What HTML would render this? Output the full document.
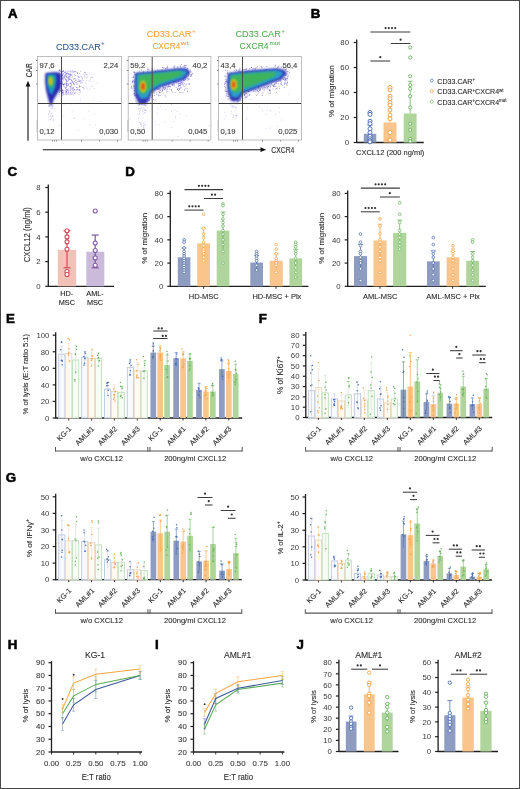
<!DOCTYPE html>
<html><head><meta charset="utf-8"><style>
html,body{margin:0;padding:0;background:#fff;width:520px;height:789px;overflow:hidden}
svg{display:block;font-family:"Liberation Sans", sans-serif;will-change:transform}
</style></head><body>
<svg width="520" height="789" viewBox="0 0 520 789">
<rect width="520" height="789" fill="#fff"/>
<rect x="0.50" y="0.50" width="519.00" height="788.00" fill="none" stroke="#484848" stroke-width="1"/>
<text x="8.0" y="17.6" font-size="13.3" fill="#000" stroke="#000" stroke-width="0.55" font-weight="bold">A</text>
<text x="310.8" y="17.6" font-size="13.3" fill="#000" stroke="#000" stroke-width="0.55" font-weight="bold">B</text>
<text x="7.5" y="176.0" font-size="13.3" fill="#000" stroke="#000" stroke-width="0.55" font-weight="bold">C</text>
<text x="125.3" y="175.7" font-size="13.3" fill="#000" stroke="#000" stroke-width="0.55" font-weight="bold">D</text>
<text x="5.9" y="322.6" font-size="13.3" fill="#000" stroke="#000" stroke-width="0.55" font-weight="bold">E</text>
<text x="258.8" y="322.6" font-size="13.3" fill="#000" stroke="#000" stroke-width="0.55" font-weight="bold">F</text>
<text x="5.7" y="482.0" font-size="13.3" fill="#000" stroke="#000" stroke-width="0.55" font-weight="bold">G</text>
<text x="7.7" y="648.8" font-size="13.3" fill="#000" stroke="#000" stroke-width="0.55" font-weight="bold">H</text>
<text x="155.0" y="648.8" font-size="13.3" fill="#000" stroke="#000" stroke-width="0.55" font-weight="bold">I</text>
<text x="296.6" y="648.5" font-size="13.3" fill="#000" stroke="#000" stroke-width="0.55" font-weight="bold">J</text>
<rect x="37.50" y="56.50" width="83.90" height="83.50" fill="#fff" stroke="none" stroke-width="0.8"/>
<rect x="128.20" y="56.50" width="82.70" height="83.50" fill="#fff" stroke="none" stroke-width="0.8"/>
<rect x="218.50" y="56.50" width="82.90" height="83.50" fill="#fff" stroke="none" stroke-width="0.8"/>

<defs>
<filter id="blur1" x="-50%" y="-50%" width="200%" height="200%"><feGaussianBlur stdDeviation="1.6"/></filter>
<filter id="blur2" x="-50%" y="-50%" width="200%" height="200%"><feGaussianBlur stdDeviation="0.9"/></filter>
<filter id="blur3" x="-50%" y="-50%" width="200%" height="200%"><feGaussianBlur stdDeviation="3"/></filter>
</defs>
<clipPath id="clipA0"><rect x="37.5" y="56.5" width="83.9" height="83.5"/></clipPath>
<clipPath id="clipA1"><rect x="128.2" y="56.5" width="82.7" height="83.5"/></clipPath>
<clipPath id="clipA2"><rect x="218.5" y="56.5" width="82.9" height="83.5"/></clipPath>
<g clip-path="url(#clipA0)">
<circle cx="68.3" cy="84.2" r="0.5" fill="#6050c8" opacity="0.55"/>
<circle cx="59.5" cy="92.4" r="0.5" fill="#3a2ab0" opacity="0.55"/>
<circle cx="64.9" cy="86.8" r="0.5" fill="#3a2ab0" opacity="0.55"/>
<circle cx="79.4" cy="89.8" r="0.5" fill="#6050c8" opacity="0.55"/>
<circle cx="61.5" cy="90.2" r="0.5" fill="#3a2ab0" opacity="0.55"/>
<circle cx="77.4" cy="89.1" r="0.5" fill="#6050c8" opacity="0.55"/>
<circle cx="90.2" cy="81.4" r="0.5" fill="#9890dc" opacity="0.55"/>
<circle cx="74.0" cy="78.8" r="0.5" fill="#6050c8" opacity="0.55"/>
<circle cx="85.2" cy="73.6" r="0.5" fill="#9890dc" opacity="0.55"/>
<circle cx="86.8" cy="74.9" r="0.5" fill="#9890dc" opacity="0.55"/>
<circle cx="70.5" cy="90.5" r="0.5" fill="#6050c8" opacity="0.55"/>
<circle cx="87.0" cy="78.3" r="0.5" fill="#9890dc" opacity="0.55"/>
<circle cx="97.2" cy="83.2" r="0.5" fill="#9890dc" opacity="0.55"/>
<circle cx="71.1" cy="71.2" r="0.5" fill="#6050c8" opacity="0.55"/>
<circle cx="60.2" cy="74.5" r="0.5" fill="#3a2ab0" opacity="0.55"/>
<circle cx="92.8" cy="77.8" r="0.5" fill="#9890dc" opacity="0.55"/>
<circle cx="79.3" cy="87.0" r="0.5" fill="#6050c8" opacity="0.55"/>
<circle cx="80.8" cy="86.4" r="0.5" fill="#9890dc" opacity="0.55"/>
<circle cx="78.8" cy="81.1" r="0.5" fill="#6050c8" opacity="0.55"/>
<circle cx="68.3" cy="77.4" r="0.5" fill="#6050c8" opacity="0.55"/>
<circle cx="72.8" cy="88.8" r="0.5" fill="#6050c8" opacity="0.55"/>
<circle cx="59.9" cy="70.7" r="0.5" fill="#3a2ab0" opacity="0.55"/>
<circle cx="71.2" cy="79.3" r="0.5" fill="#6050c8" opacity="0.55"/>
<circle cx="70.7" cy="79.6" r="0.5" fill="#6050c8" opacity="0.55"/>
<circle cx="60.0" cy="84.9" r="0.5" fill="#3a2ab0" opacity="0.55"/>
<circle cx="71.1" cy="75.2" r="0.5" fill="#6050c8" opacity="0.55"/>
<circle cx="68.3" cy="74.2" r="0.5" fill="#6050c8" opacity="0.55"/>
<circle cx="72.0" cy="92.3" r="0.5" fill="#6050c8" opacity="0.55"/>
<circle cx="67.8" cy="72.4" r="0.5" fill="#6050c8" opacity="0.55"/>
<circle cx="66.4" cy="91.6" r="0.5" fill="#3a2ab0" opacity="0.55"/>
<circle cx="66.2" cy="76.8" r="0.5" fill="#3a2ab0" opacity="0.55"/>
<circle cx="64.1" cy="77.2" r="0.5" fill="#3a2ab0" opacity="0.55"/>
<circle cx="69.6" cy="78.7" r="0.5" fill="#6050c8" opacity="0.55"/>
<circle cx="75.4" cy="80.5" r="0.5" fill="#6050c8" opacity="0.55"/>
<circle cx="67.9" cy="70.9" r="0.5" fill="#6050c8" opacity="0.55"/>
<circle cx="94.2" cy="88.4" r="0.5" fill="#9890dc" opacity="0.55"/>
<circle cx="59.5" cy="89.9" r="0.5" fill="#3a2ab0" opacity="0.55"/>
<circle cx="70.7" cy="87.6" r="0.5" fill="#6050c8" opacity="0.55"/>
<circle cx="72.3" cy="76.1" r="0.5" fill="#6050c8" opacity="0.55"/>
<circle cx="66.7" cy="84.0" r="0.5" fill="#3a2ab0" opacity="0.55"/>
<circle cx="65.7" cy="91.2" r="0.5" fill="#3a2ab0" opacity="0.55"/>
<circle cx="69.6" cy="76.5" r="0.5" fill="#6050c8" opacity="0.55"/>
<circle cx="75.5" cy="82.2" r="0.5" fill="#6050c8" opacity="0.55"/>
<circle cx="59.1" cy="70.5" r="0.5" fill="#3a2ab0" opacity="0.55"/>
<circle cx="63.9" cy="70.9" r="0.5" fill="#3a2ab0" opacity="0.55"/>
<circle cx="62.1" cy="74.0" r="0.5" fill="#3a2ab0" opacity="0.55"/>
<circle cx="73.5" cy="82.9" r="0.5" fill="#6050c8" opacity="0.55"/>
<circle cx="68.6" cy="84.0" r="0.5" fill="#6050c8" opacity="0.55"/>
<circle cx="61.8" cy="80.9" r="0.5" fill="#3a2ab0" opacity="0.55"/>
<circle cx="77.1" cy="72.4" r="0.5" fill="#6050c8" opacity="0.55"/>
<circle cx="62.6" cy="71.8" r="0.5" fill="#3a2ab0" opacity="0.55"/>
<circle cx="63.7" cy="92.6" r="0.5" fill="#3a2ab0" opacity="0.55"/>
<circle cx="71.6" cy="84.8" r="0.5" fill="#6050c8" opacity="0.55"/>
<circle cx="75.3" cy="71.3" r="0.5" fill="#6050c8" opacity="0.55"/>
<circle cx="65.3" cy="88.3" r="0.5" fill="#3a2ab0" opacity="0.55"/>
<circle cx="62.7" cy="89.9" r="0.5" fill="#3a2ab0" opacity="0.55"/>
<circle cx="79.2" cy="81.4" r="0.5" fill="#6050c8" opacity="0.55"/>
<circle cx="86.5" cy="80.6" r="0.5" fill="#9890dc" opacity="0.55"/>
<circle cx="59.9" cy="82.4" r="0.5" fill="#3a2ab0" opacity="0.55"/>
<circle cx="65.7" cy="79.1" r="0.5" fill="#3a2ab0" opacity="0.55"/>
<circle cx="89.2" cy="73.0" r="0.5" fill="#9890dc" opacity="0.55"/>
<circle cx="77.8" cy="89.2" r="0.5" fill="#6050c8" opacity="0.55"/>
<circle cx="74.6" cy="89.5" r="0.5" fill="#6050c8" opacity="0.55"/>
<circle cx="87.0" cy="87.9" r="0.5" fill="#9890dc" opacity="0.55"/>
<circle cx="69.1" cy="74.2" r="0.5" fill="#6050c8" opacity="0.55"/>
<circle cx="72.1" cy="81.2" r="0.5" fill="#6050c8" opacity="0.55"/>
<circle cx="67.2" cy="85.4" r="0.5" fill="#6050c8" opacity="0.55"/>
<circle cx="72.7" cy="89.1" r="0.5" fill="#6050c8" opacity="0.55"/>
<circle cx="81.1" cy="74.1" r="0.5" fill="#9890dc" opacity="0.55"/>
<circle cx="83.6" cy="74.0" r="0.5" fill="#9890dc" opacity="0.55"/>
<circle cx="84.6" cy="72.4" r="0.5" fill="#9890dc" opacity="0.55"/>
<circle cx="64.5" cy="78.3" r="0.5" fill="#3a2ab0" opacity="0.55"/>
<circle cx="61.7" cy="89.0" r="0.5" fill="#3a2ab0" opacity="0.55"/>
<circle cx="69.4" cy="79.7" r="0.5" fill="#6050c8" opacity="0.55"/>
<circle cx="60.6" cy="83.1" r="0.5" fill="#3a2ab0" opacity="0.55"/>
<circle cx="74.7" cy="84.2" r="0.5" fill="#6050c8" opacity="0.55"/>
<circle cx="66.4" cy="80.7" r="0.5" fill="#3a2ab0" opacity="0.55"/>
<circle cx="73.9" cy="84.5" r="0.5" fill="#6050c8" opacity="0.55"/>
<circle cx="70.7" cy="93.1" r="0.5" fill="#6050c8" opacity="0.55"/>
<circle cx="92.5" cy="85.8" r="0.5" fill="#9890dc" opacity="0.55"/>
<circle cx="66.8" cy="73.5" r="0.5" fill="#6050c8" opacity="0.55"/>
<circle cx="73.5" cy="83.8" r="0.5" fill="#6050c8" opacity="0.55"/>
<circle cx="63.3" cy="73.7" r="0.5" fill="#3a2ab0" opacity="0.55"/>
<circle cx="77.5" cy="73.6" r="0.5" fill="#6050c8" opacity="0.55"/>
<circle cx="87.4" cy="76.7" r="0.5" fill="#9890dc" opacity="0.55"/>
<circle cx="68.7" cy="76.4" r="0.5" fill="#6050c8" opacity="0.55"/>
<circle cx="70.9" cy="86.0" r="0.5" fill="#6050c8" opacity="0.55"/>
<circle cx="62.4" cy="77.2" r="0.5" fill="#3a2ab0" opacity="0.55"/>
<circle cx="63.5" cy="79.9" r="0.5" fill="#3a2ab0" opacity="0.55"/>
<circle cx="87.9" cy="89.6" r="0.5" fill="#9890dc" opacity="0.55"/>
<circle cx="75.2" cy="75.4" r="0.5" fill="#6050c8" opacity="0.55"/>
<circle cx="68.2" cy="92.6" r="0.5" fill="#6050c8" opacity="0.55"/>
<circle cx="63.3" cy="71.3" r="0.5" fill="#3a2ab0" opacity="0.55"/>
<circle cx="80.9" cy="80.7" r="0.5" fill="#9890dc" opacity="0.55"/>
<circle cx="62.3" cy="82.0" r="0.5" fill="#3a2ab0" opacity="0.55"/>
<circle cx="67.0" cy="84.1" r="0.5" fill="#6050c8" opacity="0.55"/>
<circle cx="62.3" cy="75.1" r="0.5" fill="#3a2ab0" opacity="0.55"/>
<circle cx="79.9" cy="80.7" r="0.5" fill="#6050c8" opacity="0.55"/>
<circle cx="89.2" cy="80.4" r="0.5" fill="#9890dc" opacity="0.55"/>
<circle cx="66.2" cy="71.7" r="0.5" fill="#3a2ab0" opacity="0.55"/>
<circle cx="70.5" cy="83.5" r="0.5" fill="#6050c8" opacity="0.55"/>
<circle cx="60.6" cy="89.9" r="0.5" fill="#3a2ab0" opacity="0.55"/>
<circle cx="75.9" cy="78.7" r="0.5" fill="#6050c8" opacity="0.55"/>
<circle cx="65.0" cy="90.4" r="0.5" fill="#3a2ab0" opacity="0.55"/>
<circle cx="77.1" cy="83.7" r="0.5" fill="#6050c8" opacity="0.55"/>
<circle cx="70.6" cy="75.8" r="0.5" fill="#6050c8" opacity="0.55"/>
<circle cx="59.4" cy="72.7" r="0.5" fill="#3a2ab0" opacity="0.55"/>
<circle cx="67.0" cy="90.6" r="0.5" fill="#6050c8" opacity="0.55"/>
<circle cx="68.6" cy="91.5" r="0.5" fill="#6050c8" opacity="0.55"/>
<circle cx="83.5" cy="87.9" r="0.5" fill="#9890dc" opacity="0.55"/>
<circle cx="65.7" cy="74.1" r="0.5" fill="#3a2ab0" opacity="0.55"/>
<circle cx="72.7" cy="81.7" r="0.5" fill="#6050c8" opacity="0.55"/>
<circle cx="71.3" cy="83.6" r="0.5" fill="#6050c8" opacity="0.55"/>
<circle cx="64.1" cy="76.0" r="0.5" fill="#3a2ab0" opacity="0.55"/>
<circle cx="62.1" cy="75.4" r="0.5" fill="#3a2ab0" opacity="0.55"/>
<circle cx="62.1" cy="83.7" r="0.5" fill="#3a2ab0" opacity="0.55"/>
<circle cx="59.2" cy="76.9" r="0.5" fill="#3a2ab0" opacity="0.55"/>
<circle cx="61.7" cy="76.5" r="0.5" fill="#3a2ab0" opacity="0.55"/>
<circle cx="94.3" cy="74.0" r="0.5" fill="#9890dc" opacity="0.55"/>
<circle cx="61.1" cy="90.3" r="0.5" fill="#3a2ab0" opacity="0.55"/>
<circle cx="66.4" cy="92.0" r="0.5" fill="#3a2ab0" opacity="0.55"/>
<circle cx="64.7" cy="72.6" r="0.5" fill="#3a2ab0" opacity="0.55"/>
<circle cx="68.6" cy="78.9" r="0.5" fill="#6050c8" opacity="0.55"/>
<circle cx="59.8" cy="78.7" r="0.5" fill="#3a2ab0" opacity="0.55"/>
<circle cx="84.2" cy="76.9" r="0.5" fill="#9890dc" opacity="0.55"/>
<circle cx="76.7" cy="82.4" r="0.5" fill="#6050c8" opacity="0.55"/>
<circle cx="75.6" cy="92.7" r="0.5" fill="#6050c8" opacity="0.55"/>
<circle cx="61.3" cy="92.9" r="0.5" fill="#3a2ab0" opacity="0.55"/>
<circle cx="70.7" cy="83.1" r="0.5" fill="#6050c8" opacity="0.55"/>
<circle cx="73.5" cy="87.2" r="0.5" fill="#6050c8" opacity="0.55"/>
<circle cx="62.2" cy="78.0" r="0.5" fill="#3a2ab0" opacity="0.55"/>
<circle cx="60.2" cy="84.1" r="0.5" fill="#3a2ab0" opacity="0.55"/>
<circle cx="79.8" cy="89.6" r="0.5" fill="#6050c8" opacity="0.55"/>
<circle cx="85.6" cy="72.4" r="0.5" fill="#9890dc" opacity="0.55"/>
<circle cx="73.8" cy="82.3" r="0.5" fill="#6050c8" opacity="0.55"/>
<circle cx="70.2" cy="74.3" r="0.5" fill="#6050c8" opacity="0.55"/>
<circle cx="66.2" cy="76.7" r="0.5" fill="#3a2ab0" opacity="0.55"/>
<circle cx="79.0" cy="81.1" r="0.5" fill="#6050c8" opacity="0.55"/>
<circle cx="76.2" cy="90.1" r="0.5" fill="#6050c8" opacity="0.55"/>
<circle cx="71.9" cy="80.7" r="0.5" fill="#6050c8" opacity="0.55"/>
<circle cx="62.3" cy="75.5" r="0.5" fill="#3a2ab0" opacity="0.55"/>
<circle cx="66.9" cy="77.4" r="0.5" fill="#6050c8" opacity="0.55"/>
<circle cx="64.2" cy="83.9" r="0.5" fill="#3a2ab0" opacity="0.55"/>
<circle cx="72.8" cy="90.5" r="0.5" fill="#6050c8" opacity="0.55"/>
<circle cx="61.3" cy="81.1" r="0.5" fill="#3a2ab0" opacity="0.55"/>
<circle cx="74.0" cy="92.8" r="0.5" fill="#6050c8" opacity="0.55"/>
<circle cx="61.2" cy="80.2" r="0.5" fill="#3a2ab0" opacity="0.55"/>
<circle cx="65.9" cy="76.0" r="0.5" fill="#3a2ab0" opacity="0.55"/>
<circle cx="67.6" cy="81.4" r="0.5" fill="#6050c8" opacity="0.55"/>
<circle cx="61.2" cy="91.0" r="0.5" fill="#3a2ab0" opacity="0.55"/>
<circle cx="62.6" cy="90.3" r="0.5" fill="#3a2ab0" opacity="0.55"/>
<circle cx="70.8" cy="94.0" r="0.5" fill="#6050c8" opacity="0.55"/>
<circle cx="63.3" cy="84.5" r="0.5" fill="#3a2ab0" opacity="0.55"/>
<circle cx="66.7" cy="80.4" r="0.5" fill="#3a2ab0" opacity="0.55"/>
<circle cx="63.2" cy="70.5" r="0.5" fill="#3a2ab0" opacity="0.55"/>
<circle cx="62.9" cy="84.1" r="0.5" fill="#3a2ab0" opacity="0.55"/>
<circle cx="61.6" cy="76.7" r="0.5" fill="#3a2ab0" opacity="0.55"/>
<circle cx="65.4" cy="87.7" r="0.5" fill="#3a2ab0" opacity="0.55"/>
<circle cx="78.8" cy="79.4" r="0.5" fill="#6050c8" opacity="0.55"/>
<circle cx="60.8" cy="73.8" r="0.5" fill="#3a2ab0" opacity="0.55"/>
<circle cx="67.2" cy="90.2" r="0.5" fill="#6050c8" opacity="0.55"/>
<circle cx="65.3" cy="72.8" r="0.5" fill="#3a2ab0" opacity="0.55"/>
<circle cx="62.2" cy="91.0" r="0.5" fill="#3a2ab0" opacity="0.55"/>
<circle cx="60.3" cy="83.5" r="0.5" fill="#3a2ab0" opacity="0.55"/>
<circle cx="71.3" cy="85.0" r="0.5" fill="#6050c8" opacity="0.55"/>
<circle cx="60.0" cy="78.5" r="0.5" fill="#3a2ab0" opacity="0.55"/>
<circle cx="81.2" cy="76.4" r="0.5" fill="#9890dc" opacity="0.55"/>
<circle cx="82.5" cy="87.5" r="0.5" fill="#9890dc" opacity="0.55"/>
<circle cx="61.5" cy="91.2" r="0.5" fill="#3a2ab0" opacity="0.55"/>
<circle cx="62.9" cy="94.9" r="0.5" fill="#3a2ab0" opacity="0.55"/>
<circle cx="77.7" cy="75.9" r="0.5" fill="#6050c8" opacity="0.55"/>
<circle cx="59.2" cy="88.8" r="0.5" fill="#3a2ab0" opacity="0.55"/>
<circle cx="70.9" cy="72.7" r="0.5" fill="#6050c8" opacity="0.55"/>
<circle cx="85.3" cy="83.3" r="0.5" fill="#9890dc" opacity="0.55"/>
<circle cx="59.2" cy="70.9" r="0.5" fill="#3a2ab0" opacity="0.55"/>
<circle cx="69.0" cy="79.0" r="0.5" fill="#6050c8" opacity="0.55"/>
<circle cx="68.3" cy="85.4" r="0.5" fill="#6050c8" opacity="0.55"/>
<circle cx="66.0" cy="83.0" r="0.5" fill="#3a2ab0" opacity="0.55"/>
<circle cx="66.7" cy="86.0" r="0.5" fill="#3a2ab0" opacity="0.55"/>
<circle cx="84.2" cy="89.0" r="0.5" fill="#9890dc" opacity="0.55"/>
<circle cx="66.6" cy="93.9" r="0.5" fill="#3a2ab0" opacity="0.55"/>
<circle cx="64.7" cy="75.0" r="0.5" fill="#3a2ab0" opacity="0.55"/>
<circle cx="78.8" cy="77.3" r="0.5" fill="#6050c8" opacity="0.55"/>
<circle cx="61.8" cy="76.0" r="0.5" fill="#3a2ab0" opacity="0.55"/>
<circle cx="69.4" cy="77.1" r="0.5" fill="#6050c8" opacity="0.55"/>
<circle cx="84.9" cy="72.0" r="0.5" fill="#9890dc" opacity="0.55"/>
<circle cx="74.5" cy="78.7" r="0.5" fill="#6050c8" opacity="0.55"/>
<circle cx="63.4" cy="77.9" r="0.5" fill="#3a2ab0" opacity="0.55"/>
<circle cx="65.6" cy="92.7" r="0.5" fill="#3a2ab0" opacity="0.55"/>
<circle cx="73.9" cy="83.4" r="0.5" fill="#6050c8" opacity="0.55"/>
<circle cx="59.4" cy="84.3" r="0.5" fill="#3a2ab0" opacity="0.55"/>
<circle cx="86.9" cy="74.2" r="0.5" fill="#9890dc" opacity="0.55"/>
<circle cx="80.1" cy="92.5" r="0.5" fill="#6050c8" opacity="0.55"/>
<circle cx="73.8" cy="72.0" r="0.5" fill="#6050c8" opacity="0.55"/>
<circle cx="76.6" cy="89.8" r="0.5" fill="#6050c8" opacity="0.55"/>
<circle cx="80.4" cy="71.3" r="0.5" fill="#6050c8" opacity="0.55"/>
<circle cx="62.6" cy="71.4" r="0.5" fill="#3a2ab0" opacity="0.55"/>
<circle cx="66.5" cy="84.0" r="0.5" fill="#3a2ab0" opacity="0.55"/>
<circle cx="85.1" cy="72.8" r="0.5" fill="#9890dc" opacity="0.55"/>
<circle cx="68.1" cy="73.6" r="0.5" fill="#6050c8" opacity="0.55"/>
<circle cx="76.1" cy="79.9" r="0.5" fill="#6050c8" opacity="0.55"/>
<circle cx="61.9" cy="95.0" r="0.5" fill="#3a2ab0" opacity="0.55"/>
<circle cx="82.2" cy="80.3" r="0.5" fill="#9890dc" opacity="0.55"/>
<circle cx="77.9" cy="81.4" r="0.5" fill="#6050c8" opacity="0.55"/>
<circle cx="65.9" cy="74.6" r="0.5" fill="#3a2ab0" opacity="0.55"/>
<circle cx="59.1" cy="81.3" r="0.5" fill="#3a2ab0" opacity="0.55"/>
<circle cx="60.7" cy="91.1" r="0.5" fill="#3a2ab0" opacity="0.55"/>
<circle cx="70.4" cy="86.5" r="0.5" fill="#6050c8" opacity="0.55"/>
<circle cx="72.4" cy="70.8" r="0.5" fill="#6050c8" opacity="0.55"/>
<circle cx="59.3" cy="70.1" r="0.5" fill="#3a2ab0" opacity="0.55"/>
<circle cx="62.7" cy="92.8" r="0.5" fill="#3a2ab0" opacity="0.55"/>
<circle cx="68.3" cy="88.9" r="0.5" fill="#6050c8" opacity="0.55"/>
<circle cx="61.4" cy="90.0" r="0.5" fill="#3a2ab0" opacity="0.55"/>
<circle cx="68.7" cy="93.1" r="0.5" fill="#6050c8" opacity="0.55"/>
<circle cx="74.5" cy="93.6" r="0.5" fill="#6050c8" opacity="0.55"/>
<circle cx="69.4" cy="79.3" r="0.5" fill="#6050c8" opacity="0.55"/>
<circle cx="78.8" cy="90.0" r="0.5" fill="#6050c8" opacity="0.55"/>
<circle cx="73.4" cy="79.0" r="0.5" fill="#6050c8" opacity="0.55"/>
<circle cx="81.2" cy="82.3" r="0.5" fill="#9890dc" opacity="0.55"/>
<circle cx="74.3" cy="74.8" r="0.5" fill="#6050c8" opacity="0.55"/>
<circle cx="67.2" cy="90.2" r="0.5" fill="#6050c8" opacity="0.55"/>
<circle cx="80.9" cy="81.2" r="0.5" fill="#9890dc" opacity="0.55"/>
<circle cx="79.2" cy="77.0" r="0.5" fill="#6050c8" opacity="0.55"/>
<circle cx="66.6" cy="89.5" r="0.5" fill="#3a2ab0" opacity="0.55"/>
<circle cx="84.5" cy="75.0" r="0.5" fill="#9890dc" opacity="0.55"/>
<circle cx="76.5" cy="87.2" r="0.5" fill="#6050c8" opacity="0.55"/>
<circle cx="79.4" cy="73.5" r="0.5" fill="#6050c8" opacity="0.55"/>
<circle cx="90.8" cy="79.0" r="0.5" fill="#9890dc" opacity="0.55"/>
<circle cx="74.6" cy="71.2" r="0.5" fill="#6050c8" opacity="0.55"/>
<circle cx="61.8" cy="76.1" r="0.5" fill="#3a2ab0" opacity="0.55"/>
<circle cx="63.5" cy="84.2" r="0.5" fill="#3a2ab0" opacity="0.55"/>
<circle cx="82.0" cy="78.7" r="0.5" fill="#9890dc" opacity="0.55"/>
<circle cx="71.6" cy="80.4" r="0.5" fill="#6050c8" opacity="0.55"/>
<circle cx="62.4" cy="78.8" r="0.5" fill="#3a2ab0" opacity="0.55"/>
<circle cx="84.1" cy="76.8" r="0.5" fill="#9890dc" opacity="0.55"/>
<circle cx="61.4" cy="93.3" r="0.5" fill="#3a2ab0" opacity="0.55"/>
<circle cx="63.3" cy="90.9" r="0.5" fill="#3a2ab0" opacity="0.55"/>
<circle cx="68.1" cy="80.7" r="0.5" fill="#6050c8" opacity="0.55"/>
<circle cx="86.3" cy="77.2" r="0.5" fill="#9890dc" opacity="0.55"/>
<circle cx="63.2" cy="93.7" r="0.5" fill="#3a2ab0" opacity="0.55"/>
<circle cx="61.4" cy="95.4" r="0.5" fill="#3a2ab0" opacity="0.55"/>
<circle cx="70.0" cy="88.9" r="0.5" fill="#6050c8" opacity="0.55"/>
<circle cx="79.5" cy="90.1" r="0.5" fill="#6050c8" opacity="0.55"/>
<circle cx="66.6" cy="83.5" r="0.5" fill="#3a2ab0" opacity="0.55"/>
<circle cx="77.1" cy="87.5" r="0.5" fill="#6050c8" opacity="0.55"/>
<circle cx="86.4" cy="86.6" r="0.5" fill="#9890dc" opacity="0.55"/>
<circle cx="59.1" cy="73.8" r="0.5" fill="#3a2ab0" opacity="0.55"/>
<circle cx="73.5" cy="88.8" r="0.5" fill="#6050c8" opacity="0.55"/>
<circle cx="74.5" cy="81.3" r="0.5" fill="#6050c8" opacity="0.55"/>
<circle cx="70.8" cy="88.9" r="0.5" fill="#6050c8" opacity="0.55"/>
<circle cx="65.3" cy="72.0" r="0.5" fill="#3a2ab0" opacity="0.55"/>
<circle cx="59.2" cy="95.9" r="0.5" fill="#3a2ab0" opacity="0.55"/>
<circle cx="63.1" cy="74.0" r="0.5" fill="#3a2ab0" opacity="0.55"/>
<circle cx="65.9" cy="79.4" r="0.5" fill="#3a2ab0" opacity="0.55"/>
<circle cx="72.7" cy="87.3" r="0.5" fill="#6050c8" opacity="0.55"/>
<circle cx="71.1" cy="86.9" r="0.5" fill="#6050c8" opacity="0.55"/>
<circle cx="81.9" cy="82.7" r="0.5" fill="#9890dc" opacity="0.55"/>
<circle cx="67.0" cy="89.0" r="0.5" fill="#6050c8" opacity="0.55"/>
<circle cx="60.4" cy="76.1" r="0.5" fill="#3a2ab0" opacity="0.55"/>
<circle cx="62.2" cy="91.9" r="0.5" fill="#3a2ab0" opacity="0.55"/>
<circle cx="92.1" cy="77.5" r="0.5" fill="#9890dc" opacity="0.55"/>
<circle cx="61.9" cy="72.3" r="0.5" fill="#3a2ab0" opacity="0.55"/>
<circle cx="68.6" cy="78.0" r="0.5" fill="#6050c8" opacity="0.55"/>
<circle cx="80.5" cy="80.6" r="0.5" fill="#9890dc" opacity="0.55"/>
<circle cx="72.3" cy="82.3" r="0.5" fill="#6050c8" opacity="0.55"/>
<circle cx="68.5" cy="73.9" r="0.5" fill="#6050c8" opacity="0.55"/>
<circle cx="71.3" cy="94.0" r="0.5" fill="#6050c8" opacity="0.55"/>
<circle cx="65.9" cy="75.3" r="0.5" fill="#3a2ab0" opacity="0.55"/>
<circle cx="64.1" cy="84.5" r="0.5" fill="#3a2ab0" opacity="0.55"/>
<circle cx="66.5" cy="92.0" r="0.5" fill="#3a2ab0" opacity="0.55"/>
<circle cx="81.0" cy="76.0" r="0.5" fill="#9890dc" opacity="0.55"/>
<circle cx="66.9" cy="73.8" r="0.5" fill="#6050c8" opacity="0.55"/>
<circle cx="62.0" cy="92.8" r="0.5" fill="#3a2ab0" opacity="0.55"/>
<circle cx="59.4" cy="91.1" r="0.5" fill="#3a2ab0" opacity="0.55"/>
<circle cx="60.9" cy="81.7" r="0.5" fill="#3a2ab0" opacity="0.55"/>
<circle cx="72.0" cy="77.5" r="0.5" fill="#6050c8" opacity="0.55"/>
<circle cx="91.5" cy="76.7" r="0.5" fill="#9890dc" opacity="0.55"/>
<circle cx="67.4" cy="77.7" r="0.5" fill="#6050c8" opacity="0.55"/>
<circle cx="59.7" cy="81.3" r="0.5" fill="#3a2ab0" opacity="0.55"/>
<circle cx="70.0" cy="77.0" r="0.5" fill="#6050c8" opacity="0.55"/>
<circle cx="62.4" cy="83.8" r="0.5" fill="#3a2ab0" opacity="0.55"/>
<circle cx="69.7" cy="86.5" r="0.5" fill="#6050c8" opacity="0.55"/>
<circle cx="61.2" cy="75.7" r="0.5" fill="#3a2ab0" opacity="0.55"/>
<circle cx="78.7" cy="76.7" r="0.5" fill="#6050c8" opacity="0.55"/>
<circle cx="69.0" cy="94.3" r="0.5" fill="#6050c8" opacity="0.55"/>
<circle cx="67.4" cy="93.7" r="0.5" fill="#6050c8" opacity="0.55"/>
<circle cx="67.3" cy="75.8" r="0.5" fill="#6050c8" opacity="0.55"/>
<circle cx="60.0" cy="81.2" r="0.5" fill="#3a2ab0" opacity="0.55"/>
<circle cx="73.6" cy="71.7" r="0.5" fill="#6050c8" opacity="0.55"/>
<circle cx="68.9" cy="90.3" r="0.5" fill="#6050c8" opacity="0.55"/>
<circle cx="70.4" cy="92.1" r="0.5" fill="#6050c8" opacity="0.55"/>
<circle cx="66.9" cy="79.4" r="0.5" fill="#6050c8" opacity="0.55"/>
<circle cx="59.9" cy="82.7" r="0.5" fill="#3a2ab0" opacity="0.55"/>
<circle cx="70.1" cy="83.6" r="0.5" fill="#6050c8" opacity="0.55"/>
<circle cx="82.0" cy="77.6" r="0.5" fill="#9890dc" opacity="0.55"/>
<circle cx="72.5" cy="72.1" r="0.5" fill="#6050c8" opacity="0.55"/>
<circle cx="70.9" cy="74.8" r="0.5" fill="#6050c8" opacity="0.55"/>
<circle cx="82.0" cy="78.9" r="0.5" fill="#9890dc" opacity="0.55"/>
<circle cx="86.1" cy="74.5" r="0.5" fill="#9890dc" opacity="0.55"/>
<circle cx="64.0" cy="94.3" r="0.5" fill="#3a2ab0" opacity="0.55"/>
<circle cx="69.8" cy="74.3" r="0.5" fill="#6050c8" opacity="0.55"/>
<circle cx="62.4" cy="92.7" r="0.5" fill="#3a2ab0" opacity="0.55"/>
<circle cx="79.7" cy="85.4" r="0.5" fill="#6050c8" opacity="0.55"/>
<circle cx="82.5" cy="78.0" r="0.5" fill="#9890dc" opacity="0.55"/>
<circle cx="60.8" cy="71.5" r="0.5" fill="#3a2ab0" opacity="0.55"/>
<circle cx="62.7" cy="79.0" r="0.5" fill="#3a2ab0" opacity="0.55"/>
<circle cx="69.0" cy="71.2" r="0.5" fill="#6050c8" opacity="0.55"/>
<circle cx="83.6" cy="87.4" r="0.5" fill="#9890dc" opacity="0.55"/>
<circle cx="59.1" cy="94.3" r="0.5" fill="#3a2ab0" opacity="0.55"/>
<circle cx="83.5" cy="80.3" r="0.5" fill="#9890dc" opacity="0.55"/>
<circle cx="90.3" cy="77.5" r="0.5" fill="#9890dc" opacity="0.55"/>
<circle cx="62.4" cy="90.2" r="0.5" fill="#3a2ab0" opacity="0.55"/>
<circle cx="63.5" cy="85.8" r="0.5" fill="#3a2ab0" opacity="0.55"/>
<circle cx="67.0" cy="86.1" r="0.5" fill="#6050c8" opacity="0.55"/>
<circle cx="74.6" cy="89.9" r="0.5" fill="#6050c8" opacity="0.55"/>
<circle cx="71.4" cy="74.8" r="0.5" fill="#6050c8" opacity="0.55"/>
<circle cx="66.4" cy="85.4" r="0.5" fill="#3a2ab0" opacity="0.55"/>
<circle cx="72.6" cy="92.9" r="0.5" fill="#6050c8" opacity="0.55"/>
<circle cx="80.3" cy="82.9" r="0.5" fill="#6050c8" opacity="0.55"/>
<circle cx="70.5" cy="71.0" r="0.5" fill="#6050c8" opacity="0.55"/>
<circle cx="69.6" cy="75.0" r="0.5" fill="#6050c8" opacity="0.55"/>
<circle cx="80.2" cy="90.9" r="0.5" fill="#6050c8" opacity="0.55"/>
<circle cx="66.3" cy="87.2" r="0.5" fill="#3a2ab0" opacity="0.55"/>
<circle cx="64.9" cy="83.7" r="0.5" fill="#3a2ab0" opacity="0.55"/>
<circle cx="61.8" cy="74.1" r="0.5" fill="#3a2ab0" opacity="0.55"/>
<circle cx="71.7" cy="88.8" r="0.5" fill="#6050c8" opacity="0.55"/>
<circle cx="90.1" cy="88.7" r="0.5" fill="#9890dc" opacity="0.55"/>
<circle cx="90.9" cy="86.2" r="0.5" fill="#9890dc" opacity="0.55"/>
<circle cx="66.8" cy="73.4" r="0.5" fill="#3a2ab0" opacity="0.55"/>
<circle cx="77.5" cy="73.1" r="0.5" fill="#6050c8" opacity="0.55"/>
<circle cx="79.1" cy="86.9" r="0.5" fill="#6050c8" opacity="0.55"/>
<circle cx="64.0" cy="76.5" r="0.5" fill="#3a2ab0" opacity="0.55"/>
<circle cx="66.0" cy="94.0" r="0.5" fill="#3a2ab0" opacity="0.55"/>
<circle cx="79.7" cy="86.6" r="0.5" fill="#6050c8" opacity="0.55"/>
<circle cx="70.1" cy="73.9" r="0.5" fill="#6050c8" opacity="0.55"/>
<circle cx="82.3" cy="82.6" r="0.5" fill="#9890dc" opacity="0.55"/>
<circle cx="66.9" cy="83.2" r="0.5" fill="#6050c8" opacity="0.55"/>
<circle cx="66.7" cy="81.7" r="0.5" fill="#3a2ab0" opacity="0.55"/>
<circle cx="73.6" cy="90.7" r="0.5" fill="#6050c8" opacity="0.55"/>
<circle cx="75.9" cy="71.8" r="0.5" fill="#6050c8" opacity="0.55"/>
<circle cx="60.8" cy="70.1" r="0.5" fill="#3a2ab0" opacity="0.55"/>
<circle cx="76.6" cy="84.2" r="0.5" fill="#6050c8" opacity="0.55"/>
<circle cx="49.4" cy="111.3" r="0.5" fill="#8a7ad8" opacity="0.4"/>
<circle cx="51.4" cy="118.5" r="0.5" fill="#8a7ad8" opacity="0.4"/>
<circle cx="49.8" cy="100.1" r="0.5" fill="#8a7ad8" opacity="0.4"/>
<circle cx="50.2" cy="119.4" r="0.5" fill="#8a7ad8" opacity="0.4"/>
<circle cx="48.4" cy="113.8" r="0.5" fill="#8a7ad8" opacity="0.4"/>
<circle cx="48.1" cy="106.0" r="0.5" fill="#8a7ad8" opacity="0.4"/>
<circle cx="52.0" cy="102.3" r="0.5" fill="#8a7ad8" opacity="0.4"/>
<circle cx="50.6" cy="112.9" r="0.5" fill="#8a7ad8" opacity="0.4"/>
<circle cx="50.1" cy="116.6" r="0.5" fill="#8a7ad8" opacity="0.4"/>
<circle cx="53.8" cy="106.1" r="0.5" fill="#8a7ad8" opacity="0.4"/>
<circle cx="53.1" cy="116.6" r="0.5" fill="#8a7ad8" opacity="0.4"/>
<circle cx="51.8" cy="113.0" r="0.5" fill="#8a7ad8" opacity="0.4"/>
<circle cx="51.5" cy="116.3" r="0.5" fill="#8a7ad8" opacity="0.4"/>
<circle cx="52.5" cy="106.0" r="0.5" fill="#8a7ad8" opacity="0.4"/>
<circle cx="52.2" cy="115.6" r="0.5" fill="#8a7ad8" opacity="0.4"/>
<circle cx="50.7" cy="119.7" r="0.5" fill="#8a7ad8" opacity="0.4"/>
<circle cx="49.5" cy="112.1" r="0.5" fill="#8a7ad8" opacity="0.4"/>
<circle cx="51.5" cy="113.3" r="0.5" fill="#8a7ad8" opacity="0.4"/>
<circle cx="48.5" cy="114.7" r="0.5" fill="#8a7ad8" opacity="0.4"/>
<circle cx="50.6" cy="115.3" r="0.5" fill="#8a7ad8" opacity="0.4"/>
<circle cx="53.9" cy="121.7" r="0.5" fill="#8a7ad8" opacity="0.4"/>
<circle cx="48.8" cy="120.0" r="0.5" fill="#8a7ad8" opacity="0.4"/>
<circle cx="50.8" cy="111.1" r="0.5" fill="#8a7ad8" opacity="0.4"/>
<circle cx="48.8" cy="106.1" r="0.5" fill="#8a7ad8" opacity="0.4"/>
<circle cx="49.4" cy="105.1" r="0.5" fill="#8a7ad8" opacity="0.4"/>
<circle cx="49.3" cy="106.3" r="0.5" fill="#8a7ad8" opacity="0.4"/>
<circle cx="51.3" cy="107.9" r="0.5" fill="#8a7ad8" opacity="0.4"/>
<circle cx="53.1" cy="120.5" r="0.5" fill="#8a7ad8" opacity="0.4"/>
<circle cx="54.5" cy="108.3" r="0.5" fill="#8a7ad8" opacity="0.4"/>
<circle cx="52.5" cy="116.1" r="0.5" fill="#8a7ad8" opacity="0.4"/>
<circle cx="52.8" cy="108.8" r="0.5" fill="#8a7ad8" opacity="0.4"/>
<circle cx="48.5" cy="116.7" r="0.5" fill="#8a7ad8" opacity="0.4"/>
<circle cx="52.3" cy="107.7" r="0.5" fill="#8a7ad8" opacity="0.4"/>
<circle cx="52.3" cy="101.5" r="0.5" fill="#8a7ad8" opacity="0.4"/>
<circle cx="53.3" cy="119.8" r="0.5" fill="#8a7ad8" opacity="0.4"/>
<circle cx="88.7" cy="110.9" r="0.5" fill="#a098d8" opacity="0.5"/>
<circle cx="68.7" cy="92.5" r="0.5" fill="#a098d8" opacity="0.5"/>
<circle cx="95.6" cy="124.8" r="0.5" fill="#a098d8" opacity="0.5"/>
<circle cx="84.7" cy="119.8" r="0.5" fill="#a098d8" opacity="0.5"/>
<circle cx="94.4" cy="113.7" r="0.5" fill="#a098d8" opacity="0.5"/>
<circle cx="94.0" cy="99.1" r="0.5" fill="#a098d8" opacity="0.5"/>
<circle cx="93.9" cy="81.5" r="0.5" fill="#a098d8" opacity="0.5"/>
<circle cx="100.2" cy="130.9" r="0.5" fill="#a098d8" opacity="0.5"/>
<circle cx="100.7" cy="101.4" r="0.5" fill="#a098d8" opacity="0.5"/>
<circle cx="74.4" cy="118.4" r="0.5" fill="#a098d8" opacity="0.5"/>
<circle cx="63.9" cy="116.3" r="0.5" fill="#a098d8" opacity="0.5"/>
<circle cx="78.2" cy="129.9" r="0.5" fill="#a098d8" opacity="0.5"/>
<circle cx="70.8" cy="105.0" r="0.5" fill="#a098d8" opacity="0.5"/>
<circle cx="89.9" cy="124.5" r="0.5" fill="#a098d8" opacity="0.5"/>
<circle cx="73.5" cy="94.8" r="0.5" fill="#a098d8" opacity="0.5"/>
<circle cx="55.7" cy="92.2" r="0.5" fill="#a098d8" opacity="0.5"/>
<circle cx="80.9" cy="99.0" r="0.5" fill="#a098d8" opacity="0.5"/>
<circle cx="79.3" cy="94.3" r="0.5" fill="#a098d8" opacity="0.5"/>
<circle cx="74.1" cy="118.1" r="0.5" fill="#a098d8" opacity="0.5"/>
<circle cx="59.4" cy="125.3" r="0.5" fill="#a098d8" opacity="0.5"/>
<circle cx="80.1" cy="101.8" r="0.5" fill="#a098d8" opacity="0.5"/>
<circle cx="73.1" cy="110.8" r="0.5" fill="#a098d8" opacity="0.5"/>
<circle cx="64.0" cy="104.4" r="0.5" fill="#a098d8" opacity="0.5"/>
<circle cx="84.0" cy="88.3" r="0.5" fill="#a098d8" opacity="0.5"/>
<circle cx="124.1" cy="122.1" r="0.5" fill="#a098d8" opacity="0.5"/>
<path d="M45.5,73 L57,72 L61,74 L61,88 L57,94 L53.5,100 L51,107 L48.5,100 L46,90 L45,80 Z" fill="#2c2ab0" filter="url(#blur2)"/>
<path d="M47,74.5 L55.5,74 L56.5,80 L55,88 L52,95 L49,92 L47,84 Z" fill="#1e92cc" filter="url(#blur2)"/>
<path d="M48.5,76 L54,76 L54.5,82 L52.5,89 L50,88 L48.5,82 Z" fill="#30b078" filter="url(#blur2)"/>
<ellipse cx="50.6" cy="81" rx="2.0" ry="4.5" fill="#b8cc2c" filter="url(#blur2)"/>
<ellipse cx="50.4" cy="81" rx="1.0" ry="2.2" fill="#e8a020" filter="url(#blur2)"/>
</g>
<g clip-path="url(#clipA1)">
<circle cx="155.2" cy="100.1" r="0.5" fill="#5040c0" opacity="0.55"/>
<circle cx="180.5" cy="84.9" r="0.5" fill="#5040c0" opacity="0.55"/>
<circle cx="171.5" cy="90.2" r="0.5" fill="#5040c0" opacity="0.55"/>
<circle cx="167.7" cy="86.5" r="0.5" fill="#5040c0" opacity="0.55"/>
<circle cx="170.6" cy="81.7" r="0.5" fill="#5040c0" opacity="0.55"/>
<circle cx="151.3" cy="85.8" r="0.5" fill="#5040c0" opacity="0.55"/>
<circle cx="179.4" cy="80.8" r="0.5" fill="#5040c0" opacity="0.55"/>
<circle cx="168.5" cy="82.4" r="0.5" fill="#5040c0" opacity="0.55"/>
<circle cx="159.9" cy="92.4" r="0.5" fill="#5040c0" opacity="0.55"/>
<circle cx="178.5" cy="81.8" r="0.5" fill="#5040c0" opacity="0.55"/>
<circle cx="188.1" cy="78.7" r="0.5" fill="#5040c0" opacity="0.55"/>
<circle cx="152.2" cy="96.3" r="0.5" fill="#5040c0" opacity="0.55"/>
<circle cx="149.0" cy="96.0" r="0.5" fill="#5040c0" opacity="0.55"/>
<circle cx="163.7" cy="92.9" r="0.5" fill="#5040c0" opacity="0.55"/>
<circle cx="148.3" cy="94.6" r="0.5" fill="#5040c0" opacity="0.55"/>
<circle cx="184.4" cy="80.7" r="0.5" fill="#5040c0" opacity="0.55"/>
<circle cx="176.6" cy="87.2" r="0.5" fill="#5040c0" opacity="0.55"/>
<circle cx="164.6" cy="87.3" r="0.5" fill="#5040c0" opacity="0.55"/>
<circle cx="159.1" cy="88.8" r="0.5" fill="#5040c0" opacity="0.55"/>
<circle cx="148.8" cy="88.3" r="0.5" fill="#5040c0" opacity="0.55"/>
<circle cx="158.1" cy="94.8" r="0.5" fill="#5040c0" opacity="0.55"/>
<circle cx="178.1" cy="84.0" r="0.5" fill="#5040c0" opacity="0.55"/>
<circle cx="166.6" cy="91.9" r="0.5" fill="#5040c0" opacity="0.55"/>
<circle cx="183.1" cy="80.4" r="0.5" fill="#5040c0" opacity="0.55"/>
<circle cx="163.5" cy="88.4" r="0.5" fill="#5040c0" opacity="0.55"/>
<circle cx="178.5" cy="86.4" r="0.5" fill="#5040c0" opacity="0.55"/>
<circle cx="155.2" cy="86.5" r="0.5" fill="#5040c0" opacity="0.55"/>
<circle cx="182.6" cy="84.3" r="0.5" fill="#5040c0" opacity="0.55"/>
<circle cx="148.3" cy="86.6" r="0.5" fill="#5040c0" opacity="0.55"/>
<circle cx="152.7" cy="85.8" r="0.5" fill="#5040c0" opacity="0.55"/>
<circle cx="180.8" cy="83.0" r="0.5" fill="#5040c0" opacity="0.55"/>
<circle cx="176.4" cy="82.7" r="0.5" fill="#5040c0" opacity="0.55"/>
<circle cx="148.5" cy="86.5" r="0.5" fill="#5040c0" opacity="0.55"/>
<circle cx="158.7" cy="95.7" r="0.5" fill="#5040c0" opacity="0.55"/>
<circle cx="149.2" cy="98.3" r="0.5" fill="#5040c0" opacity="0.55"/>
<circle cx="179.4" cy="85.4" r="0.5" fill="#5040c0" opacity="0.55"/>
<circle cx="167.3" cy="89.0" r="0.5" fill="#5040c0" opacity="0.55"/>
<circle cx="177.1" cy="82.8" r="0.5" fill="#5040c0" opacity="0.55"/>
<circle cx="165.2" cy="85.2" r="0.5" fill="#5040c0" opacity="0.55"/>
<circle cx="162.8" cy="90.0" r="0.5" fill="#5040c0" opacity="0.55"/>
<circle cx="165.6" cy="88.8" r="0.5" fill="#5040c0" opacity="0.55"/>
<circle cx="160.0" cy="85.4" r="0.5" fill="#5040c0" opacity="0.55"/>
<circle cx="185.8" cy="88.8" r="0.5" fill="#5040c0" opacity="0.55"/>
<circle cx="159.6" cy="92.7" r="0.5" fill="#5040c0" opacity="0.55"/>
<circle cx="154.3" cy="89.4" r="0.5" fill="#5040c0" opacity="0.55"/>
<circle cx="165.8" cy="96.7" r="0.5" fill="#5040c0" opacity="0.55"/>
<circle cx="171.6" cy="82.3" r="0.5" fill="#5040c0" opacity="0.55"/>
<circle cx="166.0" cy="86.9" r="0.5" fill="#5040c0" opacity="0.55"/>
<circle cx="189.4" cy="79.1" r="0.5" fill="#5040c0" opacity="0.55"/>
<circle cx="167.9" cy="91.2" r="0.5" fill="#5040c0" opacity="0.55"/>
<circle cx="178.5" cy="84.0" r="0.5" fill="#5040c0" opacity="0.55"/>
<circle cx="153.0" cy="86.2" r="0.5" fill="#5040c0" opacity="0.55"/>
<circle cx="176.5" cy="81.3" r="0.5" fill="#5040c0" opacity="0.55"/>
<circle cx="174.5" cy="85.0" r="0.5" fill="#5040c0" opacity="0.55"/>
<circle cx="164.1" cy="85.6" r="0.5" fill="#5040c0" opacity="0.55"/>
<circle cx="179.4" cy="88.7" r="0.5" fill="#5040c0" opacity="0.55"/>
<circle cx="175.4" cy="81.4" r="0.5" fill="#5040c0" opacity="0.55"/>
<circle cx="189.4" cy="83.6" r="0.5" fill="#5040c0" opacity="0.55"/>
<circle cx="165.2" cy="87.0" r="0.5" fill="#5040c0" opacity="0.55"/>
<circle cx="183.9" cy="80.4" r="0.5" fill="#5040c0" opacity="0.55"/>
<circle cx="172.8" cy="84.5" r="0.5" fill="#5040c0" opacity="0.55"/>
<circle cx="181.3" cy="84.3" r="0.5" fill="#5040c0" opacity="0.55"/>
<circle cx="179.0" cy="88.8" r="0.5" fill="#5040c0" opacity="0.55"/>
<circle cx="162.1" cy="90.2" r="0.5" fill="#5040c0" opacity="0.55"/>
<circle cx="185.8" cy="84.8" r="0.5" fill="#5040c0" opacity="0.55"/>
<circle cx="160.1" cy="87.7" r="0.5" fill="#5040c0" opacity="0.55"/>
<circle cx="183.1" cy="84.7" r="0.5" fill="#5040c0" opacity="0.55"/>
<circle cx="156.1" cy="86.0" r="0.5" fill="#5040c0" opacity="0.55"/>
<circle cx="153.6" cy="86.9" r="0.5" fill="#5040c0" opacity="0.55"/>
<circle cx="172.1" cy="84.5" r="0.5" fill="#5040c0" opacity="0.55"/>
<circle cx="171.9" cy="84.8" r="0.5" fill="#5040c0" opacity="0.55"/>
<circle cx="177.6" cy="88.9" r="0.5" fill="#5040c0" opacity="0.55"/>
<circle cx="164.8" cy="89.7" r="0.5" fill="#5040c0" opacity="0.55"/>
<circle cx="181.2" cy="87.8" r="0.5" fill="#5040c0" opacity="0.55"/>
<circle cx="180.4" cy="83.3" r="0.5" fill="#5040c0" opacity="0.55"/>
<circle cx="179.8" cy="85.3" r="0.5" fill="#5040c0" opacity="0.55"/>
<circle cx="160.9" cy="88.9" r="0.5" fill="#5040c0" opacity="0.55"/>
<circle cx="148.4" cy="93.2" r="0.5" fill="#5040c0" opacity="0.55"/>
<circle cx="167.6" cy="84.3" r="0.5" fill="#5040c0" opacity="0.55"/>
<circle cx="163.6" cy="86.5" r="0.5" fill="#5040c0" opacity="0.55"/>
<circle cx="165.4" cy="84.5" r="0.5" fill="#5040c0" opacity="0.55"/>
<circle cx="159.8" cy="89.0" r="0.5" fill="#5040c0" opacity="0.55"/>
<circle cx="159.5" cy="84.0" r="0.5" fill="#5040c0" opacity="0.55"/>
<circle cx="160.0" cy="85.1" r="0.5" fill="#5040c0" opacity="0.55"/>
<circle cx="150.0" cy="85.7" r="0.5" fill="#5040c0" opacity="0.55"/>
<circle cx="178.6" cy="85.5" r="0.5" fill="#5040c0" opacity="0.55"/>
<circle cx="175.2" cy="82.0" r="0.5" fill="#5040c0" opacity="0.55"/>
<circle cx="172.8" cy="84.9" r="0.5" fill="#5040c0" opacity="0.55"/>
<circle cx="180.5" cy="83.0" r="0.5" fill="#5040c0" opacity="0.55"/>
<circle cx="187.6" cy="91.6" r="0.5" fill="#5040c0" opacity="0.55"/>
<circle cx="186.1" cy="84.0" r="0.5" fill="#5040c0" opacity="0.55"/>
<circle cx="149.6" cy="89.9" r="0.5" fill="#5040c0" opacity="0.55"/>
<circle cx="183.0" cy="92.2" r="0.5" fill="#5040c0" opacity="0.55"/>
<circle cx="158.7" cy="89.0" r="0.5" fill="#5040c0" opacity="0.55"/>
<circle cx="189.2" cy="84.3" r="0.5" fill="#5040c0" opacity="0.55"/>
<circle cx="162.6" cy="89.9" r="0.5" fill="#5040c0" opacity="0.55"/>
<circle cx="187.4" cy="91.1" r="0.5" fill="#5040c0" opacity="0.55"/>
<circle cx="163.4" cy="87.8" r="0.5" fill="#5040c0" opacity="0.55"/>
<circle cx="188.6" cy="79.2" r="0.5" fill="#5040c0" opacity="0.55"/>
<circle cx="163.5" cy="87.6" r="0.5" fill="#5040c0" opacity="0.55"/>
<circle cx="157.8" cy="84.7" r="0.5" fill="#5040c0" opacity="0.55"/>
<circle cx="155.4" cy="88.7" r="0.5" fill="#5040c0" opacity="0.55"/>
<circle cx="148.8" cy="88.8" r="0.5" fill="#5040c0" opacity="0.55"/>
<circle cx="151.3" cy="87.4" r="0.5" fill="#5040c0" opacity="0.55"/>
<circle cx="148.4" cy="90.7" r="0.5" fill="#5040c0" opacity="0.55"/>
<circle cx="156.4" cy="87.8" r="0.5" fill="#5040c0" opacity="0.55"/>
<circle cx="183.9" cy="79.6" r="0.5" fill="#5040c0" opacity="0.55"/>
<circle cx="166.6" cy="85.9" r="0.5" fill="#5040c0" opacity="0.55"/>
<circle cx="177.2" cy="80.1" r="0.5" fill="#5040c0" opacity="0.55"/>
<circle cx="188.9" cy="84.1" r="0.5" fill="#5040c0" opacity="0.55"/>
<circle cx="168.3" cy="84.9" r="0.5" fill="#5040c0" opacity="0.55"/>
<circle cx="187.4" cy="80.2" r="0.5" fill="#5040c0" opacity="0.55"/>
<circle cx="148.6" cy="88.9" r="0.5" fill="#5040c0" opacity="0.55"/>
<circle cx="152.6" cy="85.4" r="0.5" fill="#5040c0" opacity="0.55"/>
<circle cx="151.4" cy="87.1" r="0.5" fill="#5040c0" opacity="0.55"/>
<circle cx="179.7" cy="92.2" r="0.5" fill="#5040c0" opacity="0.55"/>
<circle cx="183.2" cy="85.9" r="0.5" fill="#5040c0" opacity="0.55"/>
<circle cx="172.5" cy="84.9" r="0.5" fill="#5040c0" opacity="0.55"/>
<circle cx="149.1" cy="99.4" r="0.5" fill="#5040c0" opacity="0.55"/>
<circle cx="175.2" cy="92.2" r="0.5" fill="#5040c0" opacity="0.55"/>
<circle cx="181.5" cy="80.1" r="0.5" fill="#5040c0" opacity="0.55"/>
<circle cx="159.8" cy="90.1" r="0.5" fill="#5040c0" opacity="0.55"/>
<circle cx="174.4" cy="83.1" r="0.5" fill="#5040c0" opacity="0.55"/>
<circle cx="184.3" cy="83.3" r="0.5" fill="#5040c0" opacity="0.55"/>
<circle cx="170.2" cy="86.6" r="0.5" fill="#5040c0" opacity="0.55"/>
<circle cx="160.8" cy="95.3" r="0.5" fill="#5040c0" opacity="0.55"/>
<circle cx="178.4" cy="90.5" r="0.5" fill="#5040c0" opacity="0.55"/>
<circle cx="184.4" cy="90.6" r="0.5" fill="#5040c0" opacity="0.55"/>
<circle cx="157.7" cy="84.0" r="0.5" fill="#5040c0" opacity="0.55"/>
<circle cx="177.2" cy="89.4" r="0.5" fill="#5040c0" opacity="0.55"/>
<circle cx="180.8" cy="86.9" r="0.5" fill="#5040c0" opacity="0.55"/>
<circle cx="177.6" cy="89.0" r="0.5" fill="#5040c0" opacity="0.55"/>
<circle cx="187.2" cy="88.4" r="0.5" fill="#5040c0" opacity="0.55"/>
<circle cx="151.6" cy="97.6" r="0.5" fill="#5040c0" opacity="0.55"/>
<circle cx="162.4" cy="85.7" r="0.5" fill="#5040c0" opacity="0.55"/>
<circle cx="182.3" cy="83.3" r="0.5" fill="#5040c0" opacity="0.55"/>
<circle cx="165.2" cy="95.3" r="0.5" fill="#5040c0" opacity="0.55"/>
<circle cx="180.6" cy="88.1" r="0.5" fill="#5040c0" opacity="0.55"/>
<circle cx="154.7" cy="93.0" r="0.5" fill="#5040c0" opacity="0.55"/>
<circle cx="169.9" cy="89.5" r="0.5" fill="#5040c0" opacity="0.55"/>
<circle cx="182.2" cy="82.4" r="0.5" fill="#5040c0" opacity="0.55"/>
<circle cx="178.1" cy="80.9" r="0.5" fill="#5040c0" opacity="0.55"/>
<circle cx="171.3" cy="89.7" r="0.5" fill="#5040c0" opacity="0.55"/>
<circle cx="166.7" cy="90.0" r="0.5" fill="#5040c0" opacity="0.55"/>
<circle cx="149.4" cy="94.8" r="0.5" fill="#5040c0" opacity="0.55"/>
<circle cx="162.6" cy="87.9" r="0.5" fill="#5040c0" opacity="0.55"/>
<circle cx="154.9" cy="88.1" r="0.5" fill="#5040c0" opacity="0.55"/>
<circle cx="181.7" cy="80.8" r="0.5" fill="#5040c0" opacity="0.55"/>
<circle cx="161.8" cy="83.2" r="0.5" fill="#5040c0" opacity="0.55"/>
<circle cx="173.7" cy="84.3" r="0.5" fill="#5040c0" opacity="0.55"/>
<circle cx="148.6" cy="95.3" r="0.5" fill="#5040c0" opacity="0.55"/>
<circle cx="172.3" cy="91.9" r="0.5" fill="#5040c0" opacity="0.55"/>
<circle cx="168.4" cy="86.8" r="0.5" fill="#5040c0" opacity="0.55"/>
<circle cx="183.4" cy="82.6" r="0.5" fill="#5040c0" opacity="0.55"/>
<circle cx="161.4" cy="91.8" r="0.5" fill="#5040c0" opacity="0.55"/>
<circle cx="169.1" cy="82.3" r="0.5" fill="#5040c0" opacity="0.55"/>
<circle cx="156.7" cy="94.0" r="0.5" fill="#5040c0" opacity="0.55"/>
<circle cx="151.9" cy="86.6" r="0.5" fill="#5040c0" opacity="0.55"/>
<circle cx="158.7" cy="84.3" r="0.5" fill="#5040c0" opacity="0.55"/>
<circle cx="179.7" cy="89.3" r="0.5" fill="#5040c0" opacity="0.55"/>
<circle cx="168.6" cy="83.9" r="0.5" fill="#5040c0" opacity="0.55"/>
<circle cx="163.7" cy="83.9" r="0.5" fill="#5040c0" opacity="0.55"/>
<circle cx="173.3" cy="82.7" r="0.5" fill="#5040c0" opacity="0.55"/>
<circle cx="168.5" cy="86.6" r="0.5" fill="#5040c0" opacity="0.55"/>
<circle cx="184.2" cy="89.3" r="0.5" fill="#5040c0" opacity="0.55"/>
<circle cx="157.2" cy="89.2" r="0.5" fill="#5040c0" opacity="0.55"/>
<circle cx="166.5" cy="84.0" r="0.5" fill="#5040c0" opacity="0.55"/>
<circle cx="162.0" cy="89.3" r="0.5" fill="#5040c0" opacity="0.55"/>
<circle cx="149.1" cy="93.5" r="0.5" fill="#5040c0" opacity="0.55"/>
<circle cx="159.0" cy="95.2" r="0.5" fill="#5040c0" opacity="0.55"/>
<circle cx="151.9" cy="92.4" r="0.5" fill="#5040c0" opacity="0.55"/>
<circle cx="180.4" cy="79.7" r="0.5" fill="#5040c0" opacity="0.55"/>
<circle cx="166.1" cy="84.7" r="0.5" fill="#5040c0" opacity="0.55"/>
<circle cx="168.9" cy="85.0" r="0.5" fill="#5040c0" opacity="0.55"/>
<circle cx="184.8" cy="86.7" r="0.5" fill="#5040c0" opacity="0.55"/>
<circle cx="181.0" cy="92.5" r="0.5" fill="#5040c0" opacity="0.55"/>
<circle cx="180.4" cy="85.2" r="0.5" fill="#5040c0" opacity="0.55"/>
<circle cx="178.7" cy="87.9" r="0.5" fill="#5040c0" opacity="0.55"/>
<circle cx="178.7" cy="90.2" r="0.5" fill="#5040c0" opacity="0.55"/>
<circle cx="145.0" cy="110.5" r="0.5" fill="#7a6ad0" opacity="0.45"/>
<circle cx="141.6" cy="125.0" r="0.5" fill="#7a6ad0" opacity="0.45"/>
<circle cx="140.9" cy="124.4" r="0.5" fill="#7a6ad0" opacity="0.45"/>
<circle cx="145.4" cy="106.0" r="0.5" fill="#7a6ad0" opacity="0.45"/>
<circle cx="141.5" cy="126.5" r="0.5" fill="#7a6ad0" opacity="0.45"/>
<circle cx="141.9" cy="104.6" r="0.5" fill="#7a6ad0" opacity="0.45"/>
<circle cx="145.9" cy="105.7" r="0.5" fill="#7a6ad0" opacity="0.45"/>
<circle cx="143.0" cy="110.9" r="0.5" fill="#7a6ad0" opacity="0.45"/>
<circle cx="145.5" cy="110.3" r="0.5" fill="#7a6ad0" opacity="0.45"/>
<circle cx="140.8" cy="123.7" r="0.5" fill="#7a6ad0" opacity="0.45"/>
<circle cx="144.3" cy="128.0" r="0.5" fill="#7a6ad0" opacity="0.45"/>
<circle cx="138.2" cy="103.7" r="0.5" fill="#7a6ad0" opacity="0.45"/>
<circle cx="143.8" cy="113.9" r="0.5" fill="#7a6ad0" opacity="0.45"/>
<circle cx="145.9" cy="113.0" r="0.5" fill="#7a6ad0" opacity="0.45"/>
<circle cx="139.5" cy="122.4" r="0.5" fill="#7a6ad0" opacity="0.45"/>
<circle cx="145.1" cy="124.2" r="0.5" fill="#7a6ad0" opacity="0.45"/>
<circle cx="139.0" cy="127.4" r="0.5" fill="#7a6ad0" opacity="0.45"/>
<circle cx="138.5" cy="118.2" r="0.5" fill="#7a6ad0" opacity="0.45"/>
<circle cx="144.2" cy="105.6" r="0.5" fill="#7a6ad0" opacity="0.45"/>
<circle cx="142.8" cy="103.4" r="0.5" fill="#7a6ad0" opacity="0.45"/>
<circle cx="143.8" cy="125.9" r="0.5" fill="#7a6ad0" opacity="0.45"/>
<circle cx="139.6" cy="113.3" r="0.5" fill="#7a6ad0" opacity="0.45"/>
<circle cx="143.9" cy="108.8" r="0.5" fill="#7a6ad0" opacity="0.45"/>
<circle cx="140.1" cy="110.4" r="0.5" fill="#7a6ad0" opacity="0.45"/>
<circle cx="145.3" cy="110.1" r="0.5" fill="#7a6ad0" opacity="0.45"/>
<circle cx="144.7" cy="104.1" r="0.5" fill="#7a6ad0" opacity="0.45"/>
<circle cx="140.1" cy="108.1" r="0.5" fill="#7a6ad0" opacity="0.45"/>
<circle cx="139.3" cy="104.4" r="0.5" fill="#7a6ad0" opacity="0.45"/>
<circle cx="141.0" cy="122.8" r="0.5" fill="#7a6ad0" opacity="0.45"/>
<circle cx="143.6" cy="127.8" r="0.5" fill="#7a6ad0" opacity="0.45"/>
<circle cx="140.2" cy="108.5" r="0.5" fill="#7a6ad0" opacity="0.45"/>
<circle cx="139.4" cy="113.8" r="0.5" fill="#7a6ad0" opacity="0.45"/>
<circle cx="141.2" cy="101.2" r="0.5" fill="#7a6ad0" opacity="0.45"/>
<circle cx="142.1" cy="112.0" r="0.5" fill="#7a6ad0" opacity="0.45"/>
<circle cx="138.9" cy="108.5" r="0.5" fill="#7a6ad0" opacity="0.45"/>
<circle cx="143.7" cy="128.0" r="0.5" fill="#7a6ad0" opacity="0.45"/>
<circle cx="143.0" cy="107.2" r="0.5" fill="#7a6ad0" opacity="0.45"/>
<circle cx="139.4" cy="111.8" r="0.5" fill="#7a6ad0" opacity="0.45"/>
<circle cx="141.5" cy="107.8" r="0.5" fill="#7a6ad0" opacity="0.45"/>
<circle cx="144.4" cy="112.4" r="0.5" fill="#7a6ad0" opacity="0.45"/>
<circle cx="143.6" cy="123.7" r="0.5" fill="#7a6ad0" opacity="0.45"/>
<circle cx="144.1" cy="122.3" r="0.5" fill="#7a6ad0" opacity="0.45"/>
<circle cx="143.1" cy="109.7" r="0.5" fill="#7a6ad0" opacity="0.45"/>
<circle cx="145.0" cy="125.1" r="0.5" fill="#7a6ad0" opacity="0.45"/>
<circle cx="139.3" cy="104.6" r="0.5" fill="#7a6ad0" opacity="0.45"/>
<circle cx="138.8" cy="105.6" r="0.5" fill="#7a6ad0" opacity="0.45"/>
<circle cx="138.7" cy="108.9" r="0.5" fill="#7a6ad0" opacity="0.45"/>
<circle cx="137.7" cy="100.4" r="0.5" fill="#7a6ad0" opacity="0.45"/>
<circle cx="146.2" cy="110.7" r="0.5" fill="#7a6ad0" opacity="0.45"/>
<circle cx="144.5" cy="108.9" r="0.5" fill="#7a6ad0" opacity="0.45"/>
<circle cx="175.5" cy="118.3" r="0.5" fill="#9a90d8" opacity="0.5"/>
<circle cx="175.6" cy="116.2" r="0.5" fill="#9a90d8" opacity="0.5"/>
<circle cx="155.3" cy="121.2" r="0.5" fill="#9a90d8" opacity="0.5"/>
<circle cx="158.0" cy="108.8" r="0.5" fill="#9a90d8" opacity="0.5"/>
<circle cx="175.0" cy="110.2" r="0.5" fill="#9a90d8" opacity="0.5"/>
<circle cx="115.7" cy="109.9" r="0.5" fill="#9a90d8" opacity="0.5"/>
<circle cx="121.5" cy="112.1" r="0.5" fill="#9a90d8" opacity="0.5"/>
<circle cx="209.3" cy="125.5" r="0.5" fill="#9a90d8" opacity="0.5"/>
<circle cx="117.4" cy="143.9" r="0.5" fill="#9a90d8" opacity="0.5"/>
<circle cx="165.3" cy="109.2" r="0.5" fill="#9a90d8" opacity="0.5"/>
<circle cx="171.4" cy="110.8" r="0.5" fill="#9a90d8" opacity="0.5"/>
<circle cx="137.6" cy="114.6" r="0.5" fill="#9a90d8" opacity="0.5"/>
<circle cx="173.4" cy="121.6" r="0.5" fill="#9a90d8" opacity="0.5"/>
<circle cx="177.0" cy="111.5" r="0.5" fill="#9a90d8" opacity="0.5"/>
<circle cx="171.5" cy="104.5" r="0.5" fill="#9a90d8" opacity="0.5"/>
<circle cx="183.6" cy="140.4" r="0.5" fill="#9a90d8" opacity="0.5"/>
<circle cx="159.2" cy="124.7" r="0.5" fill="#9a90d8" opacity="0.5"/>
<circle cx="218.1" cy="96.5" r="0.5" fill="#9a90d8" opacity="0.5"/>
<circle cx="143.5" cy="146.4" r="0.5" fill="#9a90d8" opacity="0.5"/>
<circle cx="197.5" cy="131.5" r="0.5" fill="#9a90d8" opacity="0.5"/>
<circle cx="157.1" cy="113.4" r="0.5" fill="#9a90d8" opacity="0.5"/>
<circle cx="156.0" cy="124.3" r="0.5" fill="#9a90d8" opacity="0.5"/>
<circle cx="160.4" cy="106.8" r="0.5" fill="#9a90d8" opacity="0.5"/>
<circle cx="143.3" cy="125.8" r="0.5" fill="#9a90d8" opacity="0.5"/>
<circle cx="165.2" cy="122.1" r="0.5" fill="#9a90d8" opacity="0.5"/>
<circle cx="130.0" cy="119.0" r="0.5" fill="#9a90d8" opacity="0.5"/>
<circle cx="171.1" cy="127.5" r="0.5" fill="#9a90d8" opacity="0.5"/>
<circle cx="180.2" cy="114.3" r="0.5" fill="#9a90d8" opacity="0.5"/>
<circle cx="186.5" cy="115.4" r="0.5" fill="#9a90d8" opacity="0.5"/>
<circle cx="178.2" cy="136.6" r="0.5" fill="#9a90d8" opacity="0.5"/>
<circle cx="148.0" cy="69.5" r="0.5" fill="#3828b0" opacity="0.55"/>
<circle cx="177.7" cy="76.6" r="0.5" fill="#3828b0" opacity="0.55"/>
<circle cx="188.8" cy="73.9" r="0.5" fill="#3828b0" opacity="0.55"/>
<circle cx="151.1" cy="90.7" r="0.5" fill="#3828b0" opacity="0.55"/>
<circle cx="150.2" cy="80.3" r="0.5" fill="#3828b0" opacity="0.55"/>
<circle cx="185.5" cy="79.5" r="0.5" fill="#3828b0" opacity="0.55"/>
<circle cx="135.8" cy="100.7" r="0.5" fill="#3828b0" opacity="0.55"/>
<circle cx="134.8" cy="81.6" r="0.5" fill="#3828b0" opacity="0.55"/>
<circle cx="137.4" cy="85.2" r="0.5" fill="#3828b0" opacity="0.55"/>
<circle cx="180.2" cy="65.9" r="0.5" fill="#3828b0" opacity="0.55"/>
<circle cx="162.3" cy="80.0" r="0.5" fill="#3828b0" opacity="0.55"/>
<circle cx="173.4" cy="66.8" r="0.5" fill="#3828b0" opacity="0.55"/>
<circle cx="153.2" cy="82.4" r="0.5" fill="#3828b0" opacity="0.55"/>
<circle cx="141.2" cy="97.6" r="0.5" fill="#3828b0" opacity="0.55"/>
<circle cx="153.7" cy="78.3" r="0.5" fill="#3828b0" opacity="0.55"/>
<circle cx="144.4" cy="85.2" r="0.5" fill="#3828b0" opacity="0.55"/>
<circle cx="181.8" cy="68.8" r="0.5" fill="#3828b0" opacity="0.55"/>
<circle cx="162.5" cy="75.9" r="0.5" fill="#3828b0" opacity="0.55"/>
<circle cx="134.9" cy="79.8" r="0.5" fill="#3828b0" opacity="0.55"/>
<circle cx="151.6" cy="75.4" r="0.5" fill="#3828b0" opacity="0.55"/>
<circle cx="185.5" cy="65.5" r="0.5" fill="#3828b0" opacity="0.55"/>
<circle cx="149.5" cy="83.7" r="0.5" fill="#3828b0" opacity="0.55"/>
<circle cx="152.9" cy="89.1" r="0.5" fill="#3828b0" opacity="0.55"/>
<circle cx="183.2" cy="66.8" r="0.5" fill="#3828b0" opacity="0.55"/>
<circle cx="148.1" cy="83.9" r="0.5" fill="#3828b0" opacity="0.55"/>
<circle cx="141.9" cy="97.9" r="0.5" fill="#3828b0" opacity="0.55"/>
<circle cx="174.4" cy="74.6" r="0.5" fill="#3828b0" opacity="0.55"/>
<circle cx="184.7" cy="67.1" r="0.5" fill="#3828b0" opacity="0.55"/>
<circle cx="146.5" cy="86.6" r="0.5" fill="#3828b0" opacity="0.55"/>
<circle cx="153.0" cy="82.5" r="0.5" fill="#3828b0" opacity="0.55"/>
<circle cx="167.6" cy="66.2" r="0.5" fill="#3828b0" opacity="0.55"/>
<circle cx="134.6" cy="82.8" r="0.5" fill="#3828b0" opacity="0.55"/>
<circle cx="143.3" cy="72.8" r="0.5" fill="#3828b0" opacity="0.55"/>
<circle cx="173.2" cy="81.1" r="0.5" fill="#3828b0" opacity="0.55"/>
<circle cx="167.1" cy="77.9" r="0.5" fill="#3828b0" opacity="0.55"/>
<circle cx="155.8" cy="71.5" r="0.5" fill="#3828b0" opacity="0.55"/>
<circle cx="174.8" cy="65.4" r="0.5" fill="#3828b0" opacity="0.55"/>
<circle cx="164.0" cy="67.9" r="0.5" fill="#3828b0" opacity="0.55"/>
<circle cx="140.0" cy="93.7" r="0.5" fill="#3828b0" opacity="0.55"/>
<circle cx="165.0" cy="87.9" r="0.5" fill="#3828b0" opacity="0.55"/>
<circle cx="178.2" cy="78.9" r="0.5" fill="#3828b0" opacity="0.55"/>
<circle cx="191.8" cy="74.4" r="0.5" fill="#3828b0" opacity="0.55"/>
<circle cx="148.8" cy="72.7" r="0.5" fill="#3828b0" opacity="0.55"/>
<circle cx="185.3" cy="70.6" r="0.5" fill="#3828b0" opacity="0.55"/>
<circle cx="149.2" cy="87.0" r="0.5" fill="#3828b0" opacity="0.55"/>
<circle cx="174.3" cy="82.1" r="0.5" fill="#3828b0" opacity="0.55"/>
<circle cx="147.2" cy="86.3" r="0.5" fill="#3828b0" opacity="0.55"/>
<circle cx="131.5" cy="86.4" r="0.5" fill="#3828b0" opacity="0.55"/>
<circle cx="177.3" cy="77.1" r="0.5" fill="#3828b0" opacity="0.55"/>
<circle cx="154.8" cy="79.6" r="0.5" fill="#3828b0" opacity="0.55"/>
<circle cx="186.5" cy="77.1" r="0.5" fill="#3828b0" opacity="0.55"/>
<circle cx="133.8" cy="85.5" r="0.5" fill="#3828b0" opacity="0.55"/>
<circle cx="167.7" cy="87.8" r="0.5" fill="#3828b0" opacity="0.55"/>
<circle cx="160.5" cy="75.9" r="0.5" fill="#3828b0" opacity="0.55"/>
<circle cx="176.1" cy="74.1" r="0.5" fill="#3828b0" opacity="0.55"/>
<circle cx="147.5" cy="71.4" r="0.5" fill="#3828b0" opacity="0.55"/>
<circle cx="134.7" cy="72.5" r="0.5" fill="#3828b0" opacity="0.55"/>
<circle cx="173.5" cy="79.8" r="0.5" fill="#3828b0" opacity="0.55"/>
<circle cx="159.8" cy="73.4" r="0.5" fill="#3828b0" opacity="0.55"/>
<circle cx="147.2" cy="90.9" r="0.5" fill="#3828b0" opacity="0.55"/>
<circle cx="190.1" cy="69.9" r="0.5" fill="#3828b0" opacity="0.55"/>
<circle cx="142.4" cy="94.7" r="0.5" fill="#3828b0" opacity="0.55"/>
<circle cx="137.9" cy="72.8" r="0.5" fill="#3828b0" opacity="0.55"/>
<circle cx="178.8" cy="78.0" r="0.5" fill="#3828b0" opacity="0.55"/>
<circle cx="153.9" cy="92.7" r="0.5" fill="#3828b0" opacity="0.55"/>
<circle cx="146.9" cy="97.6" r="0.5" fill="#3828b0" opacity="0.55"/>
<circle cx="142.7" cy="102.1" r="0.5" fill="#3828b0" opacity="0.55"/>
<circle cx="191.0" cy="75.9" r="0.5" fill="#3828b0" opacity="0.55"/>
<circle cx="157.1" cy="76.1" r="0.5" fill="#3828b0" opacity="0.55"/>
<circle cx="159.0" cy="85.9" r="0.5" fill="#3828b0" opacity="0.55"/>
<circle cx="185.1" cy="77.1" r="0.5" fill="#3828b0" opacity="0.55"/>
<circle cx="166.0" cy="75.1" r="0.5" fill="#3828b0" opacity="0.55"/>
<circle cx="165.1" cy="88.2" r="0.5" fill="#3828b0" opacity="0.55"/>
<circle cx="163.8" cy="75.1" r="0.5" fill="#3828b0" opacity="0.55"/>
<circle cx="143.2" cy="84.1" r="0.5" fill="#3828b0" opacity="0.55"/>
<circle cx="175.2" cy="74.8" r="0.5" fill="#3828b0" opacity="0.55"/>
<circle cx="166.1" cy="78.9" r="0.5" fill="#3828b0" opacity="0.55"/>
<circle cx="181.1" cy="70.7" r="0.5" fill="#3828b0" opacity="0.55"/>
<circle cx="169.5" cy="70.3" r="0.5" fill="#3828b0" opacity="0.55"/>
<circle cx="171.6" cy="81.8" r="0.5" fill="#3828b0" opacity="0.55"/>
<circle cx="149.6" cy="73.9" r="0.5" fill="#3828b0" opacity="0.55"/>
<circle cx="134.4" cy="94.3" r="0.5" fill="#3828b0" opacity="0.55"/>
<circle cx="168.4" cy="75.9" r="0.5" fill="#3828b0" opacity="0.55"/>
<circle cx="148.5" cy="90.6" r="0.5" fill="#3828b0" opacity="0.55"/>
<circle cx="133.8" cy="87.0" r="0.5" fill="#3828b0" opacity="0.55"/>
<circle cx="152.2" cy="73.2" r="0.5" fill="#3828b0" opacity="0.55"/>
<circle cx="134.5" cy="86.8" r="0.5" fill="#3828b0" opacity="0.55"/>
<circle cx="147.9" cy="77.4" r="0.5" fill="#3828b0" opacity="0.55"/>
<circle cx="148.4" cy="86.7" r="0.5" fill="#3828b0" opacity="0.55"/>
<circle cx="184.4" cy="73.2" r="0.5" fill="#3828b0" opacity="0.55"/>
<circle cx="185.4" cy="67.4" r="0.5" fill="#3828b0" opacity="0.55"/>
<circle cx="159.9" cy="92.8" r="0.5" fill="#3828b0" opacity="0.55"/>
<circle cx="187.7" cy="77.9" r="0.5" fill="#3828b0" opacity="0.55"/>
<circle cx="134.0" cy="93.4" r="0.5" fill="#3828b0" opacity="0.55"/>
<circle cx="183.7" cy="69.9" r="0.5" fill="#3828b0" opacity="0.55"/>
<circle cx="151.2" cy="81.2" r="0.5" fill="#3828b0" opacity="0.55"/>
<circle cx="142.5" cy="79.7" r="0.5" fill="#3828b0" opacity="0.55"/>
<circle cx="144.5" cy="100.5" r="0.5" fill="#3828b0" opacity="0.55"/>
<circle cx="188.0" cy="72.2" r="0.5" fill="#3828b0" opacity="0.55"/>
<circle cx="136.7" cy="75.0" r="0.5" fill="#3828b0" opacity="0.55"/>
<circle cx="138.3" cy="99.5" r="0.5" fill="#3828b0" opacity="0.55"/>
<circle cx="181.3" cy="81.9" r="0.5" fill="#3828b0" opacity="0.55"/>
<circle cx="136.6" cy="97.3" r="0.5" fill="#3828b0" opacity="0.55"/>
<circle cx="139.7" cy="96.8" r="0.5" fill="#3828b0" opacity="0.55"/>
<circle cx="150.3" cy="81.4" r="0.5" fill="#3828b0" opacity="0.55"/>
<circle cx="152.3" cy="95.8" r="0.5" fill="#3828b0" opacity="0.55"/>
<circle cx="176.1" cy="73.3" r="0.5" fill="#3828b0" opacity="0.55"/>
<circle cx="162.0" cy="78.2" r="0.5" fill="#3828b0" opacity="0.55"/>
<circle cx="162.6" cy="67.4" r="0.5" fill="#3828b0" opacity="0.55"/>
<circle cx="185.2" cy="71.4" r="0.5" fill="#3828b0" opacity="0.55"/>
<circle cx="165.6" cy="68.3" r="0.5" fill="#3828b0" opacity="0.55"/>
<circle cx="141.8" cy="72.5" r="0.5" fill="#3828b0" opacity="0.55"/>
<circle cx="141.8" cy="86.7" r="0.5" fill="#3828b0" opacity="0.55"/>
<circle cx="178.3" cy="81.5" r="0.5" fill="#3828b0" opacity="0.55"/>
<circle cx="151.8" cy="76.9" r="0.5" fill="#3828b0" opacity="0.55"/>
<circle cx="148.4" cy="80.9" r="0.5" fill="#3828b0" opacity="0.55"/>
<circle cx="155.0" cy="77.6" r="0.5" fill="#3828b0" opacity="0.55"/>
<circle cx="134.6" cy="93.3" r="0.5" fill="#3828b0" opacity="0.55"/>
<circle cx="132.8" cy="80.8" r="0.5" fill="#3828b0" opacity="0.55"/>
<circle cx="145.2" cy="80.6" r="0.5" fill="#3828b0" opacity="0.55"/>
<circle cx="140.4" cy="98.6" r="0.5" fill="#3828b0" opacity="0.55"/>
<circle cx="155.0" cy="79.1" r="0.5" fill="#3828b0" opacity="0.55"/>
<circle cx="153.2" cy="77.4" r="0.5" fill="#3828b0" opacity="0.55"/>
<circle cx="143.1" cy="75.3" r="0.5" fill="#3828b0" opacity="0.55"/>
<circle cx="160.7" cy="82.1" r="0.5" fill="#3828b0" opacity="0.55"/>
<circle cx="132.6" cy="82.5" r="0.5" fill="#3828b0" opacity="0.55"/>
<circle cx="156.2" cy="87.8" r="0.5" fill="#3828b0" opacity="0.55"/>
<circle cx="165.0" cy="70.2" r="0.5" fill="#3828b0" opacity="0.55"/>
<circle cx="150.1" cy="90.0" r="0.5" fill="#3828b0" opacity="0.55"/>
<circle cx="151.8" cy="85.6" r="0.5" fill="#3828b0" opacity="0.55"/>
<circle cx="155.4" cy="74.2" r="0.5" fill="#3828b0" opacity="0.55"/>
<circle cx="138.8" cy="82.7" r="0.5" fill="#3828b0" opacity="0.55"/>
<circle cx="155.9" cy="86.8" r="0.5" fill="#3828b0" opacity="0.55"/>
<circle cx="140.9" cy="88.7" r="0.5" fill="#3828b0" opacity="0.55"/>
<circle cx="175.4" cy="75.0" r="0.5" fill="#3828b0" opacity="0.55"/>
<circle cx="170.3" cy="77.8" r="0.5" fill="#3828b0" opacity="0.55"/>
<circle cx="173.4" cy="82.5" r="0.5" fill="#3828b0" opacity="0.55"/>
<circle cx="174.5" cy="68.1" r="0.5" fill="#3828b0" opacity="0.55"/>
<circle cx="179.1" cy="83.6" r="0.5" fill="#3828b0" opacity="0.55"/>
<circle cx="152.8" cy="80.2" r="0.5" fill="#3828b0" opacity="0.55"/>
<circle cx="157.3" cy="82.6" r="0.5" fill="#3828b0" opacity="0.55"/>
<circle cx="167.5" cy="82.0" r="0.5" fill="#3828b0" opacity="0.55"/>
<circle cx="175.7" cy="80.2" r="0.5" fill="#3828b0" opacity="0.55"/>
<circle cx="148.9" cy="69.1" r="0.5" fill="#3828b0" opacity="0.55"/>
<circle cx="159.6" cy="71.5" r="0.5" fill="#3828b0" opacity="0.55"/>
<circle cx="143.3" cy="71.2" r="0.5" fill="#3828b0" opacity="0.55"/>
<circle cx="153.5" cy="99.5" r="0.5" fill="#3828b0" opacity="0.55"/>
<circle cx="163.2" cy="75.2" r="0.5" fill="#3828b0" opacity="0.55"/>
<circle cx="160.9" cy="82.1" r="0.5" fill="#3828b0" opacity="0.55"/>
<circle cx="134.3" cy="95.6" r="0.5" fill="#3828b0" opacity="0.55"/>
<circle cx="170.9" cy="73.9" r="0.5" fill="#3828b0" opacity="0.55"/>
<circle cx="141.5" cy="70.1" r="0.5" fill="#3828b0" opacity="0.55"/>
<circle cx="187.7" cy="70.0" r="0.5" fill="#3828b0" opacity="0.55"/>
<circle cx="161.7" cy="70.0" r="0.5" fill="#3828b0" opacity="0.55"/>
<circle cx="154.2" cy="75.4" r="0.5" fill="#3828b0" opacity="0.55"/>
<circle cx="143.0" cy="82.4" r="0.5" fill="#3828b0" opacity="0.55"/>
<circle cx="135.1" cy="89.7" r="0.5" fill="#3828b0" opacity="0.55"/>
<circle cx="156.4" cy="83.8" r="0.5" fill="#3828b0" opacity="0.55"/>
<circle cx="167.6" cy="73.4" r="0.5" fill="#3828b0" opacity="0.55"/>
<circle cx="143.2" cy="72.2" r="0.5" fill="#3828b0" opacity="0.55"/>
<circle cx="141.2" cy="87.3" r="0.5" fill="#3828b0" opacity="0.55"/>
<circle cx="173.9" cy="85.9" r="0.5" fill="#3828b0" opacity="0.55"/>
<circle cx="158.1" cy="81.3" r="0.5" fill="#3828b0" opacity="0.55"/>
<circle cx="159.6" cy="79.0" r="0.5" fill="#3828b0" opacity="0.55"/>
<circle cx="148.9" cy="100.5" r="0.5" fill="#3828b0" opacity="0.55"/>
<circle cx="135.4" cy="87.2" r="0.5" fill="#3828b0" opacity="0.55"/>
<circle cx="142.1" cy="78.5" r="0.5" fill="#3828b0" opacity="0.55"/>
<circle cx="157.2" cy="88.1" r="0.5" fill="#3828b0" opacity="0.55"/>
<circle cx="167.0" cy="68.4" r="0.5" fill="#3828b0" opacity="0.55"/>
<circle cx="157.6" cy="77.1" r="0.5" fill="#3828b0" opacity="0.55"/>
<circle cx="141.3" cy="91.2" r="0.5" fill="#3828b0" opacity="0.55"/>
<circle cx="187.3" cy="73.3" r="0.5" fill="#3828b0" opacity="0.55"/>
<circle cx="138.5" cy="86.1" r="0.5" fill="#3828b0" opacity="0.55"/>
<circle cx="145.0" cy="101.8" r="0.5" fill="#3828b0" opacity="0.55"/>
<circle cx="143.9" cy="102.7" r="0.5" fill="#3828b0" opacity="0.55"/>
<circle cx="147.8" cy="68.9" r="0.5" fill="#3828b0" opacity="0.55"/>
<circle cx="185.5" cy="73.0" r="0.5" fill="#3828b0" opacity="0.55"/>
<circle cx="179.2" cy="78.8" r="0.5" fill="#3828b0" opacity="0.55"/>
<circle cx="139.6" cy="77.1" r="0.5" fill="#3828b0" opacity="0.55"/>
<circle cx="190.7" cy="76.6" r="0.5" fill="#3828b0" opacity="0.55"/>
<circle cx="175.8" cy="78.8" r="0.5" fill="#3828b0" opacity="0.55"/>
<circle cx="152.0" cy="85.6" r="0.5" fill="#3828b0" opacity="0.55"/>
<circle cx="171.6" cy="71.5" r="0.5" fill="#3828b0" opacity="0.55"/>
<circle cx="162.6" cy="70.1" r="0.5" fill="#3828b0" opacity="0.55"/>
<circle cx="148.1" cy="76.8" r="0.5" fill="#3828b0" opacity="0.55"/>
<circle cx="183.4" cy="79.7" r="0.5" fill="#3828b0" opacity="0.55"/>
<circle cx="177.2" cy="73.3" r="0.5" fill="#3828b0" opacity="0.55"/>
<circle cx="134.1" cy="91.1" r="0.5" fill="#3828b0" opacity="0.55"/>
<circle cx="145.9" cy="98.3" r="0.5" fill="#3828b0" opacity="0.55"/>
<circle cx="151.5" cy="77.6" r="0.5" fill="#3828b0" opacity="0.55"/>
<circle cx="184.3" cy="65.6" r="0.5" fill="#3828b0" opacity="0.55"/>
<circle cx="133.5" cy="77.4" r="0.5" fill="#3828b0" opacity="0.55"/>
<circle cx="138.8" cy="74.2" r="0.5" fill="#3828b0" opacity="0.55"/>
<circle cx="162.6" cy="86.1" r="0.5" fill="#3828b0" opacity="0.55"/>
<circle cx="142.9" cy="102.9" r="0.5" fill="#3828b0" opacity="0.55"/>
<circle cx="186.3" cy="70.5" r="0.5" fill="#3828b0" opacity="0.55"/>
<circle cx="132.0" cy="88.4" r="0.5" fill="#3828b0" opacity="0.55"/>
<circle cx="152.4" cy="69.1" r="0.5" fill="#3828b0" opacity="0.55"/>
<circle cx="160.5" cy="71.6" r="0.5" fill="#3828b0" opacity="0.55"/>
<circle cx="135.9" cy="84.0" r="0.5" fill="#3828b0" opacity="0.55"/>
<circle cx="146.0" cy="77.8" r="0.5" fill="#3828b0" opacity="0.55"/>
<circle cx="169.3" cy="86.4" r="0.5" fill="#3828b0" opacity="0.55"/>
<circle cx="150.0" cy="82.2" r="0.5" fill="#3828b0" opacity="0.55"/>
<circle cx="147.7" cy="97.1" r="0.5" fill="#3828b0" opacity="0.55"/>
<circle cx="156.9" cy="92.2" r="0.5" fill="#3828b0" opacity="0.55"/>
<circle cx="149.6" cy="95.0" r="0.5" fill="#3828b0" opacity="0.55"/>
<circle cx="190.9" cy="71.2" r="0.5" fill="#3828b0" opacity="0.55"/>
<circle cx="136.3" cy="102.7" r="0.5" fill="#3828b0" opacity="0.55"/>
<circle cx="137.5" cy="74.1" r="0.5" fill="#3828b0" opacity="0.55"/>
<circle cx="177.1" cy="72.9" r="0.5" fill="#3828b0" opacity="0.55"/>
<circle cx="139.8" cy="95.2" r="0.5" fill="#3828b0" opacity="0.55"/>
<circle cx="186.1" cy="65.4" r="0.5" fill="#3828b0" opacity="0.55"/>
<circle cx="151.8" cy="68.8" r="0.5" fill="#3828b0" opacity="0.55"/>
<circle cx="155.4" cy="71.0" r="0.5" fill="#3828b0" opacity="0.55"/>
<circle cx="140.5" cy="100.2" r="0.5" fill="#3828b0" opacity="0.55"/>
<circle cx="176.7" cy="77.9" r="0.5" fill="#3828b0" opacity="0.55"/>
<circle cx="154.7" cy="78.9" r="0.5" fill="#3828b0" opacity="0.55"/>
<circle cx="148.3" cy="86.6" r="0.5" fill="#3828b0" opacity="0.55"/>
<circle cx="139.4" cy="87.2" r="0.5" fill="#3828b0" opacity="0.55"/>
<circle cx="162.0" cy="71.7" r="0.5" fill="#3828b0" opacity="0.55"/>
<circle cx="191.3" cy="75.6" r="0.5" fill="#3828b0" opacity="0.55"/>
<circle cx="159.9" cy="80.9" r="0.5" fill="#3828b0" opacity="0.55"/>
<circle cx="177.5" cy="66.9" r="0.5" fill="#3828b0" opacity="0.55"/>
<circle cx="159.5" cy="83.1" r="0.5" fill="#3828b0" opacity="0.55"/>
<circle cx="151.5" cy="87.7" r="0.5" fill="#3828b0" opacity="0.55"/>
<circle cx="144.2" cy="102.8" r="0.5" fill="#3828b0" opacity="0.55"/>
<circle cx="152.6" cy="89.5" r="0.5" fill="#3828b0" opacity="0.55"/>
<circle cx="134.4" cy="90.7" r="0.5" fill="#3828b0" opacity="0.55"/>
<circle cx="151.8" cy="81.0" r="0.5" fill="#3828b0" opacity="0.55"/>
<circle cx="174.1" cy="76.4" r="0.5" fill="#3828b0" opacity="0.55"/>
<circle cx="135.1" cy="74.5" r="0.5" fill="#3828b0" opacity="0.55"/>
<circle cx="136.2" cy="95.3" r="0.5" fill="#3828b0" opacity="0.55"/>
<circle cx="191.0" cy="74.8" r="0.5" fill="#3828b0" opacity="0.55"/>
<circle cx="179.5" cy="74.5" r="0.5" fill="#3828b0" opacity="0.55"/>
<circle cx="167.6" cy="67.2" r="0.5" fill="#3828b0" opacity="0.55"/>
<circle cx="133.5" cy="72.1" r="0.5" fill="#3828b0" opacity="0.55"/>
<circle cx="142.3" cy="93.5" r="0.5" fill="#3828b0" opacity="0.55"/>
<circle cx="142.7" cy="83.6" r="0.5" fill="#3828b0" opacity="0.55"/>
<circle cx="174.4" cy="67.0" r="0.5" fill="#3828b0" opacity="0.55"/>
<circle cx="164.2" cy="84.9" r="0.5" fill="#3828b0" opacity="0.55"/>
<circle cx="161.4" cy="83.0" r="0.5" fill="#3828b0" opacity="0.55"/>
<circle cx="135.2" cy="88.2" r="0.5" fill="#3828b0" opacity="0.55"/>
<circle cx="153.0" cy="91.6" r="0.5" fill="#3828b0" opacity="0.55"/>
<circle cx="147.1" cy="99.6" r="0.5" fill="#3828b0" opacity="0.55"/>
<circle cx="163.9" cy="75.4" r="0.5" fill="#3828b0" opacity="0.55"/>
<circle cx="158.4" cy="75.3" r="0.5" fill="#3828b0" opacity="0.55"/>
<circle cx="164.4" cy="78.5" r="0.5" fill="#3828b0" opacity="0.55"/>
<circle cx="147.8" cy="102.9" r="0.5" fill="#3828b0" opacity="0.55"/>
<circle cx="170.8" cy="80.5" r="0.5" fill="#3828b0" opacity="0.55"/>
<circle cx="135.1" cy="80.3" r="0.5" fill="#3828b0" opacity="0.55"/>
<circle cx="136.2" cy="86.2" r="0.5" fill="#3828b0" opacity="0.55"/>
<circle cx="132.7" cy="81.4" r="0.5" fill="#3828b0" opacity="0.55"/>
<circle cx="139.3" cy="77.6" r="0.5" fill="#3828b0" opacity="0.55"/>
<circle cx="192.4" cy="73.5" r="0.5" fill="#3828b0" opacity="0.55"/>
<circle cx="154.5" cy="95.4" r="0.5" fill="#3828b0" opacity="0.55"/>
<circle cx="144.0" cy="73.2" r="0.5" fill="#3828b0" opacity="0.55"/>
<circle cx="157.4" cy="88.1" r="0.5" fill="#3828b0" opacity="0.55"/>
<circle cx="144.0" cy="74.4" r="0.5" fill="#3828b0" opacity="0.55"/>
<circle cx="134.9" cy="74.8" r="0.5" fill="#3828b0" opacity="0.55"/>
<circle cx="155.6" cy="87.4" r="0.5" fill="#3828b0" opacity="0.55"/>
<circle cx="149.6" cy="84.8" r="0.5" fill="#3828b0" opacity="0.55"/>
<circle cx="180.4" cy="75.3" r="0.5" fill="#3828b0" opacity="0.55"/>
<circle cx="142.9" cy="78.4" r="0.5" fill="#3828b0" opacity="0.55"/>
<circle cx="138.9" cy="84.1" r="0.5" fill="#3828b0" opacity="0.55"/>
<circle cx="134.5" cy="72.0" r="0.5" fill="#3828b0" opacity="0.55"/>
<circle cx="158.0" cy="73.4" r="0.5" fill="#3828b0" opacity="0.55"/>
<circle cx="151.0" cy="88.7" r="0.5" fill="#3828b0" opacity="0.55"/>
<circle cx="183.5" cy="71.7" r="0.5" fill="#3828b0" opacity="0.55"/>
<circle cx="164.1" cy="89.5" r="0.5" fill="#3828b0" opacity="0.55"/>
<circle cx="145.6" cy="91.8" r="0.5" fill="#3828b0" opacity="0.55"/>
<circle cx="148.7" cy="77.9" r="0.5" fill="#3828b0" opacity="0.55"/>
<circle cx="144.0" cy="101.1" r="0.5" fill="#3828b0" opacity="0.55"/>
<circle cx="133.5" cy="76.3" r="0.5" fill="#3828b0" opacity="0.55"/>
<circle cx="169.6" cy="84.0" r="0.5" fill="#3828b0" opacity="0.55"/>
<circle cx="145.1" cy="84.0" r="0.5" fill="#3828b0" opacity="0.55"/>
<circle cx="160.7" cy="85.5" r="0.5" fill="#3828b0" opacity="0.55"/>
<circle cx="159.0" cy="70.9" r="0.5" fill="#3828b0" opacity="0.55"/>
<circle cx="175.0" cy="77.2" r="0.5" fill="#3828b0" opacity="0.55"/>
<circle cx="181.8" cy="77.4" r="0.5" fill="#3828b0" opacity="0.55"/>
<circle cx="185.6" cy="74.0" r="0.5" fill="#3828b0" opacity="0.55"/>
<circle cx="149.9" cy="95.5" r="0.5" fill="#3828b0" opacity="0.55"/>
<circle cx="168.2" cy="79.0" r="0.5" fill="#3828b0" opacity="0.55"/>
<circle cx="135.4" cy="95.4" r="0.5" fill="#3828b0" opacity="0.55"/>
<circle cx="139.3" cy="78.5" r="0.5" fill="#3828b0" opacity="0.55"/>
<circle cx="167.2" cy="77.8" r="0.5" fill="#3828b0" opacity="0.55"/>
<circle cx="138.9" cy="78.7" r="0.5" fill="#3828b0" opacity="0.55"/>
<circle cx="158.2" cy="83.5" r="0.5" fill="#3828b0" opacity="0.55"/>
<circle cx="158.8" cy="80.7" r="0.5" fill="#3828b0" opacity="0.55"/>
<circle cx="162.5" cy="90.9" r="0.5" fill="#3828b0" opacity="0.55"/>
<circle cx="146.7" cy="83.0" r="0.5" fill="#3828b0" opacity="0.55"/>
<circle cx="180.8" cy="78.2" r="0.5" fill="#3828b0" opacity="0.55"/>
<circle cx="179.2" cy="83.2" r="0.5" fill="#3828b0" opacity="0.55"/>
<circle cx="166.6" cy="70.7" r="0.5" fill="#3828b0" opacity="0.55"/>
<circle cx="177.4" cy="77.3" r="0.5" fill="#3828b0" opacity="0.55"/>
<circle cx="158.1" cy="84.7" r="0.5" fill="#3828b0" opacity="0.55"/>
<circle cx="149.4" cy="85.4" r="0.5" fill="#3828b0" opacity="0.55"/>
<circle cx="170.4" cy="78.1" r="0.5" fill="#3828b0" opacity="0.55"/>
<circle cx="188.2" cy="76.5" r="0.5" fill="#3828b0" opacity="0.55"/>
<circle cx="144.4" cy="80.8" r="0.5" fill="#3828b0" opacity="0.55"/>
<circle cx="159.0" cy="91.4" r="0.5" fill="#3828b0" opacity="0.55"/>
<circle cx="166.9" cy="67.8" r="0.5" fill="#3828b0" opacity="0.55"/>
<circle cx="188.7" cy="72.7" r="0.5" fill="#3828b0" opacity="0.55"/>
<circle cx="134.3" cy="90.8" r="0.5" fill="#3828b0" opacity="0.55"/>
<circle cx="152.7" cy="69.9" r="0.5" fill="#3828b0" opacity="0.55"/>
<circle cx="162.9" cy="67.6" r="0.5" fill="#3828b0" opacity="0.55"/>
<circle cx="150.1" cy="81.2" r="0.5" fill="#3828b0" opacity="0.55"/>
<circle cx="156.2" cy="76.9" r="0.5" fill="#3828b0" opacity="0.55"/>
<circle cx="161.6" cy="84.0" r="0.5" fill="#3828b0" opacity="0.55"/>
<circle cx="140.5" cy="73.4" r="0.5" fill="#3828b0" opacity="0.55"/>
<circle cx="146.5" cy="98.5" r="0.5" fill="#3828b0" opacity="0.55"/>
<circle cx="154.2" cy="81.8" r="0.5" fill="#3828b0" opacity="0.55"/>
<circle cx="180.2" cy="81.5" r="0.5" fill="#3828b0" opacity="0.55"/>
<circle cx="135.4" cy="81.5" r="0.5" fill="#3828b0" opacity="0.55"/>
<circle cx="150.0" cy="83.6" r="0.5" fill="#3828b0" opacity="0.55"/>
<circle cx="149.5" cy="100.2" r="0.5" fill="#3828b0" opacity="0.55"/>
<circle cx="134.4" cy="88.4" r="0.5" fill="#3828b0" opacity="0.55"/>
<circle cx="159.3" cy="77.0" r="0.5" fill="#3828b0" opacity="0.55"/>
<circle cx="174.0" cy="78.9" r="0.5" fill="#3828b0" opacity="0.55"/>
<circle cx="187.4" cy="68.6" r="0.5" fill="#3828b0" opacity="0.55"/>
<circle cx="147.6" cy="82.7" r="0.5" fill="#3828b0" opacity="0.55"/>
<circle cx="173.6" cy="74.6" r="0.5" fill="#3828b0" opacity="0.55"/>
<circle cx="139.4" cy="91.5" r="0.5" fill="#3828b0" opacity="0.55"/>
<circle cx="170.3" cy="75.4" r="0.5" fill="#3828b0" opacity="0.55"/>
<circle cx="145.5" cy="82.7" r="0.5" fill="#3828b0" opacity="0.55"/>
<circle cx="155.2" cy="88.5" r="0.5" fill="#3828b0" opacity="0.55"/>
<circle cx="139.9" cy="72.2" r="0.5" fill="#3828b0" opacity="0.55"/>
<circle cx="165.8" cy="69.8" r="0.5" fill="#3828b0" opacity="0.55"/>
<circle cx="141.2" cy="85.4" r="0.5" fill="#3828b0" opacity="0.55"/>
<circle cx="171.6" cy="80.8" r="0.5" fill="#3828b0" opacity="0.55"/>
<circle cx="169.2" cy="79.0" r="0.5" fill="#3828b0" opacity="0.55"/>
<circle cx="146.3" cy="80.6" r="0.5" fill="#3828b0" opacity="0.55"/>
<circle cx="184.2" cy="65.7" r="0.5" fill="#3828b0" opacity="0.55"/>
<circle cx="162.7" cy="75.3" r="0.5" fill="#3828b0" opacity="0.55"/>
<circle cx="146.8" cy="77.8" r="0.5" fill="#3828b0" opacity="0.55"/>
<circle cx="162.4" cy="79.1" r="0.5" fill="#3828b0" opacity="0.55"/>
<circle cx="157.5" cy="70.0" r="0.5" fill="#3828b0" opacity="0.55"/>
<circle cx="154.7" cy="91.1" r="0.5" fill="#3828b0" opacity="0.55"/>
<circle cx="132.1" cy="81.7" r="0.5" fill="#3828b0" opacity="0.55"/>
<circle cx="149.5" cy="85.1" r="0.5" fill="#3828b0" opacity="0.55"/>
<circle cx="147.5" cy="87.7" r="0.5" fill="#3828b0" opacity="0.55"/>
<circle cx="174.9" cy="69.8" r="0.5" fill="#3828b0" opacity="0.55"/>
<circle cx="170.4" cy="86.7" r="0.5" fill="#3828b0" opacity="0.55"/>
<circle cx="181.3" cy="82.3" r="0.5" fill="#3828b0" opacity="0.55"/>
<circle cx="180.5" cy="76.4" r="0.5" fill="#3828b0" opacity="0.55"/>
<circle cx="139.5" cy="70.9" r="0.5" fill="#3828b0" opacity="0.55"/>
<circle cx="181.5" cy="64.6" r="0.5" fill="#3828b0" opacity="0.55"/>
<circle cx="178.2" cy="80.8" r="0.5" fill="#3828b0" opacity="0.55"/>
<circle cx="142.7" cy="77.0" r="0.5" fill="#3828b0" opacity="0.55"/>
<circle cx="158.0" cy="71.7" r="0.5" fill="#3828b0" opacity="0.55"/>
<circle cx="140.4" cy="78.1" r="0.5" fill="#3828b0" opacity="0.55"/>
<circle cx="182.5" cy="77.6" r="0.5" fill="#3828b0" opacity="0.55"/>
<circle cx="147.8" cy="97.7" r="0.5" fill="#3828b0" opacity="0.55"/>
<circle cx="147.6" cy="101.0" r="0.5" fill="#3828b0" opacity="0.55"/>
<circle cx="149.7" cy="98.0" r="0.5" fill="#3828b0" opacity="0.55"/>
<circle cx="148.7" cy="97.7" r="0.5" fill="#3828b0" opacity="0.55"/>
<circle cx="140.1" cy="82.2" r="0.5" fill="#3828b0" opacity="0.55"/>
<circle cx="144.2" cy="82.5" r="0.5" fill="#3828b0" opacity="0.55"/>
<circle cx="156.5" cy="76.7" r="0.5" fill="#3828b0" opacity="0.55"/>
<circle cx="181.2" cy="78.4" r="0.5" fill="#3828b0" opacity="0.55"/>
<circle cx="158.7" cy="89.0" r="0.5" fill="#3828b0" opacity="0.55"/>
<circle cx="141.6" cy="82.9" r="0.5" fill="#3828b0" opacity="0.55"/>
<circle cx="143.3" cy="79.9" r="0.5" fill="#3828b0" opacity="0.55"/>
<circle cx="133.6" cy="80.9" r="0.5" fill="#3828b0" opacity="0.55"/>
<circle cx="154.1" cy="79.0" r="0.5" fill="#3828b0" opacity="0.55"/>
<circle cx="160.2" cy="90.6" r="0.5" fill="#3828b0" opacity="0.55"/>
<circle cx="131.3" cy="87.3" r="0.5" fill="#3828b0" opacity="0.55"/>
<circle cx="134.5" cy="93.3" r="0.5" fill="#3828b0" opacity="0.55"/>
<circle cx="188.6" cy="75.6" r="0.5" fill="#3828b0" opacity="0.55"/>
<circle cx="169.5" cy="83.0" r="0.5" fill="#3828b0" opacity="0.55"/>
<circle cx="163.7" cy="80.8" r="0.5" fill="#3828b0" opacity="0.55"/>
<circle cx="132.1" cy="77.3" r="0.5" fill="#3828b0" opacity="0.55"/>
<circle cx="180.7" cy="66.7" r="0.5" fill="#3828b0" opacity="0.55"/>
<circle cx="161.5" cy="79.5" r="0.5" fill="#3828b0" opacity="0.55"/>
<circle cx="150.3" cy="72.6" r="0.5" fill="#3828b0" opacity="0.55"/>
<circle cx="158.0" cy="78.9" r="0.5" fill="#3828b0" opacity="0.55"/>
<circle cx="150.4" cy="102.7" r="0.5" fill="#3828b0" opacity="0.55"/>
<circle cx="145.4" cy="79.5" r="0.5" fill="#3828b0" opacity="0.55"/>
<circle cx="182.8" cy="78.5" r="0.5" fill="#3828b0" opacity="0.55"/>
<circle cx="134.1" cy="86.2" r="0.5" fill="#3828b0" opacity="0.55"/>
<circle cx="152.6" cy="95.2" r="0.5" fill="#3828b0" opacity="0.55"/>
<path d="M135,73 L150,71.5 L180,68 L187,68.5 L190.5,72.5 L185,79.5 L162,86.5 L152,92 L149,100 L146,104 L139,104 L135,96 L134.5,85 Z" fill="#3434b4" filter="url(#blur2)"/>
<path d="M136.5,74.2 L150,73 L180,69.8 L186,70.5 L187.5,72.8 L183,78 L161,85 L151,90.5 L147.5,98 L140.5,99 L136.5,92 Z" fill="#2a9ccc" filter="url(#blur2)"/>
<path d="M138.5,75.5 L150,74.3 L178,71.2 L183,72.2 L180,76 L160,83 L150,88 L146,93 L141,94 L138.5,88 Z" fill="#3cb45c" filter="url(#blur2)"/>
<ellipse cx="143" cy="86.5" rx="3.2" ry="6" fill="#d4d024" filter="url(#blur2)"/>
<ellipse cx="143" cy="86.5" rx="1.8" ry="3.8" fill="#e44418" filter="url(#blur2)"/>
</g>
<g clip-path="url(#clipA2)">
<circle cx="254.6" cy="84.3" r="0.5" fill="#5040c0" opacity="0.55"/>
<circle cx="238.9" cy="90.6" r="0.5" fill="#5040c0" opacity="0.55"/>
<circle cx="274.3" cy="85.0" r="0.5" fill="#5040c0" opacity="0.55"/>
<circle cx="282.5" cy="78.2" r="0.5" fill="#5040c0" opacity="0.55"/>
<circle cx="249.0" cy="91.8" r="0.5" fill="#5040c0" opacity="0.55"/>
<circle cx="258.5" cy="86.4" r="0.5" fill="#5040c0" opacity="0.55"/>
<circle cx="254.2" cy="87.2" r="0.5" fill="#5040c0" opacity="0.55"/>
<circle cx="245.5" cy="93.7" r="0.5" fill="#5040c0" opacity="0.55"/>
<circle cx="238.6" cy="90.0" r="0.5" fill="#5040c0" opacity="0.55"/>
<circle cx="287.7" cy="81.9" r="0.5" fill="#5040c0" opacity="0.55"/>
<circle cx="279.5" cy="88.2" r="0.5" fill="#5040c0" opacity="0.55"/>
<circle cx="286.9" cy="80.3" r="0.5" fill="#5040c0" opacity="0.55"/>
<circle cx="283.2" cy="79.6" r="0.5" fill="#5040c0" opacity="0.55"/>
<circle cx="246.7" cy="87.3" r="0.5" fill="#5040c0" opacity="0.55"/>
<circle cx="251.6" cy="90.2" r="0.5" fill="#5040c0" opacity="0.55"/>
<circle cx="253.9" cy="91.3" r="0.5" fill="#5040c0" opacity="0.55"/>
<circle cx="245.4" cy="98.0" r="0.5" fill="#5040c0" opacity="0.55"/>
<circle cx="279.0" cy="86.6" r="0.5" fill="#5040c0" opacity="0.55"/>
<circle cx="260.5" cy="85.0" r="0.5" fill="#5040c0" opacity="0.55"/>
<circle cx="267.3" cy="83.9" r="0.5" fill="#5040c0" opacity="0.55"/>
<circle cx="269.5" cy="89.8" r="0.5" fill="#5040c0" opacity="0.55"/>
<circle cx="263.3" cy="83.9" r="0.5" fill="#5040c0" opacity="0.55"/>
<circle cx="276.6" cy="88.5" r="0.5" fill="#5040c0" opacity="0.55"/>
<circle cx="263.3" cy="84.2" r="0.5" fill="#5040c0" opacity="0.55"/>
<circle cx="260.5" cy="89.1" r="0.5" fill="#5040c0" opacity="0.55"/>
<circle cx="268.9" cy="93.2" r="0.5" fill="#5040c0" opacity="0.55"/>
<circle cx="270.2" cy="90.1" r="0.5" fill="#5040c0" opacity="0.55"/>
<circle cx="269.7" cy="90.6" r="0.5" fill="#5040c0" opacity="0.55"/>
<circle cx="245.0" cy="96.9" r="0.5" fill="#5040c0" opacity="0.55"/>
<circle cx="262.6" cy="95.5" r="0.5" fill="#5040c0" opacity="0.55"/>
<circle cx="275.8" cy="83.9" r="0.5" fill="#5040c0" opacity="0.55"/>
<circle cx="242.7" cy="89.7" r="0.5" fill="#5040c0" opacity="0.55"/>
<circle cx="266.2" cy="86.5" r="0.5" fill="#5040c0" opacity="0.55"/>
<circle cx="275.9" cy="86.5" r="0.5" fill="#5040c0" opacity="0.55"/>
<circle cx="271.8" cy="80.9" r="0.5" fill="#5040c0" opacity="0.55"/>
<circle cx="260.1" cy="88.4" r="0.5" fill="#5040c0" opacity="0.55"/>
<circle cx="281.5" cy="82.8" r="0.5" fill="#5040c0" opacity="0.55"/>
<circle cx="274.3" cy="81.2" r="0.5" fill="#5040c0" opacity="0.55"/>
<circle cx="281.0" cy="79.9" r="0.5" fill="#5040c0" opacity="0.55"/>
<circle cx="287.5" cy="83.7" r="0.5" fill="#5040c0" opacity="0.55"/>
<circle cx="276.1" cy="82.2" r="0.5" fill="#5040c0" opacity="0.55"/>
<circle cx="249.1" cy="91.6" r="0.5" fill="#5040c0" opacity="0.55"/>
<circle cx="244.3" cy="89.6" r="0.5" fill="#5040c0" opacity="0.55"/>
<circle cx="257.7" cy="94.1" r="0.5" fill="#5040c0" opacity="0.55"/>
<circle cx="269.2" cy="90.8" r="0.5" fill="#5040c0" opacity="0.55"/>
<circle cx="286.9" cy="79.3" r="0.5" fill="#5040c0" opacity="0.55"/>
<circle cx="268.8" cy="85.0" r="0.5" fill="#5040c0" opacity="0.55"/>
<circle cx="239.9" cy="96.3" r="0.5" fill="#5040c0" opacity="0.55"/>
<circle cx="285.9" cy="78.1" r="0.5" fill="#5040c0" opacity="0.55"/>
<circle cx="277.7" cy="87.9" r="0.5" fill="#5040c0" opacity="0.55"/>
<circle cx="280.9" cy="84.7" r="0.5" fill="#5040c0" opacity="0.55"/>
<circle cx="249.7" cy="86.5" r="0.5" fill="#5040c0" opacity="0.55"/>
<circle cx="273.5" cy="85.7" r="0.5" fill="#5040c0" opacity="0.55"/>
<circle cx="258.8" cy="88.5" r="0.5" fill="#5040c0" opacity="0.55"/>
<circle cx="242.3" cy="89.1" r="0.5" fill="#5040c0" opacity="0.55"/>
<circle cx="287.5" cy="82.6" r="0.5" fill="#5040c0" opacity="0.55"/>
<circle cx="270.1" cy="86.2" r="0.5" fill="#5040c0" opacity="0.55"/>
<circle cx="238.0" cy="92.7" r="0.5" fill="#5040c0" opacity="0.55"/>
<circle cx="240.5" cy="99.5" r="0.5" fill="#5040c0" opacity="0.55"/>
<circle cx="246.8" cy="97.5" r="0.5" fill="#5040c0" opacity="0.55"/>
<circle cx="252.2" cy="87.0" r="0.5" fill="#5040c0" opacity="0.55"/>
<circle cx="284.9" cy="83.6" r="0.5" fill="#5040c0" opacity="0.55"/>
<circle cx="270.2" cy="91.9" r="0.5" fill="#5040c0" opacity="0.55"/>
<circle cx="256.6" cy="89.6" r="0.5" fill="#5040c0" opacity="0.55"/>
<circle cx="286.3" cy="84.3" r="0.5" fill="#5040c0" opacity="0.55"/>
<circle cx="259.9" cy="89.4" r="0.5" fill="#5040c0" opacity="0.55"/>
<circle cx="284.9" cy="80.6" r="0.5" fill="#5040c0" opacity="0.55"/>
<circle cx="258.0" cy="87.4" r="0.5" fill="#5040c0" opacity="0.55"/>
<circle cx="250.0" cy="88.1" r="0.5" fill="#5040c0" opacity="0.55"/>
<circle cx="280.5" cy="79.1" r="0.5" fill="#5040c0" opacity="0.55"/>
<circle cx="275.9" cy="79.5" r="0.5" fill="#5040c0" opacity="0.55"/>
<circle cx="248.7" cy="91.3" r="0.5" fill="#5040c0" opacity="0.55"/>
<circle cx="273.3" cy="86.2" r="0.5" fill="#5040c0" opacity="0.55"/>
<circle cx="287.0" cy="85.6" r="0.5" fill="#5040c0" opacity="0.55"/>
<circle cx="264.2" cy="84.7" r="0.5" fill="#5040c0" opacity="0.55"/>
<circle cx="268.2" cy="86.2" r="0.5" fill="#5040c0" opacity="0.55"/>
<circle cx="280.2" cy="78.6" r="0.5" fill="#5040c0" opacity="0.55"/>
<circle cx="260.1" cy="83.8" r="0.5" fill="#5040c0" opacity="0.55"/>
<circle cx="260.3" cy="84.7" r="0.5" fill="#5040c0" opacity="0.55"/>
<circle cx="240.0" cy="89.5" r="0.5" fill="#5040c0" opacity="0.55"/>
<circle cx="272.1" cy="82.0" r="0.5" fill="#5040c0" opacity="0.55"/>
<circle cx="270.6" cy="81.3" r="0.5" fill="#5040c0" opacity="0.55"/>
<circle cx="253.9" cy="84.8" r="0.5" fill="#5040c0" opacity="0.55"/>
<circle cx="285.1" cy="82.3" r="0.5" fill="#5040c0" opacity="0.55"/>
<circle cx="255.5" cy="84.2" r="0.5" fill="#5040c0" opacity="0.55"/>
<circle cx="256.5" cy="95.2" r="0.5" fill="#5040c0" opacity="0.55"/>
<circle cx="241.0" cy="93.9" r="0.5" fill="#5040c0" opacity="0.55"/>
<circle cx="284.2" cy="87.4" r="0.5" fill="#5040c0" opacity="0.55"/>
<circle cx="272.2" cy="84.7" r="0.5" fill="#5040c0" opacity="0.55"/>
<circle cx="263.1" cy="89.0" r="0.5" fill="#5040c0" opacity="0.55"/>
<circle cx="248.5" cy="87.0" r="0.5" fill="#5040c0" opacity="0.55"/>
<circle cx="251.8" cy="86.8" r="0.5" fill="#5040c0" opacity="0.55"/>
<circle cx="287.6" cy="76.8" r="0.5" fill="#5040c0" opacity="0.55"/>
<circle cx="285.8" cy="78.4" r="0.5" fill="#5040c0" opacity="0.55"/>
<circle cx="277.7" cy="79.6" r="0.5" fill="#5040c0" opacity="0.55"/>
<circle cx="258.2" cy="88.7" r="0.5" fill="#5040c0" opacity="0.55"/>
<circle cx="250.7" cy="87.4" r="0.5" fill="#5040c0" opacity="0.55"/>
<circle cx="239.9" cy="95.3" r="0.5" fill="#5040c0" opacity="0.55"/>
<circle cx="264.0" cy="86.7" r="0.5" fill="#5040c0" opacity="0.55"/>
<circle cx="254.9" cy="90.4" r="0.5" fill="#5040c0" opacity="0.55"/>
<circle cx="276.4" cy="92.4" r="0.5" fill="#5040c0" opacity="0.55"/>
<circle cx="248.4" cy="91.2" r="0.5" fill="#5040c0" opacity="0.55"/>
<circle cx="259.9" cy="83.2" r="0.5" fill="#5040c0" opacity="0.55"/>
<circle cx="287.8" cy="77.7" r="0.5" fill="#5040c0" opacity="0.55"/>
<circle cx="265.7" cy="83.6" r="0.5" fill="#5040c0" opacity="0.55"/>
<circle cx="259.8" cy="89.9" r="0.5" fill="#5040c0" opacity="0.55"/>
<circle cx="268.4" cy="86.3" r="0.5" fill="#5040c0" opacity="0.55"/>
<circle cx="275.0" cy="79.9" r="0.5" fill="#5040c0" opacity="0.55"/>
<circle cx="273.0" cy="88.9" r="0.5" fill="#5040c0" opacity="0.55"/>
<circle cx="249.9" cy="94.3" r="0.5" fill="#5040c0" opacity="0.55"/>
<circle cx="280.7" cy="81.7" r="0.5" fill="#5040c0" opacity="0.55"/>
<circle cx="267.2" cy="88.5" r="0.5" fill="#5040c0" opacity="0.55"/>
<circle cx="284.6" cy="78.0" r="0.5" fill="#5040c0" opacity="0.55"/>
<circle cx="242.0" cy="88.8" r="0.5" fill="#5040c0" opacity="0.55"/>
<circle cx="264.1" cy="90.3" r="0.5" fill="#5040c0" opacity="0.55"/>
<circle cx="244.8" cy="95.0" r="0.5" fill="#5040c0" opacity="0.55"/>
<circle cx="265.9" cy="88.1" r="0.5" fill="#5040c0" opacity="0.55"/>
<circle cx="258.8" cy="86.6" r="0.5" fill="#5040c0" opacity="0.55"/>
<circle cx="242.6" cy="87.6" r="0.5" fill="#5040c0" opacity="0.55"/>
<circle cx="266.2" cy="82.2" r="0.5" fill="#5040c0" opacity="0.55"/>
<circle cx="258.2" cy="86.7" r="0.5" fill="#5040c0" opacity="0.55"/>
<circle cx="245.8" cy="97.2" r="0.5" fill="#5040c0" opacity="0.55"/>
<circle cx="240.9" cy="98.7" r="0.5" fill="#5040c0" opacity="0.55"/>
<circle cx="258.7" cy="86.6" r="0.5" fill="#5040c0" opacity="0.55"/>
<circle cx="271.8" cy="81.0" r="0.5" fill="#5040c0" opacity="0.55"/>
<circle cx="268.9" cy="88.9" r="0.5" fill="#5040c0" opacity="0.55"/>
<circle cx="286.1" cy="83.3" r="0.5" fill="#5040c0" opacity="0.55"/>
<circle cx="278.6" cy="81.2" r="0.5" fill="#5040c0" opacity="0.55"/>
<circle cx="270.9" cy="84.6" r="0.5" fill="#5040c0" opacity="0.55"/>
<circle cx="270.1" cy="93.5" r="0.5" fill="#5040c0" opacity="0.55"/>
<circle cx="273.8" cy="86.4" r="0.5" fill="#5040c0" opacity="0.55"/>
<circle cx="284.7" cy="82.9" r="0.5" fill="#5040c0" opacity="0.55"/>
<circle cx="250.2" cy="99.3" r="0.5" fill="#5040c0" opacity="0.55"/>
<circle cx="240.3" cy="90.3" r="0.5" fill="#5040c0" opacity="0.55"/>
<circle cx="260.4" cy="89.7" r="0.5" fill="#5040c0" opacity="0.55"/>
<circle cx="255.1" cy="89.6" r="0.5" fill="#5040c0" opacity="0.55"/>
<circle cx="253.6" cy="86.4" r="0.5" fill="#5040c0" opacity="0.55"/>
<circle cx="275.9" cy="88.9" r="0.5" fill="#5040c0" opacity="0.55"/>
<circle cx="248.9" cy="88.6" r="0.5" fill="#5040c0" opacity="0.55"/>
<circle cx="265.3" cy="87.8" r="0.5" fill="#5040c0" opacity="0.55"/>
<circle cx="238.1" cy="88.5" r="0.5" fill="#5040c0" opacity="0.55"/>
<circle cx="270.1" cy="90.2" r="0.5" fill="#5040c0" opacity="0.55"/>
<circle cx="263.1" cy="92.7" r="0.5" fill="#5040c0" opacity="0.55"/>
<circle cx="261.3" cy="83.3" r="0.5" fill="#5040c0" opacity="0.55"/>
<circle cx="279.9" cy="79.7" r="0.5" fill="#5040c0" opacity="0.55"/>
<circle cx="247.5" cy="86.6" r="0.5" fill="#5040c0" opacity="0.55"/>
<circle cx="284.5" cy="84.5" r="0.5" fill="#5040c0" opacity="0.55"/>
<circle cx="248.0" cy="87.0" r="0.5" fill="#5040c0" opacity="0.55"/>
<circle cx="259.0" cy="92.8" r="0.5" fill="#5040c0" opacity="0.55"/>
<circle cx="262.1" cy="92.1" r="0.5" fill="#5040c0" opacity="0.55"/>
<circle cx="282.7" cy="85.4" r="0.5" fill="#5040c0" opacity="0.55"/>
<circle cx="238.9" cy="101.0" r="0.5" fill="#5040c0" opacity="0.55"/>
<circle cx="265.8" cy="85.2" r="0.5" fill="#5040c0" opacity="0.55"/>
<circle cx="258.7" cy="86.0" r="0.5" fill="#5040c0" opacity="0.55"/>
<circle cx="281.4" cy="78.6" r="0.5" fill="#5040c0" opacity="0.55"/>
<circle cx="287.0" cy="78.4" r="0.5" fill="#5040c0" opacity="0.55"/>
<circle cx="281.7" cy="84.5" r="0.5" fill="#5040c0" opacity="0.55"/>
<circle cx="244.6" cy="91.4" r="0.5" fill="#5040c0" opacity="0.55"/>
<circle cx="274.8" cy="86.2" r="0.5" fill="#5040c0" opacity="0.55"/>
<circle cx="247.4" cy="91.0" r="0.5" fill="#5040c0" opacity="0.55"/>
<circle cx="261.7" cy="87.2" r="0.5" fill="#5040c0" opacity="0.55"/>
<circle cx="253.3" cy="90.9" r="0.5" fill="#5040c0" opacity="0.55"/>
<circle cx="236.7" cy="109.0" r="0.5" fill="#8a7ad8" opacity="0.4"/>
<circle cx="232.0" cy="106.4" r="0.5" fill="#8a7ad8" opacity="0.4"/>
<circle cx="233.2" cy="107.6" r="0.5" fill="#8a7ad8" opacity="0.4"/>
<circle cx="233.6" cy="98.2" r="0.5" fill="#8a7ad8" opacity="0.4"/>
<circle cx="231.8" cy="113.3" r="0.5" fill="#8a7ad8" opacity="0.4"/>
<circle cx="234.4" cy="103.4" r="0.5" fill="#8a7ad8" opacity="0.4"/>
<circle cx="236.9" cy="103.1" r="0.5" fill="#8a7ad8" opacity="0.4"/>
<circle cx="235.0" cy="107.3" r="0.5" fill="#8a7ad8" opacity="0.4"/>
<circle cx="237.1" cy="104.0" r="0.5" fill="#8a7ad8" opacity="0.4"/>
<circle cx="233.3" cy="115.5" r="0.5" fill="#8a7ad8" opacity="0.4"/>
<circle cx="233.8" cy="102.8" r="0.5" fill="#8a7ad8" opacity="0.4"/>
<circle cx="235.5" cy="115.8" r="0.5" fill="#8a7ad8" opacity="0.4"/>
<circle cx="236.9" cy="115.6" r="0.5" fill="#8a7ad8" opacity="0.4"/>
<circle cx="232.7" cy="105.4" r="0.5" fill="#8a7ad8" opacity="0.4"/>
<circle cx="233.2" cy="106.4" r="0.5" fill="#8a7ad8" opacity="0.4"/>
<circle cx="234.3" cy="99.8" r="0.5" fill="#8a7ad8" opacity="0.4"/>
<circle cx="235.0" cy="111.0" r="0.5" fill="#8a7ad8" opacity="0.4"/>
<circle cx="233.1" cy="103.7" r="0.5" fill="#8a7ad8" opacity="0.4"/>
<circle cx="237.2" cy="113.5" r="0.5" fill="#8a7ad8" opacity="0.4"/>
<circle cx="230.7" cy="104.5" r="0.5" fill="#8a7ad8" opacity="0.4"/>
<circle cx="236.5" cy="115.2" r="0.5" fill="#8a7ad8" opacity="0.4"/>
<circle cx="231.5" cy="111.2" r="0.5" fill="#8a7ad8" opacity="0.4"/>
<circle cx="236.7" cy="116.3" r="0.5" fill="#8a7ad8" opacity="0.4"/>
<circle cx="235.2" cy="119.1" r="0.5" fill="#8a7ad8" opacity="0.4"/>
<circle cx="232.1" cy="107.5" r="0.5" fill="#8a7ad8" opacity="0.4"/>
<circle cx="234.1" cy="106.6" r="0.5" fill="#8a7ad8" opacity="0.4"/>
<circle cx="234.4" cy="99.8" r="0.5" fill="#8a7ad8" opacity="0.4"/>
<circle cx="233.3" cy="117.6" r="0.5" fill="#8a7ad8" opacity="0.4"/>
<circle cx="237.8" cy="102.0" r="0.5" fill="#8a7ad8" opacity="0.4"/>
<circle cx="236.1" cy="117.9" r="0.5" fill="#8a7ad8" opacity="0.4"/>
<circle cx="231.8" cy="105.3" r="0.5" fill="#8a7ad8" opacity="0.4"/>
<circle cx="235.0" cy="104.1" r="0.5" fill="#8a7ad8" opacity="0.4"/>
<circle cx="236.1" cy="115.0" r="0.5" fill="#8a7ad8" opacity="0.4"/>
<circle cx="233.4" cy="116.7" r="0.5" fill="#8a7ad8" opacity="0.4"/>
<circle cx="236.1" cy="100.5" r="0.5" fill="#8a7ad8" opacity="0.4"/>
<circle cx="236.3" cy="99.1" r="0.5" fill="#8a7ad8" opacity="0.4"/>
<circle cx="233.3" cy="114.5" r="0.5" fill="#8a7ad8" opacity="0.4"/>
<circle cx="235.9" cy="106.8" r="0.5" fill="#8a7ad8" opacity="0.4"/>
<circle cx="235.1" cy="102.7" r="0.5" fill="#8a7ad8" opacity="0.4"/>
<circle cx="236.1" cy="107.4" r="0.5" fill="#8a7ad8" opacity="0.4"/>
<circle cx="261.3" cy="108.8" r="0.5" fill="#9a90d8" opacity="0.5"/>
<circle cx="266.1" cy="128.8" r="0.5" fill="#9a90d8" opacity="0.5"/>
<circle cx="246.6" cy="117.3" r="0.5" fill="#9a90d8" opacity="0.5"/>
<circle cx="275.4" cy="114.4" r="0.5" fill="#9a90d8" opacity="0.5"/>
<circle cx="262.6" cy="110.9" r="0.5" fill="#9a90d8" opacity="0.5"/>
<circle cx="247.3" cy="107.2" r="0.5" fill="#9a90d8" opacity="0.5"/>
<circle cx="246.9" cy="119.6" r="0.5" fill="#9a90d8" opacity="0.5"/>
<circle cx="310.4" cy="104.7" r="0.5" fill="#9a90d8" opacity="0.5"/>
<circle cx="225.9" cy="116.0" r="0.5" fill="#9a90d8" opacity="0.5"/>
<circle cx="224.8" cy="112.3" r="0.5" fill="#9a90d8" opacity="0.5"/>
<circle cx="279.2" cy="112.0" r="0.5" fill="#9a90d8" opacity="0.5"/>
<circle cx="247.9" cy="109.7" r="0.5" fill="#9a90d8" opacity="0.5"/>
<circle cx="259.4" cy="106.6" r="0.5" fill="#9a90d8" opacity="0.5"/>
<circle cx="288.4" cy="94.5" r="0.5" fill="#9a90d8" opacity="0.5"/>
<circle cx="278.2" cy="126.4" r="0.5" fill="#9a90d8" opacity="0.5"/>
<circle cx="266.2" cy="114.6" r="0.5" fill="#9a90d8" opacity="0.5"/>
<circle cx="281.7" cy="119.9" r="0.5" fill="#9a90d8" opacity="0.5"/>
<circle cx="266.9" cy="110.6" r="0.5" fill="#9a90d8" opacity="0.5"/>
<circle cx="279.4" cy="107.7" r="0.5" fill="#9a90d8" opacity="0.5"/>
<circle cx="270.2" cy="128.1" r="0.5" fill="#9a90d8" opacity="0.5"/>
<circle cx="269.0" cy="103.4" r="0.5" fill="#9a90d8" opacity="0.5"/>
<circle cx="224.1" cy="119.0" r="0.5" fill="#9a90d8" opacity="0.5"/>
<circle cx="270.8" cy="110.9" r="0.5" fill="#9a90d8" opacity="0.5"/>
<circle cx="225.4" cy="97.0" r="0.5" fill="#9a90d8" opacity="0.5"/>
<circle cx="270.3" cy="110.7" r="0.5" fill="#9a90d8" opacity="0.5"/>
<circle cx="285.1" cy="79.2" r="0.5" fill="#3828b0" opacity="0.55"/>
<circle cx="239.1" cy="84.7" r="0.5" fill="#3828b0" opacity="0.55"/>
<circle cx="226.6" cy="91.6" r="0.5" fill="#3828b0" opacity="0.55"/>
<circle cx="263.0" cy="75.5" r="0.5" fill="#3828b0" opacity="0.55"/>
<circle cx="239.6" cy="81.5" r="0.5" fill="#3828b0" opacity="0.55"/>
<circle cx="244.5" cy="95.6" r="0.5" fill="#3828b0" opacity="0.55"/>
<circle cx="236.8" cy="101.1" r="0.5" fill="#3828b0" opacity="0.55"/>
<circle cx="241.7" cy="78.3" r="0.5" fill="#3828b0" opacity="0.55"/>
<circle cx="240.4" cy="92.6" r="0.5" fill="#3828b0" opacity="0.55"/>
<circle cx="240.6" cy="74.5" r="0.5" fill="#3828b0" opacity="0.55"/>
<circle cx="278.4" cy="71.9" r="0.5" fill="#3828b0" opacity="0.55"/>
<circle cx="238.6" cy="94.9" r="0.5" fill="#3828b0" opacity="0.55"/>
<circle cx="281.2" cy="73.9" r="0.5" fill="#3828b0" opacity="0.55"/>
<circle cx="238.2" cy="100.9" r="0.5" fill="#3828b0" opacity="0.55"/>
<circle cx="239.6" cy="89.7" r="0.5" fill="#3828b0" opacity="0.55"/>
<circle cx="286.8" cy="68.0" r="0.5" fill="#3828b0" opacity="0.55"/>
<circle cx="235.1" cy="85.5" r="0.5" fill="#3828b0" opacity="0.55"/>
<circle cx="237.6" cy="101.7" r="0.5" fill="#3828b0" opacity="0.55"/>
<circle cx="270.8" cy="75.0" r="0.5" fill="#3828b0" opacity="0.55"/>
<circle cx="239.8" cy="84.5" r="0.5" fill="#3828b0" opacity="0.55"/>
<circle cx="241.6" cy="76.5" r="0.5" fill="#3828b0" opacity="0.55"/>
<circle cx="245.8" cy="93.0" r="0.5" fill="#3828b0" opacity="0.55"/>
<circle cx="270.7" cy="86.9" r="0.5" fill="#3828b0" opacity="0.55"/>
<circle cx="236.2" cy="88.1" r="0.5" fill="#3828b0" opacity="0.55"/>
<circle cx="247.4" cy="76.6" r="0.5" fill="#3828b0" opacity="0.55"/>
<circle cx="276.2" cy="81.5" r="0.5" fill="#3828b0" opacity="0.55"/>
<circle cx="242.7" cy="76.5" r="0.5" fill="#3828b0" opacity="0.55"/>
<circle cx="264.4" cy="70.5" r="0.5" fill="#3828b0" opacity="0.55"/>
<circle cx="248.9" cy="95.0" r="0.5" fill="#3828b0" opacity="0.55"/>
<circle cx="236.4" cy="88.2" r="0.5" fill="#3828b0" opacity="0.55"/>
<circle cx="263.5" cy="73.8" r="0.5" fill="#3828b0" opacity="0.55"/>
<circle cx="235.4" cy="95.0" r="0.5" fill="#3828b0" opacity="0.55"/>
<circle cx="268.8" cy="70.8" r="0.5" fill="#3828b0" opacity="0.55"/>
<circle cx="251.7" cy="77.4" r="0.5" fill="#3828b0" opacity="0.55"/>
<circle cx="242.0" cy="75.2" r="0.5" fill="#3828b0" opacity="0.55"/>
<circle cx="261.7" cy="84.9" r="0.5" fill="#3828b0" opacity="0.55"/>
<circle cx="258.9" cy="73.1" r="0.5" fill="#3828b0" opacity="0.55"/>
<circle cx="278.0" cy="78.5" r="0.5" fill="#3828b0" opacity="0.55"/>
<circle cx="259.7" cy="75.5" r="0.5" fill="#3828b0" opacity="0.55"/>
<circle cx="280.5" cy="80.2" r="0.5" fill="#3828b0" opacity="0.55"/>
<circle cx="250.2" cy="90.0" r="0.5" fill="#3828b0" opacity="0.55"/>
<circle cx="282.7" cy="71.2" r="0.5" fill="#3828b0" opacity="0.55"/>
<circle cx="264.1" cy="79.7" r="0.5" fill="#3828b0" opacity="0.55"/>
<circle cx="255.0" cy="73.8" r="0.5" fill="#3828b0" opacity="0.55"/>
<circle cx="266.7" cy="66.5" r="0.5" fill="#3828b0" opacity="0.55"/>
<circle cx="240.0" cy="94.9" r="0.5" fill="#3828b0" opacity="0.55"/>
<circle cx="272.1" cy="85.7" r="0.5" fill="#3828b0" opacity="0.55"/>
<circle cx="232.6" cy="100.0" r="0.5" fill="#3828b0" opacity="0.55"/>
<circle cx="268.8" cy="81.1" r="0.5" fill="#3828b0" opacity="0.55"/>
<circle cx="279.6" cy="80.7" r="0.5" fill="#3828b0" opacity="0.55"/>
<circle cx="282.0" cy="66.2" r="0.5" fill="#3828b0" opacity="0.55"/>
<circle cx="276.5" cy="79.2" r="0.5" fill="#3828b0" opacity="0.55"/>
<circle cx="289.5" cy="72.7" r="0.5" fill="#3828b0" opacity="0.55"/>
<circle cx="232.7" cy="87.2" r="0.5" fill="#3828b0" opacity="0.55"/>
<circle cx="256.1" cy="71.7" r="0.5" fill="#3828b0" opacity="0.55"/>
<circle cx="234.2" cy="79.7" r="0.5" fill="#3828b0" opacity="0.55"/>
<circle cx="269.5" cy="72.0" r="0.5" fill="#3828b0" opacity="0.55"/>
<circle cx="231.5" cy="97.3" r="0.5" fill="#3828b0" opacity="0.55"/>
<circle cx="244.8" cy="79.3" r="0.5" fill="#3828b0" opacity="0.55"/>
<circle cx="255.5" cy="88.9" r="0.5" fill="#3828b0" opacity="0.55"/>
<circle cx="236.1" cy="92.9" r="0.5" fill="#3828b0" opacity="0.55"/>
<circle cx="228.2" cy="98.9" r="0.5" fill="#3828b0" opacity="0.55"/>
<circle cx="235.9" cy="91.3" r="0.5" fill="#3828b0" opacity="0.55"/>
<circle cx="244.7" cy="81.7" r="0.5" fill="#3828b0" opacity="0.55"/>
<circle cx="270.2" cy="79.8" r="0.5" fill="#3828b0" opacity="0.55"/>
<circle cx="249.0" cy="70.3" r="0.5" fill="#3828b0" opacity="0.55"/>
<circle cx="266.9" cy="82.5" r="0.5" fill="#3828b0" opacity="0.55"/>
<circle cx="251.3" cy="78.7" r="0.5" fill="#3828b0" opacity="0.55"/>
<circle cx="253.4" cy="89.5" r="0.5" fill="#3828b0" opacity="0.55"/>
<circle cx="239.9" cy="72.6" r="0.5" fill="#3828b0" opacity="0.55"/>
<circle cx="232.3" cy="94.1" r="0.5" fill="#3828b0" opacity="0.55"/>
<circle cx="240.9" cy="71.7" r="0.5" fill="#3828b0" opacity="0.55"/>
<circle cx="250.2" cy="84.9" r="0.5" fill="#3828b0" opacity="0.55"/>
<circle cx="284.8" cy="72.0" r="0.5" fill="#3828b0" opacity="0.55"/>
<circle cx="242.9" cy="98.4" r="0.5" fill="#3828b0" opacity="0.55"/>
<circle cx="232.4" cy="99.0" r="0.5" fill="#3828b0" opacity="0.55"/>
<circle cx="236.8" cy="85.1" r="0.5" fill="#3828b0" opacity="0.55"/>
<circle cx="276.3" cy="83.6" r="0.5" fill="#3828b0" opacity="0.55"/>
<circle cx="241.0" cy="88.3" r="0.5" fill="#3828b0" opacity="0.55"/>
<circle cx="244.8" cy="91.3" r="0.5" fill="#3828b0" opacity="0.55"/>
<circle cx="242.2" cy="95.7" r="0.5" fill="#3828b0" opacity="0.55"/>
<circle cx="227.3" cy="73.2" r="0.5" fill="#3828b0" opacity="0.55"/>
<circle cx="227.9" cy="91.2" r="0.5" fill="#3828b0" opacity="0.55"/>
<circle cx="243.3" cy="69.2" r="0.5" fill="#3828b0" opacity="0.55"/>
<circle cx="238.8" cy="77.8" r="0.5" fill="#3828b0" opacity="0.55"/>
<circle cx="233.1" cy="86.4" r="0.5" fill="#3828b0" opacity="0.55"/>
<circle cx="251.6" cy="67.5" r="0.5" fill="#3828b0" opacity="0.55"/>
<circle cx="271.4" cy="80.8" r="0.5" fill="#3828b0" opacity="0.55"/>
<circle cx="244.5" cy="94.9" r="0.5" fill="#3828b0" opacity="0.55"/>
<circle cx="233.5" cy="100.1" r="0.5" fill="#3828b0" opacity="0.55"/>
<circle cx="230.5" cy="97.2" r="0.5" fill="#3828b0" opacity="0.55"/>
<circle cx="262.2" cy="88.8" r="0.5" fill="#3828b0" opacity="0.55"/>
<circle cx="280.5" cy="75.4" r="0.5" fill="#3828b0" opacity="0.55"/>
<circle cx="270.9" cy="80.7" r="0.5" fill="#3828b0" opacity="0.55"/>
<circle cx="225.2" cy="90.2" r="0.5" fill="#3828b0" opacity="0.55"/>
<circle cx="251.2" cy="85.2" r="0.5" fill="#3828b0" opacity="0.55"/>
<circle cx="225.3" cy="89.0" r="0.5" fill="#3828b0" opacity="0.55"/>
<circle cx="238.3" cy="86.1" r="0.5" fill="#3828b0" opacity="0.55"/>
<circle cx="242.4" cy="100.2" r="0.5" fill="#3828b0" opacity="0.55"/>
<circle cx="272.9" cy="78.2" r="0.5" fill="#3828b0" opacity="0.55"/>
<circle cx="231.0" cy="95.8" r="0.5" fill="#3828b0" opacity="0.55"/>
<circle cx="225.1" cy="82.9" r="0.5" fill="#3828b0" opacity="0.55"/>
<circle cx="274.5" cy="84.6" r="0.5" fill="#3828b0" opacity="0.55"/>
<circle cx="254.3" cy="78.1" r="0.5" fill="#3828b0" opacity="0.55"/>
<circle cx="260.9" cy="76.4" r="0.5" fill="#3828b0" opacity="0.55"/>
<circle cx="247.0" cy="90.1" r="0.5" fill="#3828b0" opacity="0.55"/>
<circle cx="225.3" cy="70.3" r="0.5" fill="#3828b0" opacity="0.55"/>
<circle cx="236.1" cy="76.6" r="0.5" fill="#3828b0" opacity="0.55"/>
<circle cx="254.8" cy="68.9" r="0.5" fill="#3828b0" opacity="0.55"/>
<circle cx="283.8" cy="68.2" r="0.5" fill="#3828b0" opacity="0.55"/>
<circle cx="229.8" cy="91.8" r="0.5" fill="#3828b0" opacity="0.55"/>
<circle cx="247.9" cy="74.3" r="0.5" fill="#3828b0" opacity="0.55"/>
<circle cx="239.6" cy="83.0" r="0.5" fill="#3828b0" opacity="0.55"/>
<circle cx="228.6" cy="87.3" r="0.5" fill="#3828b0" opacity="0.55"/>
<circle cx="262.8" cy="84.5" r="0.5" fill="#3828b0" opacity="0.55"/>
<circle cx="255.9" cy="91.3" r="0.5" fill="#3828b0" opacity="0.55"/>
<circle cx="286.9" cy="71.5" r="0.5" fill="#3828b0" opacity="0.55"/>
<circle cx="264.7" cy="87.6" r="0.5" fill="#3828b0" opacity="0.55"/>
<circle cx="249.2" cy="85.9" r="0.5" fill="#3828b0" opacity="0.55"/>
<circle cx="274.4" cy="78.4" r="0.5" fill="#3828b0" opacity="0.55"/>
<circle cx="234.8" cy="70.5" r="0.5" fill="#3828b0" opacity="0.55"/>
<circle cx="260.6" cy="75.5" r="0.5" fill="#3828b0" opacity="0.55"/>
<circle cx="277.5" cy="67.3" r="0.5" fill="#3828b0" opacity="0.55"/>
<circle cx="261.6" cy="83.8" r="0.5" fill="#3828b0" opacity="0.55"/>
<circle cx="240.7" cy="72.7" r="0.5" fill="#3828b0" opacity="0.55"/>
<circle cx="233.8" cy="93.6" r="0.5" fill="#3828b0" opacity="0.55"/>
<circle cx="285.2" cy="80.8" r="0.5" fill="#3828b0" opacity="0.55"/>
<circle cx="281.7" cy="77.1" r="0.5" fill="#3828b0" opacity="0.55"/>
<circle cx="228.4" cy="96.2" r="0.5" fill="#3828b0" opacity="0.55"/>
<circle cx="250.3" cy="78.2" r="0.5" fill="#3828b0" opacity="0.55"/>
<circle cx="225.1" cy="83.5" r="0.5" fill="#3828b0" opacity="0.55"/>
<circle cx="235.8" cy="77.1" r="0.5" fill="#3828b0" opacity="0.55"/>
<circle cx="276.5" cy="80.0" r="0.5" fill="#3828b0" opacity="0.55"/>
<circle cx="259.1" cy="74.7" r="0.5" fill="#3828b0" opacity="0.55"/>
<circle cx="273.5" cy="75.2" r="0.5" fill="#3828b0" opacity="0.55"/>
<circle cx="262.7" cy="83.1" r="0.5" fill="#3828b0" opacity="0.55"/>
<circle cx="241.7" cy="71.3" r="0.5" fill="#3828b0" opacity="0.55"/>
<circle cx="224.4" cy="84.2" r="0.5" fill="#3828b0" opacity="0.55"/>
<circle cx="246.4" cy="87.2" r="0.5" fill="#3828b0" opacity="0.55"/>
<circle cx="246.8" cy="77.2" r="0.5" fill="#3828b0" opacity="0.55"/>
<circle cx="239.6" cy="71.2" r="0.5" fill="#3828b0" opacity="0.55"/>
<circle cx="257.1" cy="90.3" r="0.5" fill="#3828b0" opacity="0.55"/>
<circle cx="254.7" cy="83.2" r="0.5" fill="#3828b0" opacity="0.55"/>
<circle cx="246.8" cy="78.2" r="0.5" fill="#3828b0" opacity="0.55"/>
<circle cx="285.6" cy="79.0" r="0.5" fill="#3828b0" opacity="0.55"/>
<circle cx="225.4" cy="87.4" r="0.5" fill="#3828b0" opacity="0.55"/>
<circle cx="261.9" cy="67.6" r="0.5" fill="#3828b0" opacity="0.55"/>
<circle cx="241.8" cy="77.5" r="0.5" fill="#3828b0" opacity="0.55"/>
<circle cx="267.5" cy="87.4" r="0.5" fill="#3828b0" opacity="0.55"/>
<circle cx="284.3" cy="75.0" r="0.5" fill="#3828b0" opacity="0.55"/>
<circle cx="252.6" cy="71.4" r="0.5" fill="#3828b0" opacity="0.55"/>
<circle cx="230.4" cy="98.4" r="0.5" fill="#3828b0" opacity="0.55"/>
<circle cx="286.9" cy="75.1" r="0.5" fill="#3828b0" opacity="0.55"/>
<circle cx="255.6" cy="82.2" r="0.5" fill="#3828b0" opacity="0.55"/>
<circle cx="242.4" cy="98.5" r="0.5" fill="#3828b0" opacity="0.55"/>
<circle cx="284.9" cy="77.6" r="0.5" fill="#3828b0" opacity="0.55"/>
<circle cx="233.2" cy="87.2" r="0.5" fill="#3828b0" opacity="0.55"/>
<circle cx="227.6" cy="82.0" r="0.5" fill="#3828b0" opacity="0.55"/>
<circle cx="228.8" cy="94.6" r="0.5" fill="#3828b0" opacity="0.55"/>
<circle cx="226.3" cy="95.0" r="0.5" fill="#3828b0" opacity="0.55"/>
<circle cx="285.8" cy="69.6" r="0.5" fill="#3828b0" opacity="0.55"/>
<circle cx="256.3" cy="67.8" r="0.5" fill="#3828b0" opacity="0.55"/>
<circle cx="252.6" cy="70.6" r="0.5" fill="#3828b0" opacity="0.55"/>
<circle cx="244.8" cy="92.1" r="0.5" fill="#3828b0" opacity="0.55"/>
<circle cx="283.0" cy="79.0" r="0.5" fill="#3828b0" opacity="0.55"/>
<circle cx="281.1" cy="67.2" r="0.5" fill="#3828b0" opacity="0.55"/>
<circle cx="247.0" cy="82.1" r="0.5" fill="#3828b0" opacity="0.55"/>
<circle cx="265.9" cy="69.9" r="0.5" fill="#3828b0" opacity="0.55"/>
<circle cx="239.7" cy="91.9" r="0.5" fill="#3828b0" opacity="0.55"/>
<circle cx="227.7" cy="73.7" r="0.5" fill="#3828b0" opacity="0.55"/>
<circle cx="229.7" cy="80.2" r="0.5" fill="#3828b0" opacity="0.55"/>
<circle cx="287.1" cy="78.4" r="0.5" fill="#3828b0" opacity="0.55"/>
<circle cx="238.2" cy="70.2" r="0.5" fill="#3828b0" opacity="0.55"/>
<circle cx="233.9" cy="77.1" r="0.5" fill="#3828b0" opacity="0.55"/>
<circle cx="255.3" cy="68.3" r="0.5" fill="#3828b0" opacity="0.55"/>
<circle cx="265.4" cy="69.9" r="0.5" fill="#3828b0" opacity="0.55"/>
<circle cx="270.7" cy="73.4" r="0.5" fill="#3828b0" opacity="0.55"/>
<circle cx="236.9" cy="97.5" r="0.5" fill="#3828b0" opacity="0.55"/>
<circle cx="267.1" cy="76.9" r="0.5" fill="#3828b0" opacity="0.55"/>
<circle cx="250.4" cy="81.1" r="0.5" fill="#3828b0" opacity="0.55"/>
<circle cx="226.8" cy="96.1" r="0.5" fill="#3828b0" opacity="0.55"/>
<circle cx="234.2" cy="76.9" r="0.5" fill="#3828b0" opacity="0.55"/>
<circle cx="265.0" cy="83.8" r="0.5" fill="#3828b0" opacity="0.55"/>
<circle cx="240.6" cy="78.7" r="0.5" fill="#3828b0" opacity="0.55"/>
<circle cx="258.0" cy="81.3" r="0.5" fill="#3828b0" opacity="0.55"/>
<circle cx="257.0" cy="90.0" r="0.5" fill="#3828b0" opacity="0.55"/>
<circle cx="277.9" cy="69.9" r="0.5" fill="#3828b0" opacity="0.55"/>
<circle cx="260.3" cy="78.4" r="0.5" fill="#3828b0" opacity="0.55"/>
<circle cx="232.3" cy="75.7" r="0.5" fill="#3828b0" opacity="0.55"/>
<circle cx="253.7" cy="68.3" r="0.5" fill="#3828b0" opacity="0.55"/>
<circle cx="260.5" cy="70.7" r="0.5" fill="#3828b0" opacity="0.55"/>
<circle cx="252.8" cy="69.0" r="0.5" fill="#3828b0" opacity="0.55"/>
<circle cx="264.0" cy="75.7" r="0.5" fill="#3828b0" opacity="0.55"/>
<circle cx="244.1" cy="72.9" r="0.5" fill="#3828b0" opacity="0.55"/>
<circle cx="240.8" cy="93.0" r="0.5" fill="#3828b0" opacity="0.55"/>
<circle cx="281.6" cy="73.0" r="0.5" fill="#3828b0" opacity="0.55"/>
<circle cx="231.6" cy="85.8" r="0.5" fill="#3828b0" opacity="0.55"/>
<circle cx="244.4" cy="69.7" r="0.5" fill="#3828b0" opacity="0.55"/>
<circle cx="258.8" cy="87.6" r="0.5" fill="#3828b0" opacity="0.55"/>
<circle cx="287.9" cy="71.4" r="0.5" fill="#3828b0" opacity="0.55"/>
<circle cx="259.7" cy="90.6" r="0.5" fill="#3828b0" opacity="0.55"/>
<circle cx="227.3" cy="70.4" r="0.5" fill="#3828b0" opacity="0.55"/>
<circle cx="278.2" cy="76.5" r="0.5" fill="#3828b0" opacity="0.55"/>
<circle cx="259.5" cy="77.9" r="0.5" fill="#3828b0" opacity="0.55"/>
<circle cx="226.3" cy="80.6" r="0.5" fill="#3828b0" opacity="0.55"/>
<circle cx="266.0" cy="71.7" r="0.5" fill="#3828b0" opacity="0.55"/>
<circle cx="240.8" cy="85.9" r="0.5" fill="#3828b0" opacity="0.55"/>
<circle cx="263.1" cy="87.8" r="0.5" fill="#3828b0" opacity="0.55"/>
<circle cx="233.3" cy="94.3" r="0.5" fill="#3828b0" opacity="0.55"/>
<circle cx="241.3" cy="80.9" r="0.5" fill="#3828b0" opacity="0.55"/>
<circle cx="266.1" cy="87.7" r="0.5" fill="#3828b0" opacity="0.55"/>
<circle cx="230.1" cy="84.6" r="0.5" fill="#3828b0" opacity="0.55"/>
<circle cx="246.7" cy="71.5" r="0.5" fill="#3828b0" opacity="0.55"/>
<circle cx="259.5" cy="78.1" r="0.5" fill="#3828b0" opacity="0.55"/>
<circle cx="285.4" cy="79.6" r="0.5" fill="#3828b0" opacity="0.55"/>
<circle cx="281.0" cy="83.2" r="0.5" fill="#3828b0" opacity="0.55"/>
<circle cx="226.1" cy="91.4" r="0.5" fill="#3828b0" opacity="0.55"/>
<circle cx="277.0" cy="72.0" r="0.5" fill="#3828b0" opacity="0.55"/>
<circle cx="239.3" cy="78.3" r="0.5" fill="#3828b0" opacity="0.55"/>
<circle cx="236.1" cy="83.4" r="0.5" fill="#3828b0" opacity="0.55"/>
<circle cx="246.1" cy="96.3" r="0.5" fill="#3828b0" opacity="0.55"/>
<circle cx="280.9" cy="75.0" r="0.5" fill="#3828b0" opacity="0.55"/>
<circle cx="259.2" cy="79.4" r="0.5" fill="#3828b0" opacity="0.55"/>
<circle cx="247.2" cy="94.0" r="0.5" fill="#3828b0" opacity="0.55"/>
<circle cx="231.4" cy="73.1" r="0.5" fill="#3828b0" opacity="0.55"/>
<circle cx="271.4" cy="83.7" r="0.5" fill="#3828b0" opacity="0.55"/>
<circle cx="254.5" cy="73.7" r="0.5" fill="#3828b0" opacity="0.55"/>
<circle cx="247.1" cy="83.7" r="0.5" fill="#3828b0" opacity="0.55"/>
<circle cx="274.0" cy="85.1" r="0.5" fill="#3828b0" opacity="0.55"/>
<circle cx="268.9" cy="87.0" r="0.5" fill="#3828b0" opacity="0.55"/>
<circle cx="261.7" cy="81.0" r="0.5" fill="#3828b0" opacity="0.55"/>
<circle cx="281.3" cy="71.2" r="0.5" fill="#3828b0" opacity="0.55"/>
<circle cx="285.8" cy="69.5" r="0.5" fill="#3828b0" opacity="0.55"/>
<circle cx="225.6" cy="81.7" r="0.5" fill="#3828b0" opacity="0.55"/>
<circle cx="279.0" cy="72.7" r="0.5" fill="#3828b0" opacity="0.55"/>
<circle cx="234.4" cy="94.4" r="0.5" fill="#3828b0" opacity="0.55"/>
<circle cx="279.5" cy="74.9" r="0.5" fill="#3828b0" opacity="0.55"/>
<circle cx="240.2" cy="76.4" r="0.5" fill="#3828b0" opacity="0.55"/>
<circle cx="277.7" cy="77.1" r="0.5" fill="#3828b0" opacity="0.55"/>
<circle cx="273.9" cy="78.7" r="0.5" fill="#3828b0" opacity="0.55"/>
<circle cx="267.9" cy="86.3" r="0.5" fill="#3828b0" opacity="0.55"/>
<circle cx="249.3" cy="88.0" r="0.5" fill="#3828b0" opacity="0.55"/>
<circle cx="283.7" cy="72.5" r="0.5" fill="#3828b0" opacity="0.55"/>
<circle cx="259.8" cy="78.9" r="0.5" fill="#3828b0" opacity="0.55"/>
<circle cx="249.9" cy="75.7" r="0.5" fill="#3828b0" opacity="0.55"/>
<circle cx="286.2" cy="70.0" r="0.5" fill="#3828b0" opacity="0.55"/>
<circle cx="233.5" cy="90.3" r="0.5" fill="#3828b0" opacity="0.55"/>
<circle cx="278.8" cy="67.1" r="0.5" fill="#3828b0" opacity="0.55"/>
<circle cx="256.0" cy="82.5" r="0.5" fill="#3828b0" opacity="0.55"/>
<circle cx="259.8" cy="90.3" r="0.5" fill="#3828b0" opacity="0.55"/>
<circle cx="246.2" cy="85.6" r="0.5" fill="#3828b0" opacity="0.55"/>
<circle cx="277.5" cy="75.9" r="0.5" fill="#3828b0" opacity="0.55"/>
<circle cx="239.6" cy="70.7" r="0.5" fill="#3828b0" opacity="0.55"/>
<circle cx="252.7" cy="76.8" r="0.5" fill="#3828b0" opacity="0.55"/>
<circle cx="270.4" cy="79.9" r="0.5" fill="#3828b0" opacity="0.55"/>
<circle cx="267.7" cy="72.5" r="0.5" fill="#3828b0" opacity="0.55"/>
<circle cx="243.0" cy="83.6" r="0.5" fill="#3828b0" opacity="0.55"/>
<circle cx="232.7" cy="76.0" r="0.5" fill="#3828b0" opacity="0.55"/>
<circle cx="252.8" cy="80.5" r="0.5" fill="#3828b0" opacity="0.55"/>
<circle cx="224.7" cy="75.9" r="0.5" fill="#3828b0" opacity="0.55"/>
<circle cx="225.8" cy="79.3" r="0.5" fill="#3828b0" opacity="0.55"/>
<circle cx="245.2" cy="80.3" r="0.5" fill="#3828b0" opacity="0.55"/>
<circle cx="228.3" cy="83.0" r="0.5" fill="#3828b0" opacity="0.55"/>
<circle cx="284.6" cy="72.0" r="0.5" fill="#3828b0" opacity="0.55"/>
<circle cx="276.1" cy="82.2" r="0.5" fill="#3828b0" opacity="0.55"/>
<circle cx="235.3" cy="95.3" r="0.5" fill="#3828b0" opacity="0.55"/>
<circle cx="228.5" cy="76.0" r="0.5" fill="#3828b0" opacity="0.55"/>
<circle cx="279.9" cy="76.8" r="0.5" fill="#3828b0" opacity="0.55"/>
<circle cx="272.9" cy="76.6" r="0.5" fill="#3828b0" opacity="0.55"/>
<circle cx="234.6" cy="79.1" r="0.5" fill="#3828b0" opacity="0.55"/>
<circle cx="258.6" cy="72.2" r="0.5" fill="#3828b0" opacity="0.55"/>
<circle cx="226.9" cy="81.6" r="0.5" fill="#3828b0" opacity="0.55"/>
<circle cx="278.9" cy="80.2" r="0.5" fill="#3828b0" opacity="0.55"/>
<circle cx="239.1" cy="76.4" r="0.5" fill="#3828b0" opacity="0.55"/>
<circle cx="234.1" cy="87.3" r="0.5" fill="#3828b0" opacity="0.55"/>
<circle cx="227.9" cy="96.4" r="0.5" fill="#3828b0" opacity="0.55"/>
<circle cx="277.8" cy="81.4" r="0.5" fill="#3828b0" opacity="0.55"/>
<circle cx="269.8" cy="72.9" r="0.5" fill="#3828b0" opacity="0.55"/>
<circle cx="236.1" cy="79.9" r="0.5" fill="#3828b0" opacity="0.55"/>
<circle cx="245.9" cy="69.6" r="0.5" fill="#3828b0" opacity="0.55"/>
<circle cx="230.8" cy="78.1" r="0.5" fill="#3828b0" opacity="0.55"/>
<circle cx="224.6" cy="86.2" r="0.5" fill="#3828b0" opacity="0.55"/>
<circle cx="237.1" cy="84.1" r="0.5" fill="#3828b0" opacity="0.55"/>
<circle cx="255.2" cy="69.0" r="0.5" fill="#3828b0" opacity="0.55"/>
<circle cx="263.9" cy="82.3" r="0.5" fill="#3828b0" opacity="0.55"/>
<circle cx="258.4" cy="91.6" r="0.5" fill="#3828b0" opacity="0.55"/>
<circle cx="247.7" cy="78.1" r="0.5" fill="#3828b0" opacity="0.55"/>
<circle cx="246.6" cy="68.8" r="0.5" fill="#3828b0" opacity="0.55"/>
<circle cx="236.5" cy="73.9" r="0.5" fill="#3828b0" opacity="0.55"/>
<circle cx="225.3" cy="91.2" r="0.5" fill="#3828b0" opacity="0.55"/>
<circle cx="264.3" cy="77.6" r="0.5" fill="#3828b0" opacity="0.55"/>
<circle cx="251.8" cy="89.4" r="0.5" fill="#3828b0" opacity="0.55"/>
<circle cx="228.5" cy="77.8" r="0.5" fill="#3828b0" opacity="0.55"/>
<circle cx="251.9" cy="83.7" r="0.5" fill="#3828b0" opacity="0.55"/>
<circle cx="236.8" cy="90.9" r="0.5" fill="#3828b0" opacity="0.55"/>
<circle cx="275.9" cy="74.5" r="0.5" fill="#3828b0" opacity="0.55"/>
<circle cx="244.7" cy="80.3" r="0.5" fill="#3828b0" opacity="0.55"/>
<circle cx="275.0" cy="65.9" r="0.5" fill="#3828b0" opacity="0.55"/>
<circle cx="266.4" cy="74.3" r="0.5" fill="#3828b0" opacity="0.55"/>
<circle cx="261.2" cy="66.5" r="0.5" fill="#3828b0" opacity="0.55"/>
<circle cx="247.5" cy="71.3" r="0.5" fill="#3828b0" opacity="0.55"/>
<circle cx="246.5" cy="75.1" r="0.5" fill="#3828b0" opacity="0.55"/>
<circle cx="234.8" cy="100.2" r="0.5" fill="#3828b0" opacity="0.55"/>
<circle cx="274.8" cy="83.2" r="0.5" fill="#3828b0" opacity="0.55"/>
<circle cx="246.0" cy="69.3" r="0.5" fill="#3828b0" opacity="0.55"/>
<circle cx="261.8" cy="77.9" r="0.5" fill="#3828b0" opacity="0.55"/>
<circle cx="274.0" cy="70.3" r="0.5" fill="#3828b0" opacity="0.55"/>
<circle cx="253.3" cy="84.6" r="0.5" fill="#3828b0" opacity="0.55"/>
<circle cx="264.1" cy="76.5" r="0.5" fill="#3828b0" opacity="0.55"/>
<circle cx="244.6" cy="94.5" r="0.5" fill="#3828b0" opacity="0.55"/>
<circle cx="269.9" cy="85.5" r="0.5" fill="#3828b0" opacity="0.55"/>
<circle cx="259.8" cy="74.2" r="0.5" fill="#3828b0" opacity="0.55"/>
<circle cx="257.6" cy="66.7" r="0.5" fill="#3828b0" opacity="0.55"/>
<circle cx="226.3" cy="93.6" r="0.5" fill="#3828b0" opacity="0.55"/>
<circle cx="261.8" cy="78.5" r="0.5" fill="#3828b0" opacity="0.55"/>
<circle cx="278.7" cy="66.0" r="0.5" fill="#3828b0" opacity="0.55"/>
<circle cx="278.4" cy="83.7" r="0.5" fill="#3828b0" opacity="0.55"/>
<circle cx="249.8" cy="68.3" r="0.5" fill="#3828b0" opacity="0.55"/>
<circle cx="262.9" cy="81.8" r="0.5" fill="#3828b0" opacity="0.55"/>
<circle cx="247.4" cy="90.6" r="0.5" fill="#3828b0" opacity="0.55"/>
<circle cx="249.6" cy="95.1" r="0.5" fill="#3828b0" opacity="0.55"/>
<circle cx="248.8" cy="71.3" r="0.5" fill="#3828b0" opacity="0.55"/>
<circle cx="288.5" cy="75.8" r="0.5" fill="#3828b0" opacity="0.55"/>
<circle cx="232.7" cy="98.3" r="0.5" fill="#3828b0" opacity="0.55"/>
<circle cx="230.3" cy="78.1" r="0.5" fill="#3828b0" opacity="0.55"/>
<circle cx="236.1" cy="69.6" r="0.5" fill="#3828b0" opacity="0.55"/>
<circle cx="283.7" cy="78.8" r="0.5" fill="#3828b0" opacity="0.55"/>
<circle cx="275.4" cy="65.2" r="0.5" fill="#3828b0" opacity="0.55"/>
<circle cx="236.5" cy="77.5" r="0.5" fill="#3828b0" opacity="0.55"/>
<circle cx="240.0" cy="100.6" r="0.5" fill="#3828b0" opacity="0.55"/>
<circle cx="240.0" cy="68.9" r="0.5" fill="#3828b0" opacity="0.55"/>
<circle cx="227.4" cy="72.0" r="0.5" fill="#3828b0" opacity="0.55"/>
<circle cx="241.3" cy="96.7" r="0.5" fill="#3828b0" opacity="0.55"/>
<circle cx="244.7" cy="83.2" r="0.5" fill="#3828b0" opacity="0.55"/>
<circle cx="271.3" cy="75.0" r="0.5" fill="#3828b0" opacity="0.55"/>
<circle cx="255.4" cy="77.3" r="0.5" fill="#3828b0" opacity="0.55"/>
<circle cx="239.1" cy="93.1" r="0.5" fill="#3828b0" opacity="0.55"/>
<circle cx="262.0" cy="78.0" r="0.5" fill="#3828b0" opacity="0.55"/>
<circle cx="267.0" cy="69.5" r="0.5" fill="#3828b0" opacity="0.55"/>
<circle cx="240.4" cy="92.6" r="0.5" fill="#3828b0" opacity="0.55"/>
<circle cx="245.7" cy="71.5" r="0.5" fill="#3828b0" opacity="0.55"/>
<circle cx="246.5" cy="93.3" r="0.5" fill="#3828b0" opacity="0.55"/>
<circle cx="261.6" cy="72.1" r="0.5" fill="#3828b0" opacity="0.55"/>
<circle cx="238.3" cy="71.4" r="0.5" fill="#3828b0" opacity="0.55"/>
<circle cx="266.5" cy="69.4" r="0.5" fill="#3828b0" opacity="0.55"/>
<circle cx="239.3" cy="79.4" r="0.5" fill="#3828b0" opacity="0.55"/>
<circle cx="237.4" cy="74.1" r="0.5" fill="#3828b0" opacity="0.55"/>
<circle cx="249.2" cy="87.2" r="0.5" fill="#3828b0" opacity="0.55"/>
<circle cx="239.3" cy="68.9" r="0.5" fill="#3828b0" opacity="0.55"/>
<circle cx="236.5" cy="70.5" r="0.5" fill="#3828b0" opacity="0.55"/>
<circle cx="261.1" cy="74.4" r="0.5" fill="#3828b0" opacity="0.55"/>
<circle cx="236.0" cy="71.9" r="0.5" fill="#3828b0" opacity="0.55"/>
<circle cx="282.5" cy="70.7" r="0.5" fill="#3828b0" opacity="0.55"/>
<circle cx="254.0" cy="81.5" r="0.5" fill="#3828b0" opacity="0.55"/>
<circle cx="284.3" cy="69.4" r="0.5" fill="#3828b0" opacity="0.55"/>
<circle cx="233.5" cy="96.7" r="0.5" fill="#3828b0" opacity="0.55"/>
<circle cx="249.1" cy="81.9" r="0.5" fill="#3828b0" opacity="0.55"/>
<circle cx="240.7" cy="83.9" r="0.5" fill="#3828b0" opacity="0.55"/>
<circle cx="231.7" cy="78.8" r="0.5" fill="#3828b0" opacity="0.55"/>
<circle cx="257.4" cy="91.1" r="0.5" fill="#3828b0" opacity="0.55"/>
<circle cx="238.4" cy="92.8" r="0.5" fill="#3828b0" opacity="0.55"/>
<circle cx="283.9" cy="79.3" r="0.5" fill="#3828b0" opacity="0.55"/>
<circle cx="285.9" cy="70.8" r="0.5" fill="#3828b0" opacity="0.55"/>
<circle cx="234.0" cy="101.7" r="0.5" fill="#3828b0" opacity="0.55"/>
<circle cx="264.3" cy="89.1" r="0.5" fill="#3828b0" opacity="0.55"/>
<circle cx="226.2" cy="81.7" r="0.5" fill="#3828b0" opacity="0.55"/>
<circle cx="257.5" cy="73.2" r="0.5" fill="#3828b0" opacity="0.55"/>
<circle cx="285.5" cy="75.4" r="0.5" fill="#3828b0" opacity="0.55"/>
<circle cx="225.9" cy="76.3" r="0.5" fill="#3828b0" opacity="0.55"/>
<circle cx="240.7" cy="80.6" r="0.5" fill="#3828b0" opacity="0.55"/>
<circle cx="251.4" cy="67.6" r="0.5" fill="#3828b0" opacity="0.55"/>
<circle cx="247.5" cy="95.9" r="0.5" fill="#3828b0" opacity="0.55"/>
<circle cx="243.2" cy="89.3" r="0.5" fill="#3828b0" opacity="0.55"/>
<circle cx="232.6" cy="83.9" r="0.5" fill="#3828b0" opacity="0.55"/>
<circle cx="230.8" cy="91.2" r="0.5" fill="#3828b0" opacity="0.55"/>
<circle cx="256.3" cy="85.9" r="0.5" fill="#3828b0" opacity="0.55"/>
<circle cx="267.0" cy="84.0" r="0.5" fill="#3828b0" opacity="0.55"/>
<circle cx="229.8" cy="81.1" r="0.5" fill="#3828b0" opacity="0.55"/>
<circle cx="267.4" cy="74.3" r="0.5" fill="#3828b0" opacity="0.55"/>
<circle cx="239.1" cy="73.9" r="0.5" fill="#3828b0" opacity="0.55"/>
<path d="M228,73 L240,71.5 L253.4,70 L276.5,68.3 L283,69.5 L287.5,73.5 L281,79.5 L256.5,88.7 L243,93.5 L239,101 L231,101 L227.5,92 L227,82 Z" fill="#3434b4" filter="url(#blur2)"/>
<path d="M229.5,74.3 L240,73 L253.4,71.7 L276,70 L282,71.5 L283.5,73.7 L279,78 L256,87 L242,92 L237.5,97.5 L232,97 L229,90 Z" fill="#2a9ccc" filter="url(#blur2)"/>
<path d="M231,75.5 L240,74.5 L253.4,73.3 L272,72 L277,73 L274,76.5 L255,84.5 L242,89 L238,92.5 L233,92 L231,86 Z" fill="#3cb45c" filter="url(#blur2)"/>
<ellipse cx="233.8" cy="84.5" rx="3.2" ry="5.6" fill="#d4d024" filter="url(#blur2)"/>
<ellipse cx="233.6" cy="84.5" rx="1.8" ry="3.5" fill="#e85018" filter="url(#blur2)"/>
</g>
<line x1="61.50" y1="56.50" x2="61.50" y2="140.00" stroke="#4a4a4a" stroke-width="1.0"/>
<line x1="37.50" y1="103.50" x2="121.40" y2="103.50" stroke="#3a3a3a" stroke-width="1.0"/>
<line x1="36.00" y1="60.50" x2="38.00" y2="60.50" stroke="#333" stroke-width="0.6"/>
<line x1="36.00" y1="70.50" x2="38.00" y2="70.50" stroke="#333" stroke-width="0.6"/>
<line x1="36.00" y1="84.00" x2="38.00" y2="84.00" stroke="#333" stroke-width="0.6"/>
<line x1="36.50" y1="121.00" x2="37.80" y2="121.00" stroke="#333" stroke-width="0.5"/>
<line x1="36.50" y1="123.00" x2="37.80" y2="123.00" stroke="#333" stroke-width="0.5"/>
<line x1="36.50" y1="125.00" x2="37.80" y2="125.00" stroke="#333" stroke-width="0.5"/>
<line x1="36.50" y1="127.00" x2="37.80" y2="127.00" stroke="#333" stroke-width="0.5"/>
<line x1="36.50" y1="129.00" x2="37.80" y2="129.00" stroke="#333" stroke-width="0.5"/>
<line x1="36.50" y1="131.00" x2="37.80" y2="131.00" stroke="#333" stroke-width="0.5"/>
<line x1="52.50" y1="140.00" x2="52.50" y2="141.50" stroke="#333" stroke-width="0.6"/>
<line x1="54.50" y1="140.00" x2="54.50" y2="141.50" stroke="#333" stroke-width="0.6"/>
<line x1="56.50" y1="140.00" x2="56.50" y2="141.50" stroke="#333" stroke-width="0.6"/>
<line x1="81.50" y1="140.00" x2="81.50" y2="141.50" stroke="#333" stroke-width="0.6"/>
<line x1="99.50" y1="140.00" x2="99.50" y2="141.50" stroke="#333" stroke-width="0.6"/>
<line x1="117.50" y1="140.00" x2="117.50" y2="141.50" stroke="#333" stroke-width="0.6"/>
<rect x="37.50" y="56.50" width="83.90" height="83.50" fill="none" stroke="#b0b0b0" stroke-width="0.8"/>
<line x1="152.20" y1="56.50" x2="152.20" y2="140.00" stroke="#4a4a4a" stroke-width="1.0"/>
<line x1="128.20" y1="103.50" x2="210.90" y2="103.50" stroke="#3a3a3a" stroke-width="1.0"/>
<line x1="126.70" y1="60.50" x2="128.70" y2="60.50" stroke="#333" stroke-width="0.6"/>
<line x1="126.70" y1="70.50" x2="128.70" y2="70.50" stroke="#333" stroke-width="0.6"/>
<line x1="126.70" y1="84.00" x2="128.70" y2="84.00" stroke="#333" stroke-width="0.6"/>
<line x1="127.20" y1="121.00" x2="128.50" y2="121.00" stroke="#333" stroke-width="0.5"/>
<line x1="127.20" y1="123.00" x2="128.50" y2="123.00" stroke="#333" stroke-width="0.5"/>
<line x1="127.20" y1="125.00" x2="128.50" y2="125.00" stroke="#333" stroke-width="0.5"/>
<line x1="127.20" y1="127.00" x2="128.50" y2="127.00" stroke="#333" stroke-width="0.5"/>
<line x1="127.20" y1="129.00" x2="128.50" y2="129.00" stroke="#333" stroke-width="0.5"/>
<line x1="127.20" y1="131.00" x2="128.50" y2="131.00" stroke="#333" stroke-width="0.5"/>
<line x1="143.20" y1="140.00" x2="143.20" y2="141.50" stroke="#333" stroke-width="0.6"/>
<line x1="145.20" y1="140.00" x2="145.20" y2="141.50" stroke="#333" stroke-width="0.6"/>
<line x1="147.20" y1="140.00" x2="147.20" y2="141.50" stroke="#333" stroke-width="0.6"/>
<line x1="172.20" y1="140.00" x2="172.20" y2="141.50" stroke="#333" stroke-width="0.6"/>
<line x1="190.20" y1="140.00" x2="190.20" y2="141.50" stroke="#333" stroke-width="0.6"/>
<line x1="208.20" y1="140.00" x2="208.20" y2="141.50" stroke="#333" stroke-width="0.6"/>
<rect x="128.20" y="56.50" width="82.70" height="83.50" fill="none" stroke="#b0b0b0" stroke-width="0.8"/>
<line x1="242.50" y1="56.50" x2="242.50" y2="140.00" stroke="#4a4a4a" stroke-width="1.0"/>
<line x1="218.50" y1="103.50" x2="301.40" y2="103.50" stroke="#3a3a3a" stroke-width="1.0"/>
<line x1="217.00" y1="60.50" x2="219.00" y2="60.50" stroke="#333" stroke-width="0.6"/>
<line x1="217.00" y1="70.50" x2="219.00" y2="70.50" stroke="#333" stroke-width="0.6"/>
<line x1="217.00" y1="84.00" x2="219.00" y2="84.00" stroke="#333" stroke-width="0.6"/>
<line x1="217.50" y1="121.00" x2="218.80" y2="121.00" stroke="#333" stroke-width="0.5"/>
<line x1="217.50" y1="123.00" x2="218.80" y2="123.00" stroke="#333" stroke-width="0.5"/>
<line x1="217.50" y1="125.00" x2="218.80" y2="125.00" stroke="#333" stroke-width="0.5"/>
<line x1="217.50" y1="127.00" x2="218.80" y2="127.00" stroke="#333" stroke-width="0.5"/>
<line x1="217.50" y1="129.00" x2="218.80" y2="129.00" stroke="#333" stroke-width="0.5"/>
<line x1="217.50" y1="131.00" x2="218.80" y2="131.00" stroke="#333" stroke-width="0.5"/>
<line x1="233.50" y1="140.00" x2="233.50" y2="141.50" stroke="#333" stroke-width="0.6"/>
<line x1="235.50" y1="140.00" x2="235.50" y2="141.50" stroke="#333" stroke-width="0.6"/>
<line x1="237.50" y1="140.00" x2="237.50" y2="141.50" stroke="#333" stroke-width="0.6"/>
<line x1="262.50" y1="140.00" x2="262.50" y2="141.50" stroke="#333" stroke-width="0.6"/>
<line x1="280.50" y1="140.00" x2="280.50" y2="141.50" stroke="#333" stroke-width="0.6"/>
<line x1="298.50" y1="140.00" x2="298.50" y2="141.50" stroke="#333" stroke-width="0.6"/>
<rect x="218.50" y="56.50" width="82.90" height="83.50" fill="none" stroke="#b0b0b0" stroke-width="0.8"/>
<text x="39.6" y="68.1" font-size="7.7" text-anchor="start" fill="#3a3a3a" font-weight="normal" stroke="#3a3a3a" stroke-width="0.1">97,6</text>
<text x="118.39999999999999" y="68.1" font-size="7.7" text-anchor="end" fill="#3a3a3a" font-weight="normal" stroke="#3a3a3a" stroke-width="0.1">2,24</text>
<text x="39.6" y="133.9" font-size="7.7" text-anchor="start" fill="#3a3a3a" font-weight="normal" stroke="#3a3a3a" stroke-width="0.1">0,12</text>
<text x="118.39999999999999" y="133.9" font-size="7.7" text-anchor="end" fill="#3a3a3a" font-weight="normal" stroke="#3a3a3a" stroke-width="0.1">0,030</text>
<text x="130.29999999999998" y="68.1" font-size="7.7" text-anchor="start" fill="#3a3a3a" font-weight="normal" stroke="#3a3a3a" stroke-width="0.1">59,2</text>
<text x="207.4" y="68.1" font-size="7.7" text-anchor="end" fill="#3a3a3a" font-weight="normal" stroke="#3a3a3a" stroke-width="0.1">40,2</text>
<text x="130.29999999999998" y="133.9" font-size="7.7" text-anchor="start" fill="#3a3a3a" font-weight="normal" stroke="#3a3a3a" stroke-width="0.1">0,50</text>
<text x="207.4" y="133.9" font-size="7.7" text-anchor="end" fill="#3a3a3a" font-weight="normal" stroke="#3a3a3a" stroke-width="0.1">0,045</text>
<text x="220.6" y="68.1" font-size="7.7" text-anchor="start" fill="#3a3a3a" font-weight="normal" stroke="#3a3a3a" stroke-width="0.1">43,4</text>
<text x="297.40000000000003" y="68.1" font-size="7.7" text-anchor="end" fill="#3a3a3a" font-weight="normal" stroke="#3a3a3a" stroke-width="0.1">56,4</text>
<text x="220.6" y="133.9" font-size="7.7" text-anchor="start" fill="#3a3a3a" font-weight="normal" stroke="#3a3a3a" stroke-width="0.1">0,19</text>
<text x="297.40000000000003" y="133.9" font-size="7.7" text-anchor="end" fill="#3a3a3a" font-weight="normal" stroke="#3a3a3a" stroke-width="0.1">0,025</text>
<text x="56" y="49.8" font-size="9.4" fill="#2c568f" stroke="#2c568f" stroke-width="0.08" textLength="44.7" lengthAdjust="spacingAndGlyphs">CD33.CAR</text>
<text x="101.2" y="45.4" font-size="5.5" fill="#2c568f" stroke="#2c568f" stroke-width="0.08">+</text>
<text x="146.7" y="37.4" font-size="9.4" fill="#f0a035" stroke="#f0a035" stroke-width="0.08" textLength="44.6" lengthAdjust="spacingAndGlyphs">CD33.CAR</text>
<text x="192.3" y="33.0" font-size="5.5" fill="#f0a035" stroke="#f0a035" stroke-width="0.08">+</text>
<text x="152.4" y="48.8" font-size="9.4" fill="#f0a035" stroke="#f0a035" stroke-width="0.08" textLength="27.8" lengthAdjust="spacingAndGlyphs">CXCR4</text>
<text x="180.6" y="45.4" font-size="5.5" fill="#f0a035" stroke="#f0a035" stroke-width="0.05" textLength="8.2" lengthAdjust="spacingAndGlyphs">wt</text>
<text x="235.5" y="37.1" font-size="9.4" fill="#52ad50" stroke="#52ad50" stroke-width="0.08" textLength="45.3" lengthAdjust="spacingAndGlyphs">CD33.CAR</text>
<text x="281.5" y="32.8" font-size="5.5" fill="#52ad50" stroke="#52ad50" stroke-width="0.08">+</text>
<text x="239.6" y="48.6" font-size="9.4" fill="#52ad50" stroke="#52ad50" stroke-width="0.08" textLength="29" lengthAdjust="spacingAndGlyphs">CXCR4</text>
<text x="269.6" y="45.4" font-size="5.5" fill="#52ad50" stroke="#52ad50" stroke-width="0.05" textLength="10.4" lengthAdjust="spacingAndGlyphs">mut</text>
<line x1="28.00" y1="140.70" x2="28.00" y2="84.50" stroke="#111" stroke-width="1.1"/>
<path d="M28,80.8 L25.6,86.5 L30.4,86.5 Z" fill="#111"/>
<text x="32.0" y="70.2" font-size="9.3" text-anchor="middle" fill="#2a2a2a" font-weight="normal" stroke="#2a2a2a" stroke-width="0.1" transform="rotate(-90 32.0 70.2)" textLength="14" lengthAdjust="spacingAndGlyphs">CAR</text>
<line x1="42.80" y1="149.70" x2="262.00" y2="149.70" stroke="#111" stroke-width="1.1"/>
<path d="M266.2,149.7 L260.5,147.3 L260.5,152.1 Z" fill="#111"/>
<text x="271.2" y="152.6" font-size="9.3" text-anchor="start" fill="#2a2a2a" font-weight="normal" stroke="#2a2a2a" stroke-width="0.1" textLength="23.2" lengthAdjust="spacingAndGlyphs">CXCR4</text>
<line x1="356.70" y1="39.50" x2="356.70" y2="143.10" stroke="#1e1e1e" stroke-width="1.3"/>
<line x1="353.70" y1="142.50" x2="356.70" y2="142.50" stroke="#1e1e1e" stroke-width="1.2"/>
<text x="349.0" y="145.25" font-size="7.8" text-anchor="end" fill="#3a3a3a" font-weight="normal" stroke="#3a3a3a" stroke-width="0.1" stroke-opacity="0">0</text>
<line x1="353.70" y1="117.50" x2="356.70" y2="117.50" stroke="#1e1e1e" stroke-width="1.2"/>
<text x="349.0" y="120.25" font-size="7.8" text-anchor="end" fill="#3a3a3a" font-weight="normal" stroke="#3a3a3a" stroke-width="0.1" stroke-opacity="0">20</text>
<line x1="353.70" y1="92.50" x2="356.70" y2="92.50" stroke="#1e1e1e" stroke-width="1.2"/>
<text x="349.0" y="95.25" font-size="7.8" text-anchor="end" fill="#3a3a3a" font-weight="normal" stroke="#3a3a3a" stroke-width="0.1" stroke-opacity="0">40</text>
<line x1="353.70" y1="67.50" x2="356.70" y2="67.50" stroke="#1e1e1e" stroke-width="1.2"/>
<text x="349.0" y="70.25" font-size="7.8" text-anchor="end" fill="#3a3a3a" font-weight="normal" stroke="#3a3a3a" stroke-width="0.1" stroke-opacity="0">60</text>
<line x1="353.70" y1="42.50" x2="356.70" y2="42.50" stroke="#1e1e1e" stroke-width="1.2"/>
<text x="349.0" y="45.25" font-size="7.8" text-anchor="end" fill="#3a3a3a" font-weight="normal" stroke="#3a3a3a" stroke-width="0.1" stroke-opacity="0">80</text>
<line x1="356.70" y1="142.50" x2="423.80" y2="142.50" stroke="#1e1e1e" stroke-width="1.3"/>
<rect x="363.80" y="133.75" width="12.50" height="8.75" fill="#8e9cc2" stroke="none" stroke-width="0"/>
<rect x="383.50" y="122.50" width="13.00" height="20.00" fill="#f9c58c" stroke="none" stroke-width="0"/>
<rect x="403.70" y="113.50" width="12.90" height="29.00" fill="#b0d59c" stroke="none" stroke-width="0"/>
<line x1="370.00" y1="125.00" x2="370.00" y2="133.75" stroke="#4f70b0" stroke-width="0.8"/>
<line x1="367.50" y1="125.00" x2="372.50" y2="125.00" stroke="#4f70b0" stroke-width="0.8"/>
<line x1="390.00" y1="105.00" x2="390.00" y2="122.50" stroke="#f4a447" stroke-width="0.8"/>
<line x1="387.50" y1="105.00" x2="392.50" y2="105.00" stroke="#f4a447" stroke-width="0.8"/>
<line x1="410.20" y1="81.25" x2="410.20" y2="113.50" stroke="#68b65c" stroke-width="0.8"/>
<line x1="407.70" y1="81.25" x2="412.70" y2="81.25" stroke="#68b65c" stroke-width="0.8"/>
<circle cx="370.00" cy="112.50" r="2.0" fill="#fff" stroke="#4f70b0" stroke-width="1.0"/>
<circle cx="370.00" cy="114.38" r="2.0" fill="#fff" stroke="#4f70b0" stroke-width="1.0"/>
<circle cx="370.00" cy="121.25" r="2.0" fill="#fff" stroke="#4f70b0" stroke-width="1.0"/>
<circle cx="370.00" cy="123.75" r="2.0" fill="#fff" stroke="#4f70b0" stroke-width="1.0"/>
<circle cx="370.00" cy="128.75" r="2.0" fill="#fff" stroke="#4f70b0" stroke-width="1.0"/>
<circle cx="370.00" cy="132.50" r="2.0" fill="#fff" stroke="#4f70b0" stroke-width="1.0"/>
<circle cx="370.00" cy="136.25" r="2.0" fill="#fff" stroke="#4f70b0" stroke-width="1.0"/>
<circle cx="370.00" cy="138.75" r="2.0" fill="#fff" stroke="#4f70b0" stroke-width="1.0"/>
<circle cx="370.00" cy="140.62" r="2.0" fill="#fff" stroke="#4f70b0" stroke-width="1.0"/>
<circle cx="370.00" cy="141.88" r="2.0" fill="#fff" stroke="#4f70b0" stroke-width="1.0"/>
<circle cx="390.00" cy="87.50" r="2.0" fill="#fff" stroke="#f4a447" stroke-width="1.0"/>
<circle cx="390.00" cy="90.00" r="2.0" fill="#fff" stroke="#f4a447" stroke-width="1.0"/>
<circle cx="390.00" cy="96.25" r="2.0" fill="#fff" stroke="#f4a447" stroke-width="1.0"/>
<circle cx="390.00" cy="98.75" r="2.0" fill="#fff" stroke="#f4a447" stroke-width="1.0"/>
<circle cx="390.00" cy="102.50" r="2.0" fill="#fff" stroke="#f4a447" stroke-width="1.0"/>
<circle cx="390.00" cy="105.00" r="2.0" fill="#fff" stroke="#f4a447" stroke-width="1.0"/>
<circle cx="390.00" cy="110.00" r="2.0" fill="#fff" stroke="#f4a447" stroke-width="1.0"/>
<circle cx="390.00" cy="115.00" r="2.0" fill="#fff" stroke="#f4a447" stroke-width="1.0"/>
<circle cx="390.00" cy="118.75" r="2.0" fill="#fff" stroke="#f4a447" stroke-width="1.0"/>
<circle cx="390.00" cy="132.50" r="2.0" fill="#fff" stroke="#f4a447" stroke-width="1.0"/>
<circle cx="390.00" cy="140.00" r="2.0" fill="#fff" stroke="#f4a447" stroke-width="1.0"/>
<circle cx="410.20" cy="47.50" r="1.6" fill="#fff" stroke="#68b65c" stroke-width="0.9"/>
<circle cx="410.20" cy="57.50" r="1.6" fill="#fff" stroke="#68b65c" stroke-width="0.9"/>
<circle cx="410.20" cy="76.25" r="1.6" fill="#fff" stroke="#68b65c" stroke-width="0.9"/>
<circle cx="410.20" cy="85.00" r="1.6" fill="#fff" stroke="#68b65c" stroke-width="0.9"/>
<circle cx="410.20" cy="88.75" r="1.6" fill="#fff" stroke="#68b65c" stroke-width="0.9"/>
<circle cx="410.20" cy="96.25" r="1.6" fill="#fff" stroke="#68b65c" stroke-width="0.9"/>
<circle cx="410.20" cy="107.50" r="1.6" fill="#fff" stroke="#68b65c" stroke-width="0.9"/>
<circle cx="410.20" cy="123.75" r="1.6" fill="#fff" stroke="#68b65c" stroke-width="0.9"/>
<circle cx="410.20" cy="130.00" r="1.6" fill="#fff" stroke="#68b65c" stroke-width="0.9"/>
<circle cx="410.20" cy="138.75" r="1.6" fill="#fff" stroke="#68b65c" stroke-width="0.9"/>
<circle cx="410.20" cy="141.25" r="1.6" fill="#fff" stroke="#68b65c" stroke-width="0.9"/>
<line x1="370.40" y1="31.90" x2="410.40" y2="31.90" stroke="#3c3c3c" stroke-width="1.05"/>
<circle cx="385.60" cy="28.10" r="1.1" fill="#333" stroke="none" stroke-width="1"/>
<circle cx="388.80" cy="28.10" r="1.1" fill="#333" stroke="none" stroke-width="1"/>
<circle cx="392.00" cy="28.10" r="1.1" fill="#333" stroke="none" stroke-width="1"/>
<circle cx="395.20" cy="28.10" r="1.1" fill="#333" stroke="none" stroke-width="1"/>
<line x1="390.80" y1="43.50" x2="410.40" y2="43.50" stroke="#3c3c3c" stroke-width="1.05"/>
<circle cx="400.60" cy="39.70" r="1.1" fill="#333" stroke="none" stroke-width="1"/>
<line x1="370.40" y1="61.00" x2="390.20" y2="61.00" stroke="#3c3c3c" stroke-width="1.05"/>
<circle cx="380.30" cy="57.20" r="1.1" fill="#333" stroke="none" stroke-width="1"/>
<text x="333.6" y="91" font-size="8.1" text-anchor="middle" fill="#2a2a2a" font-weight="normal" stroke="#2a2a2a" stroke-width="0.1" transform="rotate(-90 333.6 91)">% of migration</text>
<text x="390.2" y="154.6" font-size="7.5" text-anchor="middle" fill="#2a2a2a" font-weight="normal" stroke="#2a2a2a" stroke-width="0.1">CXCL12 (200 ng/ml)</text>
<circle cx="431.80" cy="80.60" r="1.5" fill="#fff" stroke="#4f70b0" stroke-width="0.7"/>
<text x="437.3" y="83.6" font-size="7.1" fill="#2a2a2a" stroke="#2a2a2a" stroke-width="0.1">CD33.CAR<tspan font-size="4.5" dy="-2.6">+</tspan></text>
<circle cx="431.80" cy="91.15" r="1.5" fill="#fff" stroke="#f4a447" stroke-width="0.7"/>
<text x="437.3" y="94.14999999999999" font-size="7.1" fill="#2a2a2a" stroke="#2a2a2a" stroke-width="0.1">CD33.CAR<tspan font-size="4.5" dy="-2.6">+</tspan><tspan dy="2.6">CXCR4</tspan><tspan font-size="4.5" dy="-2.6">wt</tspan></text>
<circle cx="431.80" cy="101.70" r="1.5" fill="#fff" stroke="#68b65c" stroke-width="0.7"/>
<text x="437.3" y="104.69999999999999" font-size="7.1" fill="#2a2a2a" stroke="#2a2a2a" stroke-width="0.1">CD33.CAR<tspan font-size="4.5" dy="-2.6">+</tspan><tspan dy="2.6">CXCR4</tspan><tspan font-size="4.5" dy="-2.6">mut</tspan></text>
<line x1="48.30" y1="184.50" x2="48.30" y2="286.90" stroke="#1e1e1e" stroke-width="1.3"/>
<line x1="45.30" y1="286.30" x2="48.30" y2="286.30" stroke="#1e1e1e" stroke-width="1.2"/>
<text x="40.599999999999994" y="289.05" font-size="7.8" text-anchor="end" fill="#3a3a3a" font-weight="normal" stroke="#3a3a3a" stroke-width="0.1" stroke-opacity="0">0</text>
<line x1="45.30" y1="261.60" x2="48.30" y2="261.60" stroke="#1e1e1e" stroke-width="1.2"/>
<text x="40.599999999999994" y="264.35" font-size="7.8" text-anchor="end" fill="#3a3a3a" font-weight="normal" stroke="#3a3a3a" stroke-width="0.1" stroke-opacity="0">2</text>
<line x1="45.30" y1="236.90" x2="48.30" y2="236.90" stroke="#1e1e1e" stroke-width="1.2"/>
<text x="40.599999999999994" y="239.65" font-size="7.8" text-anchor="end" fill="#3a3a3a" font-weight="normal" stroke="#3a3a3a" stroke-width="0.1" stroke-opacity="0">4</text>
<line x1="45.30" y1="212.20" x2="48.30" y2="212.20" stroke="#1e1e1e" stroke-width="1.2"/>
<text x="40.599999999999994" y="214.95000000000002" font-size="7.8" text-anchor="end" fill="#3a3a3a" font-weight="normal" stroke="#3a3a3a" stroke-width="0.1" stroke-opacity="0">6</text>
<line x1="45.30" y1="187.50" x2="48.30" y2="187.50" stroke="#1e1e1e" stroke-width="1.2"/>
<text x="40.599999999999994" y="190.25" font-size="7.8" text-anchor="end" fill="#3a3a3a" font-weight="normal" stroke="#3a3a3a" stroke-width="0.1" stroke-opacity="0">8</text>
<line x1="48.30" y1="286.30" x2="114.00" y2="286.30" stroke="#1e1e1e" stroke-width="1.3"/>
<rect x="57.80" y="249.87" width="18.40" height="36.43" fill="#f2c2b8" stroke="none" stroke-width="0"/>
<rect x="86.30" y="251.72" width="18.00" height="34.58" fill="#cbbada" stroke="none" stroke-width="0"/>
<line x1="67.00" y1="230.73" x2="67.00" y2="267.78" stroke="#d04a5a" stroke-width="1.2"/>
<line x1="63.50" y1="230.73" x2="70.50" y2="230.73" stroke="#d04a5a" stroke-width="1.2"/>
<line x1="63.50" y1="267.78" x2="70.50" y2="267.78" stroke="#d04a5a" stroke-width="1.2"/>
<line x1="95.20" y1="235.05" x2="95.20" y2="267.78" stroke="#7a5a98" stroke-width="1.2"/>
<line x1="91.70" y1="235.05" x2="98.70" y2="235.05" stroke="#7a5a98" stroke-width="1.2"/>
<line x1="91.70" y1="267.78" x2="98.70" y2="267.78" stroke="#7a5a98" stroke-width="1.2"/>
<circle cx="67.00" cy="230.73" r="2.0" fill="#fff" stroke="#d04a5a" stroke-width="1.1"/>
<circle cx="67.00" cy="236.90" r="2.0" fill="#fff" stroke="#d04a5a" stroke-width="1.1"/>
<circle cx="67.00" cy="241.84" r="2.0" fill="#fff" stroke="#d04a5a" stroke-width="1.1"/>
<circle cx="67.00" cy="249.25" r="2.0" fill="#fff" stroke="#d04a5a" stroke-width="1.1"/>
<circle cx="67.00" cy="271.48" r="2.0" fill="#fff" stroke="#d04a5a" stroke-width="1.1"/>
<circle cx="67.00" cy="274.57" r="2.0" fill="#fff" stroke="#d04a5a" stroke-width="1.1"/>
<circle cx="95.20" cy="210.97" r="2.0" fill="#fff" stroke="#8a60a8" stroke-width="1.1"/>
<circle cx="95.20" cy="243.08" r="2.0" fill="#fff" stroke="#8a60a8" stroke-width="1.1"/>
<circle cx="95.20" cy="250.49" r="2.0" fill="#fff" stroke="#8a60a8" stroke-width="1.1"/>
<circle cx="95.20" cy="257.90" r="2.0" fill="#fff" stroke="#8a60a8" stroke-width="1.1"/>
<circle cx="95.20" cy="265.31" r="2.0" fill="#fff" stroke="#8a60a8" stroke-width="1.1"/>
<text x="29.9" y="234.7" font-size="8.5" text-anchor="middle" fill="#2a2a2a" font-weight="normal" stroke="#2a2a2a" stroke-width="0.1" transform="rotate(-90 29.9 234.7)" textLength="55" lengthAdjust="spacingAndGlyphs">CXCL12 (ng/ml)</text>
<text x="66.8" y="296.2" font-size="7.3" text-anchor="middle" fill="#222" font-weight="normal" stroke="#222" stroke-width="0.1">HD-</text>
<text x="66.8" y="304.6" font-size="7.3" text-anchor="middle" fill="#222" font-weight="normal" stroke="#222" stroke-width="0.1">MSC</text>
<text x="95" y="296.2" font-size="7.3" text-anchor="middle" fill="#222" font-weight="normal" stroke="#222" stroke-width="0.1">AML-</text>
<text x="95" y="304.6" font-size="7.3" text-anchor="middle" fill="#222" font-weight="normal" stroke="#222" stroke-width="0.1">MSC</text>
<line x1="170.30" y1="190.42" x2="170.30" y2="286.90" stroke="#1e1e1e" stroke-width="1.3"/>
<line x1="167.30" y1="286.30" x2="170.30" y2="286.30" stroke="#1e1e1e" stroke-width="1.2"/>
<text x="163.3" y="289.05" font-size="7.8" text-anchor="end" fill="#3a3a3a" font-weight="normal" stroke="#3a3a3a" stroke-width="0.1" stroke-opacity="0">0</text>
<line x1="167.30" y1="263.08" x2="170.30" y2="263.08" stroke="#1e1e1e" stroke-width="1.2"/>
<text x="163.3" y="265.83000000000004" font-size="7.8" text-anchor="end" fill="#3a3a3a" font-weight="normal" stroke="#3a3a3a" stroke-width="0.1" stroke-opacity="0">20</text>
<line x1="167.30" y1="239.86" x2="170.30" y2="239.86" stroke="#1e1e1e" stroke-width="1.2"/>
<text x="163.3" y="242.61" font-size="7.8" text-anchor="end" fill="#3a3a3a" font-weight="normal" stroke="#3a3a3a" stroke-width="0.1" stroke-opacity="0">40</text>
<line x1="167.30" y1="216.64" x2="170.30" y2="216.64" stroke="#1e1e1e" stroke-width="1.2"/>
<text x="163.3" y="219.39000000000001" font-size="7.8" text-anchor="end" fill="#3a3a3a" font-weight="normal" stroke="#3a3a3a" stroke-width="0.1" stroke-opacity="0">60</text>
<line x1="167.30" y1="193.42" x2="170.30" y2="193.42" stroke="#1e1e1e" stroke-width="1.2"/>
<text x="163.3" y="196.17000000000002" font-size="7.8" text-anchor="end" fill="#3a3a3a" font-weight="normal" stroke="#3a3a3a" stroke-width="0.1" stroke-opacity="0">80</text>
<line x1="170.30" y1="286.30" x2="308.40" y2="286.30" stroke="#1e1e1e" stroke-width="1.3"/>
<rect x="177.80" y="257.28" width="12.60" height="29.03" fill="#8e9cc2" stroke="none" stroke-width="0"/>
<line x1="184.10" y1="247.99" x2="184.10" y2="266.56" stroke="#4f70b0" stroke-width="0.8"/>
<line x1="181.60" y1="247.99" x2="186.60" y2="247.99" stroke="#4f70b0" stroke-width="0.8"/>
<rect x="197.20" y="243.34" width="12.80" height="42.96" fill="#f9c58c" stroke="none" stroke-width="0"/>
<line x1="203.60" y1="228.25" x2="203.60" y2="258.44" stroke="#f4a447" stroke-width="0.8"/>
<line x1="201.10" y1="228.25" x2="206.10" y2="228.25" stroke="#f4a447" stroke-width="0.8"/>
<rect x="216.70" y="230.57" width="12.70" height="55.73" fill="#b0d59c" stroke="none" stroke-width="0"/>
<line x1="223.05" y1="212.00" x2="223.05" y2="249.15" stroke="#68b65c" stroke-width="0.8"/>
<line x1="220.55" y1="212.00" x2="225.55" y2="212.00" stroke="#68b65c" stroke-width="0.8"/>
<rect x="250.30" y="262.50" width="12.70" height="23.80" fill="#8e9cc2" stroke="none" stroke-width="0"/>
<line x1="256.65" y1="255.53" x2="256.65" y2="269.47" stroke="#4f70b0" stroke-width="0.8"/>
<line x1="254.15" y1="255.53" x2="259.15" y2="255.53" stroke="#4f70b0" stroke-width="0.8"/>
<rect x="269.70" y="260.76" width="13.10" height="25.54" fill="#f9c58c" stroke="none" stroke-width="0"/>
<line x1="276.25" y1="253.79" x2="276.25" y2="267.72" stroke="#f4a447" stroke-width="0.8"/>
<line x1="273.75" y1="253.79" x2="278.75" y2="253.79" stroke="#f4a447" stroke-width="0.8"/>
<rect x="289.40" y="258.44" width="12.70" height="27.86" fill="#b0d59c" stroke="none" stroke-width="0"/>
<line x1="295.75" y1="249.15" x2="295.75" y2="267.72" stroke="#68b65c" stroke-width="0.8"/>
<line x1="293.25" y1="249.15" x2="298.25" y2="249.15" stroke="#68b65c" stroke-width="0.8"/>
<circle cx="184.10" cy="239.86" r="1.35" fill="#fff" stroke="#4f70b0" stroke-width="0.75"/>
<circle cx="184.10" cy="242.18" r="1.35" fill="#fff" stroke="#4f70b0" stroke-width="0.75"/>
<circle cx="184.10" cy="247.99" r="1.35" fill="#fff" stroke="#4f70b0" stroke-width="0.75"/>
<circle cx="184.10" cy="251.47" r="1.35" fill="#fff" stroke="#4f70b0" stroke-width="0.75"/>
<circle cx="184.10" cy="253.79" r="1.35" fill="#fff" stroke="#4f70b0" stroke-width="0.75"/>
<circle cx="184.10" cy="256.11" r="1.35" fill="#fff" stroke="#4f70b0" stroke-width="0.75"/>
<circle cx="184.10" cy="258.44" r="1.35" fill="#fff" stroke="#4f70b0" stroke-width="0.75"/>
<circle cx="184.10" cy="260.76" r="1.35" fill="#fff" stroke="#4f70b0" stroke-width="0.75"/>
<circle cx="184.10" cy="263.08" r="1.35" fill="#fff" stroke="#4f70b0" stroke-width="0.75"/>
<circle cx="184.10" cy="265.40" r="1.35" fill="#fff" stroke="#4f70b0" stroke-width="0.75"/>
<circle cx="184.10" cy="267.72" r="1.35" fill="#fff" stroke="#4f70b0" stroke-width="0.75"/>
<circle cx="184.10" cy="270.05" r="1.35" fill="#fff" stroke="#4f70b0" stroke-width="0.75"/>
<circle cx="184.10" cy="272.37" r="1.35" fill="#fff" stroke="#4f70b0" stroke-width="0.75"/>
<circle cx="203.60" cy="214.32" r="1.35" fill="#fff" stroke="#f4a447" stroke-width="0.75"/>
<circle cx="203.60" cy="228.25" r="1.35" fill="#fff" stroke="#f4a447" stroke-width="0.75"/>
<circle cx="203.60" cy="234.06" r="1.35" fill="#fff" stroke="#f4a447" stroke-width="0.75"/>
<circle cx="203.60" cy="237.54" r="1.35" fill="#fff" stroke="#f4a447" stroke-width="0.75"/>
<circle cx="203.60" cy="242.18" r="1.35" fill="#fff" stroke="#f4a447" stroke-width="0.75"/>
<circle cx="203.60" cy="245.67" r="1.35" fill="#fff" stroke="#f4a447" stroke-width="0.75"/>
<circle cx="203.60" cy="249.15" r="1.35" fill="#fff" stroke="#f4a447" stroke-width="0.75"/>
<circle cx="203.60" cy="251.47" r="1.35" fill="#fff" stroke="#f4a447" stroke-width="0.75"/>
<circle cx="203.60" cy="253.79" r="1.35" fill="#fff" stroke="#f4a447" stroke-width="0.75"/>
<circle cx="203.60" cy="257.28" r="1.35" fill="#fff" stroke="#f4a447" stroke-width="0.75"/>
<circle cx="203.60" cy="260.76" r="1.35" fill="#fff" stroke="#f4a447" stroke-width="0.75"/>
<circle cx="223.00" cy="203.87" r="1.35" fill="#fff" stroke="#68b65c" stroke-width="0.75"/>
<circle cx="223.00" cy="205.61" r="1.35" fill="#fff" stroke="#68b65c" stroke-width="0.75"/>
<circle cx="223.00" cy="214.32" r="1.35" fill="#fff" stroke="#68b65c" stroke-width="0.75"/>
<circle cx="223.00" cy="218.96" r="1.35" fill="#fff" stroke="#68b65c" stroke-width="0.75"/>
<circle cx="223.00" cy="222.44" r="1.35" fill="#fff" stroke="#68b65c" stroke-width="0.75"/>
<circle cx="223.00" cy="225.93" r="1.35" fill="#fff" stroke="#68b65c" stroke-width="0.75"/>
<circle cx="223.00" cy="230.57" r="1.35" fill="#fff" stroke="#68b65c" stroke-width="0.75"/>
<circle cx="223.00" cy="234.06" r="1.35" fill="#fff" stroke="#68b65c" stroke-width="0.75"/>
<circle cx="223.00" cy="239.86" r="1.35" fill="#fff" stroke="#68b65c" stroke-width="0.75"/>
<circle cx="223.00" cy="244.50" r="1.35" fill="#fff" stroke="#68b65c" stroke-width="0.75"/>
<circle cx="223.00" cy="251.47" r="1.35" fill="#fff" stroke="#68b65c" stroke-width="0.75"/>
<circle cx="223.00" cy="263.08" r="1.35" fill="#fff" stroke="#68b65c" stroke-width="0.75"/>
<circle cx="256.60" cy="251.47" r="1.35" fill="#fff" stroke="#4f70b0" stroke-width="0.75"/>
<circle cx="256.60" cy="253.79" r="1.35" fill="#fff" stroke="#4f70b0" stroke-width="0.75"/>
<circle cx="256.60" cy="256.11" r="1.35" fill="#fff" stroke="#4f70b0" stroke-width="0.75"/>
<circle cx="256.60" cy="258.44" r="1.35" fill="#fff" stroke="#4f70b0" stroke-width="0.75"/>
<circle cx="256.60" cy="260.76" r="1.35" fill="#fff" stroke="#4f70b0" stroke-width="0.75"/>
<circle cx="256.60" cy="265.40" r="1.35" fill="#fff" stroke="#4f70b0" stroke-width="0.75"/>
<circle cx="256.60" cy="270.05" r="1.35" fill="#fff" stroke="#4f70b0" stroke-width="0.75"/>
<circle cx="276.20" cy="244.50" r="1.35" fill="#fff" stroke="#f4a447" stroke-width="0.75"/>
<circle cx="276.20" cy="249.15" r="1.35" fill="#fff" stroke="#f4a447" stroke-width="0.75"/>
<circle cx="276.20" cy="253.79" r="1.35" fill="#fff" stroke="#f4a447" stroke-width="0.75"/>
<circle cx="276.20" cy="258.44" r="1.35" fill="#fff" stroke="#f4a447" stroke-width="0.75"/>
<circle cx="276.20" cy="260.76" r="1.35" fill="#fff" stroke="#f4a447" stroke-width="0.75"/>
<circle cx="276.20" cy="263.08" r="1.35" fill="#fff" stroke="#f4a447" stroke-width="0.75"/>
<circle cx="276.20" cy="265.40" r="1.35" fill="#fff" stroke="#f4a447" stroke-width="0.75"/>
<circle cx="276.20" cy="272.37" r="1.35" fill="#fff" stroke="#f4a447" stroke-width="0.75"/>
<circle cx="295.70" cy="242.18" r="1.35" fill="#fff" stroke="#68b65c" stroke-width="0.75"/>
<circle cx="295.70" cy="244.50" r="1.35" fill="#fff" stroke="#68b65c" stroke-width="0.75"/>
<circle cx="295.70" cy="246.83" r="1.35" fill="#fff" stroke="#68b65c" stroke-width="0.75"/>
<circle cx="295.70" cy="251.47" r="1.35" fill="#fff" stroke="#68b65c" stroke-width="0.75"/>
<circle cx="295.70" cy="253.79" r="1.35" fill="#fff" stroke="#68b65c" stroke-width="0.75"/>
<circle cx="295.70" cy="258.44" r="1.35" fill="#fff" stroke="#68b65c" stroke-width="0.75"/>
<circle cx="295.70" cy="263.08" r="1.35" fill="#fff" stroke="#68b65c" stroke-width="0.75"/>
<circle cx="295.70" cy="267.72" r="1.35" fill="#fff" stroke="#68b65c" stroke-width="0.75"/>
<circle cx="295.70" cy="272.37" r="1.35" fill="#fff" stroke="#68b65c" stroke-width="0.75"/>
<circle cx="295.70" cy="277.01" r="1.35" fill="#fff" stroke="#68b65c" stroke-width="0.75"/>
<line x1="184.50" y1="189.60" x2="223.00" y2="189.60" stroke="#3c3c3c" stroke-width="1.05"/>
<circle cx="198.95" cy="185.80" r="1.1" fill="#333" stroke="none" stroke-width="1"/>
<circle cx="202.15" cy="185.80" r="1.1" fill="#333" stroke="none" stroke-width="1"/>
<circle cx="205.35" cy="185.80" r="1.1" fill="#333" stroke="none" stroke-width="1"/>
<circle cx="208.55" cy="185.80" r="1.1" fill="#333" stroke="none" stroke-width="1"/>
<line x1="204.00" y1="198.50" x2="223.00" y2="198.50" stroke="#3c3c3c" stroke-width="1.05"/>
<circle cx="211.90" cy="194.70" r="1.1" fill="#333" stroke="none" stroke-width="1"/>
<circle cx="215.10" cy="194.70" r="1.1" fill="#333" stroke="none" stroke-width="1"/>
<line x1="184.50" y1="210.10" x2="203.60" y2="210.10" stroke="#3c3c3c" stroke-width="1.05"/>
<circle cx="189.25" cy="206.30" r="1.1" fill="#333" stroke="none" stroke-width="1"/>
<circle cx="192.45" cy="206.30" r="1.1" fill="#333" stroke="none" stroke-width="1"/>
<circle cx="195.65" cy="206.30" r="1.1" fill="#333" stroke="none" stroke-width="1"/>
<circle cx="198.85" cy="206.30" r="1.1" fill="#333" stroke="none" stroke-width="1"/>
<text x="147.4" y="238.3" font-size="7.95" text-anchor="middle" fill="#2a2a2a" font-weight="normal" stroke="#2a2a2a" stroke-width="0.1" transform="rotate(-90 147.4 238.3)">% of migration</text>
<line x1="203.60" y1="286.30" x2="203.60" y2="288.80" stroke="#1e1e1e" stroke-width="0.9"/>
<text x="203.75" y="299.4" font-size="7.5" text-anchor="middle" fill="#2a2a2a" font-weight="normal" stroke="#2a2a2a" stroke-width="0.1">HD-MSC</text>
<line x1="276.00" y1="286.30" x2="276.00" y2="288.80" stroke="#1e1e1e" stroke-width="0.9"/>
<text x="276.9" y="299.4" font-size="7.5" text-anchor="middle" fill="#2a2a2a" font-weight="normal" stroke="#2a2a2a" stroke-width="0.1">HD-MSC + Plx</text>
<line x1="347.70" y1="190.42" x2="347.70" y2="286.90" stroke="#1e1e1e" stroke-width="1.3"/>
<line x1="344.70" y1="286.30" x2="347.70" y2="286.30" stroke="#1e1e1e" stroke-width="1.2"/>
<text x="340.7" y="289.05" font-size="7.8" text-anchor="end" fill="#3a3a3a" font-weight="normal" stroke="#3a3a3a" stroke-width="0.1" stroke-opacity="0">0</text>
<line x1="344.70" y1="263.08" x2="347.70" y2="263.08" stroke="#1e1e1e" stroke-width="1.2"/>
<text x="340.7" y="265.83000000000004" font-size="7.8" text-anchor="end" fill="#3a3a3a" font-weight="normal" stroke="#3a3a3a" stroke-width="0.1" stroke-opacity="0">20</text>
<line x1="344.70" y1="239.86" x2="347.70" y2="239.86" stroke="#1e1e1e" stroke-width="1.2"/>
<text x="340.7" y="242.61" font-size="7.8" text-anchor="end" fill="#3a3a3a" font-weight="normal" stroke="#3a3a3a" stroke-width="0.1" stroke-opacity="0">40</text>
<line x1="344.70" y1="216.64" x2="347.70" y2="216.64" stroke="#1e1e1e" stroke-width="1.2"/>
<text x="340.7" y="219.39000000000001" font-size="7.8" text-anchor="end" fill="#3a3a3a" font-weight="normal" stroke="#3a3a3a" stroke-width="0.1" stroke-opacity="0">60</text>
<line x1="344.70" y1="193.42" x2="347.70" y2="193.42" stroke="#1e1e1e" stroke-width="1.2"/>
<text x="340.7" y="196.17000000000002" font-size="7.8" text-anchor="end" fill="#3a3a3a" font-weight="normal" stroke="#3a3a3a" stroke-width="0.1" stroke-opacity="0">80</text>
<line x1="347.70" y1="286.30" x2="485.80" y2="286.30" stroke="#1e1e1e" stroke-width="1.3"/>
<rect x="354.00" y="256.11" width="13.10" height="30.19" fill="#8e9cc2" stroke="none" stroke-width="0"/>
<line x1="360.55" y1="244.50" x2="360.55" y2="267.72" stroke="#4f70b0" stroke-width="0.8"/>
<line x1="358.05" y1="244.50" x2="363.05" y2="244.50" stroke="#4f70b0" stroke-width="0.8"/>
<rect x="373.50" y="240.44" width="13.10" height="45.86" fill="#f9c58c" stroke="none" stroke-width="0"/>
<line x1="380.05" y1="224.19" x2="380.05" y2="256.69" stroke="#f4a447" stroke-width="0.8"/>
<line x1="377.55" y1="224.19" x2="382.55" y2="224.19" stroke="#f4a447" stroke-width="0.8"/>
<rect x="393.10" y="232.89" width="13.20" height="53.41" fill="#b0d59c" stroke="none" stroke-width="0"/>
<line x1="399.70" y1="220.12" x2="399.70" y2="245.67" stroke="#68b65c" stroke-width="0.8"/>
<line x1="397.20" y1="220.12" x2="402.20" y2="220.12" stroke="#68b65c" stroke-width="0.8"/>
<rect x="427.00" y="261.34" width="12.70" height="24.96" fill="#8e9cc2" stroke="none" stroke-width="0"/>
<line x1="433.35" y1="250.89" x2="433.35" y2="271.79" stroke="#4f70b0" stroke-width="0.8"/>
<line x1="430.85" y1="250.89" x2="435.85" y2="250.89" stroke="#4f70b0" stroke-width="0.8"/>
<rect x="446.60" y="257.28" width="12.70" height="29.03" fill="#f9c58c" stroke="none" stroke-width="0"/>
<line x1="452.95" y1="251.47" x2="452.95" y2="263.08" stroke="#f4a447" stroke-width="0.8"/>
<line x1="450.45" y1="251.47" x2="455.45" y2="251.47" stroke="#f4a447" stroke-width="0.8"/>
<rect x="466.20" y="260.76" width="12.80" height="25.54" fill="#b0d59c" stroke="none" stroke-width="0"/>
<line x1="472.60" y1="251.47" x2="472.60" y2="270.05" stroke="#68b65c" stroke-width="0.8"/>
<line x1="470.10" y1="251.47" x2="475.10" y2="251.47" stroke="#68b65c" stroke-width="0.8"/>
<circle cx="360.50" cy="234.06" r="1.35" fill="#fff" stroke="#4f70b0" stroke-width="0.75"/>
<circle cx="360.50" cy="242.18" r="1.35" fill="#fff" stroke="#4f70b0" stroke-width="0.75"/>
<circle cx="360.50" cy="245.67" r="1.35" fill="#fff" stroke="#4f70b0" stroke-width="0.75"/>
<circle cx="360.50" cy="251.47" r="1.35" fill="#fff" stroke="#4f70b0" stroke-width="0.75"/>
<circle cx="360.50" cy="253.79" r="1.35" fill="#fff" stroke="#4f70b0" stroke-width="0.75"/>
<circle cx="360.50" cy="257.28" r="1.35" fill="#fff" stroke="#4f70b0" stroke-width="0.75"/>
<circle cx="360.50" cy="260.76" r="1.35" fill="#fff" stroke="#4f70b0" stroke-width="0.75"/>
<circle cx="360.50" cy="263.08" r="1.35" fill="#fff" stroke="#4f70b0" stroke-width="0.75"/>
<circle cx="360.50" cy="268.88" r="1.35" fill="#fff" stroke="#4f70b0" stroke-width="0.75"/>
<circle cx="360.50" cy="280.50" r="1.35" fill="#fff" stroke="#4f70b0" stroke-width="0.75"/>
<circle cx="380.00" cy="218.96" r="1.35" fill="#fff" stroke="#f4a447" stroke-width="0.75"/>
<circle cx="380.00" cy="225.93" r="1.35" fill="#fff" stroke="#f4a447" stroke-width="0.75"/>
<circle cx="380.00" cy="234.06" r="1.35" fill="#fff" stroke="#f4a447" stroke-width="0.75"/>
<circle cx="380.00" cy="239.86" r="1.35" fill="#fff" stroke="#f4a447" stroke-width="0.75"/>
<circle cx="380.00" cy="242.18" r="1.35" fill="#fff" stroke="#f4a447" stroke-width="0.75"/>
<circle cx="380.00" cy="246.83" r="1.35" fill="#fff" stroke="#f4a447" stroke-width="0.75"/>
<circle cx="380.00" cy="251.47" r="1.35" fill="#fff" stroke="#f4a447" stroke-width="0.75"/>
<circle cx="380.00" cy="257.28" r="1.35" fill="#fff" stroke="#f4a447" stroke-width="0.75"/>
<circle cx="380.00" cy="260.76" r="1.35" fill="#fff" stroke="#f4a447" stroke-width="0.75"/>
<circle cx="380.00" cy="272.37" r="1.35" fill="#fff" stroke="#f4a447" stroke-width="0.75"/>
<circle cx="399.70" cy="202.71" r="1.35" fill="#fff" stroke="#68b65c" stroke-width="0.75"/>
<circle cx="399.70" cy="214.32" r="1.35" fill="#fff" stroke="#68b65c" stroke-width="0.75"/>
<circle cx="399.70" cy="222.44" r="1.35" fill="#fff" stroke="#68b65c" stroke-width="0.75"/>
<circle cx="399.70" cy="230.57" r="1.35" fill="#fff" stroke="#68b65c" stroke-width="0.75"/>
<circle cx="399.70" cy="234.06" r="1.35" fill="#fff" stroke="#68b65c" stroke-width="0.75"/>
<circle cx="399.70" cy="237.54" r="1.35" fill="#fff" stroke="#68b65c" stroke-width="0.75"/>
<circle cx="399.70" cy="242.18" r="1.35" fill="#fff" stroke="#68b65c" stroke-width="0.75"/>
<circle cx="399.70" cy="245.67" r="1.35" fill="#fff" stroke="#68b65c" stroke-width="0.75"/>
<circle cx="399.70" cy="249.15" r="1.35" fill="#fff" stroke="#68b65c" stroke-width="0.75"/>
<circle cx="433.30" cy="237.54" r="1.35" fill="#fff" stroke="#4f70b0" stroke-width="0.75"/>
<circle cx="433.30" cy="244.50" r="1.35" fill="#fff" stroke="#4f70b0" stroke-width="0.75"/>
<circle cx="433.30" cy="251.47" r="1.35" fill="#fff" stroke="#4f70b0" stroke-width="0.75"/>
<circle cx="433.30" cy="253.79" r="1.35" fill="#fff" stroke="#4f70b0" stroke-width="0.75"/>
<circle cx="433.30" cy="257.28" r="1.35" fill="#fff" stroke="#4f70b0" stroke-width="0.75"/>
<circle cx="433.30" cy="263.08" r="1.35" fill="#fff" stroke="#4f70b0" stroke-width="0.75"/>
<circle cx="433.30" cy="268.88" r="1.35" fill="#fff" stroke="#4f70b0" stroke-width="0.75"/>
<circle cx="433.30" cy="274.69" r="1.35" fill="#fff" stroke="#4f70b0" stroke-width="0.75"/>
<circle cx="433.30" cy="280.50" r="1.35" fill="#fff" stroke="#4f70b0" stroke-width="0.75"/>
<circle cx="453.00" cy="245.67" r="1.35" fill="#fff" stroke="#f4a447" stroke-width="0.75"/>
<circle cx="453.00" cy="249.15" r="1.35" fill="#fff" stroke="#f4a447" stroke-width="0.75"/>
<circle cx="453.00" cy="251.47" r="1.35" fill="#fff" stroke="#f4a447" stroke-width="0.75"/>
<circle cx="453.00" cy="253.79" r="1.35" fill="#fff" stroke="#f4a447" stroke-width="0.75"/>
<circle cx="453.00" cy="257.28" r="1.35" fill="#fff" stroke="#f4a447" stroke-width="0.75"/>
<circle cx="453.00" cy="260.76" r="1.35" fill="#fff" stroke="#f4a447" stroke-width="0.75"/>
<circle cx="453.00" cy="268.88" r="1.35" fill="#fff" stroke="#f4a447" stroke-width="0.75"/>
<circle cx="453.00" cy="274.69" r="1.35" fill="#fff" stroke="#f4a447" stroke-width="0.75"/>
<circle cx="453.00" cy="280.50" r="1.35" fill="#fff" stroke="#f4a447" stroke-width="0.75"/>
<circle cx="472.60" cy="239.86" r="1.35" fill="#fff" stroke="#68b65c" stroke-width="0.75"/>
<circle cx="472.60" cy="242.18" r="1.35" fill="#fff" stroke="#68b65c" stroke-width="0.75"/>
<circle cx="472.60" cy="253.79" r="1.35" fill="#fff" stroke="#68b65c" stroke-width="0.75"/>
<circle cx="472.60" cy="257.28" r="1.35" fill="#fff" stroke="#68b65c" stroke-width="0.75"/>
<circle cx="472.60" cy="260.76" r="1.35" fill="#fff" stroke="#68b65c" stroke-width="0.75"/>
<circle cx="472.60" cy="265.40" r="1.35" fill="#fff" stroke="#68b65c" stroke-width="0.75"/>
<circle cx="472.60" cy="270.05" r="1.35" fill="#fff" stroke="#68b65c" stroke-width="0.75"/>
<circle cx="472.60" cy="274.69" r="1.35" fill="#fff" stroke="#68b65c" stroke-width="0.75"/>
<circle cx="472.60" cy="280.50" r="1.35" fill="#fff" stroke="#68b65c" stroke-width="0.75"/>
<line x1="360.80" y1="188.10" x2="399.90" y2="188.10" stroke="#3c3c3c" stroke-width="1.05"/>
<circle cx="375.55" cy="184.30" r="1.1" fill="#333" stroke="none" stroke-width="1"/>
<circle cx="378.75" cy="184.30" r="1.1" fill="#333" stroke="none" stroke-width="1"/>
<circle cx="381.95" cy="184.30" r="1.1" fill="#333" stroke="none" stroke-width="1"/>
<circle cx="385.15" cy="184.30" r="1.1" fill="#333" stroke="none" stroke-width="1"/>
<line x1="379.80" y1="197.00" x2="399.90" y2="197.00" stroke="#3c3c3c" stroke-width="1.05"/>
<circle cx="389.85" cy="193.20" r="1.1" fill="#333" stroke="none" stroke-width="1"/>
<line x1="360.80" y1="211.80" x2="379.80" y2="211.80" stroke="#3c3c3c" stroke-width="1.05"/>
<circle cx="365.50" cy="208.00" r="1.1" fill="#333" stroke="none" stroke-width="1"/>
<circle cx="368.70" cy="208.00" r="1.1" fill="#333" stroke="none" stroke-width="1"/>
<circle cx="371.90" cy="208.00" r="1.1" fill="#333" stroke="none" stroke-width="1"/>
<circle cx="375.10" cy="208.00" r="1.1" fill="#333" stroke="none" stroke-width="1"/>
<text x="324.0" y="238.3" font-size="7.95" text-anchor="middle" fill="#2a2a2a" font-weight="normal" stroke="#2a2a2a" stroke-width="0.1" transform="rotate(-90 324.0 238.3)">% of migration</text>
<line x1="380.00" y1="286.30" x2="380.00" y2="288.80" stroke="#1e1e1e" stroke-width="0.9"/>
<text x="380.25" y="299.4" font-size="7.5" text-anchor="middle" fill="#2a2a2a" font-weight="normal" stroke="#2a2a2a" stroke-width="0.1">AML-MSC</text>
<line x1="452.60" y1="286.30" x2="452.60" y2="288.80" stroke="#1e1e1e" stroke-width="0.9"/>
<text x="453.1" y="299.4" font-size="7.5" text-anchor="middle" fill="#2a2a2a" font-weight="normal" stroke="#2a2a2a" stroke-width="0.1">AML-MSC + Plx</text>
<line x1="55.70" y1="332.20" x2="55.70" y2="418.60" stroke="#1e1e1e" stroke-width="1.3"/>
<line x1="52.70" y1="418.00" x2="55.70" y2="418.00" stroke="#1e1e1e" stroke-width="1.2"/>
<text x="49.4" y="420.75" font-size="7.8" text-anchor="end" fill="#3a3a3a" font-weight="normal" stroke="#3a3a3a" stroke-width="0.1" stroke-opacity="0">0</text>
<line x1="52.70" y1="401.44" x2="55.70" y2="401.44" stroke="#1e1e1e" stroke-width="1.2"/>
<text x="49.4" y="404.19" font-size="7.8" text-anchor="end" fill="#3a3a3a" font-weight="normal" stroke="#3a3a3a" stroke-width="0.1" stroke-opacity="0">20</text>
<line x1="52.70" y1="384.88" x2="55.70" y2="384.88" stroke="#1e1e1e" stroke-width="1.2"/>
<text x="49.4" y="387.63" font-size="7.8" text-anchor="end" fill="#3a3a3a" font-weight="normal" stroke="#3a3a3a" stroke-width="0.1" stroke-opacity="0">40</text>
<line x1="52.70" y1="368.32" x2="55.70" y2="368.32" stroke="#1e1e1e" stroke-width="1.2"/>
<text x="49.4" y="371.07" font-size="7.8" text-anchor="end" fill="#3a3a3a" font-weight="normal" stroke="#3a3a3a" stroke-width="0.1" stroke-opacity="0">60</text>
<line x1="52.70" y1="351.76" x2="55.70" y2="351.76" stroke="#1e1e1e" stroke-width="1.2"/>
<text x="49.4" y="354.51" font-size="7.8" text-anchor="end" fill="#3a3a3a" font-weight="normal" stroke="#3a3a3a" stroke-width="0.1" stroke-opacity="0">80</text>
<line x1="52.70" y1="335.20" x2="55.70" y2="335.20" stroke="#1e1e1e" stroke-width="1.2"/>
<text x="49.4" y="337.95" font-size="7.8" text-anchor="end" fill="#3a3a3a" font-weight="normal" stroke="#3a3a3a" stroke-width="0.1" stroke-opacity="0">100</text>
<line x1="55.70" y1="418.00" x2="242.20" y2="418.00" stroke="#1e1e1e" stroke-width="1.3"/>
<line x1="68.70" y1="418.00" x2="68.70" y2="420.50" stroke="#1e1e1e" stroke-width="0.9"/>
<rect x="58.70" y="354.24" width="6.20" height="63.76" fill="#f7f9fc" stroke="#c2cde0" stroke-width="1.0"/>
<line x1="61.80" y1="345.96" x2="61.80" y2="362.52" stroke="#c2cde0" stroke-width="0.6"/>
<line x1="60.20" y1="345.96" x2="63.40" y2="345.96" stroke="#c2cde0" stroke-width="0.6"/>
<circle cx="60.88" cy="349.74" r="0.75" fill="#4f70b0" stroke="none" stroke-width="1"/>
<circle cx="61.22" cy="360.32" r="0.75" fill="#4f70b0" stroke="none" stroke-width="1"/>
<circle cx="62.09" cy="360.52" r="0.75" fill="#4f70b0" stroke="none" stroke-width="1"/>
<circle cx="62.21" cy="361.29" r="0.75" fill="#4f70b0" stroke="none" stroke-width="1"/>
<circle cx="61.78" cy="341.83" r="0.75" fill="#4f70b0" stroke="none" stroke-width="1"/>
<circle cx="62.19" cy="364.68" r="0.75" fill="#4f70b0" stroke="none" stroke-width="1"/>
<circle cx="61.39" cy="342.62" r="0.75" fill="#4f70b0" stroke="none" stroke-width="1"/>
<rect x="65.60" y="353.42" width="6.20" height="64.58" fill="#fffaf2" stroke="#f0d8c2" stroke-width="1.0"/>
<line x1="68.70" y1="343.48" x2="68.70" y2="363.35" stroke="#f0d8c2" stroke-width="0.6"/>
<line x1="67.10" y1="343.48" x2="70.30" y2="343.48" stroke="#f0d8c2" stroke-width="0.6"/>
<circle cx="69.55" cy="339.63" r="0.75" fill="#f4a447" stroke="none" stroke-width="1"/>
<circle cx="68.34" cy="353.39" r="0.75" fill="#f4a447" stroke="none" stroke-width="1"/>
<circle cx="68.98" cy="352.28" r="0.75" fill="#f4a447" stroke="none" stroke-width="1"/>
<circle cx="69.57" cy="361.02" r="0.75" fill="#f4a447" stroke="none" stroke-width="1"/>
<circle cx="68.97" cy="348.85" r="0.75" fill="#f4a447" stroke="none" stroke-width="1"/>
<circle cx="68.17" cy="338.55" r="0.75" fill="#f4a447" stroke="none" stroke-width="1"/>
<circle cx="68.48" cy="354.90" r="0.75" fill="#f4a447" stroke="none" stroke-width="1"/>
<rect x="72.50" y="360.04" width="6.20" height="57.96" fill="#f7fcf5" stroke="#c6e0c4" stroke-width="1.0"/>
<line x1="75.60" y1="345.14" x2="75.60" y2="374.94" stroke="#c6e0c4" stroke-width="0.6"/>
<line x1="74.00" y1="345.14" x2="77.20" y2="345.14" stroke="#c6e0c4" stroke-width="0.6"/>
<circle cx="76.60" cy="349.24" r="0.75" fill="#68b65c" stroke="none" stroke-width="1"/>
<circle cx="74.80" cy="379.39" r="0.75" fill="#68b65c" stroke="none" stroke-width="1"/>
<circle cx="75.75" cy="372.35" r="0.75" fill="#68b65c" stroke="none" stroke-width="1"/>
<circle cx="76.51" cy="346.45" r="0.75" fill="#68b65c" stroke="none" stroke-width="1"/>
<circle cx="75.38" cy="354.55" r="0.75" fill="#68b65c" stroke="none" stroke-width="1"/>
<circle cx="75.39" cy="354.05" r="0.75" fill="#68b65c" stroke="none" stroke-width="1"/>
<circle cx="74.96" cy="380.95" r="0.75" fill="#68b65c" stroke="none" stroke-width="1"/>
<line x1="91.57" y1="418.00" x2="91.57" y2="420.50" stroke="#1e1e1e" stroke-width="0.9"/>
<rect x="81.57" y="357.14" width="6.20" height="60.86" fill="#f7f9fc" stroke="#c2cde0" stroke-width="1.0"/>
<line x1="84.67" y1="351.35" x2="84.67" y2="362.94" stroke="#c2cde0" stroke-width="0.6"/>
<line x1="83.07" y1="351.35" x2="86.27" y2="351.35" stroke="#c2cde0" stroke-width="0.6"/>
<circle cx="84.90" cy="357.99" r="0.75" fill="#4f70b0" stroke="none" stroke-width="1"/>
<circle cx="85.16" cy="353.56" r="0.75" fill="#4f70b0" stroke="none" stroke-width="1"/>
<circle cx="84.12" cy="364.91" r="0.75" fill="#4f70b0" stroke="none" stroke-width="1"/>
<circle cx="84.58" cy="363.18" r="0.75" fill="#4f70b0" stroke="none" stroke-width="1"/>
<circle cx="85.06" cy="351.95" r="0.75" fill="#4f70b0" stroke="none" stroke-width="1"/>
<circle cx="83.83" cy="356.59" r="0.75" fill="#4f70b0" stroke="none" stroke-width="1"/>
<circle cx="85.00" cy="358.78" r="0.75" fill="#4f70b0" stroke="none" stroke-width="1"/>
<rect x="88.47" y="358.38" width="6.20" height="59.62" fill="#fffaf2" stroke="#f0d8c2" stroke-width="1.0"/>
<line x1="91.57" y1="350.93" x2="91.57" y2="365.84" stroke="#f0d8c2" stroke-width="0.6"/>
<line x1="89.97" y1="350.93" x2="93.17" y2="350.93" stroke="#f0d8c2" stroke-width="0.6"/>
<circle cx="91.46" cy="365.90" r="0.75" fill="#f4a447" stroke="none" stroke-width="1"/>
<circle cx="91.13" cy="360.21" r="0.75" fill="#f4a447" stroke="none" stroke-width="1"/>
<circle cx="91.63" cy="360.11" r="0.75" fill="#f4a447" stroke="none" stroke-width="1"/>
<circle cx="92.25" cy="349.31" r="0.75" fill="#f4a447" stroke="none" stroke-width="1"/>
<circle cx="92.41" cy="358.39" r="0.75" fill="#f4a447" stroke="none" stroke-width="1"/>
<circle cx="91.94" cy="355.83" r="0.75" fill="#f4a447" stroke="none" stroke-width="1"/>
<circle cx="92.43" cy="355.90" r="0.75" fill="#f4a447" stroke="none" stroke-width="1"/>
<rect x="95.37" y="358.38" width="6.20" height="59.62" fill="#f7fcf5" stroke="#c6e0c4" stroke-width="1.0"/>
<line x1="98.47" y1="352.59" x2="98.47" y2="364.18" stroke="#c6e0c4" stroke-width="0.6"/>
<line x1="96.87" y1="352.59" x2="100.07" y2="352.59" stroke="#c6e0c4" stroke-width="0.6"/>
<circle cx="98.23" cy="357.90" r="0.75" fill="#68b65c" stroke="none" stroke-width="1"/>
<circle cx="98.46" cy="353.55" r="0.75" fill="#68b65c" stroke="none" stroke-width="1"/>
<circle cx="99.16" cy="361.01" r="0.75" fill="#68b65c" stroke="none" stroke-width="1"/>
<circle cx="97.59" cy="355.33" r="0.75" fill="#68b65c" stroke="none" stroke-width="1"/>
<circle cx="98.64" cy="357.84" r="0.75" fill="#68b65c" stroke="none" stroke-width="1"/>
<circle cx="99.45" cy="360.46" r="0.75" fill="#68b65c" stroke="none" stroke-width="1"/>
<circle cx="98.37" cy="366.11" r="0.75" fill="#68b65c" stroke="none" stroke-width="1"/>
<line x1="114.44" y1="418.00" x2="114.44" y2="420.50" stroke="#1e1e1e" stroke-width="0.9"/>
<rect x="104.44" y="389.02" width="6.20" height="28.98" fill="#f7f9fc" stroke="#c2cde0" stroke-width="1.0"/>
<line x1="107.54" y1="382.40" x2="107.54" y2="395.64" stroke="#c2cde0" stroke-width="0.6"/>
<line x1="105.94" y1="382.40" x2="109.14" y2="382.40" stroke="#c2cde0" stroke-width="0.6"/>
<circle cx="107.45" cy="382.45" r="0.75" fill="#4f70b0" stroke="none" stroke-width="1"/>
<circle cx="108.30" cy="390.17" r="0.75" fill="#4f70b0" stroke="none" stroke-width="1"/>
<circle cx="107.91" cy="385.56" r="0.75" fill="#4f70b0" stroke="none" stroke-width="1"/>
<circle cx="106.91" cy="383.50" r="0.75" fill="#4f70b0" stroke="none" stroke-width="1"/>
<circle cx="106.61" cy="385.72" r="0.75" fill="#4f70b0" stroke="none" stroke-width="1"/>
<circle cx="108.05" cy="395.50" r="0.75" fill="#4f70b0" stroke="none" stroke-width="1"/>
<circle cx="108.40" cy="382.57" r="0.75" fill="#4f70b0" stroke="none" stroke-width="1"/>
<rect x="111.34" y="391.50" width="6.20" height="26.50" fill="#fffaf2" stroke="#f0d8c2" stroke-width="1.0"/>
<line x1="114.44" y1="384.88" x2="114.44" y2="398.13" stroke="#f0d8c2" stroke-width="0.6"/>
<line x1="112.84" y1="384.88" x2="116.04" y2="384.88" stroke="#f0d8c2" stroke-width="0.6"/>
<circle cx="114.45" cy="397.64" r="0.75" fill="#f4a447" stroke="none" stroke-width="1"/>
<circle cx="113.60" cy="399.29" r="0.75" fill="#f4a447" stroke="none" stroke-width="1"/>
<circle cx="113.47" cy="388.70" r="0.75" fill="#f4a447" stroke="none" stroke-width="1"/>
<circle cx="114.92" cy="400.97" r="0.75" fill="#f4a447" stroke="none" stroke-width="1"/>
<circle cx="114.34" cy="395.21" r="0.75" fill="#f4a447" stroke="none" stroke-width="1"/>
<circle cx="113.99" cy="394.56" r="0.75" fill="#f4a447" stroke="none" stroke-width="1"/>
<circle cx="115.29" cy="391.35" r="0.75" fill="#f4a447" stroke="none" stroke-width="1"/>
<rect x="118.24" y="392.33" width="6.20" height="25.67" fill="#f7fcf5" stroke="#c6e0c4" stroke-width="1.0"/>
<line x1="121.34" y1="385.71" x2="121.34" y2="398.96" stroke="#c6e0c4" stroke-width="0.6"/>
<line x1="119.74" y1="385.71" x2="122.94" y2="385.71" stroke="#c6e0c4" stroke-width="0.6"/>
<circle cx="120.48" cy="386.52" r="0.75" fill="#68b65c" stroke="none" stroke-width="1"/>
<circle cx="121.03" cy="395.40" r="0.75" fill="#68b65c" stroke="none" stroke-width="1"/>
<circle cx="122.19" cy="388.48" r="0.75" fill="#68b65c" stroke="none" stroke-width="1"/>
<circle cx="120.44" cy="382.55" r="0.75" fill="#68b65c" stroke="none" stroke-width="1"/>
<circle cx="122.22" cy="397.72" r="0.75" fill="#68b65c" stroke="none" stroke-width="1"/>
<circle cx="122.03" cy="386.66" r="0.75" fill="#68b65c" stroke="none" stroke-width="1"/>
<circle cx="120.41" cy="396.23" r="0.75" fill="#68b65c" stroke="none" stroke-width="1"/>
<line x1="137.31" y1="418.00" x2="137.31" y2="420.50" stroke="#1e1e1e" stroke-width="0.9"/>
<rect x="127.31" y="367.49" width="6.20" height="50.51" fill="#f7f9fc" stroke="#c2cde0" stroke-width="1.0"/>
<line x1="130.41" y1="359.21" x2="130.41" y2="375.77" stroke="#c2cde0" stroke-width="0.6"/>
<line x1="128.81" y1="359.21" x2="132.01" y2="359.21" stroke="#c2cde0" stroke-width="0.6"/>
<circle cx="129.42" cy="363.51" r="0.75" fill="#4f70b0" stroke="none" stroke-width="1"/>
<circle cx="129.89" cy="374.47" r="0.75" fill="#4f70b0" stroke="none" stroke-width="1"/>
<circle cx="130.05" cy="375.33" r="0.75" fill="#4f70b0" stroke="none" stroke-width="1"/>
<circle cx="130.11" cy="362.02" r="0.75" fill="#4f70b0" stroke="none" stroke-width="1"/>
<circle cx="130.28" cy="360.05" r="0.75" fill="#4f70b0" stroke="none" stroke-width="1"/>
<circle cx="130.29" cy="370.73" r="0.75" fill="#4f70b0" stroke="none" stroke-width="1"/>
<circle cx="131.24" cy="365.38" r="0.75" fill="#4f70b0" stroke="none" stroke-width="1"/>
<rect x="134.21" y="370.80" width="6.20" height="47.20" fill="#fffaf2" stroke="#f0d8c2" stroke-width="1.0"/>
<line x1="137.31" y1="362.52" x2="137.31" y2="379.08" stroke="#f0d8c2" stroke-width="0.6"/>
<line x1="135.71" y1="362.52" x2="138.91" y2="362.52" stroke="#f0d8c2" stroke-width="0.6"/>
<circle cx="136.81" cy="377.68" r="0.75" fill="#f4a447" stroke="none" stroke-width="1"/>
<circle cx="138.30" cy="364.53" r="0.75" fill="#f4a447" stroke="none" stroke-width="1"/>
<circle cx="136.54" cy="359.85" r="0.75" fill="#f4a447" stroke="none" stroke-width="1"/>
<circle cx="136.40" cy="370.87" r="0.75" fill="#f4a447" stroke="none" stroke-width="1"/>
<circle cx="136.74" cy="375.19" r="0.75" fill="#f4a447" stroke="none" stroke-width="1"/>
<circle cx="136.49" cy="376.97" r="0.75" fill="#f4a447" stroke="none" stroke-width="1"/>
<circle cx="138.29" cy="377.66" r="0.75" fill="#f4a447" stroke="none" stroke-width="1"/>
<rect x="141.11" y="370.80" width="6.20" height="47.20" fill="#f7fcf5" stroke="#c6e0c4" stroke-width="1.0"/>
<line x1="144.21" y1="360.87" x2="144.21" y2="380.74" stroke="#c6e0c4" stroke-width="0.6"/>
<line x1="142.61" y1="360.87" x2="145.81" y2="360.87" stroke="#c6e0c4" stroke-width="0.6"/>
<circle cx="144.59" cy="365.51" r="0.75" fill="#68b65c" stroke="none" stroke-width="1"/>
<circle cx="143.87" cy="378.25" r="0.75" fill="#68b65c" stroke="none" stroke-width="1"/>
<circle cx="145.05" cy="360.38" r="0.75" fill="#68b65c" stroke="none" stroke-width="1"/>
<circle cx="143.40" cy="371.36" r="0.75" fill="#68b65c" stroke="none" stroke-width="1"/>
<circle cx="144.55" cy="370.88" r="0.75" fill="#68b65c" stroke="none" stroke-width="1"/>
<circle cx="144.83" cy="363.29" r="0.75" fill="#68b65c" stroke="none" stroke-width="1"/>
<circle cx="143.45" cy="356.57" r="0.75" fill="#68b65c" stroke="none" stroke-width="1"/>
<line x1="160.18" y1="418.00" x2="160.18" y2="420.50" stroke="#1e1e1e" stroke-width="0.9"/>
<rect x="150.43" y="352.59" width="5.70" height="65.41" fill="#8e9cc2" stroke="none" stroke-width="1"/>
<line x1="153.28" y1="345.96" x2="153.28" y2="359.21" stroke="#4f70b0" stroke-width="0.6"/>
<line x1="151.68" y1="345.96" x2="154.88" y2="345.96" stroke="#4f70b0" stroke-width="0.6"/>
<circle cx="153.22" cy="344.12" r="0.75" fill="#4f70b0" stroke="none" stroke-width="1"/>
<circle cx="153.39" cy="351.09" r="0.75" fill="#4f70b0" stroke="none" stroke-width="1"/>
<circle cx="153.16" cy="350.65" r="0.75" fill="#4f70b0" stroke="none" stroke-width="1"/>
<circle cx="152.99" cy="346.16" r="0.75" fill="#4f70b0" stroke="none" stroke-width="1"/>
<circle cx="152.78" cy="357.74" r="0.75" fill="#4f70b0" stroke="none" stroke-width="1"/>
<circle cx="152.96" cy="356.39" r="0.75" fill="#4f70b0" stroke="none" stroke-width="1"/>
<circle cx="153.22" cy="342.94" r="0.75" fill="#4f70b0" stroke="none" stroke-width="1"/>
<rect x="157.33" y="352.59" width="5.70" height="65.41" fill="#f9c58c" stroke="none" stroke-width="1"/>
<line x1="160.18" y1="345.96" x2="160.18" y2="359.21" stroke="#f4a447" stroke-width="0.6"/>
<line x1="158.58" y1="345.96" x2="161.78" y2="345.96" stroke="#f4a447" stroke-width="0.6"/>
<circle cx="160.04" cy="356.18" r="0.75" fill="#f4a447" stroke="none" stroke-width="1"/>
<circle cx="159.88" cy="350.65" r="0.75" fill="#f4a447" stroke="none" stroke-width="1"/>
<circle cx="160.53" cy="355.55" r="0.75" fill="#f4a447" stroke="none" stroke-width="1"/>
<circle cx="160.58" cy="348.87" r="0.75" fill="#f4a447" stroke="none" stroke-width="1"/>
<circle cx="159.97" cy="347.65" r="0.75" fill="#f4a447" stroke="none" stroke-width="1"/>
<circle cx="160.34" cy="357.88" r="0.75" fill="#f4a447" stroke="none" stroke-width="1"/>
<circle cx="160.58" cy="360.34" r="0.75" fill="#f4a447" stroke="none" stroke-width="1"/>
<rect x="164.23" y="365.01" width="5.70" height="52.99" fill="#b0d59c" stroke="none" stroke-width="1"/>
<line x1="167.08" y1="355.07" x2="167.08" y2="374.94" stroke="#68b65c" stroke-width="0.6"/>
<line x1="165.48" y1="355.07" x2="168.68" y2="355.07" stroke="#68b65c" stroke-width="0.6"/>
<circle cx="167.54" cy="353.89" r="0.75" fill="#68b65c" stroke="none" stroke-width="1"/>
<circle cx="167.50" cy="376.80" r="0.75" fill="#68b65c" stroke="none" stroke-width="1"/>
<circle cx="166.26" cy="369.43" r="0.75" fill="#68b65c" stroke="none" stroke-width="1"/>
<circle cx="166.90" cy="351.52" r="0.75" fill="#68b65c" stroke="none" stroke-width="1"/>
<circle cx="166.94" cy="377.58" r="0.75" fill="#68b65c" stroke="none" stroke-width="1"/>
<circle cx="167.98" cy="361.09" r="0.75" fill="#68b65c" stroke="none" stroke-width="1"/>
<circle cx="167.71" cy="377.24" r="0.75" fill="#68b65c" stroke="none" stroke-width="1"/>
<line x1="183.05" y1="418.00" x2="183.05" y2="420.50" stroke="#1e1e1e" stroke-width="0.9"/>
<rect x="173.30" y="358.38" width="5.70" height="59.62" fill="#8e9cc2" stroke="none" stroke-width="1"/>
<line x1="176.15" y1="352.59" x2="176.15" y2="364.18" stroke="#4f70b0" stroke-width="0.6"/>
<line x1="174.55" y1="352.59" x2="177.75" y2="352.59" stroke="#4f70b0" stroke-width="0.6"/>
<circle cx="175.41" cy="364.69" r="0.75" fill="#4f70b0" stroke="none" stroke-width="1"/>
<circle cx="176.53" cy="365.17" r="0.75" fill="#4f70b0" stroke="none" stroke-width="1"/>
<circle cx="176.68" cy="353.91" r="0.75" fill="#4f70b0" stroke="none" stroke-width="1"/>
<circle cx="176.44" cy="363.52" r="0.75" fill="#4f70b0" stroke="none" stroke-width="1"/>
<circle cx="175.91" cy="358.61" r="0.75" fill="#4f70b0" stroke="none" stroke-width="1"/>
<circle cx="176.97" cy="358.96" r="0.75" fill="#4f70b0" stroke="none" stroke-width="1"/>
<circle cx="175.63" cy="363.45" r="0.75" fill="#4f70b0" stroke="none" stroke-width="1"/>
<rect x="180.20" y="358.38" width="5.70" height="59.62" fill="#f9c58c" stroke="none" stroke-width="1"/>
<line x1="183.05" y1="351.76" x2="183.05" y2="365.01" stroke="#f4a447" stroke-width="0.6"/>
<line x1="181.45" y1="351.76" x2="184.65" y2="351.76" stroke="#f4a447" stroke-width="0.6"/>
<circle cx="183.27" cy="365.73" r="0.75" fill="#f4a447" stroke="none" stroke-width="1"/>
<circle cx="183.13" cy="367.72" r="0.75" fill="#f4a447" stroke="none" stroke-width="1"/>
<circle cx="182.95" cy="354.66" r="0.75" fill="#f4a447" stroke="none" stroke-width="1"/>
<circle cx="182.79" cy="367.28" r="0.75" fill="#f4a447" stroke="none" stroke-width="1"/>
<circle cx="183.38" cy="354.14" r="0.75" fill="#f4a447" stroke="none" stroke-width="1"/>
<circle cx="182.82" cy="353.50" r="0.75" fill="#f4a447" stroke="none" stroke-width="1"/>
<circle cx="182.05" cy="349.06" r="0.75" fill="#f4a447" stroke="none" stroke-width="1"/>
<rect x="187.10" y="360.87" width="5.70" height="57.13" fill="#b0d59c" stroke="none" stroke-width="1"/>
<line x1="189.95" y1="354.24" x2="189.95" y2="367.49" stroke="#68b65c" stroke-width="0.6"/>
<line x1="188.35" y1="354.24" x2="191.55" y2="354.24" stroke="#68b65c" stroke-width="0.6"/>
<circle cx="189.58" cy="359.23" r="0.75" fill="#68b65c" stroke="none" stroke-width="1"/>
<circle cx="189.98" cy="368.74" r="0.75" fill="#68b65c" stroke="none" stroke-width="1"/>
<circle cx="189.34" cy="358.14" r="0.75" fill="#68b65c" stroke="none" stroke-width="1"/>
<circle cx="190.12" cy="353.57" r="0.75" fill="#68b65c" stroke="none" stroke-width="1"/>
<circle cx="189.63" cy="365.58" r="0.75" fill="#68b65c" stroke="none" stroke-width="1"/>
<circle cx="190.51" cy="358.41" r="0.75" fill="#68b65c" stroke="none" stroke-width="1"/>
<circle cx="189.47" cy="370.16" r="0.75" fill="#68b65c" stroke="none" stroke-width="1"/>
<line x1="205.92" y1="418.00" x2="205.92" y2="420.50" stroke="#1e1e1e" stroke-width="0.9"/>
<rect x="196.17" y="389.85" width="5.70" height="28.15" fill="#8e9cc2" stroke="none" stroke-width="1"/>
<line x1="199.02" y1="383.22" x2="199.02" y2="396.47" stroke="#4f70b0" stroke-width="0.6"/>
<line x1="197.42" y1="383.22" x2="200.62" y2="383.22" stroke="#4f70b0" stroke-width="0.6"/>
<circle cx="199.80" cy="391.13" r="0.75" fill="#4f70b0" stroke="none" stroke-width="1"/>
<circle cx="198.87" cy="388.86" r="0.75" fill="#4f70b0" stroke="none" stroke-width="1"/>
<circle cx="198.80" cy="388.92" r="0.75" fill="#4f70b0" stroke="none" stroke-width="1"/>
<circle cx="198.42" cy="395.00" r="0.75" fill="#4f70b0" stroke="none" stroke-width="1"/>
<circle cx="199.98" cy="397.30" r="0.75" fill="#4f70b0" stroke="none" stroke-width="1"/>
<circle cx="199.12" cy="395.31" r="0.75" fill="#4f70b0" stroke="none" stroke-width="1"/>
<circle cx="198.34" cy="387.75" r="0.75" fill="#4f70b0" stroke="none" stroke-width="1"/>
<rect x="203.07" y="391.50" width="5.70" height="26.50" fill="#f9c58c" stroke="none" stroke-width="1"/>
<line x1="205.92" y1="386.54" x2="205.92" y2="396.47" stroke="#f4a447" stroke-width="0.6"/>
<line x1="204.32" y1="386.54" x2="207.52" y2="386.54" stroke="#f4a447" stroke-width="0.6"/>
<circle cx="205.09" cy="396.06" r="0.75" fill="#f4a447" stroke="none" stroke-width="1"/>
<circle cx="205.22" cy="391.04" r="0.75" fill="#f4a447" stroke="none" stroke-width="1"/>
<circle cx="206.79" cy="388.39" r="0.75" fill="#f4a447" stroke="none" stroke-width="1"/>
<circle cx="206.69" cy="398.65" r="0.75" fill="#f4a447" stroke="none" stroke-width="1"/>
<circle cx="205.23" cy="388.03" r="0.75" fill="#f4a447" stroke="none" stroke-width="1"/>
<circle cx="205.65" cy="390.22" r="0.75" fill="#f4a447" stroke="none" stroke-width="1"/>
<circle cx="205.61" cy="394.67" r="0.75" fill="#f4a447" stroke="none" stroke-width="1"/>
<rect x="209.97" y="391.50" width="5.70" height="26.50" fill="#b0d59c" stroke="none" stroke-width="1"/>
<line x1="212.82" y1="385.71" x2="212.82" y2="397.30" stroke="#68b65c" stroke-width="0.6"/>
<line x1="211.22" y1="385.71" x2="214.42" y2="385.71" stroke="#68b65c" stroke-width="0.6"/>
<circle cx="212.61" cy="383.58" r="0.75" fill="#68b65c" stroke="none" stroke-width="1"/>
<circle cx="212.09" cy="392.40" r="0.75" fill="#68b65c" stroke="none" stroke-width="1"/>
<circle cx="212.46" cy="384.91" r="0.75" fill="#68b65c" stroke="none" stroke-width="1"/>
<circle cx="212.34" cy="395.53" r="0.75" fill="#68b65c" stroke="none" stroke-width="1"/>
<circle cx="212.10" cy="385.42" r="0.75" fill="#68b65c" stroke="none" stroke-width="1"/>
<circle cx="213.06" cy="393.53" r="0.75" fill="#68b65c" stroke="none" stroke-width="1"/>
<circle cx="213.13" cy="395.22" r="0.75" fill="#68b65c" stroke="none" stroke-width="1"/>
<line x1="228.79" y1="418.00" x2="228.79" y2="420.50" stroke="#1e1e1e" stroke-width="0.9"/>
<rect x="219.04" y="369.15" width="5.70" height="48.85" fill="#8e9cc2" stroke="none" stroke-width="1"/>
<line x1="221.89" y1="360.87" x2="221.89" y2="377.43" stroke="#4f70b0" stroke-width="0.6"/>
<line x1="220.29" y1="360.87" x2="223.49" y2="360.87" stroke="#4f70b0" stroke-width="0.6"/>
<circle cx="221.19" cy="357.99" r="0.75" fill="#4f70b0" stroke="none" stroke-width="1"/>
<circle cx="221.94" cy="359.85" r="0.75" fill="#4f70b0" stroke="none" stroke-width="1"/>
<circle cx="221.23" cy="359.55" r="0.75" fill="#4f70b0" stroke="none" stroke-width="1"/>
<circle cx="222.70" cy="379.29" r="0.75" fill="#4f70b0" stroke="none" stroke-width="1"/>
<circle cx="222.66" cy="376.30" r="0.75" fill="#4f70b0" stroke="none" stroke-width="1"/>
<circle cx="222.62" cy="376.69" r="0.75" fill="#4f70b0" stroke="none" stroke-width="1"/>
<circle cx="221.25" cy="360.51" r="0.75" fill="#4f70b0" stroke="none" stroke-width="1"/>
<rect x="225.94" y="370.80" width="5.70" height="47.20" fill="#f9c58c" stroke="none" stroke-width="1"/>
<line x1="228.79" y1="363.35" x2="228.79" y2="378.26" stroke="#f4a447" stroke-width="0.6"/>
<line x1="227.19" y1="363.35" x2="230.39" y2="363.35" stroke="#f4a447" stroke-width="0.6"/>
<circle cx="228.88" cy="361.96" r="0.75" fill="#f4a447" stroke="none" stroke-width="1"/>
<circle cx="228.23" cy="364.16" r="0.75" fill="#f4a447" stroke="none" stroke-width="1"/>
<circle cx="228.75" cy="368.86" r="0.75" fill="#f4a447" stroke="none" stroke-width="1"/>
<circle cx="228.45" cy="377.79" r="0.75" fill="#f4a447" stroke="none" stroke-width="1"/>
<circle cx="228.31" cy="359.75" r="0.75" fill="#f4a447" stroke="none" stroke-width="1"/>
<circle cx="228.62" cy="360.70" r="0.75" fill="#f4a447" stroke="none" stroke-width="1"/>
<circle cx="229.11" cy="374.72" r="0.75" fill="#f4a447" stroke="none" stroke-width="1"/>
<rect x="232.84" y="374.12" width="5.70" height="43.88" fill="#b0d59c" stroke="none" stroke-width="1"/>
<line x1="235.69" y1="364.18" x2="235.69" y2="384.05" stroke="#68b65c" stroke-width="0.6"/>
<line x1="234.09" y1="364.18" x2="237.29" y2="364.18" stroke="#68b65c" stroke-width="0.6"/>
<circle cx="235.52" cy="369.44" r="0.75" fill="#68b65c" stroke="none" stroke-width="1"/>
<circle cx="236.03" cy="379.85" r="0.75" fill="#68b65c" stroke="none" stroke-width="1"/>
<circle cx="235.23" cy="384.74" r="0.75" fill="#68b65c" stroke="none" stroke-width="1"/>
<circle cx="235.32" cy="361.22" r="0.75" fill="#68b65c" stroke="none" stroke-width="1"/>
<circle cx="236.60" cy="373.16" r="0.75" fill="#68b65c" stroke="none" stroke-width="1"/>
<circle cx="234.80" cy="382.18" r="0.75" fill="#68b65c" stroke="none" stroke-width="1"/>
<circle cx="236.00" cy="370.15" r="0.75" fill="#68b65c" stroke="none" stroke-width="1"/>
<line x1="153.30" y1="331.00" x2="167.50" y2="331.00" stroke="#3c3c3c" stroke-width="1.05"/>
<circle cx="158.60" cy="328.40" r="1.1" fill="#333" stroke="none" stroke-width="1"/>
<circle cx="161.80" cy="328.40" r="1.1" fill="#333" stroke="none" stroke-width="1"/>
<line x1="153.30" y1="338.50" x2="167.50" y2="338.50" stroke="#3c3c3c" stroke-width="1.05"/>
<circle cx="162.70" cy="335.90" r="1.1" fill="#333" stroke="none" stroke-width="1"/>
<circle cx="165.90" cy="335.90" r="1.1" fill="#333" stroke="none" stroke-width="1"/>
<text x="71.9" y="429.4" font-size="7.4" text-anchor="end" fill="#2a2a2a" font-weight="normal" stroke="#2a2a2a" stroke-width="0.1" transform="rotate(-45 71.9 429.4)">KG-1</text>
<text x="94.77000000000001" y="429.4" font-size="7.4" text-anchor="end" fill="#2a2a2a" font-weight="normal" stroke="#2a2a2a" stroke-width="0.1" transform="rotate(-45 94.77000000000001 429.4)">AML#1</text>
<text x="117.64" y="429.4" font-size="7.4" text-anchor="end" fill="#2a2a2a" font-weight="normal" stroke="#2a2a2a" stroke-width="0.1" transform="rotate(-45 117.64 429.4)">AML#2</text>
<text x="140.51" y="429.4" font-size="7.4" text-anchor="end" fill="#2a2a2a" font-weight="normal" stroke="#2a2a2a" stroke-width="0.1" transform="rotate(-45 140.51 429.4)">AML#3</text>
<text x="163.38" y="429.4" font-size="7.4" text-anchor="end" fill="#2a2a2a" font-weight="normal" stroke="#2a2a2a" stroke-width="0.1" transform="rotate(-45 163.38 429.4)">KG-1</text>
<text x="186.25" y="429.4" font-size="7.4" text-anchor="end" fill="#2a2a2a" font-weight="normal" stroke="#2a2a2a" stroke-width="0.1" transform="rotate(-45 186.25 429.4)">AML#1</text>
<text x="209.12" y="429.4" font-size="7.4" text-anchor="end" fill="#2a2a2a" font-weight="normal" stroke="#2a2a2a" stroke-width="0.1" transform="rotate(-45 209.12 429.4)">AML#2</text>
<text x="231.99" y="429.4" font-size="7.4" text-anchor="end" fill="#2a2a2a" font-weight="normal" stroke="#2a2a2a" stroke-width="0.1" transform="rotate(-45 231.99 429.4)">AML#3</text>
<line x1="55.50" y1="451.00" x2="242.20" y2="451.00" stroke="#555" stroke-width="1.2"/>
<line x1="55.50" y1="447.00" x2="55.50" y2="451.60" stroke="#555" stroke-width="1.0"/>
<line x1="147.84" y1="447.00" x2="147.84" y2="451.60" stroke="#555" stroke-width="1.0"/>
<line x1="149.94" y1="447.00" x2="149.94" y2="451.60" stroke="#555" stroke-width="1.0"/>
<line x1="242.20" y1="447.00" x2="242.20" y2="451.60" stroke="#555" stroke-width="1.0"/>
<text x="101.6725" y="460.8" font-size="7.6" text-anchor="middle" fill="#2a2a2a" font-weight="normal" stroke="#2a2a2a" stroke-width="0.1">w/o CXCL12</text>
<text x="195.17249999999999" y="460.8" font-size="7.6" text-anchor="middle" fill="#2a2a2a" font-weight="normal" stroke="#2a2a2a" stroke-width="0.1">200ng/ml CXCL12</text>
<text x="28.5" y="414.4" font-size="7.6" text-anchor="start" fill="#2a2a2a" stroke="#2a2a2a" stroke-width="0.1" transform="rotate(-90 28.5 414.4)">% of lysis (E:T ratio 5:1)</text>
<line x1="305.80" y1="332.02" x2="305.80" y2="418.10" stroke="#1e1e1e" stroke-width="1.3"/>
<line x1="302.80" y1="417.50" x2="305.80" y2="417.50" stroke="#1e1e1e" stroke-width="1.2"/>
<text x="299.5" y="420.25" font-size="7.8" text-anchor="end" fill="#3a3a3a" font-weight="normal" stroke="#3a3a3a" stroke-width="0.1" stroke-opacity="0">0</text>
<line x1="302.80" y1="407.19" x2="305.80" y2="407.19" stroke="#1e1e1e" stroke-width="1.2"/>
<text x="299.5" y="409.94" font-size="7.8" text-anchor="end" fill="#3a3a3a" font-weight="normal" stroke="#3a3a3a" stroke-width="0.1" stroke-opacity="0">10</text>
<line x1="302.80" y1="396.88" x2="305.80" y2="396.88" stroke="#1e1e1e" stroke-width="1.2"/>
<text x="299.5" y="399.63" font-size="7.8" text-anchor="end" fill="#3a3a3a" font-weight="normal" stroke="#3a3a3a" stroke-width="0.1" stroke-opacity="0">20</text>
<line x1="302.80" y1="386.57" x2="305.80" y2="386.57" stroke="#1e1e1e" stroke-width="1.2"/>
<text x="299.5" y="389.32" font-size="7.8" text-anchor="end" fill="#3a3a3a" font-weight="normal" stroke="#3a3a3a" stroke-width="0.1" stroke-opacity="0">30</text>
<line x1="302.80" y1="376.26" x2="305.80" y2="376.26" stroke="#1e1e1e" stroke-width="1.2"/>
<text x="299.5" y="379.01" font-size="7.8" text-anchor="end" fill="#3a3a3a" font-weight="normal" stroke="#3a3a3a" stroke-width="0.1" stroke-opacity="0">40</text>
<line x1="302.80" y1="365.95" x2="305.80" y2="365.95" stroke="#1e1e1e" stroke-width="1.2"/>
<text x="299.5" y="368.7" font-size="7.8" text-anchor="end" fill="#3a3a3a" font-weight="normal" stroke="#3a3a3a" stroke-width="0.1" stroke-opacity="0">50</text>
<line x1="302.80" y1="355.64" x2="305.80" y2="355.64" stroke="#1e1e1e" stroke-width="1.2"/>
<text x="299.5" y="358.39" font-size="7.8" text-anchor="end" fill="#3a3a3a" font-weight="normal" stroke="#3a3a3a" stroke-width="0.1" stroke-opacity="0">60</text>
<line x1="302.80" y1="345.33" x2="305.80" y2="345.33" stroke="#1e1e1e" stroke-width="1.2"/>
<text x="299.5" y="348.08000000000004" font-size="7.8" text-anchor="end" fill="#3a3a3a" font-weight="normal" stroke="#3a3a3a" stroke-width="0.1" stroke-opacity="0">70</text>
<line x1="302.80" y1="335.02" x2="305.80" y2="335.02" stroke="#1e1e1e" stroke-width="1.2"/>
<text x="299.5" y="337.77" font-size="7.8" text-anchor="end" fill="#3a3a3a" font-weight="normal" stroke="#3a3a3a" stroke-width="0.1" stroke-opacity="0">80</text>
<line x1="305.80" y1="417.50" x2="492.20" y2="417.50" stroke="#1e1e1e" stroke-width="1.3"/>
<line x1="318.40" y1="417.50" x2="318.40" y2="420.00" stroke="#1e1e1e" stroke-width="0.9"/>
<rect x="308.40" y="390.69" width="6.20" height="26.81" fill="#f7f9fc" stroke="#c2cde0" stroke-width="1.0"/>
<line x1="311.50" y1="364.92" x2="311.50" y2="416.47" stroke="#c2cde0" stroke-width="0.6"/>
<line x1="309.90" y1="364.92" x2="313.10" y2="364.92" stroke="#c2cde0" stroke-width="0.6"/>
<circle cx="312.47" cy="369.82" r="0.75" fill="#4f70b0" stroke="none" stroke-width="1"/>
<circle cx="311.88" cy="385.09" r="0.75" fill="#4f70b0" stroke="none" stroke-width="1"/>
<circle cx="310.57" cy="373.10" r="0.75" fill="#4f70b0" stroke="none" stroke-width="1"/>
<circle cx="310.77" cy="355.83" r="0.75" fill="#4f70b0" stroke="none" stroke-width="1"/>
<circle cx="310.79" cy="411.86" r="0.75" fill="#4f70b0" stroke="none" stroke-width="1"/>
<circle cx="312.39" cy="365.54" r="0.75" fill="#4f70b0" stroke="none" stroke-width="1"/>
<circle cx="310.64" cy="385.83" r="0.75" fill="#4f70b0" stroke="none" stroke-width="1"/>
<rect x="315.30" y="387.60" width="6.20" height="29.90" fill="#fffaf2" stroke="#f0d8c2" stroke-width="1.0"/>
<line x1="318.40" y1="369.04" x2="318.40" y2="406.16" stroke="#f0d8c2" stroke-width="0.6"/>
<line x1="316.80" y1="369.04" x2="320.00" y2="369.04" stroke="#f0d8c2" stroke-width="0.6"/>
<circle cx="317.68" cy="410.82" r="0.75" fill="#f4a447" stroke="none" stroke-width="1"/>
<circle cx="317.79" cy="401.99" r="0.75" fill="#f4a447" stroke="none" stroke-width="1"/>
<circle cx="318.40" cy="362.81" r="0.75" fill="#f4a447" stroke="none" stroke-width="1"/>
<circle cx="319.39" cy="407.67" r="0.75" fill="#f4a447" stroke="none" stroke-width="1"/>
<circle cx="317.56" cy="396.08" r="0.75" fill="#f4a447" stroke="none" stroke-width="1"/>
<circle cx="318.12" cy="412.78" r="0.75" fill="#f4a447" stroke="none" stroke-width="1"/>
<circle cx="318.95" cy="380.52" r="0.75" fill="#f4a447" stroke="none" stroke-width="1"/>
<rect x="322.20" y="392.76" width="6.20" height="24.74" fill="#f7fcf5" stroke="#c6e0c4" stroke-width="1.0"/>
<line x1="325.30" y1="375.23" x2="325.30" y2="410.28" stroke="#c6e0c4" stroke-width="0.6"/>
<line x1="323.70" y1="375.23" x2="326.90" y2="375.23" stroke="#c6e0c4" stroke-width="0.6"/>
<circle cx="326.22" cy="389.93" r="0.75" fill="#68b65c" stroke="none" stroke-width="1"/>
<circle cx="326.11" cy="382.28" r="0.75" fill="#68b65c" stroke="none" stroke-width="1"/>
<circle cx="325.00" cy="394.39" r="0.75" fill="#68b65c" stroke="none" stroke-width="1"/>
<circle cx="325.80" cy="409.10" r="0.75" fill="#68b65c" stroke="none" stroke-width="1"/>
<circle cx="325.08" cy="413.25" r="0.75" fill="#68b65c" stroke="none" stroke-width="1"/>
<circle cx="324.95" cy="397.99" r="0.75" fill="#68b65c" stroke="none" stroke-width="1"/>
<circle cx="325.07" cy="386.89" r="0.75" fill="#68b65c" stroke="none" stroke-width="1"/>
<line x1="341.39" y1="417.50" x2="341.39" y2="420.00" stroke="#1e1e1e" stroke-width="0.9"/>
<rect x="331.39" y="398.94" width="6.20" height="18.56" fill="#f7f9fc" stroke="#c2cde0" stroke-width="1.0"/>
<line x1="334.49" y1="393.79" x2="334.49" y2="404.10" stroke="#c2cde0" stroke-width="0.6"/>
<line x1="332.89" y1="393.79" x2="336.09" y2="393.79" stroke="#c2cde0" stroke-width="0.6"/>
<circle cx="334.20" cy="405.04" r="0.75" fill="#4f70b0" stroke="none" stroke-width="1"/>
<circle cx="334.59" cy="405.42" r="0.75" fill="#4f70b0" stroke="none" stroke-width="1"/>
<circle cx="334.02" cy="405.12" r="0.75" fill="#4f70b0" stroke="none" stroke-width="1"/>
<circle cx="333.62" cy="399.66" r="0.75" fill="#4f70b0" stroke="none" stroke-width="1"/>
<circle cx="334.28" cy="403.86" r="0.75" fill="#4f70b0" stroke="none" stroke-width="1"/>
<circle cx="334.60" cy="401.57" r="0.75" fill="#4f70b0" stroke="none" stroke-width="1"/>
<circle cx="334.77" cy="399.48" r="0.75" fill="#4f70b0" stroke="none" stroke-width="1"/>
<rect x="338.29" y="401.00" width="6.20" height="16.50" fill="#fffaf2" stroke="#f0d8c2" stroke-width="1.0"/>
<line x1="341.39" y1="394.82" x2="341.39" y2="407.19" stroke="#f0d8c2" stroke-width="0.6"/>
<line x1="339.79" y1="394.82" x2="342.99" y2="394.82" stroke="#f0d8c2" stroke-width="0.6"/>
<circle cx="341.52" cy="406.93" r="0.75" fill="#f4a447" stroke="none" stroke-width="1"/>
<circle cx="342.25" cy="408.74" r="0.75" fill="#f4a447" stroke="none" stroke-width="1"/>
<circle cx="340.66" cy="407.06" r="0.75" fill="#f4a447" stroke="none" stroke-width="1"/>
<circle cx="341.38" cy="392.42" r="0.75" fill="#f4a447" stroke="none" stroke-width="1"/>
<circle cx="340.72" cy="408.86" r="0.75" fill="#f4a447" stroke="none" stroke-width="1"/>
<circle cx="341.51" cy="407.47" r="0.75" fill="#f4a447" stroke="none" stroke-width="1"/>
<circle cx="341.51" cy="405.71" r="0.75" fill="#f4a447" stroke="none" stroke-width="1"/>
<rect x="345.19" y="394.82" width="6.20" height="22.68" fill="#f7fcf5" stroke="#c6e0c4" stroke-width="1.0"/>
<line x1="348.29" y1="381.42" x2="348.29" y2="408.22" stroke="#c6e0c4" stroke-width="0.6"/>
<line x1="346.69" y1="381.42" x2="349.89" y2="381.42" stroke="#c6e0c4" stroke-width="0.6"/>
<circle cx="348.95" cy="378.02" r="0.75" fill="#68b65c" stroke="none" stroke-width="1"/>
<circle cx="348.49" cy="402.73" r="0.75" fill="#68b65c" stroke="none" stroke-width="1"/>
<circle cx="349.09" cy="387.12" r="0.75" fill="#68b65c" stroke="none" stroke-width="1"/>
<circle cx="349.29" cy="385.45" r="0.75" fill="#68b65c" stroke="none" stroke-width="1"/>
<circle cx="348.61" cy="377.77" r="0.75" fill="#68b65c" stroke="none" stroke-width="1"/>
<circle cx="348.96" cy="397.61" r="0.75" fill="#68b65c" stroke="none" stroke-width="1"/>
<circle cx="348.04" cy="381.54" r="0.75" fill="#68b65c" stroke="none" stroke-width="1"/>
<line x1="364.38" y1="417.50" x2="364.38" y2="420.00" stroke="#1e1e1e" stroke-width="0.9"/>
<rect x="354.38" y="393.79" width="6.20" height="23.71" fill="#f7f9fc" stroke="#c2cde0" stroke-width="1.0"/>
<line x1="357.48" y1="381.42" x2="357.48" y2="406.16" stroke="#c2cde0" stroke-width="0.6"/>
<line x1="355.88" y1="381.42" x2="359.08" y2="381.42" stroke="#c2cde0" stroke-width="0.6"/>
<circle cx="358.27" cy="384.76" r="0.75" fill="#4f70b0" stroke="none" stroke-width="1"/>
<circle cx="357.20" cy="390.85" r="0.75" fill="#4f70b0" stroke="none" stroke-width="1"/>
<circle cx="357.86" cy="407.79" r="0.75" fill="#4f70b0" stroke="none" stroke-width="1"/>
<circle cx="356.91" cy="402.07" r="0.75" fill="#4f70b0" stroke="none" stroke-width="1"/>
<circle cx="358.16" cy="408.83" r="0.75" fill="#4f70b0" stroke="none" stroke-width="1"/>
<circle cx="356.89" cy="382.13" r="0.75" fill="#4f70b0" stroke="none" stroke-width="1"/>
<circle cx="357.19" cy="402.54" r="0.75" fill="#4f70b0" stroke="none" stroke-width="1"/>
<rect x="361.28" y="399.97" width="6.20" height="17.53" fill="#fffaf2" stroke="#f0d8c2" stroke-width="1.0"/>
<line x1="364.38" y1="390.69" x2="364.38" y2="409.25" stroke="#f0d8c2" stroke-width="0.6"/>
<line x1="362.78" y1="390.69" x2="365.98" y2="390.69" stroke="#f0d8c2" stroke-width="0.6"/>
<circle cx="363.53" cy="398.21" r="0.75" fill="#f4a447" stroke="none" stroke-width="1"/>
<circle cx="364.83" cy="409.72" r="0.75" fill="#f4a447" stroke="none" stroke-width="1"/>
<circle cx="363.45" cy="388.01" r="0.75" fill="#f4a447" stroke="none" stroke-width="1"/>
<circle cx="364.67" cy="400.32" r="0.75" fill="#f4a447" stroke="none" stroke-width="1"/>
<circle cx="365.04" cy="404.11" r="0.75" fill="#f4a447" stroke="none" stroke-width="1"/>
<circle cx="364.73" cy="412.70" r="0.75" fill="#f4a447" stroke="none" stroke-width="1"/>
<circle cx="364.72" cy="406.15" r="0.75" fill="#f4a447" stroke="none" stroke-width="1"/>
<rect x="368.18" y="390.69" width="6.20" height="26.81" fill="#f7fcf5" stroke="#c6e0c4" stroke-width="1.0"/>
<line x1="371.28" y1="362.86" x2="371.28" y2="417.50" stroke="#c6e0c4" stroke-width="0.6"/>
<line x1="369.68" y1="362.86" x2="372.88" y2="362.86" stroke="#c6e0c4" stroke-width="0.6"/>
<circle cx="372.27" cy="377.53" r="0.75" fill="#68b65c" stroke="none" stroke-width="1"/>
<circle cx="370.92" cy="372.06" r="0.75" fill="#68b65c" stroke="none" stroke-width="1"/>
<circle cx="371.98" cy="396.33" r="0.75" fill="#68b65c" stroke="none" stroke-width="1"/>
<circle cx="371.01" cy="388.01" r="0.75" fill="#68b65c" stroke="none" stroke-width="1"/>
<circle cx="370.89" cy="385.05" r="0.75" fill="#68b65c" stroke="none" stroke-width="1"/>
<circle cx="371.78" cy="357.00" r="0.75" fill="#68b65c" stroke="none" stroke-width="1"/>
<circle cx="370.36" cy="414.16" r="0.75" fill="#68b65c" stroke="none" stroke-width="1"/>
<line x1="387.37" y1="417.50" x2="387.37" y2="420.00" stroke="#1e1e1e" stroke-width="0.9"/>
<rect x="377.37" y="398.94" width="6.20" height="18.56" fill="#f7f9fc" stroke="#c2cde0" stroke-width="1.0"/>
<line x1="380.47" y1="386.57" x2="380.47" y2="411.31" stroke="#c2cde0" stroke-width="0.6"/>
<line x1="378.87" y1="386.57" x2="382.07" y2="386.57" stroke="#c2cde0" stroke-width="0.6"/>
<circle cx="380.48" cy="410.32" r="0.75" fill="#4f70b0" stroke="none" stroke-width="1"/>
<circle cx="381.01" cy="393.97" r="0.75" fill="#4f70b0" stroke="none" stroke-width="1"/>
<circle cx="380.43" cy="394.31" r="0.75" fill="#4f70b0" stroke="none" stroke-width="1"/>
<circle cx="381.01" cy="405.69" r="0.75" fill="#4f70b0" stroke="none" stroke-width="1"/>
<circle cx="379.60" cy="388.68" r="0.75" fill="#4f70b0" stroke="none" stroke-width="1"/>
<circle cx="380.31" cy="381.65" r="0.75" fill="#4f70b0" stroke="none" stroke-width="1"/>
<circle cx="379.89" cy="408.08" r="0.75" fill="#4f70b0" stroke="none" stroke-width="1"/>
<rect x="384.27" y="403.07" width="6.20" height="14.43" fill="#fffaf2" stroke="#f0d8c2" stroke-width="1.0"/>
<line x1="387.37" y1="392.76" x2="387.37" y2="413.38" stroke="#f0d8c2" stroke-width="0.6"/>
<line x1="385.77" y1="392.76" x2="388.97" y2="392.76" stroke="#f0d8c2" stroke-width="0.6"/>
<circle cx="387.60" cy="397.29" r="0.75" fill="#f4a447" stroke="none" stroke-width="1"/>
<circle cx="386.73" cy="390.17" r="0.75" fill="#f4a447" stroke="none" stroke-width="1"/>
<circle cx="387.92" cy="404.17" r="0.75" fill="#f4a447" stroke="none" stroke-width="1"/>
<circle cx="387.67" cy="409.29" r="0.75" fill="#f4a447" stroke="none" stroke-width="1"/>
<circle cx="386.71" cy="388.08" r="0.75" fill="#f4a447" stroke="none" stroke-width="1"/>
<circle cx="388.20" cy="396.15" r="0.75" fill="#f4a447" stroke="none" stroke-width="1"/>
<circle cx="387.80" cy="401.12" r="0.75" fill="#f4a447" stroke="none" stroke-width="1"/>
<rect x="391.17" y="398.94" width="6.20" height="18.56" fill="#f7fcf5" stroke="#c6e0c4" stroke-width="1.0"/>
<line x1="394.27" y1="390.69" x2="394.27" y2="407.19" stroke="#c6e0c4" stroke-width="0.6"/>
<line x1="392.67" y1="390.69" x2="395.87" y2="390.69" stroke="#c6e0c4" stroke-width="0.6"/>
<circle cx="394.93" cy="404.79" r="0.75" fill="#68b65c" stroke="none" stroke-width="1"/>
<circle cx="393.29" cy="403.78" r="0.75" fill="#68b65c" stroke="none" stroke-width="1"/>
<circle cx="394.73" cy="388.21" r="0.75" fill="#68b65c" stroke="none" stroke-width="1"/>
<circle cx="393.59" cy="386.85" r="0.75" fill="#68b65c" stroke="none" stroke-width="1"/>
<circle cx="395.16" cy="398.28" r="0.75" fill="#68b65c" stroke="none" stroke-width="1"/>
<circle cx="394.58" cy="400.84" r="0.75" fill="#68b65c" stroke="none" stroke-width="1"/>
<circle cx="395.09" cy="393.26" r="0.75" fill="#68b65c" stroke="none" stroke-width="1"/>
<line x1="410.36" y1="417.50" x2="410.36" y2="420.00" stroke="#1e1e1e" stroke-width="0.9"/>
<rect x="400.61" y="389.66" width="5.70" height="27.84" fill="#8e9cc2" stroke="none" stroke-width="1"/>
<line x1="403.46" y1="361.83" x2="403.46" y2="417.50" stroke="#4f70b0" stroke-width="0.6"/>
<line x1="401.86" y1="361.83" x2="405.06" y2="361.83" stroke="#4f70b0" stroke-width="0.6"/>
<circle cx="402.65" cy="349.79" r="0.75" fill="#4f70b0" stroke="none" stroke-width="1"/>
<circle cx="403.77" cy="408.56" r="0.75" fill="#4f70b0" stroke="none" stroke-width="1"/>
<circle cx="403.83" cy="371.56" r="0.75" fill="#4f70b0" stroke="none" stroke-width="1"/>
<circle cx="403.93" cy="357.13" r="0.75" fill="#4f70b0" stroke="none" stroke-width="1"/>
<circle cx="403.18" cy="372.39" r="0.75" fill="#4f70b0" stroke="none" stroke-width="1"/>
<circle cx="403.72" cy="401.74" r="0.75" fill="#4f70b0" stroke="none" stroke-width="1"/>
<circle cx="403.82" cy="397.50" r="0.75" fill="#4f70b0" stroke="none" stroke-width="1"/>
<rect x="407.51" y="386.57" width="5.70" height="30.93" fill="#f9c58c" stroke="none" stroke-width="1"/>
<line x1="410.36" y1="352.55" x2="410.36" y2="417.50" stroke="#f4a447" stroke-width="0.6"/>
<line x1="408.76" y1="352.55" x2="411.96" y2="352.55" stroke="#f4a447" stroke-width="0.6"/>
<circle cx="409.93" cy="401.87" r="0.75" fill="#f4a447" stroke="none" stroke-width="1"/>
<circle cx="410.83" cy="361.43" r="0.75" fill="#f4a447" stroke="none" stroke-width="1"/>
<circle cx="410.95" cy="397.31" r="0.75" fill="#f4a447" stroke="none" stroke-width="1"/>
<circle cx="410.27" cy="335.59" r="0.75" fill="#f4a447" stroke="none" stroke-width="1"/>
<circle cx="409.89" cy="366.43" r="0.75" fill="#f4a447" stroke="none" stroke-width="1"/>
<circle cx="411.19" cy="410.42" r="0.75" fill="#f4a447" stroke="none" stroke-width="1"/>
<circle cx="409.80" cy="355.95" r="0.75" fill="#f4a447" stroke="none" stroke-width="1"/>
<rect x="414.41" y="381.42" width="5.70" height="36.08" fill="#b0d59c" stroke="none" stroke-width="1"/>
<line x1="417.26" y1="359.76" x2="417.26" y2="403.07" stroke="#68b65c" stroke-width="0.6"/>
<line x1="415.66" y1="359.76" x2="418.86" y2="359.76" stroke="#68b65c" stroke-width="0.6"/>
<circle cx="416.85" cy="382.19" r="0.75" fill="#68b65c" stroke="none" stroke-width="1"/>
<circle cx="417.51" cy="401.07" r="0.75" fill="#68b65c" stroke="none" stroke-width="1"/>
<circle cx="418.00" cy="378.74" r="0.75" fill="#68b65c" stroke="none" stroke-width="1"/>
<circle cx="416.29" cy="413.20" r="0.75" fill="#68b65c" stroke="none" stroke-width="1"/>
<circle cx="417.52" cy="374.57" r="0.75" fill="#68b65c" stroke="none" stroke-width="1"/>
<circle cx="417.75" cy="391.45" r="0.75" fill="#68b65c" stroke="none" stroke-width="1"/>
<circle cx="418.22" cy="357.62" r="0.75" fill="#68b65c" stroke="none" stroke-width="1"/>
<line x1="433.35" y1="417.50" x2="433.35" y2="420.00" stroke="#1e1e1e" stroke-width="0.9"/>
<rect x="423.60" y="402.04" width="5.70" height="15.46" fill="#8e9cc2" stroke="none" stroke-width="1"/>
<line x1="426.45" y1="393.79" x2="426.45" y2="410.28" stroke="#4f70b0" stroke-width="0.6"/>
<line x1="424.85" y1="393.79" x2="428.05" y2="393.79" stroke="#4f70b0" stroke-width="0.6"/>
<circle cx="425.65" cy="413.19" r="0.75" fill="#4f70b0" stroke="none" stroke-width="1"/>
<circle cx="425.89" cy="410.75" r="0.75" fill="#4f70b0" stroke="none" stroke-width="1"/>
<circle cx="427.41" cy="400.25" r="0.75" fill="#4f70b0" stroke="none" stroke-width="1"/>
<circle cx="427.34" cy="391.08" r="0.75" fill="#4f70b0" stroke="none" stroke-width="1"/>
<circle cx="425.62" cy="412.71" r="0.75" fill="#4f70b0" stroke="none" stroke-width="1"/>
<circle cx="427.22" cy="401.22" r="0.75" fill="#4f70b0" stroke="none" stroke-width="1"/>
<circle cx="427.21" cy="393.06" r="0.75" fill="#4f70b0" stroke="none" stroke-width="1"/>
<rect x="430.50" y="404.10" width="5.70" height="13.40" fill="#f9c58c" stroke="none" stroke-width="1"/>
<line x1="433.35" y1="395.85" x2="433.35" y2="412.35" stroke="#f4a447" stroke-width="0.6"/>
<line x1="431.75" y1="395.85" x2="434.95" y2="395.85" stroke="#f4a447" stroke-width="0.6"/>
<circle cx="433.34" cy="398.31" r="0.75" fill="#f4a447" stroke="none" stroke-width="1"/>
<circle cx="433.59" cy="393.05" r="0.75" fill="#f4a447" stroke="none" stroke-width="1"/>
<circle cx="433.55" cy="401.49" r="0.75" fill="#f4a447" stroke="none" stroke-width="1"/>
<circle cx="432.53" cy="406.09" r="0.75" fill="#f4a447" stroke="none" stroke-width="1"/>
<circle cx="433.63" cy="392.36" r="0.75" fill="#f4a447" stroke="none" stroke-width="1"/>
<circle cx="433.32" cy="410.12" r="0.75" fill="#f4a447" stroke="none" stroke-width="1"/>
<circle cx="433.19" cy="415.06" r="0.75" fill="#f4a447" stroke="none" stroke-width="1"/>
<rect x="437.40" y="392.76" width="5.70" height="24.74" fill="#b0d59c" stroke="none" stroke-width="1"/>
<line x1="440.25" y1="384.51" x2="440.25" y2="401.00" stroke="#68b65c" stroke-width="0.6"/>
<line x1="438.65" y1="384.51" x2="441.85" y2="384.51" stroke="#68b65c" stroke-width="0.6"/>
<circle cx="439.52" cy="381.45" r="0.75" fill="#68b65c" stroke="none" stroke-width="1"/>
<circle cx="439.64" cy="394.86" r="0.75" fill="#68b65c" stroke="none" stroke-width="1"/>
<circle cx="439.43" cy="387.25" r="0.75" fill="#68b65c" stroke="none" stroke-width="1"/>
<circle cx="440.61" cy="391.90" r="0.75" fill="#68b65c" stroke="none" stroke-width="1"/>
<circle cx="440.72" cy="397.24" r="0.75" fill="#68b65c" stroke="none" stroke-width="1"/>
<circle cx="439.45" cy="383.30" r="0.75" fill="#68b65c" stroke="none" stroke-width="1"/>
<circle cx="440.69" cy="388.80" r="0.75" fill="#68b65c" stroke="none" stroke-width="1"/>
<line x1="456.34" y1="417.50" x2="456.34" y2="420.00" stroke="#1e1e1e" stroke-width="0.9"/>
<rect x="446.59" y="403.58" width="5.70" height="13.92" fill="#8e9cc2" stroke="none" stroke-width="1"/>
<line x1="449.44" y1="397.40" x2="449.44" y2="409.77" stroke="#4f70b0" stroke-width="0.6"/>
<line x1="447.84" y1="397.40" x2="451.04" y2="397.40" stroke="#4f70b0" stroke-width="0.6"/>
<circle cx="450.08" cy="397.53" r="0.75" fill="#4f70b0" stroke="none" stroke-width="1"/>
<circle cx="448.87" cy="396.57" r="0.75" fill="#4f70b0" stroke="none" stroke-width="1"/>
<circle cx="449.25" cy="397.98" r="0.75" fill="#4f70b0" stroke="none" stroke-width="1"/>
<circle cx="449.77" cy="406.92" r="0.75" fill="#4f70b0" stroke="none" stroke-width="1"/>
<circle cx="450.03" cy="408.25" r="0.75" fill="#4f70b0" stroke="none" stroke-width="1"/>
<circle cx="450.08" cy="401.38" r="0.75" fill="#4f70b0" stroke="none" stroke-width="1"/>
<circle cx="450.34" cy="412.48" r="0.75" fill="#4f70b0" stroke="none" stroke-width="1"/>
<rect x="453.49" y="403.58" width="5.70" height="13.92" fill="#f9c58c" stroke="none" stroke-width="1"/>
<line x1="456.34" y1="397.40" x2="456.34" y2="409.77" stroke="#f4a447" stroke-width="0.6"/>
<line x1="454.74" y1="397.40" x2="457.94" y2="397.40" stroke="#f4a447" stroke-width="0.6"/>
<circle cx="455.40" cy="398.95" r="0.75" fill="#f4a447" stroke="none" stroke-width="1"/>
<circle cx="456.06" cy="404.56" r="0.75" fill="#f4a447" stroke="none" stroke-width="1"/>
<circle cx="455.64" cy="408.98" r="0.75" fill="#f4a447" stroke="none" stroke-width="1"/>
<circle cx="456.47" cy="394.69" r="0.75" fill="#f4a447" stroke="none" stroke-width="1"/>
<circle cx="455.35" cy="412.81" r="0.75" fill="#f4a447" stroke="none" stroke-width="1"/>
<circle cx="456.99" cy="399.08" r="0.75" fill="#f4a447" stroke="none" stroke-width="1"/>
<circle cx="456.84" cy="404.33" r="0.75" fill="#f4a447" stroke="none" stroke-width="1"/>
<rect x="460.39" y="386.57" width="5.70" height="30.93" fill="#b0d59c" stroke="none" stroke-width="1"/>
<line x1="463.24" y1="376.26" x2="463.24" y2="396.88" stroke="#68b65c" stroke-width="0.6"/>
<line x1="461.64" y1="376.26" x2="464.84" y2="376.26" stroke="#68b65c" stroke-width="0.6"/>
<circle cx="462.65" cy="394.38" r="0.75" fill="#68b65c" stroke="none" stroke-width="1"/>
<circle cx="462.99" cy="371.27" r="0.75" fill="#68b65c" stroke="none" stroke-width="1"/>
<circle cx="463.78" cy="374.08" r="0.75" fill="#68b65c" stroke="none" stroke-width="1"/>
<circle cx="463.22" cy="374.17" r="0.75" fill="#68b65c" stroke="none" stroke-width="1"/>
<circle cx="462.34" cy="389.13" r="0.75" fill="#68b65c" stroke="none" stroke-width="1"/>
<circle cx="463.78" cy="393.01" r="0.75" fill="#68b65c" stroke="none" stroke-width="1"/>
<circle cx="463.27" cy="389.57" r="0.75" fill="#68b65c" stroke="none" stroke-width="1"/>
<line x1="479.33" y1="417.50" x2="479.33" y2="420.00" stroke="#1e1e1e" stroke-width="0.9"/>
<rect x="469.58" y="404.10" width="5.70" height="13.40" fill="#8e9cc2" stroke="none" stroke-width="1"/>
<line x1="472.43" y1="397.91" x2="472.43" y2="410.28" stroke="#4f70b0" stroke-width="0.6"/>
<line x1="470.83" y1="397.91" x2="474.03" y2="397.91" stroke="#4f70b0" stroke-width="0.6"/>
<circle cx="472.05" cy="405.80" r="0.75" fill="#4f70b0" stroke="none" stroke-width="1"/>
<circle cx="473.31" cy="395.31" r="0.75" fill="#4f70b0" stroke="none" stroke-width="1"/>
<circle cx="473.39" cy="412.29" r="0.75" fill="#4f70b0" stroke="none" stroke-width="1"/>
<circle cx="472.58" cy="401.67" r="0.75" fill="#4f70b0" stroke="none" stroke-width="1"/>
<circle cx="472.23" cy="405.47" r="0.75" fill="#4f70b0" stroke="none" stroke-width="1"/>
<circle cx="472.36" cy="405.51" r="0.75" fill="#4f70b0" stroke="none" stroke-width="1"/>
<circle cx="472.88" cy="405.20" r="0.75" fill="#4f70b0" stroke="none" stroke-width="1"/>
<rect x="476.48" y="404.10" width="5.70" height="13.40" fill="#f9c58c" stroke="none" stroke-width="1"/>
<line x1="479.33" y1="397.91" x2="479.33" y2="410.28" stroke="#f4a447" stroke-width="0.6"/>
<line x1="477.73" y1="397.91" x2="480.93" y2="397.91" stroke="#f4a447" stroke-width="0.6"/>
<circle cx="480.17" cy="398.37" r="0.75" fill="#f4a447" stroke="none" stroke-width="1"/>
<circle cx="478.58" cy="407.73" r="0.75" fill="#f4a447" stroke="none" stroke-width="1"/>
<circle cx="479.65" cy="400.41" r="0.75" fill="#f4a447" stroke="none" stroke-width="1"/>
<circle cx="479.39" cy="409.98" r="0.75" fill="#f4a447" stroke="none" stroke-width="1"/>
<circle cx="478.78" cy="397.63" r="0.75" fill="#f4a447" stroke="none" stroke-width="1"/>
<circle cx="479.80" cy="413.16" r="0.75" fill="#f4a447" stroke="none" stroke-width="1"/>
<circle cx="480.26" cy="403.14" r="0.75" fill="#f4a447" stroke="none" stroke-width="1"/>
<rect x="483.38" y="388.63" width="5.70" height="28.87" fill="#b0d59c" stroke="none" stroke-width="1"/>
<line x1="486.23" y1="378.32" x2="486.23" y2="398.94" stroke="#68b65c" stroke-width="0.6"/>
<line x1="484.63" y1="378.32" x2="487.83" y2="378.32" stroke="#68b65c" stroke-width="0.6"/>
<circle cx="485.64" cy="386.46" r="0.75" fill="#68b65c" stroke="none" stroke-width="1"/>
<circle cx="487.18" cy="374.80" r="0.75" fill="#68b65c" stroke="none" stroke-width="1"/>
<circle cx="486.39" cy="373.71" r="0.75" fill="#68b65c" stroke="none" stroke-width="1"/>
<circle cx="485.55" cy="378.81" r="0.75" fill="#68b65c" stroke="none" stroke-width="1"/>
<circle cx="486.27" cy="397.36" r="0.75" fill="#68b65c" stroke="none" stroke-width="1"/>
<circle cx="486.83" cy="398.27" r="0.75" fill="#68b65c" stroke="none" stroke-width="1"/>
<circle cx="486.17" cy="389.79" r="0.75" fill="#68b65c" stroke="none" stroke-width="1"/>
<line x1="426.20" y1="373.50" x2="439.50" y2="373.50" stroke="#3c3c3c" stroke-width="1.05"/>
<circle cx="432.85" cy="369.70" r="1.1" fill="#333" stroke="none" stroke-width="1"/>
<line x1="433.50" y1="380.50" x2="439.50" y2="380.50" stroke="#3c3c3c" stroke-width="1.05"/>
<circle cx="434.90" cy="376.70" r="1.1" fill="#333" stroke="none" stroke-width="1"/>
<circle cx="438.10" cy="376.70" r="1.1" fill="#333" stroke="none" stroke-width="1"/>
<line x1="450.00" y1="350.70" x2="462.60" y2="350.70" stroke="#3c3c3c" stroke-width="1.05"/>
<circle cx="456.30" cy="346.90" r="1.1" fill="#333" stroke="none" stroke-width="1"/>
<line x1="456.20" y1="358.00" x2="462.60" y2="358.00" stroke="#3c3c3c" stroke-width="1.05"/>
<circle cx="459.40" cy="354.20" r="1.1" fill="#333" stroke="none" stroke-width="1"/>
<line x1="472.30" y1="355.00" x2="485.70" y2="355.00" stroke="#3c3c3c" stroke-width="1.05"/>
<circle cx="477.40" cy="351.20" r="1.1" fill="#333" stroke="none" stroke-width="1"/>
<circle cx="480.60" cy="351.20" r="1.1" fill="#333" stroke="none" stroke-width="1"/>
<line x1="479.20" y1="362.70" x2="485.70" y2="362.70" stroke="#3c3c3c" stroke-width="1.05"/>
<circle cx="480.85" cy="358.90" r="1.1" fill="#333" stroke="none" stroke-width="1"/>
<circle cx="484.05" cy="358.90" r="1.1" fill="#333" stroke="none" stroke-width="1"/>
<text x="321.59999999999997" y="429.0" font-size="7.4" text-anchor="end" fill="#2a2a2a" font-weight="normal" stroke="#2a2a2a" stroke-width="0.1" transform="rotate(-45 321.59999999999997 429.0)">KG-1</text>
<text x="344.59" y="429.0" font-size="7.4" text-anchor="end" fill="#2a2a2a" font-weight="normal" stroke="#2a2a2a" stroke-width="0.1" transform="rotate(-45 344.59 429.0)">AML#1</text>
<text x="367.58" y="429.0" font-size="7.4" text-anchor="end" fill="#2a2a2a" font-weight="normal" stroke="#2a2a2a" stroke-width="0.1" transform="rotate(-45 367.58 429.0)">AML#2</text>
<text x="390.57" y="429.0" font-size="7.4" text-anchor="end" fill="#2a2a2a" font-weight="normal" stroke="#2a2a2a" stroke-width="0.1" transform="rotate(-45 390.57 429.0)">AML#3</text>
<text x="413.55999999999995" y="429.0" font-size="7.4" text-anchor="end" fill="#2a2a2a" font-weight="normal" stroke="#2a2a2a" stroke-width="0.1" transform="rotate(-45 413.55999999999995 429.0)">KG-1</text>
<text x="436.54999999999995" y="429.0" font-size="7.4" text-anchor="end" fill="#2a2a2a" font-weight="normal" stroke="#2a2a2a" stroke-width="0.1" transform="rotate(-45 436.54999999999995 429.0)">AML#1</text>
<text x="459.53999999999996" y="429.0" font-size="7.4" text-anchor="end" fill="#2a2a2a" font-weight="normal" stroke="#2a2a2a" stroke-width="0.1" transform="rotate(-45 459.53999999999996 429.0)">AML#2</text>
<text x="482.5299999999999" y="429.0" font-size="7.4" text-anchor="end" fill="#2a2a2a" font-weight="normal" stroke="#2a2a2a" stroke-width="0.1" transform="rotate(-45 482.5299999999999 429.0)">AML#3</text>
<line x1="305.60" y1="451.00" x2="492.20" y2="451.00" stroke="#555" stroke-width="1.2"/>
<line x1="305.60" y1="447.00" x2="305.60" y2="451.60" stroke="#555" stroke-width="1.0"/>
<line x1="397.96" y1="447.00" x2="397.96" y2="451.60" stroke="#555" stroke-width="1.0"/>
<line x1="400.06" y1="447.00" x2="400.06" y2="451.60" stroke="#555" stroke-width="1.0"/>
<line x1="492.20" y1="447.00" x2="492.20" y2="451.60" stroke="#555" stroke-width="1.0"/>
<text x="351.7825" y="460.8" font-size="7.6" text-anchor="middle" fill="#2a2a2a" font-weight="normal" stroke="#2a2a2a" stroke-width="0.1">w/o CXCL12</text>
<text x="445.23249999999996" y="460.8" font-size="7.6" text-anchor="middle" fill="#2a2a2a" font-weight="normal" stroke="#2a2a2a" stroke-width="0.1">200ng/ml CXCL12</text>
<text x="282.6" y="394.1" font-size="8.15" text-anchor="start" fill="#2a2a2a" stroke="#2a2a2a" stroke-width="0.1" transform="rotate(-90 282.6 394.1)">% of Ki67<tspan font-size="5.2" dy="-3">+</tspan></text>
<line x1="55.70" y1="493.80" x2="55.70" y2="580.30" stroke="#1e1e1e" stroke-width="1.3"/>
<line x1="52.70" y1="579.70" x2="55.70" y2="579.70" stroke="#1e1e1e" stroke-width="1.2"/>
<text x="49.4" y="582.45" font-size="7.8" text-anchor="end" fill="#3a3a3a" font-weight="normal" stroke="#3a3a3a" stroke-width="0.1" stroke-opacity="0">0</text>
<line x1="52.70" y1="563.12" x2="55.70" y2="563.12" stroke="#1e1e1e" stroke-width="1.2"/>
<text x="49.4" y="565.87" font-size="7.8" text-anchor="end" fill="#3a3a3a" font-weight="normal" stroke="#3a3a3a" stroke-width="0.1" stroke-opacity="0">10</text>
<line x1="52.70" y1="546.54" x2="55.70" y2="546.54" stroke="#1e1e1e" stroke-width="1.2"/>
<text x="49.4" y="549.2900000000001" font-size="7.8" text-anchor="end" fill="#3a3a3a" font-weight="normal" stroke="#3a3a3a" stroke-width="0.1" stroke-opacity="0">20</text>
<line x1="52.70" y1="529.96" x2="55.70" y2="529.96" stroke="#1e1e1e" stroke-width="1.2"/>
<text x="49.4" y="532.71" font-size="7.8" text-anchor="end" fill="#3a3a3a" font-weight="normal" stroke="#3a3a3a" stroke-width="0.1" stroke-opacity="0">30</text>
<line x1="52.70" y1="513.38" x2="55.70" y2="513.38" stroke="#1e1e1e" stroke-width="1.2"/>
<text x="49.4" y="516.1300000000001" font-size="7.8" text-anchor="end" fill="#3a3a3a" font-weight="normal" stroke="#3a3a3a" stroke-width="0.1" stroke-opacity="0">40</text>
<line x1="52.70" y1="496.80" x2="55.70" y2="496.80" stroke="#1e1e1e" stroke-width="1.2"/>
<text x="49.4" y="499.55000000000007" font-size="7.8" text-anchor="end" fill="#3a3a3a" font-weight="normal" stroke="#3a3a3a" stroke-width="0.1" stroke-opacity="0">50</text>
<line x1="55.70" y1="579.70" x2="241.80" y2="579.70" stroke="#1e1e1e" stroke-width="1.3"/>
<line x1="68.70" y1="579.70" x2="68.70" y2="582.20" stroke="#1e1e1e" stroke-width="0.9"/>
<rect x="58.70" y="534.93" width="6.20" height="44.77" fill="#f7f9fc" stroke="#c2cde0" stroke-width="1.0"/>
<line x1="61.80" y1="520.01" x2="61.80" y2="549.86" stroke="#c2cde0" stroke-width="0.6"/>
<line x1="60.20" y1="520.01" x2="63.40" y2="520.01" stroke="#c2cde0" stroke-width="0.6"/>
<circle cx="61.67" cy="515.86" r="0.75" fill="#4f70b0" stroke="none" stroke-width="1"/>
<circle cx="62.10" cy="539.23" r="0.75" fill="#4f70b0" stroke="none" stroke-width="1"/>
<circle cx="62.41" cy="539.70" r="0.75" fill="#4f70b0" stroke="none" stroke-width="1"/>
<circle cx="61.93" cy="552.27" r="0.75" fill="#4f70b0" stroke="none" stroke-width="1"/>
<circle cx="62.23" cy="550.26" r="0.75" fill="#4f70b0" stroke="none" stroke-width="1"/>
<circle cx="61.51" cy="556.88" r="0.75" fill="#4f70b0" stroke="none" stroke-width="1"/>
<circle cx="61.84" cy="529.89" r="0.75" fill="#4f70b0" stroke="none" stroke-width="1"/>
<rect x="65.60" y="540.74" width="6.20" height="38.96" fill="#fffaf2" stroke="#f0d8c2" stroke-width="1.0"/>
<line x1="68.70" y1="529.13" x2="68.70" y2="552.34" stroke="#f0d8c2" stroke-width="0.6"/>
<line x1="67.10" y1="529.13" x2="70.30" y2="529.13" stroke="#f0d8c2" stroke-width="0.6"/>
<circle cx="69.49" cy="551.85" r="0.75" fill="#f4a447" stroke="none" stroke-width="1"/>
<circle cx="67.76" cy="524.42" r="0.75" fill="#f4a447" stroke="none" stroke-width="1"/>
<circle cx="68.41" cy="538.71" r="0.75" fill="#f4a447" stroke="none" stroke-width="1"/>
<circle cx="68.42" cy="525.73" r="0.75" fill="#f4a447" stroke="none" stroke-width="1"/>
<circle cx="69.10" cy="525.39" r="0.75" fill="#f4a447" stroke="none" stroke-width="1"/>
<circle cx="69.62" cy="552.80" r="0.75" fill="#f4a447" stroke="none" stroke-width="1"/>
<circle cx="68.97" cy="552.52" r="0.75" fill="#f4a447" stroke="none" stroke-width="1"/>
<rect x="72.50" y="540.74" width="6.20" height="38.96" fill="#f7fcf5" stroke="#c6e0c4" stroke-width="1.0"/>
<line x1="75.60" y1="524.16" x2="75.60" y2="557.32" stroke="#c6e0c4" stroke-width="0.6"/>
<line x1="74.00" y1="524.16" x2="77.20" y2="524.16" stroke="#c6e0c4" stroke-width="0.6"/>
<circle cx="76.59" cy="521.61" r="0.75" fill="#68b65c" stroke="none" stroke-width="1"/>
<circle cx="75.36" cy="561.60" r="0.75" fill="#68b65c" stroke="none" stroke-width="1"/>
<circle cx="75.01" cy="539.12" r="0.75" fill="#68b65c" stroke="none" stroke-width="1"/>
<circle cx="76.56" cy="516.68" r="0.75" fill="#68b65c" stroke="none" stroke-width="1"/>
<circle cx="75.41" cy="565.11" r="0.75" fill="#68b65c" stroke="none" stroke-width="1"/>
<circle cx="76.06" cy="540.33" r="0.75" fill="#68b65c" stroke="none" stroke-width="1"/>
<circle cx="76.33" cy="557.96" r="0.75" fill="#68b65c" stroke="none" stroke-width="1"/>
<line x1="91.60" y1="579.70" x2="91.60" y2="582.20" stroke="#1e1e1e" stroke-width="0.9"/>
<rect x="81.60" y="541.57" width="6.20" height="38.13" fill="#f7f9fc" stroke="#c2cde0" stroke-width="1.0"/>
<line x1="84.70" y1="531.62" x2="84.70" y2="551.51" stroke="#c2cde0" stroke-width="0.6"/>
<line x1="83.10" y1="531.62" x2="86.30" y2="531.62" stroke="#c2cde0" stroke-width="0.6"/>
<circle cx="84.60" cy="542.03" r="0.75" fill="#4f70b0" stroke="none" stroke-width="1"/>
<circle cx="84.17" cy="532.64" r="0.75" fill="#4f70b0" stroke="none" stroke-width="1"/>
<circle cx="83.99" cy="541.15" r="0.75" fill="#4f70b0" stroke="none" stroke-width="1"/>
<circle cx="84.05" cy="530.02" r="0.75" fill="#4f70b0" stroke="none" stroke-width="1"/>
<circle cx="85.18" cy="551.32" r="0.75" fill="#4f70b0" stroke="none" stroke-width="1"/>
<circle cx="85.67" cy="545.17" r="0.75" fill="#4f70b0" stroke="none" stroke-width="1"/>
<circle cx="85.03" cy="551.27" r="0.75" fill="#4f70b0" stroke="none" stroke-width="1"/>
<rect x="88.50" y="542.40" width="6.20" height="37.30" fill="#fffaf2" stroke="#f0d8c2" stroke-width="1.0"/>
<line x1="91.60" y1="527.47" x2="91.60" y2="557.32" stroke="#f0d8c2" stroke-width="0.6"/>
<line x1="90.00" y1="527.47" x2="93.20" y2="527.47" stroke="#f0d8c2" stroke-width="0.6"/>
<circle cx="90.88" cy="545.59" r="0.75" fill="#f4a447" stroke="none" stroke-width="1"/>
<circle cx="90.69" cy="543.17" r="0.75" fill="#f4a447" stroke="none" stroke-width="1"/>
<circle cx="91.75" cy="520.87" r="0.75" fill="#f4a447" stroke="none" stroke-width="1"/>
<circle cx="91.49" cy="558.01" r="0.75" fill="#f4a447" stroke="none" stroke-width="1"/>
<circle cx="92.06" cy="534.62" r="0.75" fill="#f4a447" stroke="none" stroke-width="1"/>
<circle cx="91.53" cy="558.70" r="0.75" fill="#f4a447" stroke="none" stroke-width="1"/>
<circle cx="92.24" cy="522.19" r="0.75" fill="#f4a447" stroke="none" stroke-width="1"/>
<rect x="95.40" y="544.88" width="6.20" height="34.82" fill="#f7fcf5" stroke="#c6e0c4" stroke-width="1.0"/>
<line x1="98.50" y1="528.30" x2="98.50" y2="561.46" stroke="#c6e0c4" stroke-width="0.6"/>
<line x1="96.90" y1="528.30" x2="100.10" y2="528.30" stroke="#c6e0c4" stroke-width="0.6"/>
<circle cx="97.74" cy="551.95" r="0.75" fill="#68b65c" stroke="none" stroke-width="1"/>
<circle cx="99.01" cy="557.34" r="0.75" fill="#68b65c" stroke="none" stroke-width="1"/>
<circle cx="97.91" cy="564.77" r="0.75" fill="#68b65c" stroke="none" stroke-width="1"/>
<circle cx="98.27" cy="569.43" r="0.75" fill="#68b65c" stroke="none" stroke-width="1"/>
<circle cx="98.63" cy="523.07" r="0.75" fill="#68b65c" stroke="none" stroke-width="1"/>
<circle cx="97.54" cy="558.13" r="0.75" fill="#68b65c" stroke="none" stroke-width="1"/>
<circle cx="98.33" cy="520.95" r="0.75" fill="#68b65c" stroke="none" stroke-width="1"/>
<line x1="114.50" y1="579.70" x2="114.50" y2="582.20" stroke="#1e1e1e" stroke-width="0.9"/>
<rect x="104.50" y="559.80" width="6.20" height="19.90" fill="#f7f9fc" stroke="#c2cde0" stroke-width="1.0"/>
<line x1="107.60" y1="551.51" x2="107.60" y2="568.09" stroke="#c2cde0" stroke-width="0.6"/>
<line x1="106.00" y1="551.51" x2="109.20" y2="551.51" stroke="#c2cde0" stroke-width="0.6"/>
<circle cx="107.09" cy="559.11" r="0.75" fill="#4f70b0" stroke="none" stroke-width="1"/>
<circle cx="108.47" cy="556.75" r="0.75" fill="#4f70b0" stroke="none" stroke-width="1"/>
<circle cx="107.34" cy="558.89" r="0.75" fill="#4f70b0" stroke="none" stroke-width="1"/>
<circle cx="106.73" cy="549.26" r="0.75" fill="#4f70b0" stroke="none" stroke-width="1"/>
<circle cx="108.39" cy="560.33" r="0.75" fill="#4f70b0" stroke="none" stroke-width="1"/>
<circle cx="107.27" cy="562.06" r="0.75" fill="#4f70b0" stroke="none" stroke-width="1"/>
<circle cx="107.90" cy="550.73" r="0.75" fill="#4f70b0" stroke="none" stroke-width="1"/>
<rect x="111.40" y="562.29" width="6.20" height="17.41" fill="#fffaf2" stroke="#f0d8c2" stroke-width="1.0"/>
<line x1="114.50" y1="555.66" x2="114.50" y2="568.92" stroke="#f0d8c2" stroke-width="0.6"/>
<line x1="112.90" y1="555.66" x2="116.10" y2="555.66" stroke="#f0d8c2" stroke-width="0.6"/>
<circle cx="114.38" cy="557.92" r="0.75" fill="#f4a447" stroke="none" stroke-width="1"/>
<circle cx="114.65" cy="567.07" r="0.75" fill="#f4a447" stroke="none" stroke-width="1"/>
<circle cx="114.27" cy="554.21" r="0.75" fill="#f4a447" stroke="none" stroke-width="1"/>
<circle cx="115.28" cy="564.22" r="0.75" fill="#f4a447" stroke="none" stroke-width="1"/>
<circle cx="113.83" cy="567.38" r="0.75" fill="#f4a447" stroke="none" stroke-width="1"/>
<circle cx="115.33" cy="563.61" r="0.75" fill="#f4a447" stroke="none" stroke-width="1"/>
<circle cx="114.09" cy="562.01" r="0.75" fill="#f4a447" stroke="none" stroke-width="1"/>
<rect x="118.30" y="562.29" width="6.20" height="17.41" fill="#f7fcf5" stroke="#c6e0c4" stroke-width="1.0"/>
<line x1="121.40" y1="555.66" x2="121.40" y2="568.92" stroke="#c6e0c4" stroke-width="0.6"/>
<line x1="119.80" y1="555.66" x2="123.00" y2="555.66" stroke="#c6e0c4" stroke-width="0.6"/>
<circle cx="121.32" cy="566.35" r="0.75" fill="#68b65c" stroke="none" stroke-width="1"/>
<circle cx="120.73" cy="553.87" r="0.75" fill="#68b65c" stroke="none" stroke-width="1"/>
<circle cx="122.36" cy="559.84" r="0.75" fill="#68b65c" stroke="none" stroke-width="1"/>
<circle cx="121.48" cy="554.88" r="0.75" fill="#68b65c" stroke="none" stroke-width="1"/>
<circle cx="121.06" cy="552.48" r="0.75" fill="#68b65c" stroke="none" stroke-width="1"/>
<circle cx="121.07" cy="570.76" r="0.75" fill="#68b65c" stroke="none" stroke-width="1"/>
<circle cx="122.24" cy="565.32" r="0.75" fill="#68b65c" stroke="none" stroke-width="1"/>
<line x1="137.40" y1="579.70" x2="137.40" y2="582.20" stroke="#1e1e1e" stroke-width="0.9"/>
<rect x="127.40" y="569.75" width="6.20" height="9.95" fill="#f7f9fc" stroke="#c2cde0" stroke-width="1.0"/>
<line x1="130.50" y1="563.12" x2="130.50" y2="576.38" stroke="#c2cde0" stroke-width="0.6"/>
<line x1="128.90" y1="563.12" x2="132.10" y2="563.12" stroke="#c2cde0" stroke-width="0.6"/>
<circle cx="129.73" cy="575.31" r="0.75" fill="#4f70b0" stroke="none" stroke-width="1"/>
<circle cx="130.41" cy="573.00" r="0.75" fill="#4f70b0" stroke="none" stroke-width="1"/>
<circle cx="130.07" cy="561.41" r="0.75" fill="#4f70b0" stroke="none" stroke-width="1"/>
<circle cx="130.00" cy="573.23" r="0.75" fill="#4f70b0" stroke="none" stroke-width="1"/>
<circle cx="129.54" cy="575.66" r="0.75" fill="#4f70b0" stroke="none" stroke-width="1"/>
<circle cx="130.08" cy="566.69" r="0.75" fill="#4f70b0" stroke="none" stroke-width="1"/>
<circle cx="130.87" cy="572.81" r="0.75" fill="#4f70b0" stroke="none" stroke-width="1"/>
<rect x="134.30" y="569.75" width="6.20" height="9.95" fill="#fffaf2" stroke="#f0d8c2" stroke-width="1.0"/>
<line x1="137.40" y1="563.12" x2="137.40" y2="576.38" stroke="#f0d8c2" stroke-width="0.6"/>
<line x1="135.80" y1="563.12" x2="139.00" y2="563.12" stroke="#f0d8c2" stroke-width="0.6"/>
<circle cx="136.70" cy="576.53" r="0.75" fill="#f4a447" stroke="none" stroke-width="1"/>
<circle cx="138.21" cy="578.11" r="0.75" fill="#f4a447" stroke="none" stroke-width="1"/>
<circle cx="137.27" cy="567.16" r="0.75" fill="#f4a447" stroke="none" stroke-width="1"/>
<circle cx="136.59" cy="573.83" r="0.75" fill="#f4a447" stroke="none" stroke-width="1"/>
<circle cx="138.36" cy="563.03" r="0.75" fill="#f4a447" stroke="none" stroke-width="1"/>
<circle cx="137.09" cy="572.13" r="0.75" fill="#f4a447" stroke="none" stroke-width="1"/>
<circle cx="138.19" cy="576.37" r="0.75" fill="#f4a447" stroke="none" stroke-width="1"/>
<rect x="141.20" y="570.58" width="6.20" height="9.12" fill="#f7fcf5" stroke="#c6e0c4" stroke-width="1.0"/>
<line x1="144.30" y1="563.95" x2="144.30" y2="577.21" stroke="#c6e0c4" stroke-width="0.6"/>
<line x1="142.70" y1="563.95" x2="145.90" y2="563.95" stroke="#c6e0c4" stroke-width="0.6"/>
<circle cx="144.18" cy="577.32" r="0.75" fill="#68b65c" stroke="none" stroke-width="1"/>
<circle cx="143.83" cy="578.19" r="0.75" fill="#68b65c" stroke="none" stroke-width="1"/>
<circle cx="144.24" cy="561.90" r="0.75" fill="#68b65c" stroke="none" stroke-width="1"/>
<circle cx="143.65" cy="578.28" r="0.75" fill="#68b65c" stroke="none" stroke-width="1"/>
<circle cx="144.34" cy="579.16" r="0.75" fill="#68b65c" stroke="none" stroke-width="1"/>
<circle cx="143.76" cy="566.58" r="0.75" fill="#68b65c" stroke="none" stroke-width="1"/>
<circle cx="143.75" cy="578.93" r="0.75" fill="#68b65c" stroke="none" stroke-width="1"/>
<line x1="160.30" y1="579.70" x2="160.30" y2="582.20" stroke="#1e1e1e" stroke-width="0.9"/>
<rect x="150.55" y="531.62" width="5.70" height="48.08" fill="#8e9cc2" stroke="none" stroke-width="1"/>
<line x1="153.40" y1="521.67" x2="153.40" y2="541.57" stroke="#4f70b0" stroke-width="0.6"/>
<line x1="151.80" y1="521.67" x2="155.00" y2="521.67" stroke="#4f70b0" stroke-width="0.6"/>
<circle cx="154.01" cy="517.14" r="0.75" fill="#4f70b0" stroke="none" stroke-width="1"/>
<circle cx="152.61" cy="531.32" r="0.75" fill="#4f70b0" stroke="none" stroke-width="1"/>
<circle cx="152.40" cy="539.11" r="0.75" fill="#4f70b0" stroke="none" stroke-width="1"/>
<circle cx="152.53" cy="536.52" r="0.75" fill="#4f70b0" stroke="none" stroke-width="1"/>
<circle cx="153.84" cy="528.18" r="0.75" fill="#4f70b0" stroke="none" stroke-width="1"/>
<circle cx="153.11" cy="538.74" r="0.75" fill="#4f70b0" stroke="none" stroke-width="1"/>
<circle cx="153.01" cy="540.19" r="0.75" fill="#4f70b0" stroke="none" stroke-width="1"/>
<rect x="157.45" y="533.28" width="5.70" height="46.42" fill="#f9c58c" stroke="none" stroke-width="1"/>
<line x1="160.30" y1="520.01" x2="160.30" y2="546.54" stroke="#f4a447" stroke-width="0.6"/>
<line x1="158.70" y1="520.01" x2="161.90" y2="520.01" stroke="#f4a447" stroke-width="0.6"/>
<circle cx="159.51" cy="515.62" r="0.75" fill="#f4a447" stroke="none" stroke-width="1"/>
<circle cx="161.16" cy="548.89" r="0.75" fill="#f4a447" stroke="none" stroke-width="1"/>
<circle cx="160.96" cy="521.20" r="0.75" fill="#f4a447" stroke="none" stroke-width="1"/>
<circle cx="160.31" cy="550.77" r="0.75" fill="#f4a447" stroke="none" stroke-width="1"/>
<circle cx="160.44" cy="547.56" r="0.75" fill="#f4a447" stroke="none" stroke-width="1"/>
<circle cx="160.31" cy="515.26" r="0.75" fill="#f4a447" stroke="none" stroke-width="1"/>
<circle cx="160.14" cy="514.74" r="0.75" fill="#f4a447" stroke="none" stroke-width="1"/>
<rect x="164.35" y="531.62" width="5.70" height="48.08" fill="#b0d59c" stroke="none" stroke-width="1"/>
<line x1="167.20" y1="515.04" x2="167.20" y2="548.20" stroke="#68b65c" stroke-width="0.6"/>
<line x1="165.60" y1="515.04" x2="168.80" y2="515.04" stroke="#68b65c" stroke-width="0.6"/>
<circle cx="166.66" cy="527.69" r="0.75" fill="#68b65c" stroke="none" stroke-width="1"/>
<circle cx="166.20" cy="549.88" r="0.75" fill="#68b65c" stroke="none" stroke-width="1"/>
<circle cx="166.78" cy="554.92" r="0.75" fill="#68b65c" stroke="none" stroke-width="1"/>
<circle cx="167.48" cy="510.03" r="0.75" fill="#68b65c" stroke="none" stroke-width="1"/>
<circle cx="166.43" cy="526.40" r="0.75" fill="#68b65c" stroke="none" stroke-width="1"/>
<circle cx="167.69" cy="547.34" r="0.75" fill="#68b65c" stroke="none" stroke-width="1"/>
<circle cx="166.26" cy="515.69" r="0.75" fill="#68b65c" stroke="none" stroke-width="1"/>
<line x1="183.20" y1="579.70" x2="183.20" y2="582.20" stroke="#1e1e1e" stroke-width="0.9"/>
<rect x="173.45" y="540.74" width="5.70" height="38.96" fill="#8e9cc2" stroke="none" stroke-width="1"/>
<line x1="176.30" y1="529.13" x2="176.30" y2="552.34" stroke="#4f70b0" stroke-width="0.6"/>
<line x1="174.70" y1="529.13" x2="177.90" y2="529.13" stroke="#4f70b0" stroke-width="0.6"/>
<circle cx="176.51" cy="524.68" r="0.75" fill="#4f70b0" stroke="none" stroke-width="1"/>
<circle cx="177.27" cy="548.57" r="0.75" fill="#4f70b0" stroke="none" stroke-width="1"/>
<circle cx="176.71" cy="536.57" r="0.75" fill="#4f70b0" stroke="none" stroke-width="1"/>
<circle cx="175.89" cy="536.81" r="0.75" fill="#4f70b0" stroke="none" stroke-width="1"/>
<circle cx="176.83" cy="527.84" r="0.75" fill="#4f70b0" stroke="none" stroke-width="1"/>
<circle cx="176.17" cy="553.60" r="0.75" fill="#4f70b0" stroke="none" stroke-width="1"/>
<circle cx="176.82" cy="537.05" r="0.75" fill="#4f70b0" stroke="none" stroke-width="1"/>
<rect x="180.35" y="541.57" width="5.70" height="38.13" fill="#f9c58c" stroke="none" stroke-width="1"/>
<line x1="183.20" y1="531.62" x2="183.20" y2="551.51" stroke="#f4a447" stroke-width="0.6"/>
<line x1="181.60" y1="531.62" x2="184.80" y2="531.62" stroke="#f4a447" stroke-width="0.6"/>
<circle cx="184.06" cy="530.20" r="0.75" fill="#f4a447" stroke="none" stroke-width="1"/>
<circle cx="182.39" cy="547.37" r="0.75" fill="#f4a447" stroke="none" stroke-width="1"/>
<circle cx="182.47" cy="546.14" r="0.75" fill="#f4a447" stroke="none" stroke-width="1"/>
<circle cx="182.72" cy="528.98" r="0.75" fill="#f4a447" stroke="none" stroke-width="1"/>
<circle cx="182.93" cy="544.85" r="0.75" fill="#f4a447" stroke="none" stroke-width="1"/>
<circle cx="183.00" cy="548.67" r="0.75" fill="#f4a447" stroke="none" stroke-width="1"/>
<circle cx="182.28" cy="552.91" r="0.75" fill="#f4a447" stroke="none" stroke-width="1"/>
<rect x="187.25" y="535.76" width="5.70" height="43.94" fill="#b0d59c" stroke="none" stroke-width="1"/>
<line x1="190.10" y1="519.18" x2="190.10" y2="552.34" stroke="#68b65c" stroke-width="0.6"/>
<line x1="188.50" y1="519.18" x2="191.70" y2="519.18" stroke="#68b65c" stroke-width="0.6"/>
<circle cx="191.00" cy="512.56" r="0.75" fill="#68b65c" stroke="none" stroke-width="1"/>
<circle cx="189.81" cy="549.19" r="0.75" fill="#68b65c" stroke="none" stroke-width="1"/>
<circle cx="189.64" cy="533.86" r="0.75" fill="#68b65c" stroke="none" stroke-width="1"/>
<circle cx="189.27" cy="529.32" r="0.75" fill="#68b65c" stroke="none" stroke-width="1"/>
<circle cx="190.83" cy="514.20" r="0.75" fill="#68b65c" stroke="none" stroke-width="1"/>
<circle cx="189.59" cy="544.72" r="0.75" fill="#68b65c" stroke="none" stroke-width="1"/>
<circle cx="191.03" cy="514.05" r="0.75" fill="#68b65c" stroke="none" stroke-width="1"/>
<line x1="206.10" y1="579.70" x2="206.10" y2="582.20" stroke="#1e1e1e" stroke-width="0.9"/>
<rect x="196.35" y="561.46" width="5.70" height="18.24" fill="#8e9cc2" stroke="none" stroke-width="1"/>
<line x1="199.20" y1="551.51" x2="199.20" y2="571.41" stroke="#4f70b0" stroke-width="0.6"/>
<line x1="197.60" y1="551.51" x2="200.80" y2="551.51" stroke="#4f70b0" stroke-width="0.6"/>
<circle cx="198.43" cy="572.35" r="0.75" fill="#4f70b0" stroke="none" stroke-width="1"/>
<circle cx="199.37" cy="565.13" r="0.75" fill="#4f70b0" stroke="none" stroke-width="1"/>
<circle cx="199.46" cy="554.19" r="0.75" fill="#4f70b0" stroke="none" stroke-width="1"/>
<circle cx="199.80" cy="556.40" r="0.75" fill="#4f70b0" stroke="none" stroke-width="1"/>
<circle cx="198.30" cy="550.94" r="0.75" fill="#4f70b0" stroke="none" stroke-width="1"/>
<circle cx="198.24" cy="561.73" r="0.75" fill="#4f70b0" stroke="none" stroke-width="1"/>
<circle cx="199.78" cy="563.25" r="0.75" fill="#4f70b0" stroke="none" stroke-width="1"/>
<rect x="203.25" y="560.63" width="5.70" height="19.07" fill="#f9c58c" stroke="none" stroke-width="1"/>
<line x1="206.10" y1="550.69" x2="206.10" y2="570.58" stroke="#f4a447" stroke-width="0.6"/>
<line x1="204.50" y1="550.69" x2="207.70" y2="550.69" stroke="#f4a447" stroke-width="0.6"/>
<circle cx="205.31" cy="575.21" r="0.75" fill="#f4a447" stroke="none" stroke-width="1"/>
<circle cx="205.19" cy="566.31" r="0.75" fill="#f4a447" stroke="none" stroke-width="1"/>
<circle cx="205.65" cy="564.14" r="0.75" fill="#f4a447" stroke="none" stroke-width="1"/>
<circle cx="205.14" cy="569.40" r="0.75" fill="#f4a447" stroke="none" stroke-width="1"/>
<circle cx="205.59" cy="566.08" r="0.75" fill="#f4a447" stroke="none" stroke-width="1"/>
<circle cx="205.38" cy="561.51" r="0.75" fill="#f4a447" stroke="none" stroke-width="1"/>
<circle cx="206.69" cy="546.56" r="0.75" fill="#f4a447" stroke="none" stroke-width="1"/>
<rect x="210.15" y="544.05" width="5.70" height="35.65" fill="#b0d59c" stroke="none" stroke-width="1"/>
<line x1="213.00" y1="527.47" x2="213.00" y2="560.63" stroke="#68b65c" stroke-width="0.6"/>
<line x1="211.40" y1="527.47" x2="214.60" y2="527.47" stroke="#68b65c" stroke-width="0.6"/>
<circle cx="213.18" cy="551.37" r="0.75" fill="#68b65c" stroke="none" stroke-width="1"/>
<circle cx="213.76" cy="561.61" r="0.75" fill="#68b65c" stroke="none" stroke-width="1"/>
<circle cx="213.71" cy="526.95" r="0.75" fill="#68b65c" stroke="none" stroke-width="1"/>
<circle cx="212.76" cy="561.21" r="0.75" fill="#68b65c" stroke="none" stroke-width="1"/>
<circle cx="213.00" cy="555.78" r="0.75" fill="#68b65c" stroke="none" stroke-width="1"/>
<circle cx="213.84" cy="549.99" r="0.75" fill="#68b65c" stroke="none" stroke-width="1"/>
<circle cx="213.61" cy="548.68" r="0.75" fill="#68b65c" stroke="none" stroke-width="1"/>
<line x1="229.00" y1="579.70" x2="229.00" y2="582.20" stroke="#1e1e1e" stroke-width="0.9"/>
<rect x="219.25" y="570.58" width="5.70" height="9.12" fill="#8e9cc2" stroke="none" stroke-width="1"/>
<line x1="222.10" y1="563.95" x2="222.10" y2="577.21" stroke="#4f70b0" stroke-width="0.6"/>
<line x1="220.50" y1="563.95" x2="223.70" y2="563.95" stroke="#4f70b0" stroke-width="0.6"/>
<circle cx="222.08" cy="564.71" r="0.75" fill="#4f70b0" stroke="none" stroke-width="1"/>
<circle cx="221.14" cy="574.13" r="0.75" fill="#4f70b0" stroke="none" stroke-width="1"/>
<circle cx="221.10" cy="561.07" r="0.75" fill="#4f70b0" stroke="none" stroke-width="1"/>
<circle cx="222.43" cy="576.91" r="0.75" fill="#4f70b0" stroke="none" stroke-width="1"/>
<circle cx="221.10" cy="564.09" r="0.75" fill="#4f70b0" stroke="none" stroke-width="1"/>
<circle cx="222.26" cy="572.62" r="0.75" fill="#4f70b0" stroke="none" stroke-width="1"/>
<circle cx="223.06" cy="574.60" r="0.75" fill="#4f70b0" stroke="none" stroke-width="1"/>
<rect x="226.15" y="568.92" width="5.70" height="10.78" fill="#f9c58c" stroke="none" stroke-width="1"/>
<line x1="229.00" y1="562.29" x2="229.00" y2="575.56" stroke="#f4a447" stroke-width="0.6"/>
<line x1="227.40" y1="562.29" x2="230.60" y2="562.29" stroke="#f4a447" stroke-width="0.6"/>
<circle cx="228.66" cy="571.70" r="0.75" fill="#f4a447" stroke="none" stroke-width="1"/>
<circle cx="229.84" cy="561.52" r="0.75" fill="#f4a447" stroke="none" stroke-width="1"/>
<circle cx="228.45" cy="562.20" r="0.75" fill="#f4a447" stroke="none" stroke-width="1"/>
<circle cx="228.70" cy="561.52" r="0.75" fill="#f4a447" stroke="none" stroke-width="1"/>
<circle cx="228.75" cy="574.41" r="0.75" fill="#f4a447" stroke="none" stroke-width="1"/>
<circle cx="229.38" cy="562.72" r="0.75" fill="#f4a447" stroke="none" stroke-width="1"/>
<circle cx="229.01" cy="563.38" r="0.75" fill="#f4a447" stroke="none" stroke-width="1"/>
<rect x="233.05" y="553.17" width="5.70" height="26.53" fill="#b0d59c" stroke="none" stroke-width="1"/>
<line x1="235.90" y1="538.25" x2="235.90" y2="568.09" stroke="#68b65c" stroke-width="0.6"/>
<line x1="234.30" y1="538.25" x2="237.50" y2="538.25" stroke="#68b65c" stroke-width="0.6"/>
<circle cx="236.54" cy="554.76" r="0.75" fill="#68b65c" stroke="none" stroke-width="1"/>
<circle cx="235.46" cy="571.61" r="0.75" fill="#68b65c" stroke="none" stroke-width="1"/>
<circle cx="236.62" cy="542.70" r="0.75" fill="#68b65c" stroke="none" stroke-width="1"/>
<circle cx="236.11" cy="546.47" r="0.75" fill="#68b65c" stroke="none" stroke-width="1"/>
<circle cx="235.99" cy="567.91" r="0.75" fill="#68b65c" stroke="none" stroke-width="1"/>
<circle cx="235.27" cy="534.40" r="0.75" fill="#68b65c" stroke="none" stroke-width="1"/>
<circle cx="236.75" cy="544.57" r="0.75" fill="#68b65c" stroke="none" stroke-width="1"/>
<line x1="197.50" y1="497.50" x2="212.50" y2="497.50" stroke="#3c3c3c" stroke-width="1.05"/>
<circle cx="205.00" cy="493.70" r="1.1" fill="#333" stroke="none" stroke-width="1"/>
<line x1="205.00" y1="505.00" x2="212.50" y2="505.00" stroke="#3c3c3c" stroke-width="1.05"/>
<circle cx="208.75" cy="501.20" r="1.1" fill="#333" stroke="none" stroke-width="1"/>
<line x1="220.80" y1="510.50" x2="235.50" y2="510.50" stroke="#3c3c3c" stroke-width="1.05"/>
<circle cx="228.15" cy="506.70" r="1.1" fill="#333" stroke="none" stroke-width="1"/>
<line x1="228.00" y1="518.30" x2="235.50" y2="518.30" stroke="#3c3c3c" stroke-width="1.05"/>
<circle cx="231.75" cy="514.50" r="1.1" fill="#333" stroke="none" stroke-width="1"/>
<text x="71.9" y="591.2" font-size="7.4" text-anchor="end" fill="#2a2a2a" font-weight="normal" stroke="#2a2a2a" stroke-width="0.1" transform="rotate(-45 71.9 591.2)">KG-1</text>
<text x="94.8" y="591.2" font-size="7.4" text-anchor="end" fill="#2a2a2a" font-weight="normal" stroke="#2a2a2a" stroke-width="0.1" transform="rotate(-45 94.8 591.2)">AML#1</text>
<text x="117.7" y="591.2" font-size="7.4" text-anchor="end" fill="#2a2a2a" font-weight="normal" stroke="#2a2a2a" stroke-width="0.1" transform="rotate(-45 117.7 591.2)">AML#2</text>
<text x="140.59999999999997" y="591.2" font-size="7.4" text-anchor="end" fill="#2a2a2a" font-weight="normal" stroke="#2a2a2a" stroke-width="0.1" transform="rotate(-45 140.59999999999997 591.2)">AML#3</text>
<text x="163.5" y="591.2" font-size="7.4" text-anchor="end" fill="#2a2a2a" font-weight="normal" stroke="#2a2a2a" stroke-width="0.1" transform="rotate(-45 163.5 591.2)">KG-1</text>
<text x="186.39999999999998" y="591.2" font-size="7.4" text-anchor="end" fill="#2a2a2a" font-weight="normal" stroke="#2a2a2a" stroke-width="0.1" transform="rotate(-45 186.39999999999998 591.2)">AML#1</text>
<text x="209.29999999999995" y="591.2" font-size="7.4" text-anchor="end" fill="#2a2a2a" font-weight="normal" stroke="#2a2a2a" stroke-width="0.1" transform="rotate(-45 209.29999999999995 591.2)">AML#2</text>
<text x="232.2" y="591.2" font-size="7.4" text-anchor="end" fill="#2a2a2a" font-weight="normal" stroke="#2a2a2a" stroke-width="0.1" transform="rotate(-45 232.2 591.2)">AML#3</text>
<line x1="55.50" y1="613.20" x2="241.80" y2="613.20" stroke="#555" stroke-width="1.2"/>
<line x1="55.50" y1="609.20" x2="55.50" y2="613.80" stroke="#555" stroke-width="1.0"/>
<line x1="147.95" y1="609.20" x2="147.95" y2="613.80" stroke="#555" stroke-width="1.0"/>
<line x1="150.05" y1="609.20" x2="150.05" y2="613.80" stroke="#555" stroke-width="1.0"/>
<line x1="241.80" y1="609.20" x2="241.80" y2="613.80" stroke="#555" stroke-width="1.0"/>
<text x="101.725" y="623.1" font-size="7.6" text-anchor="middle" fill="#2a2a2a" font-weight="normal" stroke="#2a2a2a" stroke-width="0.1">w/o CXCL12</text>
<text x="195.025" y="623.1" font-size="7.6" text-anchor="middle" fill="#2a2a2a" font-weight="normal" stroke="#2a2a2a" stroke-width="0.1">200ng/ml CXCL12</text>
<text x="32.4" y="557.2" font-size="8.1" text-anchor="start" fill="#2a2a2a" stroke="#2a2a2a" stroke-width="0.1" transform="rotate(-90 32.4 557.2)">% of IFNγ<tspan font-size="5.2" dy="-3">+</tspan></text>
<line x1="305.50" y1="494.00" x2="305.50" y2="580.60" stroke="#1e1e1e" stroke-width="1.3"/>
<line x1="302.50" y1="580.00" x2="305.50" y2="580.00" stroke="#1e1e1e" stroke-width="1.2"/>
<text x="299.2" y="582.75" font-size="7.8" text-anchor="end" fill="#3a3a3a" font-weight="normal" stroke="#3a3a3a" stroke-width="0.1" stroke-opacity="0">0</text>
<line x1="302.50" y1="563.40" x2="305.50" y2="563.40" stroke="#1e1e1e" stroke-width="1.2"/>
<text x="299.2" y="566.15" font-size="7.8" text-anchor="end" fill="#3a3a3a" font-weight="normal" stroke="#3a3a3a" stroke-width="0.1" stroke-opacity="0">10</text>
<line x1="302.50" y1="546.80" x2="305.50" y2="546.80" stroke="#1e1e1e" stroke-width="1.2"/>
<text x="299.2" y="549.55" font-size="7.8" text-anchor="end" fill="#3a3a3a" font-weight="normal" stroke="#3a3a3a" stroke-width="0.1" stroke-opacity="0">20</text>
<line x1="302.50" y1="530.20" x2="305.50" y2="530.20" stroke="#1e1e1e" stroke-width="1.2"/>
<text x="299.2" y="532.95" font-size="7.8" text-anchor="end" fill="#3a3a3a" font-weight="normal" stroke="#3a3a3a" stroke-width="0.1" stroke-opacity="0">30</text>
<line x1="302.50" y1="513.60" x2="305.50" y2="513.60" stroke="#1e1e1e" stroke-width="1.2"/>
<text x="299.2" y="516.35" font-size="7.8" text-anchor="end" fill="#3a3a3a" font-weight="normal" stroke="#3a3a3a" stroke-width="0.1" stroke-opacity="0">40</text>
<line x1="302.50" y1="497.00" x2="305.50" y2="497.00" stroke="#1e1e1e" stroke-width="1.2"/>
<text x="299.2" y="499.75" font-size="7.8" text-anchor="end" fill="#3a3a3a" font-weight="normal" stroke="#3a3a3a" stroke-width="0.1" stroke-opacity="0">50</text>
<line x1="305.50" y1="580.00" x2="492.00" y2="580.00" stroke="#1e1e1e" stroke-width="1.3"/>
<line x1="318.40" y1="580.00" x2="318.40" y2="582.50" stroke="#1e1e1e" stroke-width="0.9"/>
<rect x="308.40" y="536.01" width="6.20" height="43.99" fill="#f7f9fc" stroke="#c2cde0" stroke-width="1.0"/>
<line x1="311.50" y1="521.07" x2="311.50" y2="550.95" stroke="#c2cde0" stroke-width="0.6"/>
<line x1="309.90" y1="521.07" x2="313.10" y2="521.07" stroke="#c2cde0" stroke-width="0.6"/>
<circle cx="311.13" cy="532.08" r="0.75" fill="#4f70b0" stroke="none" stroke-width="1"/>
<circle cx="310.50" cy="524.78" r="0.75" fill="#4f70b0" stroke="none" stroke-width="1"/>
<circle cx="311.81" cy="518.75" r="0.75" fill="#4f70b0" stroke="none" stroke-width="1"/>
<circle cx="311.52" cy="557.27" r="0.75" fill="#4f70b0" stroke="none" stroke-width="1"/>
<circle cx="311.71" cy="546.89" r="0.75" fill="#4f70b0" stroke="none" stroke-width="1"/>
<circle cx="310.74" cy="554.66" r="0.75" fill="#4f70b0" stroke="none" stroke-width="1"/>
<circle cx="310.77" cy="518.32" r="0.75" fill="#4f70b0" stroke="none" stroke-width="1"/>
<rect x="315.30" y="540.16" width="6.20" height="39.84" fill="#fffaf2" stroke="#f0d8c2" stroke-width="1.0"/>
<line x1="318.40" y1="526.88" x2="318.40" y2="553.44" stroke="#f0d8c2" stroke-width="0.6"/>
<line x1="316.80" y1="526.88" x2="320.00" y2="526.88" stroke="#f0d8c2" stroke-width="0.6"/>
<circle cx="317.79" cy="545.55" r="0.75" fill="#f4a447" stroke="none" stroke-width="1"/>
<circle cx="318.39" cy="534.52" r="0.75" fill="#f4a447" stroke="none" stroke-width="1"/>
<circle cx="319.06" cy="535.48" r="0.75" fill="#f4a447" stroke="none" stroke-width="1"/>
<circle cx="318.57" cy="552.37" r="0.75" fill="#f4a447" stroke="none" stroke-width="1"/>
<circle cx="318.10" cy="527.08" r="0.75" fill="#f4a447" stroke="none" stroke-width="1"/>
<circle cx="317.87" cy="545.30" r="0.75" fill="#f4a447" stroke="none" stroke-width="1"/>
<circle cx="318.59" cy="546.68" r="0.75" fill="#f4a447" stroke="none" stroke-width="1"/>
<rect x="322.20" y="533.52" width="6.20" height="46.48" fill="#f7fcf5" stroke="#c6e0c4" stroke-width="1.0"/>
<line x1="325.30" y1="515.26" x2="325.30" y2="551.78" stroke="#c6e0c4" stroke-width="0.6"/>
<line x1="323.70" y1="515.26" x2="326.90" y2="515.26" stroke="#c6e0c4" stroke-width="0.6"/>
<circle cx="326.16" cy="510.72" r="0.75" fill="#68b65c" stroke="none" stroke-width="1"/>
<circle cx="326.03" cy="548.72" r="0.75" fill="#68b65c" stroke="none" stroke-width="1"/>
<circle cx="324.94" cy="521.40" r="0.75" fill="#68b65c" stroke="none" stroke-width="1"/>
<circle cx="324.80" cy="526.97" r="0.75" fill="#68b65c" stroke="none" stroke-width="1"/>
<circle cx="326.16" cy="514.27" r="0.75" fill="#68b65c" stroke="none" stroke-width="1"/>
<circle cx="325.45" cy="522.83" r="0.75" fill="#68b65c" stroke="none" stroke-width="1"/>
<circle cx="324.78" cy="528.66" r="0.75" fill="#68b65c" stroke="none" stroke-width="1"/>
<line x1="341.39" y1="580.00" x2="341.39" y2="582.50" stroke="#1e1e1e" stroke-width="0.9"/>
<rect x="331.39" y="560.91" width="6.20" height="19.09" fill="#f7f9fc" stroke="#c2cde0" stroke-width="1.0"/>
<line x1="334.49" y1="555.93" x2="334.49" y2="565.89" stroke="#c2cde0" stroke-width="0.6"/>
<line x1="332.89" y1="555.93" x2="336.09" y2="555.93" stroke="#c2cde0" stroke-width="0.6"/>
<circle cx="334.48" cy="565.26" r="0.75" fill="#4f70b0" stroke="none" stroke-width="1"/>
<circle cx="334.92" cy="565.52" r="0.75" fill="#4f70b0" stroke="none" stroke-width="1"/>
<circle cx="334.18" cy="559.12" r="0.75" fill="#4f70b0" stroke="none" stroke-width="1"/>
<circle cx="333.91" cy="557.67" r="0.75" fill="#4f70b0" stroke="none" stroke-width="1"/>
<circle cx="333.67" cy="556.70" r="0.75" fill="#4f70b0" stroke="none" stroke-width="1"/>
<circle cx="334.52" cy="566.65" r="0.75" fill="#4f70b0" stroke="none" stroke-width="1"/>
<circle cx="335.37" cy="565.88" r="0.75" fill="#4f70b0" stroke="none" stroke-width="1"/>
<rect x="338.29" y="563.40" width="6.20" height="16.60" fill="#fffaf2" stroke="#f0d8c2" stroke-width="1.0"/>
<line x1="341.39" y1="560.08" x2="341.39" y2="566.72" stroke="#f0d8c2" stroke-width="0.6"/>
<line x1="339.79" y1="560.08" x2="342.99" y2="560.08" stroke="#f0d8c2" stroke-width="0.6"/>
<circle cx="342.38" cy="564.72" r="0.75" fill="#f4a447" stroke="none" stroke-width="1"/>
<circle cx="341.71" cy="568.19" r="0.75" fill="#f4a447" stroke="none" stroke-width="1"/>
<circle cx="341.63" cy="568.10" r="0.75" fill="#f4a447" stroke="none" stroke-width="1"/>
<circle cx="341.83" cy="561.61" r="0.75" fill="#f4a447" stroke="none" stroke-width="1"/>
<circle cx="341.32" cy="560.79" r="0.75" fill="#f4a447" stroke="none" stroke-width="1"/>
<circle cx="341.15" cy="563.12" r="0.75" fill="#f4a447" stroke="none" stroke-width="1"/>
<circle cx="340.98" cy="568.23" r="0.75" fill="#f4a447" stroke="none" stroke-width="1"/>
<rect x="345.19" y="560.08" width="6.20" height="19.92" fill="#f7fcf5" stroke="#c6e0c4" stroke-width="1.0"/>
<line x1="348.29" y1="553.44" x2="348.29" y2="566.72" stroke="#c6e0c4" stroke-width="0.6"/>
<line x1="346.69" y1="553.44" x2="349.89" y2="553.44" stroke="#c6e0c4" stroke-width="0.6"/>
<circle cx="347.31" cy="567.16" r="0.75" fill="#68b65c" stroke="none" stroke-width="1"/>
<circle cx="347.84" cy="563.09" r="0.75" fill="#68b65c" stroke="none" stroke-width="1"/>
<circle cx="348.55" cy="554.01" r="0.75" fill="#68b65c" stroke="none" stroke-width="1"/>
<circle cx="347.83" cy="558.68" r="0.75" fill="#68b65c" stroke="none" stroke-width="1"/>
<circle cx="347.44" cy="550.43" r="0.75" fill="#68b65c" stroke="none" stroke-width="1"/>
<circle cx="348.87" cy="565.07" r="0.75" fill="#68b65c" stroke="none" stroke-width="1"/>
<circle cx="349.18" cy="563.98" r="0.75" fill="#68b65c" stroke="none" stroke-width="1"/>
<line x1="364.38" y1="580.00" x2="364.38" y2="582.50" stroke="#1e1e1e" stroke-width="0.9"/>
<rect x="354.38" y="573.36" width="6.20" height="6.64" fill="#f7f9fc" stroke="#c2cde0" stroke-width="1.0"/>
<line x1="357.48" y1="568.38" x2="357.48" y2="578.34" stroke="#c2cde0" stroke-width="0.6"/>
<line x1="355.88" y1="568.38" x2="359.08" y2="568.38" stroke="#c2cde0" stroke-width="0.6"/>
<circle cx="358.03" cy="574.39" r="0.75" fill="#4f70b0" stroke="none" stroke-width="1"/>
<circle cx="357.88" cy="566.17" r="0.75" fill="#4f70b0" stroke="none" stroke-width="1"/>
<circle cx="357.52" cy="577.52" r="0.75" fill="#4f70b0" stroke="none" stroke-width="1"/>
<circle cx="358.43" cy="576.56" r="0.75" fill="#4f70b0" stroke="none" stroke-width="1"/>
<circle cx="357.46" cy="570.51" r="0.75" fill="#4f70b0" stroke="none" stroke-width="1"/>
<circle cx="358.39" cy="568.97" r="0.75" fill="#4f70b0" stroke="none" stroke-width="1"/>
<circle cx="357.93" cy="570.37" r="0.75" fill="#4f70b0" stroke="none" stroke-width="1"/>
<rect x="361.28" y="576.68" width="6.20" height="3.32" fill="#fffaf2" stroke="#f0d8c2" stroke-width="1.0"/>
<line x1="364.38" y1="573.36" x2="364.38" y2="580.00" stroke="#f0d8c2" stroke-width="0.6"/>
<line x1="362.78" y1="573.36" x2="365.98" y2="573.36" stroke="#f0d8c2" stroke-width="0.6"/>
<circle cx="364.00" cy="578.10" r="0.75" fill="#f4a447" stroke="none" stroke-width="1"/>
<circle cx="364.87" cy="578.22" r="0.75" fill="#f4a447" stroke="none" stroke-width="1"/>
<circle cx="364.90" cy="573.81" r="0.75" fill="#f4a447" stroke="none" stroke-width="1"/>
<circle cx="364.84" cy="574.49" r="0.75" fill="#f4a447" stroke="none" stroke-width="1"/>
<circle cx="365.35" cy="579.29" r="0.75" fill="#f4a447" stroke="none" stroke-width="1"/>
<circle cx="364.20" cy="576.61" r="0.75" fill="#f4a447" stroke="none" stroke-width="1"/>
<circle cx="364.66" cy="571.90" r="0.75" fill="#f4a447" stroke="none" stroke-width="1"/>
<rect x="368.18" y="573.36" width="6.20" height="6.64" fill="#f7fcf5" stroke="#c6e0c4" stroke-width="1.0"/>
<line x1="371.28" y1="570.04" x2="371.28" y2="576.68" stroke="#c6e0c4" stroke-width="0.6"/>
<line x1="369.68" y1="570.04" x2="372.88" y2="570.04" stroke="#c6e0c4" stroke-width="0.6"/>
<circle cx="371.78" cy="576.54" r="0.75" fill="#68b65c" stroke="none" stroke-width="1"/>
<circle cx="371.27" cy="577.76" r="0.75" fill="#68b65c" stroke="none" stroke-width="1"/>
<circle cx="371.81" cy="575.07" r="0.75" fill="#68b65c" stroke="none" stroke-width="1"/>
<circle cx="371.31" cy="568.66" r="0.75" fill="#68b65c" stroke="none" stroke-width="1"/>
<circle cx="371.38" cy="570.55" r="0.75" fill="#68b65c" stroke="none" stroke-width="1"/>
<circle cx="371.00" cy="577.96" r="0.75" fill="#68b65c" stroke="none" stroke-width="1"/>
<circle cx="370.63" cy="571.07" r="0.75" fill="#68b65c" stroke="none" stroke-width="1"/>
<line x1="387.37" y1="580.00" x2="387.37" y2="582.50" stroke="#1e1e1e" stroke-width="0.9"/>
<rect x="377.37" y="575.02" width="6.20" height="4.98" fill="#f7f9fc" stroke="#c2cde0" stroke-width="1.0"/>
<line x1="380.47" y1="570.04" x2="380.47" y2="580.00" stroke="#c2cde0" stroke-width="0.6"/>
<line x1="378.87" y1="570.04" x2="382.07" y2="570.04" stroke="#c2cde0" stroke-width="0.6"/>
<circle cx="380.29" cy="577.02" r="0.75" fill="#4f70b0" stroke="none" stroke-width="1"/>
<circle cx="381.23" cy="573.78" r="0.75" fill="#4f70b0" stroke="none" stroke-width="1"/>
<circle cx="379.68" cy="570.62" r="0.75" fill="#4f70b0" stroke="none" stroke-width="1"/>
<circle cx="380.69" cy="576.80" r="0.75" fill="#4f70b0" stroke="none" stroke-width="1"/>
<circle cx="381.40" cy="576.47" r="0.75" fill="#4f70b0" stroke="none" stroke-width="1"/>
<circle cx="381.08" cy="577.16" r="0.75" fill="#4f70b0" stroke="none" stroke-width="1"/>
<circle cx="380.75" cy="573.70" r="0.75" fill="#4f70b0" stroke="none" stroke-width="1"/>
<rect x="384.27" y="576.68" width="6.20" height="3.32" fill="#fffaf2" stroke="#f0d8c2" stroke-width="1.0"/>
<line x1="387.37" y1="573.36" x2="387.37" y2="580.00" stroke="#f0d8c2" stroke-width="0.6"/>
<line x1="385.77" y1="573.36" x2="388.97" y2="573.36" stroke="#f0d8c2" stroke-width="0.6"/>
<circle cx="387.14" cy="573.28" r="0.75" fill="#f4a447" stroke="none" stroke-width="1"/>
<circle cx="386.84" cy="572.26" r="0.75" fill="#f4a447" stroke="none" stroke-width="1"/>
<circle cx="386.80" cy="576.98" r="0.75" fill="#f4a447" stroke="none" stroke-width="1"/>
<circle cx="387.76" cy="571.91" r="0.75" fill="#f4a447" stroke="none" stroke-width="1"/>
<circle cx="387.67" cy="574.27" r="0.75" fill="#f4a447" stroke="none" stroke-width="1"/>
<circle cx="387.41" cy="575.11" r="0.75" fill="#f4a447" stroke="none" stroke-width="1"/>
<circle cx="386.70" cy="575.63" r="0.75" fill="#f4a447" stroke="none" stroke-width="1"/>
<rect x="391.17" y="576.68" width="6.20" height="3.32" fill="#f7fcf5" stroke="#c6e0c4" stroke-width="1.0"/>
<line x1="394.27" y1="573.36" x2="394.27" y2="580.00" stroke="#c6e0c4" stroke-width="0.6"/>
<line x1="392.67" y1="573.36" x2="395.87" y2="573.36" stroke="#c6e0c4" stroke-width="0.6"/>
<circle cx="394.70" cy="575.88" r="0.75" fill="#68b65c" stroke="none" stroke-width="1"/>
<circle cx="395.01" cy="576.38" r="0.75" fill="#68b65c" stroke="none" stroke-width="1"/>
<circle cx="394.00" cy="573.64" r="0.75" fill="#68b65c" stroke="none" stroke-width="1"/>
<circle cx="394.49" cy="579.12" r="0.75" fill="#68b65c" stroke="none" stroke-width="1"/>
<circle cx="394.38" cy="572.62" r="0.75" fill="#68b65c" stroke="none" stroke-width="1"/>
<circle cx="394.58" cy="576.92" r="0.75" fill="#68b65c" stroke="none" stroke-width="1"/>
<circle cx="394.45" cy="579.29" r="0.75" fill="#68b65c" stroke="none" stroke-width="1"/>
<line x1="410.36" y1="580.00" x2="410.36" y2="582.50" stroke="#1e1e1e" stroke-width="0.9"/>
<rect x="400.61" y="534.35" width="5.70" height="45.65" fill="#8e9cc2" stroke="none" stroke-width="1"/>
<line x1="403.46" y1="521.07" x2="403.46" y2="547.63" stroke="#4f70b0" stroke-width="0.6"/>
<line x1="401.86" y1="521.07" x2="405.06" y2="521.07" stroke="#4f70b0" stroke-width="0.6"/>
<circle cx="404.32" cy="524.06" r="0.75" fill="#4f70b0" stroke="none" stroke-width="1"/>
<circle cx="404.17" cy="516.63" r="0.75" fill="#4f70b0" stroke="none" stroke-width="1"/>
<circle cx="403.63" cy="518.89" r="0.75" fill="#4f70b0" stroke="none" stroke-width="1"/>
<circle cx="403.85" cy="518.88" r="0.75" fill="#4f70b0" stroke="none" stroke-width="1"/>
<circle cx="402.62" cy="534.86" r="0.75" fill="#4f70b0" stroke="none" stroke-width="1"/>
<circle cx="404.39" cy="536.11" r="0.75" fill="#4f70b0" stroke="none" stroke-width="1"/>
<circle cx="403.63" cy="523.25" r="0.75" fill="#4f70b0" stroke="none" stroke-width="1"/>
<rect x="407.51" y="535.18" width="5.70" height="44.82" fill="#f9c58c" stroke="none" stroke-width="1"/>
<line x1="410.36" y1="521.90" x2="410.36" y2="548.46" stroke="#f4a447" stroke-width="0.6"/>
<line x1="408.76" y1="521.90" x2="411.96" y2="521.90" stroke="#f4a447" stroke-width="0.6"/>
<circle cx="411.00" cy="528.42" r="0.75" fill="#f4a447" stroke="none" stroke-width="1"/>
<circle cx="410.71" cy="544.38" r="0.75" fill="#f4a447" stroke="none" stroke-width="1"/>
<circle cx="410.50" cy="542.57" r="0.75" fill="#f4a447" stroke="none" stroke-width="1"/>
<circle cx="410.66" cy="553.96" r="0.75" fill="#f4a447" stroke="none" stroke-width="1"/>
<circle cx="410.59" cy="520.95" r="0.75" fill="#f4a447" stroke="none" stroke-width="1"/>
<circle cx="410.74" cy="530.16" r="0.75" fill="#f4a447" stroke="none" stroke-width="1"/>
<circle cx="409.38" cy="539.12" r="0.75" fill="#f4a447" stroke="none" stroke-width="1"/>
<rect x="414.41" y="523.56" width="5.70" height="56.44" fill="#b0d59c" stroke="none" stroke-width="1"/>
<line x1="417.26" y1="508.62" x2="417.26" y2="538.50" stroke="#68b65c" stroke-width="0.6"/>
<line x1="415.66" y1="508.62" x2="418.86" y2="508.62" stroke="#68b65c" stroke-width="0.6"/>
<circle cx="417.60" cy="531.51" r="0.75" fill="#68b65c" stroke="none" stroke-width="1"/>
<circle cx="416.93" cy="528.06" r="0.75" fill="#68b65c" stroke="none" stroke-width="1"/>
<circle cx="416.81" cy="509.63" r="0.75" fill="#68b65c" stroke="none" stroke-width="1"/>
<circle cx="418.25" cy="506.98" r="0.75" fill="#68b65c" stroke="none" stroke-width="1"/>
<circle cx="417.18" cy="540.68" r="0.75" fill="#68b65c" stroke="none" stroke-width="1"/>
<circle cx="416.75" cy="526.91" r="0.75" fill="#68b65c" stroke="none" stroke-width="1"/>
<circle cx="416.96" cy="512.52" r="0.75" fill="#68b65c" stroke="none" stroke-width="1"/>
<line x1="433.35" y1="580.00" x2="433.35" y2="582.50" stroke="#1e1e1e" stroke-width="0.9"/>
<rect x="423.60" y="560.91" width="5.70" height="19.09" fill="#8e9cc2" stroke="none" stroke-width="1"/>
<line x1="426.45" y1="555.93" x2="426.45" y2="565.89" stroke="#4f70b0" stroke-width="0.6"/>
<line x1="424.85" y1="555.93" x2="428.05" y2="555.93" stroke="#4f70b0" stroke-width="0.6"/>
<circle cx="426.14" cy="563.20" r="0.75" fill="#4f70b0" stroke="none" stroke-width="1"/>
<circle cx="426.48" cy="560.12" r="0.75" fill="#4f70b0" stroke="none" stroke-width="1"/>
<circle cx="426.34" cy="564.51" r="0.75" fill="#4f70b0" stroke="none" stroke-width="1"/>
<circle cx="427.04" cy="556.81" r="0.75" fill="#4f70b0" stroke="none" stroke-width="1"/>
<circle cx="426.37" cy="563.63" r="0.75" fill="#4f70b0" stroke="none" stroke-width="1"/>
<circle cx="427.34" cy="559.77" r="0.75" fill="#4f70b0" stroke="none" stroke-width="1"/>
<circle cx="426.80" cy="554.50" r="0.75" fill="#4f70b0" stroke="none" stroke-width="1"/>
<rect x="430.50" y="563.40" width="5.70" height="16.60" fill="#f9c58c" stroke="none" stroke-width="1"/>
<line x1="433.35" y1="560.08" x2="433.35" y2="566.72" stroke="#f4a447" stroke-width="0.6"/>
<line x1="431.75" y1="560.08" x2="434.95" y2="560.08" stroke="#f4a447" stroke-width="0.6"/>
<circle cx="432.95" cy="565.62" r="0.75" fill="#f4a447" stroke="none" stroke-width="1"/>
<circle cx="432.35" cy="567.19" r="0.75" fill="#f4a447" stroke="none" stroke-width="1"/>
<circle cx="433.20" cy="561.96" r="0.75" fill="#f4a447" stroke="none" stroke-width="1"/>
<circle cx="432.43" cy="566.20" r="0.75" fill="#f4a447" stroke="none" stroke-width="1"/>
<circle cx="433.52" cy="566.84" r="0.75" fill="#f4a447" stroke="none" stroke-width="1"/>
<circle cx="433.05" cy="562.00" r="0.75" fill="#f4a447" stroke="none" stroke-width="1"/>
<circle cx="433.38" cy="560.00" r="0.75" fill="#f4a447" stroke="none" stroke-width="1"/>
<rect x="437.40" y="555.93" width="5.70" height="24.07" fill="#b0d59c" stroke="none" stroke-width="1"/>
<line x1="440.25" y1="550.95" x2="440.25" y2="560.91" stroke="#68b65c" stroke-width="0.6"/>
<line x1="438.65" y1="550.95" x2="441.85" y2="550.95" stroke="#68b65c" stroke-width="0.6"/>
<circle cx="439.27" cy="562.14" r="0.75" fill="#68b65c" stroke="none" stroke-width="1"/>
<circle cx="441.06" cy="548.82" r="0.75" fill="#68b65c" stroke="none" stroke-width="1"/>
<circle cx="439.34" cy="556.52" r="0.75" fill="#68b65c" stroke="none" stroke-width="1"/>
<circle cx="440.79" cy="553.33" r="0.75" fill="#68b65c" stroke="none" stroke-width="1"/>
<circle cx="439.74" cy="559.99" r="0.75" fill="#68b65c" stroke="none" stroke-width="1"/>
<circle cx="439.72" cy="551.53" r="0.75" fill="#68b65c" stroke="none" stroke-width="1"/>
<circle cx="439.82" cy="551.59" r="0.75" fill="#68b65c" stroke="none" stroke-width="1"/>
<line x1="456.34" y1="580.00" x2="456.34" y2="582.50" stroke="#1e1e1e" stroke-width="0.9"/>
<rect x="446.59" y="573.36" width="5.70" height="6.64" fill="#8e9cc2" stroke="none" stroke-width="1"/>
<line x1="449.44" y1="568.38" x2="449.44" y2="578.34" stroke="#4f70b0" stroke-width="0.6"/>
<line x1="447.84" y1="568.38" x2="451.04" y2="568.38" stroke="#4f70b0" stroke-width="0.6"/>
<circle cx="449.73" cy="577.34" r="0.75" fill="#4f70b0" stroke="none" stroke-width="1"/>
<circle cx="450.29" cy="574.88" r="0.75" fill="#4f70b0" stroke="none" stroke-width="1"/>
<circle cx="449.26" cy="579.33" r="0.75" fill="#4f70b0" stroke="none" stroke-width="1"/>
<circle cx="449.93" cy="574.35" r="0.75" fill="#4f70b0" stroke="none" stroke-width="1"/>
<circle cx="450.17" cy="567.00" r="0.75" fill="#4f70b0" stroke="none" stroke-width="1"/>
<circle cx="450.11" cy="575.14" r="0.75" fill="#4f70b0" stroke="none" stroke-width="1"/>
<circle cx="448.87" cy="572.32" r="0.75" fill="#4f70b0" stroke="none" stroke-width="1"/>
<rect x="453.49" y="575.02" width="5.70" height="4.98" fill="#f9c58c" stroke="none" stroke-width="1"/>
<line x1="456.34" y1="571.70" x2="456.34" y2="578.34" stroke="#f4a447" stroke-width="0.6"/>
<line x1="454.74" y1="571.70" x2="457.94" y2="571.70" stroke="#f4a447" stroke-width="0.6"/>
<circle cx="456.68" cy="577.85" r="0.75" fill="#f4a447" stroke="none" stroke-width="1"/>
<circle cx="455.43" cy="578.30" r="0.75" fill="#f4a447" stroke="none" stroke-width="1"/>
<circle cx="456.17" cy="571.16" r="0.75" fill="#f4a447" stroke="none" stroke-width="1"/>
<circle cx="455.57" cy="573.53" r="0.75" fill="#f4a447" stroke="none" stroke-width="1"/>
<circle cx="456.08" cy="575.36" r="0.75" fill="#f4a447" stroke="none" stroke-width="1"/>
<circle cx="455.64" cy="570.82" r="0.75" fill="#f4a447" stroke="none" stroke-width="1"/>
<circle cx="455.65" cy="571.37" r="0.75" fill="#f4a447" stroke="none" stroke-width="1"/>
<rect x="460.39" y="566.72" width="5.70" height="13.28" fill="#b0d59c" stroke="none" stroke-width="1"/>
<line x1="463.24" y1="560.08" x2="463.24" y2="573.36" stroke="#68b65c" stroke-width="0.6"/>
<line x1="461.64" y1="560.08" x2="464.84" y2="560.08" stroke="#68b65c" stroke-width="0.6"/>
<circle cx="463.07" cy="561.11" r="0.75" fill="#68b65c" stroke="none" stroke-width="1"/>
<circle cx="463.79" cy="574.86" r="0.75" fill="#68b65c" stroke="none" stroke-width="1"/>
<circle cx="464.13" cy="570.81" r="0.75" fill="#68b65c" stroke="none" stroke-width="1"/>
<circle cx="463.67" cy="560.32" r="0.75" fill="#68b65c" stroke="none" stroke-width="1"/>
<circle cx="463.32" cy="560.25" r="0.75" fill="#68b65c" stroke="none" stroke-width="1"/>
<circle cx="462.38" cy="576.07" r="0.75" fill="#68b65c" stroke="none" stroke-width="1"/>
<circle cx="462.76" cy="575.39" r="0.75" fill="#68b65c" stroke="none" stroke-width="1"/>
<line x1="479.33" y1="580.00" x2="479.33" y2="582.50" stroke="#1e1e1e" stroke-width="0.9"/>
<rect x="469.58" y="576.68" width="5.70" height="3.32" fill="#8e9cc2" stroke="none" stroke-width="1"/>
<line x1="472.43" y1="573.36" x2="472.43" y2="580.00" stroke="#4f70b0" stroke-width="0.6"/>
<line x1="470.83" y1="573.36" x2="474.03" y2="573.36" stroke="#4f70b0" stroke-width="0.6"/>
<circle cx="472.83" cy="573.46" r="0.75" fill="#4f70b0" stroke="none" stroke-width="1"/>
<circle cx="472.21" cy="577.22" r="0.75" fill="#4f70b0" stroke="none" stroke-width="1"/>
<circle cx="472.15" cy="574.40" r="0.75" fill="#4f70b0" stroke="none" stroke-width="1"/>
<circle cx="472.67" cy="573.02" r="0.75" fill="#4f70b0" stroke="none" stroke-width="1"/>
<circle cx="471.65" cy="577.10" r="0.75" fill="#4f70b0" stroke="none" stroke-width="1"/>
<circle cx="472.59" cy="575.27" r="0.75" fill="#4f70b0" stroke="none" stroke-width="1"/>
<circle cx="472.98" cy="578.03" r="0.75" fill="#4f70b0" stroke="none" stroke-width="1"/>
<rect x="476.48" y="576.68" width="5.70" height="3.32" fill="#f9c58c" stroke="none" stroke-width="1"/>
<line x1="479.33" y1="573.36" x2="479.33" y2="580.00" stroke="#f4a447" stroke-width="0.6"/>
<line x1="477.73" y1="573.36" x2="480.93" y2="573.36" stroke="#f4a447" stroke-width="0.6"/>
<circle cx="478.54" cy="575.97" r="0.75" fill="#f4a447" stroke="none" stroke-width="1"/>
<circle cx="478.99" cy="578.93" r="0.75" fill="#f4a447" stroke="none" stroke-width="1"/>
<circle cx="478.33" cy="573.79" r="0.75" fill="#f4a447" stroke="none" stroke-width="1"/>
<circle cx="480.05" cy="573.04" r="0.75" fill="#f4a447" stroke="none" stroke-width="1"/>
<circle cx="480.07" cy="574.16" r="0.75" fill="#f4a447" stroke="none" stroke-width="1"/>
<circle cx="480.08" cy="577.97" r="0.75" fill="#f4a447" stroke="none" stroke-width="1"/>
<circle cx="480.09" cy="572.82" r="0.75" fill="#f4a447" stroke="none" stroke-width="1"/>
<rect x="483.38" y="569.21" width="5.70" height="10.79" fill="#b0d59c" stroke="none" stroke-width="1"/>
<line x1="486.23" y1="564.23" x2="486.23" y2="574.19" stroke="#68b65c" stroke-width="0.6"/>
<line x1="484.63" y1="564.23" x2="487.83" y2="564.23" stroke="#68b65c" stroke-width="0.6"/>
<circle cx="485.65" cy="568.87" r="0.75" fill="#68b65c" stroke="none" stroke-width="1"/>
<circle cx="486.23" cy="574.76" r="0.75" fill="#68b65c" stroke="none" stroke-width="1"/>
<circle cx="487.13" cy="571.63" r="0.75" fill="#68b65c" stroke="none" stroke-width="1"/>
<circle cx="485.80" cy="565.11" r="0.75" fill="#68b65c" stroke="none" stroke-width="1"/>
<circle cx="486.03" cy="567.06" r="0.75" fill="#68b65c" stroke="none" stroke-width="1"/>
<circle cx="485.61" cy="575.90" r="0.75" fill="#68b65c" stroke="none" stroke-width="1"/>
<circle cx="486.34" cy="563.02" r="0.75" fill="#68b65c" stroke="none" stroke-width="1"/>
<line x1="403.00" y1="492.20" x2="417.00" y2="492.20" stroke="#3c3c3c" stroke-width="1.05"/>
<circle cx="410.00" cy="488.40" r="1.1" fill="#333" stroke="none" stroke-width="1"/>
<line x1="410.00" y1="499.60" x2="417.00" y2="499.60" stroke="#3c3c3c" stroke-width="1.05"/>
<circle cx="413.50" cy="495.80" r="1.1" fill="#333" stroke="none" stroke-width="1"/>
<line x1="425.70" y1="535.40" x2="439.50" y2="535.40" stroke="#3c3c3c" stroke-width="1.05"/>
<circle cx="432.60" cy="531.60" r="1.1" fill="#333" stroke="none" stroke-width="1"/>
<line x1="432.60" y1="542.80" x2="439.50" y2="542.80" stroke="#3c3c3c" stroke-width="1.05"/>
<circle cx="434.45" cy="539.00" r="1.1" fill="#333" stroke="none" stroke-width="1"/>
<circle cx="437.65" cy="539.00" r="1.1" fill="#333" stroke="none" stroke-width="1"/>
<line x1="448.80" y1="549.20" x2="462.00" y2="549.20" stroke="#3c3c3c" stroke-width="1.05"/>
<circle cx="453.80" cy="545.40" r="1.1" fill="#333" stroke="none" stroke-width="1"/>
<circle cx="457.00" cy="545.40" r="1.1" fill="#333" stroke="none" stroke-width="1"/>
<line x1="455.70" y1="556.20" x2="462.00" y2="556.20" stroke="#3c3c3c" stroke-width="1.05"/>
<circle cx="457.25" cy="552.40" r="1.1" fill="#333" stroke="none" stroke-width="1"/>
<circle cx="460.45" cy="552.40" r="1.1" fill="#333" stroke="none" stroke-width="1"/>
<line x1="471.60" y1="550.00" x2="485.00" y2="550.00" stroke="#3c3c3c" stroke-width="1.05"/>
<circle cx="476.70" cy="546.20" r="1.1" fill="#333" stroke="none" stroke-width="1"/>
<circle cx="479.90" cy="546.20" r="1.1" fill="#333" stroke="none" stroke-width="1"/>
<line x1="478.80" y1="557.30" x2="485.00" y2="557.30" stroke="#3c3c3c" stroke-width="1.05"/>
<circle cx="480.30" cy="553.50" r="1.1" fill="#333" stroke="none" stroke-width="1"/>
<circle cx="483.50" cy="553.50" r="1.1" fill="#333" stroke="none" stroke-width="1"/>
<text x="321.59999999999997" y="591.5" font-size="7.4" text-anchor="end" fill="#2a2a2a" font-weight="normal" stroke="#2a2a2a" stroke-width="0.1" transform="rotate(-45 321.59999999999997 591.5)">KG-1</text>
<text x="344.59" y="591.5" font-size="7.4" text-anchor="end" fill="#2a2a2a" font-weight="normal" stroke="#2a2a2a" stroke-width="0.1" transform="rotate(-45 344.59 591.5)">AML#1</text>
<text x="367.58" y="591.5" font-size="7.4" text-anchor="end" fill="#2a2a2a" font-weight="normal" stroke="#2a2a2a" stroke-width="0.1" transform="rotate(-45 367.58 591.5)">AML#2</text>
<text x="390.57" y="591.5" font-size="7.4" text-anchor="end" fill="#2a2a2a" font-weight="normal" stroke="#2a2a2a" stroke-width="0.1" transform="rotate(-45 390.57 591.5)">AML#3</text>
<text x="413.55999999999995" y="591.5" font-size="7.4" text-anchor="end" fill="#2a2a2a" font-weight="normal" stroke="#2a2a2a" stroke-width="0.1" transform="rotate(-45 413.55999999999995 591.5)">KG-1</text>
<text x="436.54999999999995" y="591.5" font-size="7.4" text-anchor="end" fill="#2a2a2a" font-weight="normal" stroke="#2a2a2a" stroke-width="0.1" transform="rotate(-45 436.54999999999995 591.5)">AML#1</text>
<text x="459.53999999999996" y="591.5" font-size="7.4" text-anchor="end" fill="#2a2a2a" font-weight="normal" stroke="#2a2a2a" stroke-width="0.1" transform="rotate(-45 459.53999999999996 591.5)">AML#2</text>
<text x="482.5299999999999" y="591.5" font-size="7.4" text-anchor="end" fill="#2a2a2a" font-weight="normal" stroke="#2a2a2a" stroke-width="0.1" transform="rotate(-45 482.5299999999999 591.5)">AML#3</text>
<line x1="305.30" y1="613.20" x2="492.00" y2="613.20" stroke="#555" stroke-width="1.2"/>
<line x1="305.30" y1="609.20" x2="305.30" y2="613.80" stroke="#555" stroke-width="1.0"/>
<line x1="397.96" y1="609.20" x2="397.96" y2="613.80" stroke="#555" stroke-width="1.0"/>
<line x1="400.06" y1="609.20" x2="400.06" y2="613.80" stroke="#555" stroke-width="1.0"/>
<line x1="492.00" y1="609.20" x2="492.00" y2="613.80" stroke="#555" stroke-width="1.0"/>
<text x="351.6325" y="622.9" font-size="7.6" text-anchor="middle" fill="#2a2a2a" font-weight="normal" stroke="#2a2a2a" stroke-width="0.1">w/o CXCL12</text>
<text x="445.1325" y="622.9" font-size="7.6" text-anchor="middle" fill="#2a2a2a" font-weight="normal" stroke="#2a2a2a" stroke-width="0.1">200ng/ml CXCL12</text>
<text x="282.6" y="554.6" font-size="7.6" text-anchor="start" fill="#2a2a2a" stroke="#2a2a2a" stroke-width="0.1" transform="rotate(-90 282.6 554.6)">% of IL-2<tspan font-size="5.2" dy="-3">+</tspan></text>
<line x1="51.50" y1="661.20" x2="51.50" y2="752.60" stroke="#1e1e1e" stroke-width="1.3"/>
<line x1="48.50" y1="752.00" x2="51.50" y2="752.00" stroke="#1e1e1e" stroke-width="1.2"/>
<text x="44.8" y="754.75" font-size="7.8" text-anchor="end" fill="#3a3a3a" font-weight="normal" stroke="#3a3a3a" stroke-width="0.1">20</text>
<line x1="48.50" y1="739.24" x2="51.50" y2="739.24" stroke="#1e1e1e" stroke-width="1.2"/>
<text x="44.8" y="741.9928571428571" font-size="7.8" text-anchor="end" fill="#3a3a3a" font-weight="normal" stroke="#3a3a3a" stroke-width="0.1">30</text>
<line x1="48.50" y1="726.49" x2="51.50" y2="726.49" stroke="#1e1e1e" stroke-width="1.2"/>
<text x="44.8" y="729.2357142857143" font-size="7.8" text-anchor="end" fill="#3a3a3a" font-weight="normal" stroke="#3a3a3a" stroke-width="0.1">40</text>
<line x1="48.50" y1="713.73" x2="51.50" y2="713.73" stroke="#1e1e1e" stroke-width="1.2"/>
<text x="44.8" y="716.4785714285714" font-size="7.8" text-anchor="end" fill="#3a3a3a" font-weight="normal" stroke="#3a3a3a" stroke-width="0.1">50</text>
<line x1="48.50" y1="700.97" x2="51.50" y2="700.97" stroke="#1e1e1e" stroke-width="1.2"/>
<text x="44.8" y="703.7214285714286" font-size="7.8" text-anchor="end" fill="#3a3a3a" font-weight="normal" stroke="#3a3a3a" stroke-width="0.1">60</text>
<line x1="48.50" y1="688.21" x2="51.50" y2="688.21" stroke="#1e1e1e" stroke-width="1.2"/>
<text x="44.8" y="690.9642857142858" font-size="7.8" text-anchor="end" fill="#3a3a3a" font-weight="normal" stroke="#3a3a3a" stroke-width="0.1">70</text>
<line x1="48.50" y1="675.46" x2="51.50" y2="675.46" stroke="#1e1e1e" stroke-width="1.2"/>
<text x="44.8" y="678.2071428571429" font-size="7.8" text-anchor="end" fill="#3a3a3a" font-weight="normal" stroke="#3a3a3a" stroke-width="0.1">80</text>
<line x1="48.50" y1="662.70" x2="51.50" y2="662.70" stroke="#1e1e1e" stroke-width="1.2"/>
<text x="44.8" y="665.45" font-size="7.8" text-anchor="end" fill="#3a3a3a" font-weight="normal" stroke="#3a3a3a" stroke-width="0.1">90</text>
<line x1="51.50" y1="752.00" x2="142.10" y2="752.00" stroke="#1e1e1e" stroke-width="1.3"/>
<line x1="51.50" y1="752.00" x2="51.50" y2="754.50" stroke="#1e1e1e" stroke-width="0.9"/>
<text x="51.5" y="765.8" font-size="7.8" text-anchor="middle" fill="#3a3a3a" font-weight="normal" stroke="#3a3a3a" stroke-width="0.1">0.00</text>
<line x1="73.65" y1="752.00" x2="73.65" y2="754.50" stroke="#1e1e1e" stroke-width="0.9"/>
<text x="73.65" y="765.8" font-size="7.8" text-anchor="middle" fill="#3a3a3a" font-weight="normal" stroke="#3a3a3a" stroke-width="0.1">0.25</text>
<line x1="95.80" y1="752.00" x2="95.80" y2="754.50" stroke="#1e1e1e" stroke-width="0.9"/>
<text x="95.8" y="765.8" font-size="7.8" text-anchor="middle" fill="#3a3a3a" font-weight="normal" stroke="#3a3a3a" stroke-width="0.1">0.50</text>
<line x1="117.95" y1="752.00" x2="117.95" y2="754.50" stroke="#1e1e1e" stroke-width="0.9"/>
<text x="117.94999999999999" y="765.8" font-size="7.8" text-anchor="middle" fill="#3a3a3a" font-weight="normal" stroke="#3a3a3a" stroke-width="0.1">0.75</text>
<line x1="140.10" y1="752.00" x2="140.10" y2="754.50" stroke="#1e1e1e" stroke-width="0.9"/>
<text x="140.1" y="765.8" font-size="7.8" text-anchor="middle" fill="#3a3a3a" font-weight="normal" stroke="#3a3a3a" stroke-width="0.1">1.00</text>
<text x="96.3" y="779.7" font-size="8.2" text-anchor="middle" fill="#2a2a2a" font-weight="normal" stroke="#2a2a2a" stroke-width="0.1" textLength="29.3" lengthAdjust="spacingAndGlyphs">E:T ratio</text>
<text x="95.0" y="657.6" font-size="8.6" text-anchor="middle" fill="#2a2a2a" font-weight="normal" stroke="#2a2a2a" stroke-width="0.1">KG-1</text>
<polyline points="62.58,723.93 73.65,704.80 95.80,689.49 140.10,675.46" fill="none" stroke="#3c5a9a" stroke-width="1.05"/>
<line x1="62.58" y1="717.56" x2="62.58" y2="730.31" stroke="#3c5a9a" stroke-width="0.6" opacity="0.7"/>
<line x1="61.08" y1="717.56" x2="64.08" y2="717.56" stroke="#3c5a9a" stroke-width="0.6" opacity="0.7"/>
<line x1="61.08" y1="730.31" x2="64.08" y2="730.31" stroke="#3c5a9a" stroke-width="0.6" opacity="0.7"/>
<line x1="73.65" y1="698.42" x2="73.65" y2="711.18" stroke="#3c5a9a" stroke-width="0.6" opacity="0.7"/>
<line x1="72.15" y1="698.42" x2="75.15" y2="698.42" stroke="#3c5a9a" stroke-width="0.6" opacity="0.7"/>
<line x1="72.15" y1="711.18" x2="75.15" y2="711.18" stroke="#3c5a9a" stroke-width="0.6" opacity="0.7"/>
<line x1="95.80" y1="680.56" x2="95.80" y2="698.42" stroke="#3c5a9a" stroke-width="0.6" opacity="0.7"/>
<line x1="94.30" y1="680.56" x2="97.30" y2="680.56" stroke="#3c5a9a" stroke-width="0.6" opacity="0.7"/>
<line x1="94.30" y1="698.42" x2="97.30" y2="698.42" stroke="#3c5a9a" stroke-width="0.6" opacity="0.7"/>
<line x1="140.10" y1="671.63" x2="140.10" y2="679.28" stroke="#3c5a9a" stroke-width="0.6" opacity="0.7"/>
<line x1="138.60" y1="671.63" x2="141.60" y2="671.63" stroke="#3c5a9a" stroke-width="0.6" opacity="0.7"/>
<line x1="138.60" y1="679.28" x2="141.60" y2="679.28" stroke="#3c5a9a" stroke-width="0.6" opacity="0.7"/>
<polyline points="62.58,713.73 73.65,695.87 95.80,684.39 140.10,675.46" fill="none" stroke="#5aaa55" stroke-width="1.05"/>
<line x1="62.58" y1="708.63" x2="62.58" y2="718.83" stroke="#5aaa55" stroke-width="0.6" opacity="0.7"/>
<line x1="61.08" y1="708.63" x2="64.08" y2="708.63" stroke="#5aaa55" stroke-width="0.6" opacity="0.7"/>
<line x1="61.08" y1="718.83" x2="64.08" y2="718.83" stroke="#5aaa55" stroke-width="0.6" opacity="0.7"/>
<line x1="73.65" y1="689.49" x2="73.65" y2="702.25" stroke="#5aaa55" stroke-width="0.6" opacity="0.7"/>
<line x1="72.15" y1="689.49" x2="75.15" y2="689.49" stroke="#5aaa55" stroke-width="0.6" opacity="0.7"/>
<line x1="72.15" y1="702.25" x2="75.15" y2="702.25" stroke="#5aaa55" stroke-width="0.6" opacity="0.7"/>
<line x1="95.80" y1="676.73" x2="95.80" y2="692.04" stroke="#5aaa55" stroke-width="0.6" opacity="0.7"/>
<line x1="94.30" y1="676.73" x2="97.30" y2="676.73" stroke="#5aaa55" stroke-width="0.6" opacity="0.7"/>
<line x1="94.30" y1="692.04" x2="97.30" y2="692.04" stroke="#5aaa55" stroke-width="0.6" opacity="0.7"/>
<line x1="140.10" y1="671.63" x2="140.10" y2="679.28" stroke="#5aaa55" stroke-width="0.6" opacity="0.7"/>
<line x1="138.60" y1="671.63" x2="141.60" y2="671.63" stroke="#5aaa55" stroke-width="0.6" opacity="0.7"/>
<line x1="138.60" y1="679.28" x2="141.60" y2="679.28" stroke="#5aaa55" stroke-width="0.6" opacity="0.7"/>
<polyline points="62.58,708.63 73.65,683.11 95.80,674.18 140.10,669.08" fill="none" stroke="#f5a540" stroke-width="1.05"/>
<line x1="62.58" y1="704.80" x2="62.58" y2="712.45" stroke="#f5a540" stroke-width="0.6" opacity="0.7"/>
<line x1="61.08" y1="704.80" x2="64.08" y2="704.80" stroke="#f5a540" stroke-width="0.6" opacity="0.7"/>
<line x1="61.08" y1="712.45" x2="64.08" y2="712.45" stroke="#f5a540" stroke-width="0.6" opacity="0.7"/>
<line x1="73.65" y1="676.73" x2="73.65" y2="689.49" stroke="#f5a540" stroke-width="0.6" opacity="0.7"/>
<line x1="72.15" y1="676.73" x2="75.15" y2="676.73" stroke="#f5a540" stroke-width="0.6" opacity="0.7"/>
<line x1="72.15" y1="689.49" x2="75.15" y2="689.49" stroke="#f5a540" stroke-width="0.6" opacity="0.7"/>
<line x1="95.80" y1="669.08" x2="95.80" y2="679.28" stroke="#f5a540" stroke-width="0.6" opacity="0.7"/>
<line x1="94.30" y1="669.08" x2="97.30" y2="669.08" stroke="#f5a540" stroke-width="0.6" opacity="0.7"/>
<line x1="94.30" y1="679.28" x2="97.30" y2="679.28" stroke="#f5a540" stroke-width="0.6" opacity="0.7"/>
<line x1="140.10" y1="665.25" x2="140.10" y2="672.91" stroke="#f5a540" stroke-width="0.6" opacity="0.7"/>
<line x1="138.60" y1="665.25" x2="141.60" y2="665.25" stroke="#f5a540" stroke-width="0.6" opacity="0.7"/>
<line x1="138.60" y1="672.91" x2="141.60" y2="672.91" stroke="#f5a540" stroke-width="0.6" opacity="0.7"/>
<circle cx="62.58" cy="699.06" r="0.95" fill="#333" stroke="none" stroke-width="1"/>
<circle cx="73.65" cy="674.82" r="0.95" fill="#333" stroke="none" stroke-width="1"/>
<text x="27.7" y="722.5" font-size="8.0" text-anchor="start" fill="#2a2a2a" font-weight="normal" stroke="#2a2a2a" stroke-width="0.1" transform="rotate(-90 27.7 722.5)">% of lysis</text>
<line x1="193.50" y1="661.20" x2="193.50" y2="752.60" stroke="#1e1e1e" stroke-width="1.3"/>
<line x1="190.50" y1="752.00" x2="193.50" y2="752.00" stroke="#1e1e1e" stroke-width="1.2"/>
<text x="186.8" y="754.75" font-size="7.8" text-anchor="end" fill="#3a3a3a" font-weight="normal" stroke="#3a3a3a" stroke-width="0.1">20</text>
<line x1="190.50" y1="739.24" x2="193.50" y2="739.24" stroke="#1e1e1e" stroke-width="1.2"/>
<text x="186.8" y="741.9928571428571" font-size="7.8" text-anchor="end" fill="#3a3a3a" font-weight="normal" stroke="#3a3a3a" stroke-width="0.1">30</text>
<line x1="190.50" y1="726.49" x2="193.50" y2="726.49" stroke="#1e1e1e" stroke-width="1.2"/>
<text x="186.8" y="729.2357142857143" font-size="7.8" text-anchor="end" fill="#3a3a3a" font-weight="normal" stroke="#3a3a3a" stroke-width="0.1">40</text>
<line x1="190.50" y1="713.73" x2="193.50" y2="713.73" stroke="#1e1e1e" stroke-width="1.2"/>
<text x="186.8" y="716.4785714285714" font-size="7.8" text-anchor="end" fill="#3a3a3a" font-weight="normal" stroke="#3a3a3a" stroke-width="0.1">50</text>
<line x1="190.50" y1="700.97" x2="193.50" y2="700.97" stroke="#1e1e1e" stroke-width="1.2"/>
<text x="186.8" y="703.7214285714286" font-size="7.8" text-anchor="end" fill="#3a3a3a" font-weight="normal" stroke="#3a3a3a" stroke-width="0.1">60</text>
<line x1="190.50" y1="688.21" x2="193.50" y2="688.21" stroke="#1e1e1e" stroke-width="1.2"/>
<text x="186.8" y="690.9642857142858" font-size="7.8" text-anchor="end" fill="#3a3a3a" font-weight="normal" stroke="#3a3a3a" stroke-width="0.1">70</text>
<line x1="190.50" y1="675.46" x2="193.50" y2="675.46" stroke="#1e1e1e" stroke-width="1.2"/>
<text x="186.8" y="678.2071428571429" font-size="7.8" text-anchor="end" fill="#3a3a3a" font-weight="normal" stroke="#3a3a3a" stroke-width="0.1">80</text>
<line x1="190.50" y1="662.70" x2="193.50" y2="662.70" stroke="#1e1e1e" stroke-width="1.2"/>
<text x="186.8" y="665.45" font-size="7.8" text-anchor="end" fill="#3a3a3a" font-weight="normal" stroke="#3a3a3a" stroke-width="0.1">90</text>
<line x1="193.50" y1="752.00" x2="284.40" y2="752.00" stroke="#1e1e1e" stroke-width="1.3"/>
<line x1="193.50" y1="752.00" x2="193.50" y2="754.50" stroke="#1e1e1e" stroke-width="0.9"/>
<text x="193.5" y="765.8" font-size="7.8" text-anchor="middle" fill="#3a3a3a" font-weight="normal" stroke="#3a3a3a" stroke-width="0.1">0.00</text>
<line x1="215.72" y1="752.00" x2="215.72" y2="754.50" stroke="#1e1e1e" stroke-width="0.9"/>
<text x="215.725" y="765.8" font-size="7.8" text-anchor="middle" fill="#3a3a3a" font-weight="normal" stroke="#3a3a3a" stroke-width="0.1">0.25</text>
<line x1="237.95" y1="752.00" x2="237.95" y2="754.50" stroke="#1e1e1e" stroke-width="0.9"/>
<text x="237.95" y="765.8" font-size="7.8" text-anchor="middle" fill="#3a3a3a" font-weight="normal" stroke="#3a3a3a" stroke-width="0.1">0.50</text>
<line x1="260.17" y1="752.00" x2="260.17" y2="754.50" stroke="#1e1e1e" stroke-width="0.9"/>
<text x="260.17499999999995" y="765.8" font-size="7.8" text-anchor="middle" fill="#3a3a3a" font-weight="normal" stroke="#3a3a3a" stroke-width="0.1">0.75</text>
<line x1="282.40" y1="752.00" x2="282.40" y2="754.50" stroke="#1e1e1e" stroke-width="0.9"/>
<text x="282.4" y="765.8" font-size="7.8" text-anchor="middle" fill="#3a3a3a" font-weight="normal" stroke="#3a3a3a" stroke-width="0.1">1.00</text>
<text x="238.45" y="779.7" font-size="8.2" text-anchor="middle" fill="#2a2a2a" font-weight="normal" stroke="#2a2a2a" stroke-width="0.1" textLength="29.3" lengthAdjust="spacingAndGlyphs">E:T ratio</text>
<text x="237.6" y="657.6" font-size="8.6" text-anchor="middle" fill="#2a2a2a" font-weight="normal" stroke="#2a2a2a" stroke-width="0.1">AML#1</text>
<polyline points="204.61,729.04 215.72,704.80 237.95,689.49 282.40,683.11" fill="none" stroke="#5aaa55" stroke-width="1.05"/>
<line x1="204.61" y1="723.93" x2="204.61" y2="734.14" stroke="#5aaa55" stroke-width="0.6" opacity="0.7"/>
<line x1="203.11" y1="723.93" x2="206.11" y2="723.93" stroke="#5aaa55" stroke-width="0.6" opacity="0.7"/>
<line x1="203.11" y1="734.14" x2="206.11" y2="734.14" stroke="#5aaa55" stroke-width="0.6" opacity="0.7"/>
<line x1="215.72" y1="698.42" x2="215.72" y2="711.18" stroke="#5aaa55" stroke-width="0.6" opacity="0.7"/>
<line x1="214.22" y1="698.42" x2="217.22" y2="698.42" stroke="#5aaa55" stroke-width="0.6" opacity="0.7"/>
<line x1="214.22" y1="711.18" x2="217.22" y2="711.18" stroke="#5aaa55" stroke-width="0.6" opacity="0.7"/>
<line x1="237.95" y1="685.66" x2="237.95" y2="693.32" stroke="#5aaa55" stroke-width="0.6" opacity="0.7"/>
<line x1="236.45" y1="685.66" x2="239.45" y2="685.66" stroke="#5aaa55" stroke-width="0.6" opacity="0.7"/>
<line x1="236.45" y1="693.32" x2="239.45" y2="693.32" stroke="#5aaa55" stroke-width="0.6" opacity="0.7"/>
<line x1="282.40" y1="679.28" x2="282.40" y2="686.94" stroke="#5aaa55" stroke-width="0.6" opacity="0.7"/>
<line x1="280.90" y1="679.28" x2="283.90" y2="679.28" stroke="#5aaa55" stroke-width="0.6" opacity="0.7"/>
<line x1="280.90" y1="686.94" x2="283.90" y2="686.94" stroke="#5aaa55" stroke-width="0.6" opacity="0.7"/>
<polyline points="204.61,723.93 215.72,698.42 237.95,688.21 282.40,680.56" fill="none" stroke="#3c5a9a" stroke-width="1.05"/>
<line x1="204.61" y1="718.83" x2="204.61" y2="729.04" stroke="#3c5a9a" stroke-width="0.6" opacity="0.7"/>
<line x1="203.11" y1="718.83" x2="206.11" y2="718.83" stroke="#3c5a9a" stroke-width="0.6" opacity="0.7"/>
<line x1="203.11" y1="729.04" x2="206.11" y2="729.04" stroke="#3c5a9a" stroke-width="0.6" opacity="0.7"/>
<line x1="215.72" y1="693.32" x2="215.72" y2="703.52" stroke="#3c5a9a" stroke-width="0.6" opacity="0.7"/>
<line x1="214.22" y1="693.32" x2="217.22" y2="693.32" stroke="#3c5a9a" stroke-width="0.6" opacity="0.7"/>
<line x1="214.22" y1="703.52" x2="217.22" y2="703.52" stroke="#3c5a9a" stroke-width="0.6" opacity="0.7"/>
<line x1="237.95" y1="684.39" x2="237.95" y2="692.04" stroke="#3c5a9a" stroke-width="0.6" opacity="0.7"/>
<line x1="236.45" y1="684.39" x2="239.45" y2="684.39" stroke="#3c5a9a" stroke-width="0.6" opacity="0.7"/>
<line x1="236.45" y1="692.04" x2="239.45" y2="692.04" stroke="#3c5a9a" stroke-width="0.6" opacity="0.7"/>
<line x1="282.40" y1="676.73" x2="282.40" y2="684.39" stroke="#3c5a9a" stroke-width="0.6" opacity="0.7"/>
<line x1="280.90" y1="676.73" x2="283.90" y2="676.73" stroke="#3c5a9a" stroke-width="0.6" opacity="0.7"/>
<line x1="280.90" y1="684.39" x2="283.90" y2="684.39" stroke="#3c5a9a" stroke-width="0.6" opacity="0.7"/>
<polyline points="204.61,712.45 215.72,693.32 237.95,681.84 282.40,675.46" fill="none" stroke="#f5a540" stroke-width="1.05"/>
<line x1="204.61" y1="708.63" x2="204.61" y2="716.28" stroke="#f5a540" stroke-width="0.6" opacity="0.7"/>
<line x1="203.11" y1="708.63" x2="206.11" y2="708.63" stroke="#f5a540" stroke-width="0.6" opacity="0.7"/>
<line x1="203.11" y1="716.28" x2="206.11" y2="716.28" stroke="#f5a540" stroke-width="0.6" opacity="0.7"/>
<line x1="215.72" y1="689.49" x2="215.72" y2="697.14" stroke="#f5a540" stroke-width="0.6" opacity="0.7"/>
<line x1="214.22" y1="689.49" x2="217.22" y2="689.49" stroke="#f5a540" stroke-width="0.6" opacity="0.7"/>
<line x1="214.22" y1="697.14" x2="217.22" y2="697.14" stroke="#f5a540" stroke-width="0.6" opacity="0.7"/>
<line x1="237.95" y1="676.73" x2="237.95" y2="686.94" stroke="#f5a540" stroke-width="0.6" opacity="0.7"/>
<line x1="236.45" y1="676.73" x2="239.45" y2="676.73" stroke="#f5a540" stroke-width="0.6" opacity="0.7"/>
<line x1="236.45" y1="686.94" x2="239.45" y2="686.94" stroke="#f5a540" stroke-width="0.6" opacity="0.7"/>
<line x1="282.40" y1="671.63" x2="282.40" y2="679.28" stroke="#f5a540" stroke-width="0.6" opacity="0.7"/>
<line x1="280.90" y1="671.63" x2="283.90" y2="671.63" stroke="#f5a540" stroke-width="0.6" opacity="0.7"/>
<line x1="280.90" y1="679.28" x2="283.90" y2="679.28" stroke="#f5a540" stroke-width="0.6" opacity="0.7"/>
<circle cx="204.61" cy="704.16" r="0.95" fill="#333" stroke="none" stroke-width="1"/>
<text x="170.1" y="722.5" font-size="8.0" text-anchor="start" fill="#2a2a2a" font-weight="normal" stroke="#2a2a2a" stroke-width="0.1" transform="rotate(-90 170.1 722.5)">% of lysis</text>
<line x1="338.90" y1="659.70" x2="338.90" y2="752.10" stroke="#1e1e1e" stroke-width="1.3"/>
<line x1="335.90" y1="751.50" x2="338.90" y2="751.50" stroke="#1e1e1e" stroke-width="1.2"/>
<text x="331.9" y="754.25" font-size="7.8" text-anchor="end" fill="#3a3a3a" font-weight="normal" stroke="#3a3a3a" stroke-width="0.1" stroke-opacity="0">0</text>
<line x1="335.90" y1="740.40" x2="338.90" y2="740.40" stroke="#1e1e1e" stroke-width="1.2"/>
<text x="331.9" y="743.15" font-size="7.8" text-anchor="end" fill="#3a3a3a" font-weight="normal" stroke="#3a3a3a" stroke-width="0.1" stroke-opacity="0">10</text>
<line x1="335.90" y1="729.30" x2="338.90" y2="729.30" stroke="#1e1e1e" stroke-width="1.2"/>
<text x="331.9" y="732.05" font-size="7.8" text-anchor="end" fill="#3a3a3a" font-weight="normal" stroke="#3a3a3a" stroke-width="0.1" stroke-opacity="0">20</text>
<line x1="335.90" y1="718.20" x2="338.90" y2="718.20" stroke="#1e1e1e" stroke-width="1.2"/>
<text x="331.9" y="720.95" font-size="7.8" text-anchor="end" fill="#3a3a3a" font-weight="normal" stroke="#3a3a3a" stroke-width="0.1" stroke-opacity="0">30</text>
<line x1="335.90" y1="707.10" x2="338.90" y2="707.10" stroke="#1e1e1e" stroke-width="1.2"/>
<text x="331.9" y="709.85" font-size="7.8" text-anchor="end" fill="#3a3a3a" font-weight="normal" stroke="#3a3a3a" stroke-width="0.1" stroke-opacity="0">40</text>
<line x1="335.90" y1="696.00" x2="338.90" y2="696.00" stroke="#1e1e1e" stroke-width="1.2"/>
<text x="331.9" y="698.75" font-size="7.8" text-anchor="end" fill="#3a3a3a" font-weight="normal" stroke="#3a3a3a" stroke-width="0.1" stroke-opacity="0">50</text>
<line x1="335.90" y1="684.90" x2="338.90" y2="684.90" stroke="#1e1e1e" stroke-width="1.2"/>
<text x="331.9" y="687.65" font-size="7.8" text-anchor="end" fill="#3a3a3a" font-weight="normal" stroke="#3a3a3a" stroke-width="0.1" stroke-opacity="0">60</text>
<line x1="335.90" y1="673.80" x2="338.90" y2="673.80" stroke="#1e1e1e" stroke-width="1.2"/>
<text x="331.9" y="676.55" font-size="7.8" text-anchor="end" fill="#3a3a3a" font-weight="normal" stroke="#3a3a3a" stroke-width="0.1" stroke-opacity="0">70</text>
<line x1="335.90" y1="662.70" x2="338.90" y2="662.70" stroke="#1e1e1e" stroke-width="1.2"/>
<text x="331.9" y="665.45" font-size="7.8" text-anchor="end" fill="#3a3a3a" font-weight="normal" stroke="#3a3a3a" stroke-width="0.1" stroke-opacity="0">80</text>
<line x1="338.90" y1="751.50" x2="398.50" y2="751.50" stroke="#1e1e1e" stroke-width="1.3"/>
<text x="368.8" y="657.9" font-size="8.6" text-anchor="middle" fill="#2a2a2a" font-weight="normal" stroke="#2a2a2a" stroke-width="0.1">AML#1</text>
<rect x="345.80" y="721.53" width="10.70" height="29.97" fill="#8e9cc2" stroke="none" stroke-width="0"/>
<line x1="351.15" y1="715.98" x2="351.15" y2="727.08" stroke="#4f70b0" stroke-width="0.8"/>
<line x1="348.65" y1="715.98" x2="353.65" y2="715.98" stroke="#4f70b0" stroke-width="0.8"/>
<rect x="363.80" y="694.34" width="10.90" height="57.17" fill="#f9c58c" stroke="none" stroke-width="0"/>
<line x1="369.25" y1="682.12" x2="369.25" y2="706.54" stroke="#f4a447" stroke-width="0.8"/>
<line x1="366.75" y1="682.12" x2="371.75" y2="682.12" stroke="#f4a447" stroke-width="0.8"/>
<rect x="381.80" y="712.65" width="10.90" height="38.85" fill="#b0d59c" stroke="none" stroke-width="0"/>
<line x1="387.25" y1="703.77" x2="387.25" y2="721.53" stroke="#68b65c" stroke-width="0.8"/>
<line x1="384.75" y1="703.77" x2="389.75" y2="703.77" stroke="#68b65c" stroke-width="0.8"/>
<circle cx="351.10" cy="707.65" r="1.7" fill="#fff" stroke="#4f70b0" stroke-width="0.9"/>
<circle cx="351.10" cy="718.20" r="1.7" fill="#fff" stroke="#4f70b0" stroke-width="0.9"/>
<circle cx="351.10" cy="721.53" r="1.7" fill="#fff" stroke="#4f70b0" stroke-width="0.9"/>
<circle cx="351.10" cy="723.75" r="1.7" fill="#fff" stroke="#4f70b0" stroke-width="0.9"/>
<circle cx="351.10" cy="727.08" r="1.7" fill="#fff" stroke="#4f70b0" stroke-width="0.9"/>
<circle cx="351.10" cy="728.75" r="1.7" fill="#fff" stroke="#4f70b0" stroke-width="0.9"/>
<circle cx="369.20" cy="672.69" r="1.7" fill="#fff" stroke="#f4a447" stroke-width="0.9"/>
<circle cx="369.20" cy="682.68" r="1.7" fill="#fff" stroke="#f4a447" stroke-width="0.9"/>
<circle cx="369.20" cy="684.90" r="1.7" fill="#fff" stroke="#f4a447" stroke-width="0.9"/>
<circle cx="369.20" cy="693.78" r="1.7" fill="#fff" stroke="#f4a447" stroke-width="0.9"/>
<circle cx="369.20" cy="696.00" r="1.7" fill="#fff" stroke="#f4a447" stroke-width="0.9"/>
<circle cx="369.20" cy="702.66" r="1.7" fill="#fff" stroke="#f4a447" stroke-width="0.9"/>
<circle cx="369.20" cy="712.65" r="1.7" fill="#fff" stroke="#f4a447" stroke-width="0.9"/>
<circle cx="387.20" cy="697.11" r="1.7" fill="#fff" stroke="#68b65c" stroke-width="0.9"/>
<circle cx="387.20" cy="703.77" r="1.7" fill="#fff" stroke="#68b65c" stroke-width="0.9"/>
<circle cx="387.20" cy="707.10" r="1.7" fill="#fff" stroke="#68b65c" stroke-width="0.9"/>
<circle cx="387.20" cy="712.65" r="1.7" fill="#fff" stroke="#68b65c" stroke-width="0.9"/>
<circle cx="387.20" cy="718.20" r="1.7" fill="#fff" stroke="#68b65c" stroke-width="0.9"/>
<circle cx="387.20" cy="727.08" r="1.7" fill="#fff" stroke="#68b65c" stroke-width="0.9"/>
<circle cx="387.20" cy="731.52" r="1.7" fill="#fff" stroke="#68b65c" stroke-width="0.9"/>
<line x1="351.20" y1="669.20" x2="367.30" y2="669.20" stroke="#3c3c3c" stroke-width="1.05"/>
<circle cx="357.65" cy="665.40" r="1.1" fill="#333" stroke="none" stroke-width="1"/>
<circle cx="360.85" cy="665.40" r="1.1" fill="#333" stroke="none" stroke-width="1"/>
<line x1="372.00" y1="669.20" x2="388.00" y2="669.20" stroke="#3c3c3c" stroke-width="1.05"/>
<circle cx="380.00" cy="665.40" r="1.1" fill="#333" stroke="none" stroke-width="1"/>
<text x="315.8" y="723.0" font-size="7.8" text-anchor="start" fill="#2a2a2a" font-weight="normal" stroke="#2a2a2a" stroke-width="0.1" transform="rotate(-90 315.8 723.0)">% of lysis</text>
<line x1="438.10" y1="659.70" x2="438.10" y2="752.10" stroke="#1e1e1e" stroke-width="1.3"/>
<line x1="435.10" y1="751.50" x2="438.10" y2="751.50" stroke="#1e1e1e" stroke-width="1.2"/>
<text x="431.1" y="754.25" font-size="7.8" text-anchor="end" fill="#3a3a3a" font-weight="normal" stroke="#3a3a3a" stroke-width="0.1" stroke-opacity="0">0</text>
<line x1="435.10" y1="736.70" x2="438.10" y2="736.70" stroke="#1e1e1e" stroke-width="1.2"/>
<text x="431.1" y="739.45" font-size="7.8" text-anchor="end" fill="#3a3a3a" font-weight="normal" stroke="#3a3a3a" stroke-width="0.1" stroke-opacity="0">10</text>
<line x1="435.10" y1="721.90" x2="438.10" y2="721.90" stroke="#1e1e1e" stroke-width="1.2"/>
<text x="431.1" y="724.65" font-size="7.8" text-anchor="end" fill="#3a3a3a" font-weight="normal" stroke="#3a3a3a" stroke-width="0.1" stroke-opacity="0">20</text>
<line x1="435.10" y1="707.10" x2="438.10" y2="707.10" stroke="#1e1e1e" stroke-width="1.2"/>
<text x="431.1" y="709.85" font-size="7.8" text-anchor="end" fill="#3a3a3a" font-weight="normal" stroke="#3a3a3a" stroke-width="0.1" stroke-opacity="0">30</text>
<line x1="435.10" y1="692.30" x2="438.10" y2="692.30" stroke="#1e1e1e" stroke-width="1.2"/>
<text x="431.1" y="695.05" font-size="7.8" text-anchor="end" fill="#3a3a3a" font-weight="normal" stroke="#3a3a3a" stroke-width="0.1" stroke-opacity="0">40</text>
<line x1="435.10" y1="677.50" x2="438.10" y2="677.50" stroke="#1e1e1e" stroke-width="1.2"/>
<text x="431.1" y="680.25" font-size="7.8" text-anchor="end" fill="#3a3a3a" font-weight="normal" stroke="#3a3a3a" stroke-width="0.1" stroke-opacity="0">50</text>
<line x1="435.10" y1="662.70" x2="438.10" y2="662.70" stroke="#1e1e1e" stroke-width="1.2"/>
<text x="431.1" y="665.45" font-size="7.8" text-anchor="end" fill="#3a3a3a" font-weight="normal" stroke="#3a3a3a" stroke-width="0.1" stroke-opacity="0">60</text>
<line x1="438.10" y1="751.50" x2="498.00" y2="751.50" stroke="#1e1e1e" stroke-width="1.3"/>
<text x="468.1" y="657.9" font-size="8.6" text-anchor="middle" fill="#2a2a2a" font-weight="normal" stroke="#2a2a2a" stroke-width="0.1">AML#2</text>
<rect x="444.30" y="715.24" width="11.10" height="36.26" fill="#8e9cc2" stroke="none" stroke-width="0"/>
<line x1="449.85" y1="700.44" x2="449.85" y2="730.04" stroke="#4f70b0" stroke-width="0.8"/>
<line x1="447.35" y1="700.44" x2="452.35" y2="700.44" stroke="#4f70b0" stroke-width="0.8"/>
<rect x="462.30" y="697.48" width="11.50" height="54.02" fill="#f9c58c" stroke="none" stroke-width="0"/>
<line x1="468.05" y1="687.12" x2="468.05" y2="707.84" stroke="#f4a447" stroke-width="0.8"/>
<line x1="465.55" y1="687.12" x2="470.55" y2="687.12" stroke="#f4a447" stroke-width="0.8"/>
<rect x="480.30" y="710.80" width="11.30" height="40.70" fill="#b0d59c" stroke="none" stroke-width="0"/>
<line x1="485.95" y1="701.92" x2="485.95" y2="719.68" stroke="#68b65c" stroke-width="0.8"/>
<line x1="483.45" y1="701.92" x2="488.45" y2="701.92" stroke="#68b65c" stroke-width="0.8"/>
<circle cx="449.80" cy="682.68" r="1.7" fill="#fff" stroke="#4f70b0" stroke-width="0.9"/>
<circle cx="449.80" cy="713.02" r="1.7" fill="#fff" stroke="#4f70b0" stroke-width="0.9"/>
<circle cx="449.80" cy="715.98" r="1.7" fill="#fff" stroke="#4f70b0" stroke-width="0.9"/>
<circle cx="449.80" cy="718.94" r="1.7" fill="#fff" stroke="#4f70b0" stroke-width="0.9"/>
<circle cx="449.80" cy="721.90" r="1.7" fill="#fff" stroke="#4f70b0" stroke-width="0.9"/>
<circle cx="449.80" cy="724.86" r="1.7" fill="#fff" stroke="#4f70b0" stroke-width="0.9"/>
<circle cx="449.80" cy="730.78" r="1.7" fill="#fff" stroke="#4f70b0" stroke-width="0.9"/>
<circle cx="468.00" cy="679.72" r="1.7" fill="#fff" stroke="#f4a447" stroke-width="0.9"/>
<circle cx="468.00" cy="684.16" r="1.7" fill="#fff" stroke="#f4a447" stroke-width="0.9"/>
<circle cx="468.00" cy="689.34" r="1.7" fill="#fff" stroke="#f4a447" stroke-width="0.9"/>
<circle cx="468.00" cy="695.26" r="1.7" fill="#fff" stroke="#f4a447" stroke-width="0.9"/>
<circle cx="468.00" cy="699.70" r="1.7" fill="#fff" stroke="#f4a447" stroke-width="0.9"/>
<circle cx="468.00" cy="704.14" r="1.7" fill="#fff" stroke="#f4a447" stroke-width="0.9"/>
<circle cx="468.00" cy="708.58" r="1.7" fill="#fff" stroke="#f4a447" stroke-width="0.9"/>
<circle cx="486.00" cy="693.78" r="1.7" fill="#fff" stroke="#68b65c" stroke-width="0.9"/>
<circle cx="486.00" cy="696.74" r="1.7" fill="#fff" stroke="#68b65c" stroke-width="0.9"/>
<circle cx="486.00" cy="702.66" r="1.7" fill="#fff" stroke="#68b65c" stroke-width="0.9"/>
<circle cx="486.00" cy="710.06" r="1.7" fill="#fff" stroke="#68b65c" stroke-width="0.9"/>
<circle cx="486.00" cy="713.02" r="1.7" fill="#fff" stroke="#68b65c" stroke-width="0.9"/>
<circle cx="486.00" cy="718.94" r="1.7" fill="#fff" stroke="#68b65c" stroke-width="0.9"/>
<circle cx="486.00" cy="721.90" r="1.7" fill="#fff" stroke="#68b65c" stroke-width="0.9"/>
<line x1="450.80" y1="674.20" x2="467.00" y2="674.20" stroke="#3c3c3c" stroke-width="1.05"/>
<circle cx="457.30" cy="670.40" r="1.1" fill="#333" stroke="none" stroke-width="1"/>
<circle cx="460.50" cy="670.40" r="1.1" fill="#333" stroke="none" stroke-width="1"/>
<line x1="469.70" y1="674.20" x2="487.20" y2="674.20" stroke="#3c3c3c" stroke-width="1.05"/>
<circle cx="476.85" cy="670.40" r="1.1" fill="#333" stroke="none" stroke-width="1"/>
<circle cx="480.05" cy="670.40" r="1.1" fill="#333" stroke="none" stroke-width="1"/>
<text x="414.6" y="723.0" font-size="7.8" text-anchor="start" fill="#2a2a2a" font-weight="normal" stroke="#2a2a2a" stroke-width="0.1" transform="rotate(-90 414.6 723.0)">% of lysis</text>
</svg></body></html>
